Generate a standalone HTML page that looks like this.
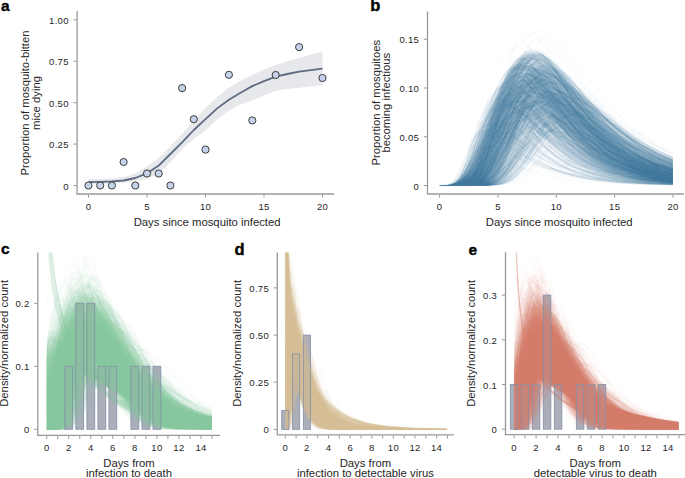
<!DOCTYPE html>
<html><head><meta charset="utf-8"><style>
html,body{margin:0;padding:0;background:#fff;}
body{width:685px;height:478px;overflow:hidden;}
svg{display:block;}
text{font-family:"Liberation Sans", sans-serif;fill:#262626;}
.tl{font-size:9.5px;letter-spacing:.3px;}
.al{font-size:11.3px;}
.pl{font-weight:bold;fill:#000;stroke:#000;stroke-width:.35px;}
.ax{fill:none;stroke:#999999;stroke-width:1.3;}
.tk{fill:none;stroke:#999999;stroke-width:1;}
.pt{fill:#c5d2ea;stroke:#2a2a2a;stroke-width:.9;}
.bu{fill:#a2a8b4;}
.bo{fill:#c8c8d2;fill-opacity:.22;stroke:#8590a6;stroke-opacity:.8;stroke-width:1;}
</style></head>
<body><svg width="685" height="478" viewBox="0 0 685 478">
<polygon points="88.5,178.9 100.2,178.9 111.9,178.5 123.6,177.2 135.3,173.4 147.0,166.4 158.7,158.2 170.4,146.6 182.1,134.1 193.8,120.9 205.5,108.0 217.2,96.9 228.9,87.7 240.6,80.8 252.3,75.0 264.0,69.5 275.7,65.0 287.4,61.2 299.1,57.9 310.8,54.6 322.5,51.3 322.5,85.4 310.8,86.6 299.1,87.7 287.4,89.1 275.7,91.1 264.0,95.2 252.3,100.5 240.6,104.3 228.9,110.4 217.2,119.2 205.5,130.5 193.8,139.1 182.1,149.0 170.4,162.3 158.7,173.9 147.0,178.9 135.3,181.0 123.6,182.8 111.9,183.5 100.2,183.7 88.5,183.8" fill="#e7e8eb"/>
<polyline points="88.5,182.2 100.2,181.9 111.9,181.4 123.6,180.5 135.3,178.0 147.0,173.4 158.7,165.6 170.4,154.0 182.1,142.4 193.8,130.0 205.5,119.2 217.2,108.4 228.9,99.7 240.6,92.7 252.3,86.1 264.0,81.1 275.7,76.6 287.4,74.0 299.1,71.7 310.8,70.2 322.5,68.7" fill="none" stroke="#5d6b80" stroke-width="1.8" stroke-linejoin="round"/>
<circle cx="88.5" cy="185.5" r="3.6" class="pt"/>
<circle cx="100.2" cy="185.5" r="3.6" class="pt"/>
<circle cx="111.9" cy="185.5" r="3.6" class="pt"/>
<circle cx="123.6" cy="162.0" r="3.6" class="pt"/>
<circle cx="135.3" cy="185.5" r="3.6" class="pt"/>
<circle cx="147.0" cy="173.5" r="3.6" class="pt"/>
<circle cx="158.7" cy="173.5" r="3.6" class="pt"/>
<circle cx="170.4" cy="185.5" r="3.6" class="pt"/>
<circle cx="182.1" cy="88.1" r="3.6" class="pt"/>
<circle cx="193.8" cy="119.2" r="3.6" class="pt"/>
<circle cx="205.5" cy="149.6" r="3.6" class="pt"/>
<circle cx="228.9" cy="74.8" r="3.6" class="pt"/>
<circle cx="252.3" cy="120.4" r="3.6" class="pt"/>
<circle cx="275.7" cy="75.0" r="3.6" class="pt"/>
<circle cx="299.1" cy="47.1" r="3.6" class="pt"/>
<circle cx="322.5" cy="78.0" r="3.6" class="pt"/>
<path d="M77.1 11V194.6M76.4 194H334.2" class="ax"/>
<path d="M73.4 185.5H77.1" class="tk"/>
<text x="68.8" y="189.5" class="tl" text-anchor="end">0</text>
<path d="M73.4 144.1H77.1" class="tk"/>
<text x="68.8" y="148.1" class="tl" text-anchor="end">0.25</text>
<path d="M73.4 102.7H77.1" class="tk"/>
<text x="68.8" y="106.7" class="tl" text-anchor="end">0.50</text>
<path d="M73.4 61.2H77.1" class="tk"/>
<text x="68.8" y="65.2" class="tl" text-anchor="end">0.75</text>
<path d="M73.4 19.8H77.1" class="tk"/>
<text x="68.8" y="23.8" class="tl" text-anchor="end">1.00</text>
<path d="M88.5 194.6v3.1" class="tk"/>
<text x="88.5" y="210.0" class="tl" text-anchor="middle">0</text>
<path d="M147.0 194.6v3.1" class="tk"/>
<text x="147.0" y="210.0" class="tl" text-anchor="middle">5</text>
<path d="M205.5 194.6v3.1" class="tk"/>
<text x="205.5" y="210.0" class="tl" text-anchor="middle">10</text>
<path d="M264.0 194.6v3.1" class="tk"/>
<text x="264.0" y="210.0" class="tl" text-anchor="middle">15</text>
<path d="M322.5 194.6v3.1" class="tk"/>
<text x="322.5" y="210.0" class="tl" text-anchor="middle">20</text>
<text x="207.1" y="226.2" class="al" text-anchor="middle">Days since mosquito infected</text>
<text transform="translate(28.8,103) rotate(-90)" class="al" text-anchor="middle">Proportion of mosquito-bitten</text>
<text transform="translate(40.2,103) rotate(-90)" class="al" text-anchor="middle">mice dying</text>
<text x="1.0" y="10.9" class="pl" font-size="15.5">a</text>
<clipPath id="kb"><rect x="438.6" y="0" width="234.39999999999998" height="195"/></clipPath>
<g clip-path="url(#kb)" fill="#336f97">
<path fill-opacity="0.050" fill-rule="evenodd" d="M494.8 185.8l-6.6 .4-48.4 0-.5-1 .5-.4 6.1 0 3.4-1 4-3.6 3-4.4 8-17 7.3-21 8-20.6 7.2-14.4 6.9-22.6 5.9-15.4 3-6 4.1-6 3.1-3.1 3.5-1.9 3.8-9.6 3-5 3.5-3.4 2.6-1.1 3.6 .5 4 2.6 4.4-.8 5.6 .6 5 2.1 5 3.4 7.6 7.1 7.5 8.6 24.6 32 13 16 8.5 9.4 13.8 13.8 8.3 7.2 7.1 4.8 15.6 8.4 13.1 6.4-.1 .6-3.6-1.6-22.4-11.6-.6 0 10.1 6.6 16.8 8.4-.2 1.6-.7 .1-17-8.8-4.6-1.9 8.6 5.3 13.6 6.7 .3 .6 .6 26-.1 2-.8 .8-52-1.3-39-2.4-16.6-2.1-11.4-1.9-11-2.5-11.6-3.5-9.4 6.9-7 3.5-7.6 2.1-12.4 1.4zM515.6 45.2l2.6-2 3.6-1 6-6.6 4.4-3 0-.8-1.4-1.2-2.6-1.1-2.4 0-2 1-2.8 2.7-2.1 3-3.9 8.6 .2 .9 .4-.5zM632.9 128.8l-12.8-12-12.4-13.6-13.5-16.4-24.2-31.6-11.2-12.5-7-6.1-6-3.5-6-1.6-5 .9-.3 .4 4.4 6 .9 .5 5 .4 2.9 1.1 4.1 2.4 5.2 4.6 4.8 5 6.5 8 22.2 30.4 7.3 9 20.6 19.6 6.8 4.7 6.6 4 1.1 .3zM528 44.8l1.8-2.4 2.5-2.2 2.9-.9 3.3-.1-4.6-6-1.1-.1-3 1.9-3.2 2.8-3.5 4-.2 .4 .3 .5 4 2.4 .8-.3zM529 45.8l3.8-3.6 3.2-2-1.2-.2-3 1.5-3.7 4.3 .9 0zM591.9 94.2l-22.9-31.4-10-12-4.2-4.2-6-4.4-5-2.1-3.6-.1-.1 .2 6.3 6 3.8 5 3 .9 3 1.5 4 3 4.2 4.2 8 9.4 14.1 18.6 4.7 5.2 .7 .2zM544.7 52.2l.9-1-1-2-4.1-7-1.7-1.6-1.6 0-3 1.4-5 4.8 1 1.3 3.6-.4 2.4 .4 3 1.5 4 3 1.5-.4zM548.8 51.2l-.2-1-3.1-4-3.7-3.7 4.1 8.3 .9 .7 2-.3zM518.6 47.2l2.3-3.4-.1-.7-2.6 .9-3.1 3.2 3.5 0zM524.8 50.2l2.1-4-.1-.4-2.6-1.9-2-.5-2.2 2.8-.5 1.6 4.7 2.7 .6-.3zM527 48.2l.8-1.5-1.3 1.5 .5 0zM509.3 65.8l8.3-16.6 .2-1.1-2.6-.1-1.6 1.2-4.2 13.6-.5 2 .4 1zM527.1 50.2l2.1-1.2-.4-1.2-.6 .1-1.8 2.3 .7 0zM513.1 60.8l3.1-3.1 7-4.8 .9-1.1-.3-.8-4.6-2.5-.8 .3-6 12 .4 .3 .3-.3zM540.1 51.2l-2.3-1.7-2.6-1-3 0-1.1 .7 4.7 .3 3.4 1.8 .9-.1zM489.4 98.2l5.8-8.1 4.9-10.3 3.3-5.6 3.3-11 3.4-9 2.5-5-.4-.2-3.4 2.6-2.8 3.2-5 8.4-4.1 9.6-4 12.4-.5 .6-3.4 11.4 0 1 .4 0zM531.4 51.2l-.6-.5-1.3 .5 1.9 0zM533.9 51.2l-1.1-.6-.8 .2 .6 .4 1.3 0zM554.5 59.8l-4.7-7.6-2.6-.1-.2 .7 2.2 3.2 5 4 .3-.2zM584.4 87.2l-12.9-17-8.6-10-6.7-5.7-5-2.3-.3 .6 5.6 9 10 11.4 17.9 14zM547 54.2l-.7-1.4-.5-.2-.9 .6 2.1 1zM504.9 72.8l1.6-2 1.5-3.6 2.1-9 1-2.4-.3-1 .8-.6-.4-.6-5.3 13.6-1.5 5 .4 .8 .1-.2zM547.8 56.2l-.8-.4 .8 .4zM557.4 64.8l-3.6-4.3-3-2.5-1-.3 7.6 7.1zM510.3 66.8l2.3-3.6 3.7-4-.1-.4-4.2 4.4-1.4 2-.3 1.6zM563.3 70.8l-3.5-4.3 .4 1.3 3.1 3zM503.1 80.2l2.1-3.9 0-.8-2 3.3-.4 1.9 .3-.5zM599.8 106.2l-12.6-15-8-7.2-9-7 1.6 2 28 27.2zM596.3 105.2l-12.1-12 4.6 5.1 7.5 6.9zM599.4 103.8l-3-3.6-1.8-1.4 3.4 4 1.4 1zM488.8 99.2l0-.4 0 .4zM614.9 117.8l-12.2-11.6 .4 1 6.1 7 3 2.3 2.7 1.3zM625.3 126.8l-5.5-4.7-7-4.5 6 5.7 6 3.6 .5-.1zM480.6 122.2l-.5 0 .1 .4 .4-.4zM480 123.8l-.2-.5 0 .8 .2-.3zM477.5 126.2l.3-1.6-.6 2.1 .3-.5zM479.4 125.2l-.2-.5 0 .9 .2-.4zM643.9 137.8l-6.7-5.1-11.7-6.9 7.7 6 10.7 6zM478.8 126.8l0-.7 0 .7zM477 127.8l-.2-.8 0 1.1 .2-.3zM636.3 135.8l-6.5-5.1-6.3-3.5 6.3 5 6.5 3.6zM478.4 127.8l-.2 .3 .2-.3zM472.8 139.2l3.2-8.4-.1-1 .6-.6-.3-.9-3.3 8.9 .2 1-.7 .6 .4 .4zM659.1 150.2l-17.3-10.6-6.6-3.4 13 8.6 10.9 5.4zM651.4 143.2l-12.2-7.1-.5 .1 5.5 3.6 7.2 3.4zM545.8 142.8l-.6-.6 .6 .6zM548 146.8l-1.6-1 .9 1 .7 0zM542.5 148.2l-.9-.4 .6 .7 .3-.3zM549.1 147.8l-.5 0 .5 0zM550.4 148.8l-.8 0 .8 0zM544.9 150.2l0-.4-1.1-.9-.5 .3 1.6 1zM556.9 153.8l-5.8-4.6-.3 .6 2 1.5 4.1 2.5zM538.4 153.2l-1.2-.7-.2 .3 .8 .6 .6-.2zM546.3 153.2l.3-.4-.4-.2-.4 .2 .5 .4zM558.5 160.2l-9.7-6.2-1-.5-.6 .3 5 3.6 6 3.1 .3-.3zM541 154.8l-1.2-.8-.7 .2 1.7 1 .2-.4zM535.4 156.8l.4-.6-1-.5-.2 .5 .8 .6zM543.4 156.8l-.2-.7-.6 .1 .8 .6zM538.5 158.2l-1.3-1.1-.8 .1 1.4 1.3 .7-.3zM547.3 158.8l-2.1-1.6-.8 0 2.9 1.6zM541.1 159.8l-.9-.9-.6 .3 .6 .9 .9-.3zM566.1 171.8l-11.3-4.9-12.1-6.7-1.2 0 .7 1.2 10 5.5 7.9 3.3 6 1.6zM550.4 161.2l-.4 0 .4 0zM567 161.2l-.5 0 .5 0zM531 162.2l.2-.6-.4-.3-.6 .5 0 .5 .8-.1zM551.4 161.8l-.6 0 .6 0zM569.5 162.8l-2.1-1 2.1 1zM534.1 163.2l-.3-.5-1.8-.5 .2 .9 1.9 .1zM552.3 162.2l-.4 0 .4 0zM536.9 164.2l-1.6-.4 .9 .7 .7-.3zM525.4 168.2l3.4-3.4 0-.6-3.4 4zM532.5 164.8l-.7-.6-1 0 1.7 .6zM463.8 164.8l-.3 0 .3 0zM528.3 169.2l3.4-3.4-.9-.8-1.4 .2-3.3 3.6 .7 .7 1.5-.3zM535.4 165.8l-1.3-.6 .7 .9 .6-.3zM566 166.2l-2.9-1 2.9 1zM463.3 166.2l-.1-.5-.3 .5 .4 0zM531.2 170.2l3-3 0-.6-1.4-.2-3.6 3.8 1 .5 1-.5zM561.5 174.2l-1.3 0-.2-.4-23.5-7.6 .3 .7 11.4 4.1 10.6 3 2.7 .2zM567.1 166.8l-.6 0 .6 0zM462.3 168.8l.5-1.9-.9 1.9 .4 0zM617.7 183.2l-4.9-.1-19.6-2.1-19-3-20.4-4.6-18-6.1-4 3.9 16.4 4.8 19 3.5 29 3 17.6 .9 3.9-.2zM461.9 169.8l-.1-.4-.4 .4 .4 .3 .1-.3zM513.4 179.8l7.4-4.3 5.9-4.7 .1-.6-2-.2-11.4 9.8zM461.4 170.8l-.2-.4-.3 .4 .3 .3 .2-.3zM513.9 181.8l4.3-1.9 5-3 5-3.9 1.4-1.2-.2-.6-1.6 0-6.6 5.6-8.2 5 .9 0zM460.9 171.8l-.4 0 .3 .3 .1-.3zM460.4 172.8l-.3 0 .3 0z"/>
<path fill-opacity="0.074" fill-rule="evenodd" d="M533.8 32.7l-.7-.5 .8 0-.1 .5zM540.2 41.4l-1.4-1.3-1 .1-.4-.4 1.8-.4 1.2 1.4-.2 .6zM522.2 42.9l-.6-.1 .6-.3 0 .4zM527.8 46.3l-.6-.6 .6-.1 0 .7zM528.8 47.2l-.6 0 0-.6 .6 0 0 .6zM512.8 50.7l.2-2.5 1.2-1.2 .3 .8-1.7 2.9zM518.8 48.3l-.6-.1 .6-.6 0 .7zM530.2 49.2l-.4-.6 .7 .2-.3 .4zM493.2 185.8l-8 .4-45.4 0-.5-1 .5-.4 6.4 0 2.4-.6 2.6-1.5 3.9-4.5 5.5-10.4 6.6-15 2.7-7.6 .6-.4 .6-2 3.7-7.6 4.7-13.4-.9-.6 .2-.4 1 0-.6-.6 3.4-6.4-.1-.6 .7-.4 0-1 1-.3 .7-2.3-.8-.4 4-8.6 .8-.4 5.9-8.6 9-17.1 .4 .2 2.7-3.5 .9-2.5 .4 1.3 1.8-1.8 3.4-5 4.8-5.4 2.7-1.6-1.1 .7-.7-.3 3.7-2.5 2-2.9 1.4 .5 1.6-1.1 2.4-.9 6.6 .9 5 3.2 .5-.2-.5-.4 .4-.5 2 .8-.2 .7 1.2 1.4 3.6 2.7 .4-.3 8.6 8.2 1.4 1 5.3 5.4 3.4 2.6 9.3 10.9 3.3 3.1 1.1 1.4-.5 .6 11 11.4 6.8 5.6-18-19 .3-.2 10.8 10.6 10.2 11 11 10-3.7-4-4.1-3.4 .4-1 4.8 4 5.6 5.7 7.1 6.3 14.5 10.6 14 8.5 11 5.5 10 4.1 .3 .7 .5 25.6-.3 2-.5 .7-32-.9-18-1-21.6-2-17.8-2.4-10.5-2 2.3-.1 .3-.3-11.7-2.5-10.6-3-9.4-3.8-5.6-2.9-1 .1-1.4-1.2-1 .3 .5 1-1.8 .4-4.8 5-2.5 2-.2-.4 1.2-1.6 4.5-4 1.2-2 1.6-1-3.7-2.1-.9 1.1 .3 .5 1 0 .4 .5-.8 .5-1-.8-.8 .3-4.1 5 .6 1-1.9 .6-5 5.4-6.8 5.3-5.6 3.1-1 .2 0 .4-12 1.6zM529.8 51.8l7.4-.6-2.4-1.2-1.6 0-5 1-1.1 .8 2.7 0zM546.8 52.3l-.7-.1 0-.4 .7 .5zM550.2 52l-.6-.2 .2-.4 .4 .6zM541.8 52.6l-.4-.4 .7 0-.3 .4zM547.8 55.5l0-.5 .3 .2-.3 .3zM548.8 56.6l-.6-.4 0-.8 .6 1.2zM518.8 57l0-.4 0 .4zM548.8 57.4l0-.4 0 .4zM556.2 62.6l0-.7 .4 .3-.4 .4zM557.8 64.5l-1.4-1.7 .4-.4 1 1.4 0 .7zM511.2 63.7l0-.7 0 .7zM509.8 66.5l.4-1.9 .6-.9 .4 .1-1.4 2.7zM558.2 64.9l0-.3 0 .3zM509.2 67.3l0-.6 0 .6zM508.2 68.3l-.3-.1 .3-.7 0 .8zM502.3 81.8l2.9-5.1 .6-2.3-3.3 5.4-.6 1.4 .4 .6zM501 82.2l-.4 0 .4 0zM501.8 83.2l.4-.6-.4 .6zM500.6 83.2l-.6 0 .6 0zM578.2 86l0-.4 0 .4zM578.8 86.5l0-.4 0 .4zM579.2 87l0-.4 0 .4zM579.8 87.5l0-.4 0 .4zM580.2 88l0-.4 0 .4zM580.8 88.6l0-.5 0 .5zM589.2 93.2l-2.5-3.4 2.6 2.4 .4 .6-.5 .4zM581.8 90.9l0-.4 0 .4zM589.8 93.6l-.5-.4 .5-.4 0 .8zM590.2 94.1l-.3-.3 .3-.3 0 .6zM590.8 94.6l-.4-.4 .4-.1 0 .5zM591.2 95l0-.4 0 .4zM594.2 97.4l0-.4 0 .4zM594.8 98l0-.6 .3 .4-.3 .2zM595.2 98.6l0-.7 .4 .3-.4 .4zM598.2 101.9l-2.5-2.7-.3-.4 .4-.4 2.5 2.8 .3 .6-.4 .1zM487.8 105.2l-.3-.4 1.8-2.6 .9-2.6-3 4.6-.2 1 .8 0zM598.8 102.4l0-.5 0 .5zM599.2 102.9l0-.3 0 .3zM491.3 103.8l-.1 .4 .1-.4zM490.8 104.8l0 .4 0-.4zM485.9 110.2l.9-2.8-.1 .8-1.1 1.6-.1 .4 .4 0zM485.4 108.2l-.2-.3-.3 .3 .3 .5 .2-.5zM484.2 110.1l-.6-.3 .6-.5 .5 .5-.5 .3zM483.8 111.6l-.6-.8 .6-.3 .4 .3-.4 .8zM604.2 110.9l0-.3 0 .3zM604.8 111.4l0-.4 0 .4zM605.2 112l0-.5 .5 .3-.5 .2zM486.4 112.2l-.2-.3 .2 .3zM484.9 115.8l.9-2.9-1.1 2.3 .2 .6zM483.8 114.2l.4-.5-.4 .5zM477.4 131.2l1.2-4 5.2-12-.6-.3-2.3 4.3-2.6 7-1.4 4.6 0 .4 .5 0zM617.2 119.8l.5 0-.5 0zM618.2 120.7l-.4-.8 .7 .3-.3 .5zM620.8 122.5l-2.5-1.7 .9-.1 2 1.5-.4 .3zM478.2 122.9l-.3-.1 .3-1 0 1.1zM621.8 123l-.8-.2 .2-.5 .6 .7zM477.8 124.1l0-1.2 0 1.2zM622.2 123.4l-.3-.2 .3 .2zM476.8 126.7l-.5-.5 .9-2.2 .4 .2-.8 2.5zM475.8 129l.4-2.7 .5 .5-.9 2.2zM475.2 130.4l0-1.3 0 1.3zM628.8 129.5l-.5-.3 .5-.1 0 .4zM633.2 132.6l-4.2-2.8 .2-.3 2 1.2 2.2 1.5-.2 .4zM474.8 131.5l0-1 0 1zM636.2 131.5l-.2-.3 .2 .3zM639.8 134.1l-3.3-2.3 .7-.1 3 2.1-.4 .3zM474.2 132.9l0-.9 0 .9zM476.9 132.8l-.1-.9-.4 .3 .5 .6zM633.8 133l-.5-.2 .5-.2 0 .4zM473.8 134.1l0-.6 0 .6zM476.3 133.8l-.3 0 .3 0zM641.2 135l-1.3-.8 .3-.4 1.3 1-.3 .2zM473.2 135.5l0-.6 0 .6zM641.8 135.4l.3-.2-.3 .2zM472.8 136.9l0-.4 0 .4zM540.9 137.2l-.5 0 .4 .4 .1-.4zM639.8 138l-.4-.2 .7 0-.3 .2zM640.8 138.6l-.6-.6 .9 .2-.3 .4zM644.8 141l-3.9-2.2 .3-.4 1.6 .8 2.3 1.6-.3 .2zM542.5 139.2l-.3-.3-.2 .3 .5 0zM543.3 140.8l.3-.6-.4-.2 .1 .8zM648.8 140.9l-.5-.1 .5 .1zM546.1 142.8l-1.9-1.6 1.1 1.6 .5 .3 .3-.3zM546.8 141.8l-.6-.6 .6 .6zM645.8 141.4l-.6-.3 .6 .3zM650.2 142l-1.2-.8 .2-.2 1.5 .8-.5 .2zM669.2 152.2l-9.1-4-9.6-6 .3-.4 9.4 5.6 9.4 4.4-.4 .4zM544.6 144.2l-.4-.8-.4 .2 .8 .6zM549.5 144.8l-1.3-1.2 1 1.3 .3-.1zM538.9 147.2l1.4-2-.5-.3-1 .7 0-1.4-1.2 2 1.2-.3-.5 .9 .6 .4zM559.8 156.8l.5-.6-1.7-1.4-11.8-9.4-1.8-.6 2.1 2.4 1.1 .5 0 .6 1 .2 2 2.1 8.6 6.2zM565 164.2l-10.2-6.9-.8-1.1-4.2-2.5-1-1.1-1.6 .5-.4-.7-2-.8-.8-.8 .2-.3 1 0 2 1.6 .5-.3-2.1-1.6-1.4-1.7-1 0-.2-1.3-1.9 0-.3 1.8 .4 .5 1.6-.6 .3 .9-.9 1.2 1 .9 1-.2 0 1.1 1-.3 .3 1.3 1.3-.2 .3 1.2 1.1 1 .6-.1 14.4 8.2 1.8 .3zM537 147.8l-.2-.3 .2 .3zM537.8 148.8l0-.7 0 .7zM553 148.2l-.2-.2 .2 .2zM572.2 161.2l-9-5.7-1.4-1.7-7.3-5.6 2.9 3 7.7 6 5.6 3.6 1.5 .4zM469.3 149.2l.5-.7-.5 .7zM536.1 149.2l-.3-.6-.6 .6 .9 0zM470.8 150.2l0-.6 0 .6zM536.9 149.8l-.4 0 .3 .4 .1-.4zM540.4 150.2l-1.2-.4 1 .8 .2-.4zM543.8 150.5l-.6-.3 .8 0-.2 .3zM533.8 152.2l.4-.7 1.5 .3 .1-.6-.6 0-.4-.8-.6 .2-.4 1.6zM470.3 151.8l-.1-.9-.2 .9 .3 0zM557.1 164.8l-13.3-8.8-5-2.7-1-1-1 .1 .4 1.2 5 2.6 0 .8-.7 .2 .3 .6 .8 0 .2-.8 1 .1 .3 .7-.6 .4 .3 .3 11.5 5.7 1.8 .6zM672.8 153.7l-3.5-1.5 .5-.3 1 .3 2 .9 0 .6zM469.8 153.2l0-.8-.3 .8 .3 0zM526.5 154.2l.7-1.5-1 1.1-.1 .4 .4 0zM548.8 153.4l-.4-.2 .4-.2 0 .4zM537.6 154.8l-.4-.8-1.2-.2 .7 1 .9 0zM455.4 180.2l2.4-2.4 3.5-6 6.1-15.6 .4-2.2-1.6 3.7-.6 .5 .3 .6-.7 .1-1.2 2.3-3.5 8.6-3 5.4 .2 .6-.7 .4 .4 .6-.6 .1-.7 .9 .1 .6-1 .8 .2 .6-.5 .4 .5 0zM469.3 154.2l-.1-.3 0 .8 .1-.5zM532.6 154.2l-.4-.4-.3 .4 .3 .5 .4-.5zM544.9 154.8l-.3 0 .3 0zM530.9 156.2l.6-1-.3 0-.4 1.3 .1-.3zM540.1 156.2l-1.3-1.2-.9 .2 1.3 1.2 .9-.2zM468.8 155.8l0-.5 0 .5zM575.9 173.8l-1.7-.3-.4-.5-4-1.2 1.2-.6-2.5 0 1.1-.4-2.4 0 1-.6-5.4-1.5-14.4-6.5 2.3 1.6-.5 .4-.9-.4-10.1-5.5-4-2.8-.9 .3 .3 1-1.7 1.4 .9 .7 .7-.7 .3-1.3 1 .2 .3 .7-1.4 1.4 .5 .6 1 .5 1.6-1.4 1 .1 1 1.7 1-.2 .4 1.1 1.6 .9 13.8 6.7 10.2 3.1 9.1 1.5zM557.8 158.2l-2.2-1.4 2.2 1.4zM551.1 157.8l-1-.6 1 .6zM561.8 157.8l-1-.8-.4 .2 1.4 .6zM523.3 159.2l.5-1.1-.7 .7 .2 .4zM536.2 158.6l-.4-.4 .4-.2 .4 .2-.4 .4zM552.7 158.8l-.9-.8-.4 .2 1.3 .6zM536.8 159.3l-.3-.5 .9 0-.6 .5zM533.1 159.8l-1.1-.6 .2 .8 .9-.2zM554.2 159.8l-1-.8-.2 .2 1.2 .6zM573.7 164.8l-9.6-5 .2 .4 6.5 3.6 2.9 1zM528.8 161.2l.2-.4-.8-.7-.7 1.1 1.3 0zM535.8 161.2l-1-.8-1.3-.2 1.3 1.2 1-.2zM539.4 161.2l-.2-.4-1 0 0 .5 1.2-.1zM519.3 165.8l1-1.6-.2-.4 1.2-1 .7-1.6-.2-.2-.6 1.2-2.5 3 .1 .7 .5-.1zM538.2 162.8l-.4-.6-1 0 .4 .6 1 0zM540.9 162.2l-.5 0 .5 0zM516.8 164.8l1.6-2-.2-.5-1.4 2.5zM523.3 163.8l.9-1.4-.9 1.4zM580.3 170.8l-11.5-4.6-1.8 0-8.6-3.4 3 2 8.2 3.4 9.6 2.6 1.1 0zM525.4 165.2l1.4-2-1.3 .6 .4 .4-1 1 .5 0zM542.2 164.8l-3-1.6 0 .6 3 1zM532.2 163.9l-.3-.1 .8 0-.5 .1zM530.2 164.3l-1-.1 .6-.3 .4 .4zM551.2 164.6l-.9-.4 .5-.4 .6 .4-.2 .4zM522.3 165.2l.5-.5-.5 .5zM536.8 165.8l-.9 0 0-.6 1.3-.4 .1 .4-.5 .6zM552.2 164.9l-.9-.1 .5-.3 .4 .4zM566 164.8l-.6 0 .6 0zM553.2 165.3l-.8-.1 .8 .1zM566.9 165.2l-.4 0 .4 0zM574.6 165.2l-.7 0 .7 0zM553.8 165.9l-.4-.1 .8 0-.4 .1zM554.8 166.4l.4-.2-.4 .2zM517.1 168.2l1.1-1.7-1 .7-.4 1.5 .3-.5zM535.8 166.8l-1 0 .4-.4 .6 .4zM556.2 166.8l-.6 0 .6 0zM568.8 166.8l0-.5 0 .5zM557.2 167.3l-.3-.1 .3 .1zM515.8 169.8l.4-.8-.4 .8zM563.8 169.3l0-.4 0 .4zM565.2 169.8l-.5 0 .5-.4 0 .4zM566.8 170.3l-.9-.1 .9-.4 0 .5zM517.8 172.8l2-2.1-2 2.1zM531.2 171.4l-1-.2 1 .2zM572.4 171.8l-.5 0 .5 0zM525.8 172.6l0-.6 .4 .2-.4 .4zM580.7 172.2l-.9 0 .9 0zM525.2 173l0-.5 .4 .3-.4 .2zM582.6 172.8l-1.1 0 1.1 0zM524.8 173.4l-.4-.2 .4-.2 0 .4zM584.5 173.2l-1.3 0 1.3 0zM524.2 173.9l-.5-.1 .5-.3 0 .4zM586.4 173.8l-1.2 0 1.2 0zM515.8 174.8l.5-.6-.5 .6zM523.2 174.4l.4-.2-.4 .2zM588.4 174.2l-1.2 0 1.2 0zM522.8 174.9l0-.3 0 .3zM571.8 176.8l-1 0 1 0zM577.5 177.2l-1.7 0 1.7 0zM456.8 177.9l0-.3 0 .3zM579.4 177.8l-.6 0 .6 0zM455.8 179.4l-.5-.2 .5-.2 0 .4z"/>
<path fill-opacity="0.091" fill-rule="evenodd" d="M513.8 48.3l0-.3 0 .3zM531.2 50.3l-.8-.1 0-.4 1.3 0-.5 .5zM491.8 185.8l-7.6 .3-44.4 .1-.4-1 .4-.4 7.1 0 2.1-.6 3.2-1.8 .6 .4 2.4-1.8 3.2-3.8 3.1-5.4 2.3-5.6 .5 0-.2-1 1.8-4 2.6-9 2.1-5-.4-.4-.4 .5-.1-.5 1.2-.6-.4-1 .7-.4-.3-.6 1.7-4 2.1-4.4 1.5-1.7 1.5-2.9 5.9-15.4 .5-.6-.1-.4 .7-1-1.1-.6 .6-1 .6 .9 .2-.3-.2-.6 2-3.4 .4 .9-.4-.9 .4-1.1 .5 .1 .1 .9 .2-.5-.2-.4 .6-.6 1.4-4.2-1 1.9-.3-.7 1.3-2.3 .4 .5 0-1.2 1.7-2.4-.5-1.6 1.3-1.4 .9-2.6 4.2-7.1 1 .3 2-2.4 1 0 4.7-10.2-.3-.4-1.1 1.4-3.3 6-.6 0-1 1.2 2.5-5.2 1.1-1-.2-.6 3.6-4.6 3-2.7 4.7-6.7 2.3-2.2 4.5-3.2 2.1-2.9 1.1-.7-.1-.7 1.5 .3 .2 .4-2.4 1.6 1.1 .2 1.1-1.2 1.9-.7 4-.6 3.6 .1 3 1.2 .6 0-.2-.9 8.6 5.9 2 .9 17.7 16.5 21.6 24.6 7.7 7.2 6.9 4.8 8.4 8 2.1 1.5 .6-.7 9 7.9 18.4 13 15 8.5 15 6.6 .8 .6 .5 23-.2 4-.5 1.1-31-.9-30-2-20-2.4-21.6-4.6-17.4-5.9-9.7-4.7 .1-.4 1.6 .3 13 5.1 8.4 2.6 10 2.1 3.6 .5 1.3-.2-17.9-6.8-11.4-6.8-8-5.5-2-.9-1-1.4-1-.2 .4-.5-1 .5-.3-.4 .7-1-1.4-1.1-2.5 3.1 .1 1.4-1.6 .4-1.8 3.2-.7 .4-.4 1.6-1.5 .7-.8-1.7 .2-.6-1.5 1-.5 1.6-1.9 1.4-3.1 4 0 .4 2 .4 .1 .8-1.8 .4-.4 1-4.6 5.6-2.3 2-5.4 3.7-5.6 2.5-4 1-8.4 .8zM538.8 51.9l-.4-.1 .8 0-.4 .1zM534.7 52.8l-1.3 0 1.3 0zM543.2 53.8l0-.6 0 .6zM531.4 53.8l-1.3 0 1.3 0zM515.8 64.2l.4-.5-.4 .5zM528.8 64.2l-.4 0 .4 0zM555.5 66.8l-1.3-1.6 1.3 1.6zM499.8 82.9l0-.3 0 .3zM501.2 83.4l0-.6 .6-.1-.6 .7zM571.8 83.2l-.6-.4 .6 .4zM499.2 83.8l0-.3 0 .3zM573.8 85.8l-1.6-1.6 1.6 1.6zM498.2 85.8l0-.6 0 .6zM499.8 86.8l1-1.3-.9 .3-.1 1zM581.3 93.8l-2.8-3.6-3.7-3.3 .3 .9 6.2 6zM498.8 90.2l0-.6 0 .6zM495.9 92.8l.7-.6 .2-1.1-1.2 1.7 .2 .4 .1-.4zM495.3 93.8l-.1-.5 .1 .5zM493.4 98.8l.8-2.8-1 1.8-.2 1 .4 0zM589.2 97.3l0-.4 0 .4zM589.8 97.8l0-.3 0 .3zM491.2 98.5l-.3-.3 .3-.2 0 .5zM489.2 99.8l.4 0-.4 0zM489.3 107.8l1.5-1.9 2-5.8-3.5 7.7zM487.8 102.6l-.4-.4 .4-.6 .3 .2-.3 .8zM486.8 104.7l-.3-.5 .7-1.8 .2 .8-.6 1.5zM486.2 105.6l0-.6 0 .6zM488.2 106l0-1.1 0 1.1zM487.8 107.7l0-1.6 0 1.6zM485.8 109.3l-.4-.1 .4-1 0 1.1zM485.2 110.3l0-.9 0 .9zM488.4 110.2l-.2-.5 .2 .5zM483.4 120.2l0-1 .6-.4 3-7.6-.2-.7-2.5 4.7-1.2 4 0 1 .3 0zM484.8 112.1l0-1.1 0 1.1zM487.9 111.2l-.3 0 .3 0zM608.8 115.2l-1.6-1.6 1.9 1.2-.3 .4zM482.8 114.8l0-.6 0 .6zM481.8 116.8l-.1-1 .5-.8-.4 1.8zM609.2 115.6l-.4-.4 .4-.3 .4 .3-.4 .4zM609.8 116.1l-.4-.3 .4-.4 .4 .4-.4 .3zM610.2 116.5l0-.6 .5 .3-.5 .3zM610.8 116.9l0-.5 0 .5zM481.2 117.9l0-.9 0 .9zM611.2 117.4l0-.3 0 .3zM480.8 118.8l0-.6 0 .6zM612.8 119l0-.3 0 .3zM613.2 119.6l0-.4 0 .4zM613.8 120.2l-.4-.4 .5 0-.1 .4zM614.2 120.7l-.4-.5 .6 0-.2 .5zM483 121.2l-.4 0 .2 .5 .2-.5zM480.1 128.8l1.7-3.6 .4-2.3 0 .9-.7 .4-2.1 4.6 .4 .4 .3-.4zM620.6 127.2l-4.4-3.9-.1 .5 1.7 1.5 2.8 1.9zM529.9 124.8l-.1-.4-.5 .4 .5 .4 .1-.4zM544.9 129.2l-.1 .5 .1-.5zM536.9 135.8l.9-1.8-1.1 1.2-.2 .6 .4 0zM538.9 135.2l-.1-.5-.2 .5 .3 0zM477 136.2l-.2-.4-.2 .4 .4 0zM476.3 137.8l-.1-.9 .1 .9zM523.4 137.2l-.2 .4 .2-.4zM541.3 137.8l-.5-.9-.7 .3 .1 .7 1.1-.1zM477.3 137.8l-.1-.4 .1 .4zM520.9 137.8l-.5 0 .4 .3 .1-.3zM530.8 138.2l0-.5-.6 .5 .6 0zM541.9 139.8l1.4-1.6-1.1 .6-.3 1zM476 138.8l-.2-.5-.5 .5 .7 0zM520.3 138.8l-.1-.5 .1 .5zM474.2 141.8l.4-1.6-.4-.5 0 1.1-.7 .4 .3 1 .4-.4zM596.1 172.2l-12.9-4.5-1.4 .2-15.9-7.7-20.5-16-.6-1.3 3.4 2.5 1.6 .2 .1 .6 4.3 3.6 4 2.4 9 6.7 5 2.9 1.6 .7 .4-.3-7.6-5-12.8-10.5-1.6 .4 .4-.9-.4-.4-.8 .4-.2-.6 .6-.4-.3-.4-1.3 .3 .2-1.3-.6-.6-2-.1-.3-1.3-1.1-1-1.2-.6 .3 1-.7 .2-.9-.6-.1-1-.6 0-1.4 2 .4 .7 .7-1.3 .9-.2 .9 1.8-1.4 .4 .1 .6 2.9 3 11.4 9.4 7.1 4.6 9 4.7 7 2.8 2.4 .5 .6 .5 .3-.1-.8-.4 .9-.1 1.6 .9 6.5 2.2 2.9 .7 .9-.3zM475.4 140.2l-.2-.4-.4 .4 .6 0zM533.8 140.8l-.3-.6 .3 .6zM473.7 143.2l-.5-.9-.2 .9 .2 .5 .5-.5zM536.9 142.8l-.3 0 .3 0zM547.8 143.9l-.6 0-.6-1.1 .6 0 .6 1.1zM642.1 143.2l-1-.4 1 .4zM538.1 148.8l.1-.6-.7-.4-.3-.9 .6-.2 1 .8 1.7-2.3-.3-.7-1-.7-1 0 .3 .4-2.2 3.6 1.5 1.1 .3-.1zM541.3 143.8l-.8 0 .3 .4 .5-.4zM643.7 144.2l-1.1-.4 1.1 .4zM471.8 147.2l1.3-2.4-.3-1-1.1 2.4 .1 1zM652.7 149.2l-8.6-4.4 7.8 4.4 .8 0zM542.9 145.2l-.6 0 .5 .4 .1-.4zM470.2 145.9l0-.4 0 .4zM531.5 146.2l.2-.4-.5-.2-.3 .6 .6 0zM594.8 175.8l-14.8-4 2.2 .3 1.1-.3-15.2-6.6-11.3-8-3.6-2-1-1.4-2.4-2.1-1.6 .2 0-1.5-1 .5-.3-.7 .2-.4-1.3 0 .1-1.6-1.1-1 0 .8-1-.1-.6-.9-2-1.1-1 1.3 0 1.6-1.3 1 .9 1.1 1 .3 .3 1 1.1 1 5 3.6 3.6 1.4 4 2.6 .4 1 .6-.2 1.1 1.2 5.3 2.6 17 6.9 11.6 3 4 .5zM544 146.2l-.6 0 .4 .5 .2-.5zM529.9 148.2l.3-1.2-1.4 1.2 .4 .5 .7-.5zM473.3 148.2l-.1-.6 .1 .6zM525.8 148.8l.4-1.1-1 .5 .6 .6zM469.2 148.8l0-.7 0 .7zM467.9 158.8l3.5-9.6-.2-1.2-2.6 6.8-1.1 3.4 .4 .6zM545.2 148.5l0-.5 0 .5zM531 158.8l.2-1 1.4-1.6-.8-.4 .2-.6 .8-.3 .4 .6 .4-.3-.6-1.4 .8-1 1 .1 2.4-3.1-1.4-1.3-5.7 8.3 1.1 1-1.7 0 .3 .8 1.2 .2zM563 149.8l-1.4-1 1.4 1zM470.6 155.8l1.3-4.6 1-1.4-.1-.8-2.1 4.8 0 1-.5 .4 0 1 .4-.4zM468.8 150.1l0-.6 0 .6zM528.3 150.2l.2-.4-.7-.5-.6 1 1.1-.1zM653.6 149.8l-.7 0 .7 0zM535.8 150.9l-.6-.7 .6-.3 .6 .3-.6 .7zM541.2 151.1l0-.9 0 .9zM564.4 150.8l-.8-.6 .8 .6zM654.6 150.2l-.7 0 .7 0zM655.6 150.8l-.7 0 .7 0zM468.2 151.5l0-.5 0 .5zM525.3 153.2l1.5-2.1-1 .7-.5 1.4zM656.6 151.2l-.6 0 .6 0zM546.2 151.8l-.5 0 .5 0zM657.6 151.8l-.6 0 .6 0zM525.3 156.2l.6-1.4 .9-.6 .9-1.4 .1-.7-3 3.2 0 .9 .5 0zM534.8 152.3l.3-.1-.3 .1zM658.6 152.2l-.5 0 .5 0zM467.8 153.3l0-.9 0 .9zM544.8 154.1l-1.9-1.3 .9-.3 1 .8 0 .8zM659.6 152.8l-.4 0 .4 0zM467.2 154.7l0-1.2 0 1.2zM538.2 154.8l0-.6 0 .6zM546.2 155.1l-1.1-.9 1 0 .4 .6-.3 .3zM466.8 154.9l.4-.1-.4 .1zM543.2 159.8l-4-1.9-2.6-1.7-.8-1 1.4 0 4.6 3.2 1 0 .9 1.4-.5 0zM466.8 155.8l-.6 0 .6 0zM509.3 160.8l2.9-5.1-2.9 5.1zM531.8 156.4l0-.4 0 .4zM469.9 157.2l.3-.4-.4-.4 0 1.2 .1-.4zM523.7 159.2l.8-2-.1-.4-1.2-.2-1.3 2.2 .9 .6 .9-.2zM465.2 158l0-.6 0 .6zM469.3 158.8l.4-.6-.5-.2 0 1.1 .1-.3zM464.8 159.3l0-.9 0 .9zM533.8 159.8l-.2-.6 .6 0-.4 .6zM463.2 162.8l0-1 1-2.3 .1 1.3-1.1 2zM467.3 160.2l-.1-.9 .1 .9zM468.8 160.2l0-.7 0 .7zM526.1 160.2l.5-.4-.4-.4-.7 .8 .3 .4 .3-.4zM538.2 160.3l0-.7 0 .7zM520.1 160.2l-.5 0 .5 0zM544.2 160.3l-.4-.3 .4 .3zM513.8 171.8l2-1.5 3.7-4.5 2.7-4.2 0-1.3-1.5 .5 .4 .4-3 5-4.3 5.6zM550.2 169.6l-7.4-2.8-8-3.8-.6-.7-2.4-1.2 1-.7 1 1.2 2 .3 1 1 6 3.1 7.9 3.2-.5 .4zM537.2 161.6l-.4 0-.7-.8 1.1-.2 .4 .6-.4 .4zM467.8 162.2l.4-1.1-.4 1.1zM507.8 176.2l4.6-4.4 3.5-5 .5-1.6 3.2-4-.4-.4-3.9 5.4-1.9 3.6-5.6 6.4zM521.6 166.8l3.6-5.7-1.5 1.7-2.7 4 .6 0zM548.2 161.4l-.5-.2 .5 .2zM528.2 163.8l-.4 .3-.6-.9 1-1.4 1-.4 .2 1.4-1.2 1zM536.2 162l0-.5 0 .5zM549.2 161.9l-.6-.1 .6 .1zM513.9 162.8l.3-.8-.4 1.1 .1-.3zM539.8 162.8l-.9 0-.3-.6 1.2 0 0 .6zM550.2 162.5l-.7-.3 .3-.3 .8 .3-.4 .3zM551.2 163l-.7-.2 .3-.4 .8 .4-.4 .2zM574.8 162.8l-.4 0 .4 0zM462.8 163.8l0-.6 0 .6zM552.2 163.5l-.7-.3 .3-.3 .8 .3-.4 .3zM467.4 163.8l-.2 .2 .2-.2zM555.2 164.9l-2.7-1.1 .3-.4 1 .3 1.9 1.1-.5 .1zM527.2 164.6l0-.6 0 .6zM534.2 164.4l-.4 .3-.4-.5 .8-.2 0 .4zM542.8 164.4l-.6-.2 .9 0-.3 .2zM526.8 165.3l0-.6 0 .6zM556.2 165.3l-.5-.1 .1-.3 .7 .3-.3 .1zM526.2 165.9l0-.4 0 .4zM557.2 165.8l-.4 0 .4 0zM525.8 166.5l0-.4 0 .4zM525.2 166.9l0-.3 0 .3zM516.3 172.2l3.5-3.2 .6-1.2-4.1 4.4zM465.4 168.2l-.2 .4 .2-.4zM512.8 177.2l5-4 4.4-4.4-.3-.6-9.1 9zM583.2 168.6l-.8-.4 .8 0 0 .4zM551.8 170.1l-1.2-.3 1.2-.1 0 .4zM528.2 170.3l-.5-.1 .5 .1zM553.2 170.8l-.3 0 .3 0zM554.8 171.3l-.4-.1 .7 0-.3 .1zM579.2 171.3l-.8-.1 .8 .1zM597.5 172.8l-1.2 0 1.2 0zM598.9 173.2l-.5 0 .5 0zM576.1 175.2l-.4 0 .4 0zM578.7 175.8l-.8 0 .8 0zM596.1 176.2l-.7 0 .7 0zM452.8 182.5l0-.5 0 .5z"/>
<path fill-opacity="0.125" fill-rule="evenodd" d="M534.2 52.3l-2 .3-.4-.4 1-.4 1.4 .5zM530.2 53.3l-1-.1 1-.7 1.6-.2 .3 .5-1.9 .5zM490.8 185.8l-51 .3-.4-.9 .4-.3 6.4 0 3.4-.7 4.2-1.5 2.3-1.9 3.2-4 2.5-5.3 .2 .7 .4 0 .9-2-.2-1 .7-.4-.2-.6 1.5-3 0-1 .7-1.3 .6 .3 1.8-4.8 .5 .4-.2 1-5 12 .3 .4 3.4-7 2.5-6.4 .7-.6-.2-.4 1.1-2 0-1 1.5-3.6-.1-1 .5-.3 .1-1.1 .5-.3 .5-2.3 .5-.4 0-.9-1.7 1.9-2.3 6.4-.5-.4 1.8-5.6 1-2 .7-.3 0-.8 1 .4 .4-.4 3.1-8.9-.1-1.4-1 .7-1.4 2.4-.6 .1-2 4-.2-.8 1.2-3 3.6-5.3 .4-.1 .3 .4-.3 1.1 1-1.5-.1-.6 3.4-7 1-3.4 .7-.6 0-1.3 .5 .3-.4 1 .6 0 .6-1.4-.3-.5-.4 .9-.4-1 .8-1.9 .6 1.8 .9-2.3-.5-.5-.7 .9 .3-1.3 .4-.9 .6 1.2 .4-.4-.6-1 1.8-2.6 4.3-9 .5 0 .2-1 .8-.2 1-1.5 0-.5-.4 .7-.6-.7 .5 .8-.5 .5-.8-.1-.2 .9 0-1.3 .6-1.2 2.4-1.7 .8-1.7-.2-.6-1.6 .9 0-.7 1-1 1 .1-.7-.7 .2-.4 .5 .3 .6-.4 1.4-3 0-.8-1 1-1 .2-2.1 2.7-2.5 6-.1 1-3.3 6.8-.1-.8 1.6-3.6-.2-.4 2-4 1.4-4.6 2.3-3.7 3.6-1.8 1.5-2.5 6.4-12.4-1-.6 .3-.4 .2-.4 .6 .4-.4-.6 2.8-3 4.9-7 1.7-1.5 4.7-2.5-.4-.4 .7-.3 1.4-2.1 .7 .4-.4 .4 .3 .2 2.4-1.5 .6 .6 2-.8 1 .6 2-.3 1.4-.9 3 1.3 2.6 .4 0-.6-1.2-.4-2.3-.6 .9-.8 4.6 1.2 2 1 7 4.7 .4 .5-.4 .5 .4-.5 .6 .3 5.7 5.1 2 2-.3 .5-5.7-3.9 .7 1.4 1.6 1.6 9.4 6 2.4 2.4-.4 .2-2-1.7 1.6 2.2 3 1.9 .4-.2 1 1 17.5 20.2 7.5 7.5 5.7 4.5 .8 1-.5 .1-1.5-1.1 3 3.4 4.1 3.5 4 1.5 2 1.6 0 .4-.6 .1-3-1.7-.4 .2 5.4 4 .6-.4 12.4 9.9 16.6 11.6 14 7.5 15 6.1 .2 1.3 .4 20.4-.2 4-.4 1-47-1.9-18.9-1.5-11.5-1.6-26.2-5.4-13-4.4-6.3-2.6 .9-.2 24.4 7.8 14 2.7 5 .6 1.2-.5-8.6-1.8-1.7-.6 1.1-.6-.4-.1-16.2-4.9-14.7-7.4 .3-.3 14.2 6.3 1.3 1 4.5 1.6 12 3.4 3.6 1.4 9 1.6 5.4 .4-16.5-4.4-1.4-.6 .9-.3 3 .5 .6 .5 1.3-.1-5.8-1.6-.5 .6-.6-.8-6-1.8-11-5-15-9.9-5.3-4.5-5.6-5.6 .5-.4 .4 .3 12.6 10.8 6 4.2 6.5 3.7-.1 .4 1.1 0-.2 .6 1.1 .5 15 5.1 10 2.7 6 1.1-17-6.1-8-4.2-1-.7 .1-.4-7.1-4.1-9.4-7.3-7.9-7.2-.7 0-.4-1.1-.9-.3 .3-.6-.4 .5-1.6-.3-.2-1.2 .8-.5-1-.6 .4 .7-.4 .2-3-1.6-1.6-1.5-2 1.9 0 1 1 0-1 1.6-1-.4-1 1.1-1.4 .4-.8 .7-1.3 2-.1 .6 .6 .4-.4 1-1.8-.4 .8 1.7-1.4 .7-.4 1.6-2.9 4-1.5 3.4-1.4 1-.4-1.8-2.6 1.3-.2-.5 1.1-2.4 4-6 0-1.6 1.1-.4 2-2.9 .6 1.3 .2-.4 .1-.6-1.3-1.5-1.3 .5-.1 1-2.2 2.5-1 .4-.4 1.6-.6 .1-1.3 2-.1 .9 .6 .5-1.2 .4-.3 1.2-2.1 2 0 .5-.6-.1 .5 1-.9 .7-1.2-.1-7.6 11-6.3 7 3.1-1.9 3.4-3.6 0 2.3 9.4-11.4 1.7-3.4 1.5 .1 .5 .9-1.7 1.4-3.2 5-8.3 9 .3 .6-4.4 4 3.2-1.6 3.6-2.7 .2 .7-1 1-5.3 3.6-4.9 2-4 1.1-9 .9zM526.8 53.9l-.2-.7 .6 0-.4 .7zM523.9 57.2l.8-.4-.9-.1-.7 .5 .1 .5 .7-.5zM535.1 60.8l-.3-.7-1.3 .1 1.6 .6zM533.6 62.2l-.8-1.2-1.1 .2 .6 1 1.3 0zM515.4 64.8l2.4-3.1-1 .4-1.8 2.1-.1 .6 .5 0zM539.9 61.8l-.3 0 .3 0zM532.3 63.2l-.5-.7-2-.1 0 .4 2.5 .4zM541.4 62.8l-.8 0 .8 0zM542.9 62.8l-1 0 1 0zM544.8 64.2l-1.2-.4 .4 .4 .8 0zM527.9 65.2l1.4-1-1.1-.1-.3 1.1zM537.4 67.8l-.8 0 .8 0zM560.8 69.8l-2.5-2 .9-.1 1.6 1.5 0 .6zM525.2 71.2l-.6 0 .6 0zM561.8 73.2l-.6-.4 .6 .4zM567.2 75.9l-.4 0 0-.4 .4 .4zM567.8 76.5l-.4-.3 .4 .3zM503.2 77.4l0-.7 0 .7zM568.2 77l-.2-.2 .2 .2zM568.8 77.7l-.4-.5 .4-.1 0 .6zM502.8 78.4l0-.7 0 .7zM571.5 81.2l-2.3-2-1.1-.4 .7 1 2.7 1.4zM583.9 96.2l-10.1-11.4-3.6-3.3-.2 .3 1.1 1.4 3.8 4.6 7.5 7.4 1.5 1zM497.2 92.4l0-.6 0 .6zM492.8 101.5l0-.4 .3 .1-.3 .3zM488.8 107.7l0-1 0 1zM488.2 109.3l-.4-.1 .4-.8 0 .9zM487.8 110.2l0-.9 0 .9zM486.2 110.9l0-.7 0 .7zM602.2 112.5l-.4-.6 .4 .6zM602.8 112.9l-.4-.1 .4 .1zM603.2 113.4l0-.3 0 .3zM603.8 113.9l0-.3 0 .3zM604.8 120.2l-3.2-2.4 3.2 2.4zM482.2 120.9l0-.5 0 .5zM526.3 121.8l-.1-.6 .1 .6zM482.2 122l-.4-.2 .4-.3 0 .5zM612.8 121.8l0-.4 0 .4zM481.2 124.2l-.2-.4 .8-2 0 1.4-.6 1zM614.2 123.4l0-.4 .4 .2-.4 .2zM480.8 125.1l-.4-.3 .4-.7 .3 .1-.3 .9zM529.9 125.2l.3-.4-.4-.7-.7 .7 .1 .8 .7-.4zM613 127.8l-4.8-3.6 4 3.6 .6 .3 .2-.3zM540.8 125.8l-.1-.6-.9 0 .4 .9 .6-.3zM480.2 126.1l0-.7 0 .7zM525 125.8l-.5 0 .3 .4 .2-.4zM530.8 126.2l0-.5 0 .5zM479.8 126.9l0-.4 0 .4zM523.6 128.2l.6-1.7-1 1.3-.1 .4 .5 0zM527.4 128.8l.8-1-.4-.6-.8 1 .4 .6zM537.2 128.8l-.5 0 .5 0zM529.5 129.8l-.3-.8-.6 .8 .2 .3 .7-.3zM546.4 130.8l-1.6-2-.6 .4 .1 .6 1.5 1.1 .4 .2 .2-.3zM623.8 129.5l-.3-.3 .3 .3zM547.3 130.2l-.1-.5 .1 .5zM562.5 131.2l-1.7-1.5 1.7 1.5zM624.2 130l0-.4 .4 .2-.4 .2zM628.2 132.5l-3.6-2.3 .6-.1 1.1 .7 2.2 1.4-.3 .3zM478.8 131l-.3-.2 .3 .2zM526.8 131.2l.4-.4-.4-.4-.7 .8 .1 .4 .6-.4zM534.2 131.8l1-.3 .2-.7-1.3 0-.5 1 .2 .3 .4-.3zM478.2 131.7l0-.6 0 .6zM536.3 132.2l-.5-.4-.7 .4 .7 .5 .5-.5zM628.8 132.9l0-.4 .4 .3-.4 .1zM526.1 134.2l-.9-1.1-.6 .7 .2 .6 1 .3 .3-.5zM528.5 134.2l.3-1-.8 1 .5 0zM537 135.8l1-1.6-.8-1.1-.5 .7 .2 1-.7 1 .8 0zM548.3 133.8l-.1-.6 .1 .6zM550.5 133.2l-.4 0 .1 .4 .3-.4zM629.8 133.4l-.4-.2 .4 .2zM530.3 135.8l.7-1.6-.2-.6-1.3 1.6 .3 .8 .5-.2zM538.7 135.8l.5-1-.4-.2-.6 1.5 .5-.3zM547.3 134.8l-.7 0 .7 0zM553.3 136.8l.6-.6-.3-.4-2.4-1.4-.3 .4 2.4 2zM627.8 135.2l-.6-.4 .6 .4zM523.7 137.8l.3-.6-.2-1 .9-.4-.5-.8-1.6 2.2 .6 .9 .5-.3zM533.6 135.2l-.5 0 .5 0zM566.9 135.8l-1.1-.6 1.1 .6zM521.5 136.8l.3-1.5-.8 1.5 .5 0zM527.5 136.2l-.3-.7-.1 .7 .4 0zM479.4 136.8l-.2-.6 .2 .6zM529.8 139.2l1.3-1 1.1-2.1-1 .2-1.4 2.9zM553.2 136.6l0-.5 0 .5zM535.8 137.2l-.2-.4-.8-.1 .4 .9 .6-.4zM538 136.8l-.2-.3 0 .5 .2-.2zM540.2 138.8l1-.7 .5-1.3-1.5 0-1 1.2 .3 .8 .7 0zM552.4 137.8l-1.2-1.3-.2 .3 1.4 1zM634.2 137l-.2-.2 .2 .2zM529.3 137.8l-.5-.8 0 .8 .5 0zM559.9 142.2l-4.7-4.8-.4-.2-.7 .6 .7-.4 5.1 4.8zM634.8 137.4l-.3-.2 .6 0-.3 .2zM520.6 138.8l.4-1-.2-.5-.6 .2-.5 1.3 .5 .4 .4-.4zM635.8 138.2l-.6-.7 .7 .3-.1 .4zM478.9 138.2l-.1-.3 0 .7 .1-.4zM534.1 138.2l-.5 0 .5 0zM537 138.8l-.2-.8-.7 .8 .9 0zM636.2 138.5l-.4-.3 .8 0-.4 .3zM522.5 140.2l.5-1-.2-.5-.9 .5 .6 1zM526 139.2l-.2-.7-.3 .7 .5 0zM543.2 139.3l0-.6 .5 .5-.5 .1zM637.8 139.6l-1.3-.8 .3-.4 1.3 .8-.3 .4zM534.3 144.2l2.3-3.4-1.8-1.7 1 2-1 .1-.6-1.3-1 0-2.3 2.9 1.9-.2-.4-1.4 .4-.2 .4 .6 1.5-.4-.5 1 .5 1-1.2 1 .8 0zM475.8 140.1l0-.4 0 .4zM478.3 140.2l-.1-.8 .1 .8zM519.8 139.8l0-.4 0 .4zM639.2 140.6l-1.3-.8 .9-.2 .9 .6-.5 .4zM526.4 142.8l1.3-2.6-.5 0-1.2 2 .4 .6zM542.2 140.7l0-.6 0 .6zM544.8 140.4l-.4-.2 .4-.1 0 .3zM475.8 141l0-.7 0 .7zM659.8 152.2l-11.6-5.8-8.8-5.6 .4-.5 .4 .3 10 6 9.6 4.9 .4 .3-.4 .4zM475.2 142.5l0-1.5 .4 .2-.4 1.3zM477.4 142.8l.4-2-.4 2zM472.8 142.3l0-.8 .4 .3-.4 .5zM536.2 143.8l1.6-2.2-2.2 2.2 .2 .3 .4-.3zM543.8 142.4l-.9-.2 .3-.6 .6 .8zM474.8 143.6l-.4-.8 .4-.3 .3 .3-.3 .8zM518.5 143.2l-.3-.9-.9 .5 1.2 .4zM542.8 144.6l-1 .1-.3-.5 .1-1 .6-.5 .8 1.1-.2 .8zM520.8 143.2l0 .4 0-.4zM530.2 144.8l.6-1-.6-.4-1.1 .8 .7 1 .4-.4zM477 144.2l-.2-.4 0 .9 .2-.5zM520.4 144.8l-.2-1-.4 .6 .6 .4zM541.8 145.5l-1-.3 0-.4 .4-.4 .6 1.1zM543.2 145.1l-.3-.3 .3-.3 .5 .3-.5 .3zM476 146.8l-.2-.6 .6-.4-.2-.9-.4 2.3 .2-.4zM516.4 145.2l-.2 .4 .2-.4zM527 146.8l.8-1.6-1.3 1-.1 .6 .4 .3 .2-.3zM536.8 146.8l-.6 .4-.4-1 1-.6 0 1.2zM557.3 146.8l-1.1-1 1.1 1zM519 146.2l-.2 .3 .2-.3zM549.2 146.8l-.5-.6 .5 0 0 .6zM574.9 157.2l-16.3-11 1.8 2 5.4 4.1 9.1 4.9zM526 148.8l.5-1-.7-.6-.8 1 .8 .8 .2-.2zM552.2 149.1l-2.4-1.9 1 0 1.7 1.6-.3 .3zM566.6 148.2l-1.8-1.3 1.8 1.3zM475.5 148.2l-.3-.5 0 .8 .3-.3zM539.2 148.9l-.7-.1 .2-1 1 .4-.5 .7zM470.8 148.5l0-.5 0 .5zM531.4 149.2l.4-.6-.8 .6 .4 0zM567.8 149.2l-1-.4 1 .4zM469.8 151l-.1-1.2 .5-.9-.4 2.1zM474.8 149.8l0-.6 0 .6zM512.7 149.8l-.5-.6-.3 .6 .8 0zM534.8 154.9l-.6 .3-.1-1 2.1-2.4 1.2-2.6 .8-.2 .4 1.2-2.3 2-1.5 2.7zM552.8 149.5l-.4-.3 .4-.2 .3 .2-.3 .3zM532.9 149.8l-.5 0 .5 0zM554.8 151.2l-1.8-1.4 .2-.4 1.8 1.4-.2 .4zM522.6 154.2l1.4-2 .8-2.3-2.6 3.9 0 .7 .4-.3zM514.4 150.8l-.2 .3 .2-.3zM469.2 152l0-1 0 1zM510.8 152.2l.4-1.1-.4 1.1zM528.2 151.5l-.4 .2-.7-.5 .7-.4 .4 .7zM555.2 151.5l-.4-.3 .4-.2 .4 .2-.4 .3zM528.1 157.2l-.1-1 1.3-1 1.9-3.7-2.2 2.3-1.8 2.6 0 1.1 .9-.3zM557.2 152.9l-1.7-1.1 .3-.4 1.4 1.5zM511.9 152.2l-.4 0 .4 0zM660.8 152.7l-1-.5 1-.2 .4 .2-.4 .5zM672.8 158l-12-5.2 1-.4 10.2 4.4 .8 .3 0 .9zM468.8 153.5l0-.3 0 .3zM468.8 158.7l-.4-.9 1.8-5 .5 .4-1.9 5.5zM513.4 153.2l-.2 .4 .2-.4zM547.8 158l-5-3.1-.8-1.1 .8-.1 2.4 1.8 2.9 2.3-.3 .2zM580.1 162.8l-15-9 9.7 6.5 4.4 2.5 .9 0zM468.2 155.4l0-.8 0 .8zM509.3 157.2l1-1.4-.1-.8-.9 2.2zM509.7 160.8l2.2-3.6 .9-2.1-.6 0-1.1 1.7-2 4 .1 .3 .5-.3zM533.8 156.2l0-.5 0 .5zM561.8 155.9l-.3-.1 .3 .1zM467.8 157l0-1 0 1zM533.2 156.7l0-.8 .5 .3-.5 .5zM562.2 156.4l.3-.2-.3 .2zM520.8 156.8l0 .2 0-.2zM532.8 157.3l0-.3 0 .3zM563.8 157.4l.3-.2-.3 .2zM467.2 158.5l0-1 0 1zM531.8 158.8l-.3-.6 .7-.6-.4 1.2zM540.2 157.8l-.5 0 .5 0zM564.8 157.9l-.4-.1 .4 .1zM549.2 159l-1.2-.8 .2-.3 1 1.1zM565.2 158.3l.4-.1-.4 .1zM566.2 158.8l-.4-.2 .4 .2zM466.8 159.9l0-1 0 1zM512.4 165.2l2.4-3 1.4-3.4-3.7 5.4-.4 1 .3 0zM531.2 159.7l-.4-.5 .4-.2 0 .7zM549.8 159.4l.3-.2-.3 .2zM521.8 159.9l0-.4 .4 .3-.4 .1zM525.2 159.9l0-.3 0 .3zM530.2 160.8l-.3-.6 .9-.9 .4 .5-1 1zM575.8 164.6l-8.3-3.8-.9-.6 .2-.3 .4-.5 8.6 4.7 0 .5zM524.8 163.7l-.5-.5 1.5-2.2 1-1 .4 .2-.4 1.4-2 2.1zM466.2 161.3l0-.8 0 .8zM506.9 162.2l.3-1-.4 1.5 .1-.5zM553.8 161.9l-.4-.1 .4 .1zM465.8 162.6l0-.5 .4 .1-.4 .4zM528.8 162.7l0-.6 0 .6zM554.8 162.4l-.8-.2 .8 .2zM519.2 163l0-.5 0 .5zM535.8 162.9l-.8-.1 .8-.3 0 .4zM506.4 163.2l-.2-.3 0 .7 .2-.4zM518.8 164.1l0-.9 .3 .6-.3 .3zM523.8 164.9l-.5-.1 .9-1.5 .5 .5-.9 1.1zM537.8 163.9l.3-.1-.3 .1zM518.2 164.9l-.3-.1 .3-.9 .4 .3-.4 .7zM576.8 164.9l-.7-.1 .7-.2 0 .3zM516.8 167.1l-.5-.3 .4-1 1.1-1 .3 .4-.3 1-1 .9zM523.2 165.4l0-.6 0 .6zM522.8 166l0-.4 0 .4zM515.2 169.1l-.3-.3 1.3-2 .4 .4-1.4 1.9zM521.8 167.5l-.4-.3 .4-.1 0 .4zM549.8 167.5l-.7-.3 .7 .3zM503.9 170.8l2.5-3-.2-.5-2 2.5-.3 1zM521.2 168l0-.6 0 .6zM514.8 169.8l-.6 .4 .6-1.3 0 .9zM462.8 170.4l0-.6 .4 .4-.4 .2zM513.8 170.5l0-.3 .4 0-.4 .3zM462.2 171.7l-.3-.5 .3-.6 .4 .6-.4 .5zM513.2 171.9l-.3-.1 .3-.3 0 .4zM512.8 172.5l-.5-.3 .5-.3 0 .6zM461.9 173.2l-.1-.3-.3 .3 .4 0zM517.8 174.3l-.6 .4 0-.5 1-.8-.4 .9zM505.3 175.2l.9-1-.9 1zM594.9 174.2l-1.4 0 1.4 0zM516.8 175.1l0-.4 .4 .1-.4 .3zM596.3 174.8l-.4 0 .4 0zM510.3 176.8l1.5-1.6 0-.4-1.5 2zM516.2 175.6l0-.5 .5 .1-.5 .4zM515.8 176.1l0-.5 .3 .2-.3 .3zM588.2 175.8l-1.1 0 1.1 0zM515.2 176.6l0-.6 .4 .2-.4 .4zM597.5 178.8l-1.4 0 1.4 0z"/>
<path fill-opacity="0.143" fill-rule="evenodd" d="M530.8 52.8l.3 0-.3 0zM489.2 185.8l-49.4 .2-.4-.8 7.8-.4 6-1.6 4.6-3.4 3.8-5 1.2-2.9 .3 .3-.7 1.6 .4 .2 .6-.8 3.2-6 3.9-9 8.6-24.4-.3-1 1.3-2-.1-1 2.2-4.8 .4 .2-.4 1.8 1.1-1.2-.3-.6 .4-.4 0-1 4.5-10 1.7-5 5.7-9 .1-1 4-9 0-1.6 2.1-3 4.7-9.6 2.3-3.4 .3-1-.4-.4 .7-1 3.1-4.1 .5 .1-.5 1.9 2-2.5 .4 .6-1 1 .9-.6 4.9-6.4-.4-1 1.8-.7 2-2.1 2.4-1.3 .7 .1-3 2.4-.5 1 .4 .2 2.1-1.2 2.9-3 5 .3 .9 .7 .1 .6-1-1.6 .4-.5 2.6 1.1 4 .8 .6-.4-3.4-2 .2-.3 5 1.6 5.6 4.1 3 3.5 1.3 .1-1 .6 1.4 2 3.7 3.5 6 3.6 8 10.9 10.8 11.4 3.2 3 .8 0-7.3-8.4-.3-.6 .4-.2 9.2 10.2 10.7 10.6 2.1 3 11 10 9 5.9 4.4 3.5-.4 .4-3.7-2.4 2.7 2.6 11 8 .3 0-10.2-8 .3-.5 11.6 8.6 8 5.3 11 6 18 8.2 .2 .8 .3 20-.5 4.9-24-.7-27.4-1.6-5.3-.6 .6-.4-6.9-.9-15.9-3.1-2.2-.6 2.8 0 16.7 2.7 2.4-.1-4.6-1 2.7-.6-8.9-1.8-19.9-6.2 .3-.4 1.9 .4 20.1 5.6 5 1.1 1.9-.1-3.9-.9-20.5-7.1-6.7-3.6-9.8-6-.4-.4 .4-.3 9.6 5.5 4 1.8 .4 .7 1.6-1.1 3 1.4 1 0-11.5-6.6 .7-.4-1.2 .2-.3-.2 .6-.6-12.3-7.9-.6 0 .3-1.1-1.3-1.1-12-8.9-2-.8 .1-.6-1-1.6 .5-.1 10 7.7-3.9-3.6-.2-1 .5 .1 5.8 5.9 7.3 5-1.2-1.4-7.3-5.9-8-8.4-2.1-1.3-.9-1.5-1-.1-1-.9 .3 1.1-1.4 .4 2.5 2.6 0 1.4-2-1.5-.3 .5 1.5 1.6-.5 .4 .3 .6 2.4 1.4-.5 1 1.1 1.1 1.4-.5 .2 .4-.9 .6 .2 .4 6.5 6.6-.4 .1-5.4-4.4-7-7.3-1 1-.6 0-1.4-1.7-2.1 .7 .5-2.3-1 .4-1-.2-.9-.9-.1-.8-1 .1-.4-1.6-1.5-.1 .5-1-1-1.4-1-.4-1 .5 0-.8-1.4 1.1 0 .4 .4 .4 .4-.2 .1 .8 1.4 .6-.5 .7 1.4 .7 .6 2 1.6-1.2-.2 2.2 1.1 .6 .5 1.4 1 .2 .6-.7 .7 .1-1.3 2.6-1-.2-2-3.2-1 .1-.4 1.1-1-.4-.1-.6 1.1-.5 .1-.9-3.1-2.6 0-.6-4.7 8.2 .1 .4-.8 1 .8 1-3.2 3.6-.4 1.4-2.5 1.6 .1 .9 1-1.2 .5 .3-2.9 5.2-.6 .5-.4-.7-.7 .4-.3 1.1 1.8 1.5-1.6 .4-2.2 3.9-.6-.4-1 .9 0 .3 1-1.1 .5 .4-3.5 4.9-.5-.3 .5 .4-1.9 3-6.9 7.6 .6 .4-2.2 1.6 .4 .2 1.6-.8 1.4 .2 .5 .4-1.7 1.4 .8 .6-6.5 2-10.1 1zM532.4 57.2l.1-.4-.7 0-.2 .4 .8 0zM543.6 57.2l-2.4-.7-1 .5-1.4-.5-2 .2-.8 .5 .8 .5 3.4 0 .6-.4 2.4 .4 .4-.5zM529.8 57.2l-1-.3-1.7 .3 2.7 0zM534.5 57.8l-.5 0 .5 0zM544.8 59.2l-.6-.6 .6 .6zM518.8 59.3l-.6-.1 .8 0-.2 .1zM528.3 59.2l-.7 0 .7 0zM527.2 59.8l-.7 0 .7 0zM548.9 62.2l-1.7-1.6-1.6-.8 2.2 2 1.1 .4zM531.6 63.8l1.1-1 1.2 0-.1-1.8 1.4 0 .2-.8-1.6-.4-1 .7-1.6 .1 0 1.4-2 .2 1.6 1.7 .8-.1zM525.3 61.2l-.7 0 .7 0zM545.3 64.8l-2.1-2.2-2-.5-1-.8-1.4-.1 2 1.9 1.7 .1 .5 1 2.3 .6zM545.5 61.8l-.9-.6 .9 .6zM539 64.2l0-.4-2.4-1.6-.2 .6 1.8 1.7 .8-.3zM552.8 62.9l-.5-.1 .5 .1zM513.8 64.3l0-.6 0 .6zM528.5 65.2l1.2-1-.9-.5-1 .5-.6 1 1.3 0zM539.5 65.2l-.7-.4-.6 .3-2-1.4-.8 .1 0 .4 1.8 1.3 2.3-.3zM548.3 65.8l-1.5-1.7-1.3-.3 2.8 2zM523.5 64.2l-.4 0 .4 0zM513.2 65l0-.6 0 .6zM536.8 68.2l1-.4-2.3-1 .5-1-.8-.7-1.7-.3-.4 .4 .1 .8 .6-.2 .5 1 2.5 1.4zM512.8 65.7l0-.6 0 .6zM547.4 66.8l-1.2-.6 .6 .7 .6-.1zM540.9 68.2l-.3 0 .3 0zM526.4 69.2l-.6 0 .6 0zM510.8 70.8l-.3-.6 .7-.6-1 .6 .6 .6zM524.4 72.8l1.4-2-1.6 .4-1 1.6 1.2 0zM565.3 77.2l-3.5-4.4-2-1.4-.3 .4 4.1 4.4 1.2 1.1 .5-.1zM556.8 75.2l-1.3-1 1.3 1zM569.9 83.8l-2.1-3.5-2-.7 4.1 4.2zM574.8 84.9l0-.4 0 .4zM575.2 85.4l0-.4 0 .4zM575.8 86l0-.5 0 .5zM576.2 86.5l0-.5 0 .5zM576.8 87.1l0-.4 0 .4zM577.2 88.1l-.3-.3 .3-.4 0 .7zM496.2 90.6l0-.6 .5 .2-.5 .4zM494.8 93.2l-.1-1 1.1-1.7 .2 .7-1.2 2zM493.8 96l-.4-.2 .4-.3 0 .5zM493.2 97l0-.6 0 .6zM587.9 101.2l-1.6-1 1.6 1zM491.8 100.8l-.4 0 .4-.5 0 .5zM526.1 113.2l-.5 0 .5 0zM525.4 114.2l-.5 0 .5 0zM541.6 115.8l-.5 0 .5 0zM523.5 116.8l-.3-.7-.6 .7 .9 0zM622.5 135.8l.6-.6-.9-.6-.4 .2-21.6-18.6 1 1.6 4.1 3.4 3.5 4 13.4 11 .3-.4zM535.2 118.2l-.2-.4-1.5-.6 1 1 .7 0zM544 117.8l-.5 0 .5 0zM532.3 119.2l-.6 0 .6 0zM545.9 119.2l-.5 0 .5 0zM534.3 120.8l.3-.6-.4-.1-.7 .7 .3 .3 .5-.3zM487.8 120.8l0 .3 0-.3zM536.9 121.2l-.1-.6-.7 .2 .1 .8 .7-.4zM526.4 122.2l.4-1.3-.8 .3-.2 1 .6 0zM486.8 123.8l1-2.4-.7 .4 0 1-.7 .4 .4 .6zM538 122.2l-.2-.5-.5 .5 .7 0zM521.9 124.8l.7-1 .2-1.2-1.4 2.2 .4 .4 .1-.4zM525.4 123.2l-.2 .3 .2-.3zM527.9 123.2l-.4 0 .4 0zM531.5 126.2l0-1-.7-.1-.6-1.1-1.5-.2 .4 .4-.3 1.6 .4 .3 1-1 .6 1.5 .7-.4zM538.5 124.2l-.4 0 .4 0zM521.3 131.2l2.6-3 1.9-3.4-.6-.4-.6 .4 .1 .4-2.5 4 .4 .6-1.3 1.4zM539.7 127.2l1.4-2-1.3-.8-.8 .8 .4 1-.9 .6 .7 .7 .5-.3zM558.1 125.8l.2-.6-1.1-.2 0 .5 .9 .3zM484.3 130.2l1.6-3.4-.1-.8-.6 .1-1 2.1-.5 2 .6 0zM554 127.2l-.8-.6-.4 .1 .4 .7 .8-.2zM519.6 127.2l-.5 0 .5 0zM527.9 128.8l.5-1-.2-.9-1.6 1.3 .6 .9 .7-.3zM546.5 131.2l.3-.6 1-.4-2-2.2-1.6 .7-.4-.9-1-.1 1.4 1.1 0 1.4 1.6 1 .7 0zM559.6 127.8l-.8-.5-.4 .5 .8 .3 .4-.3zM481.8 130.8l-.2-1 .6-.6 0-1-.4 .1-1.4 2.5 1.4 0zM537.9 129.2l-.7-.8-1-.3 .6 1.3 1.1-.2zM529.9 130.2l-.1-1.4-.6-.1-.9 1.1 .2 .4 1.4 0zM525.3 129.2l-.7 0 .7 0zM546.2 129.8l-.9-.6 .5-.3 .4 .9zM564.8 133.8l-3-3.6-.3-.4 .8-.6-1.1 .3-1-.6-.2 1.3 2.4 1.6 2.4 2.4 0-.4zM519.5 149.2l1.2-2-.5-.4-.4 .4-.5-.4 .2-1 1-1 1.5-4 1.2-.4 .6 1.1 1 .6 .6-.9-.4-1 .8-.2 1-1.9-.6-.7-.3 .8-.7 0-.4 1.9-1-.3-.7-1 1.6-1-.5-1.6 .8-.4-.2-.7 1.4-.3 .2-1 1-.6 .9-1.4-.1-.9-2-1.5-1.1 2.4 .4 .4-.2 .6-.7 .4-1.2 2.6-1.2 .7 .6-1.7-1 0-2.3 3.4-.4 2.6-.9 1-.4-.5-.9 .5 .3 1.2 1 .8 1 0 .2 1.4-1.8 2.6 .6 .3 1-1.3 .5 .4-.9 2 .7 0zM557.8 131.2l-1.6-1.7-.6 .3 2.2 1.4zM563.8 130.8l-.7-.6 .7 .6zM539.3 131.2l.5-.5-.5 .5zM543.9 131.2l-.8 0 .8 0zM528.9 138.2l3.2-5 .1-1.4-.9 0-.1 1-1.9 2-1.1 3 .7 .4zM526.8 132.4l0-.4 0 .4zM545.1 132.2l-.3-.3-.4 .3 .7 0zM482.9 133.2l.3-.7-.4 .3 0 .8 .1-.4zM527.4 136.8l1.8-4.3-2.4 3.3 0 1 .6 0zM477.2 134.1l-.4-.3 .4-.6 .4 .6-.4 .3zM536.2 133.9l-.4 .3-.6-1 1-.4 .4 .4-.4 .7zM549.2 133.9l-.4-.1 .4-.9 .6 .3-.6 .7zM475.3 150.8l-.8-.6 .7-.7 .6 .3-.4-1 .9-.6-.3-1 1.5-3 0-1 3-8.4-.3-1.1-2.5 6.1-3.7 11 .2 .4 1.1-.4zM520.4 135.2l.8-1.5-.6 .5-.2 1zM560 135.2l-1.8-1.4 1.8 1.4zM476.2 135.5l.6-1.7 .1 1-.7 .7zM547.3 135.2l-.1-.9-.9-.1 .1 .6 .9 .4zM482.4 134.8l-.2-.5 0 .9 .2-.4zM550.2 134.9l0-.3 0 .3zM570.4 139.2l-1.7-2.4-2.5-1.9-.8-.1 0 .4 3.4 3.2 1.4 1.1 .2-.3zM532.8 135.4l-.4-.2 .4-.3 0 .5zM551.2 136.1l-.9-.3 .5-.7 .7 .7-.3 .3zM558.8 136.8l-1.6-1.6 .3 1 1.3 .6zM622.2 135.5l0-.5 0 .5zM481.8 136.2l0-.6 0 .6zM517.9 136.2l-.1-.6-.4 .6 .5 0zM533.8 137.8l-1.1-1 .5-1.1 1.3 .5-.7 1.6zM634.2 144.2l-10-7-.9-1 .5-.6-1 .6-.1 .6 .5-.2 .9 1.2 5.5 4 3.2 2 1.4 .4zM539.2 137.5l-.6-.3 .2-1 .7 1-.3 .3zM545.6 137.8l.4-.6-1.8-1 .9 1.6 .5 0zM518.9 137.8l.6-.6-.3-.8-.3 1.4zM626.4 137.2l-.9-.4 .9 .4zM521.2 138.9l.2-1.7 .8-.1 0 .9-1 .9zM531.8 138.5l-.5-.3 .3-.4 .6-.4 .3 .4-.7 .7zM559.9 137.8l-.4 0 .4 0zM525 145.2l1.1-2 .8-.4 1.4-3-.1-.9-.5-.1-1.9 3.4-.6 2.6-.6 .4 .4 0zM529.2 143.8l-1.3-.6 .2-.4 3.1-4.3 .3 .7 .8 .6 0 1-3.1 3zM533.2 139.3l-.6-.1-.4-.8 .6-.1 .4 1zM519.8 143.7l-.9-.5 .2-1.4 1.7-3 .9 1.4-.8 2 .3 .6-1.4 .9zM536.8 139.9l-.6-.3 .6-.1 0 .4zM555.8 139.9l0-.4 .3 .3-.3 .1zM523.8 140.6l-.4-.4 .4-.4 0 .8zM537.8 141l-.6 .2-.3-.4 .3-.8 .7 .2-.1 .8zM565.5 141.2l-1.8-1 1.8 1zM635.4 140.8l-1-.6 1 .6zM536.8 142l-.6 .2 0-.4 .6-.8 .4 .2-.4 .8zM538.8 142.4l-.6 .3-.3-.5 .3-.7 .9-.3 .1 .7-.4 .5zM572.5 149.8l-2.5-2 .2-.4 3.2 1.8-1.2-1.2-2-1.5-.4 .3-7-5.7-.4 .1 3.2 3.6 4.5 4 2.1 1.3 .3-.3zM570.3 141.8l-.6-.6 .6 .6zM549.2 141.9l-.5-.1 .5-.3 0 .4zM524.3 142.8l-.5 0 .5 0zM537.8 143l-.4-.2 .4-.5 .4 .5-.4 .2zM554.2 143.8l-.4 0 .4-1.2 .9 .6-.9 .6zM535.8 143.3l0-.4 0 .4zM516.4 149.8l-.8-.6 .6-.3-.2-.7 1.3-1.4 .6-1.6-.1-.9-1-.7-2.2 4.2-.4 .2-.4-1.2-.5 0 .9-.1 .3-.5-.7-.5-.9 2.1 1.3 .7 .6-.5 .4 .2-.3 1 1.5 .6zM522.9 143.8l-.1 .3 .1-.3zM531.8 143.9l-.6-.3 .6 .3zM535.2 144.3l-.5-.1 .5-.7 0 .8zM534.2 147.3l-.7-.5 .3-1.3 1.4-.4 1.6-1.6 .4 0-2 3.3-1 .5zM542.2 144l0-.6 0 .6zM555.8 144.3l-.8-.1-.2-.4 .4-.4 .6 .3 0 .6zM532.2 144.5l0-.5 .4 .2-.4 .3zM517.2 145.1l-.4-.3 .4-.4 0 .7zM522 145.8l.5-.6-.3-.7-.7 .3-.5 1 .8 .4 .2-.4zM528.8 145.1l0-.6 0 .6zM532.8 144.9l.2-.1-.2 .1zM634.9 144.8l-.4 0 .4 0zM528.2 146.1l0-1.2 .5 .3-.5 .9zM533.2 145.4l0-.5 0 .5zM516.8 146l0-.6 0 .6zM529.8 146.2l0-.6 0 .6zM559.8 146.6l-1-1.1 1.4 .7-.4 .4zM523.8 147.2l.6-.4-.2-.6-.5 .6 .1 .4zM522.8 156.4l-.7-1.2 1-1 4.7-8.2 .4 .7 .8 .1-.2 .4-.6-.4-.1 1.4-.9 .6-.6 1.4-2.1 2.6-.2 1-1 1 .1 1-.6 .6zM529.2 146.5l0-.4 .5 .1-.5 .3zM516.2 147.4l-.7-.6 .7-.5 0 1.1zM565.2 150.5l-5.3-3.7 .3-.5 1.6 .9 3.4 2.4 .5 .6-.5 .3zM531.8 147.5l0-.3 0 .3zM515.8 148l-.6 .2-.2-.4 .8-.5 0 .7zM531.2 148l0-.5 .4 .3-.4 .2zM532.8 148.9l-.6-.1 .6-1.1 .6 .5-.6 .7zM535.8 147.8l-.5 0 .5 0zM547.2 148.8l0-.6 0 .6zM504.8 166.2l6.2-11.4-.2-1-.6 0 .4-1 .3 0 .3 .9 1.2-1.5 .2-1.4 .9-.6-.7-1.7-1 .9-1.3 2.4-.3 1.4-1.6 2.6 .4 .4-1 .6 .6 .4-.4 .6-.6 0 .6 .4-.4 1.6-3.3 5.4 .7 .6-.7 .4 .3 0zM520.9 150.2l.9-1.9-1.1 1.5 .2 .4zM529.8 150.3l.4-1.1 .2 .6-.6 .5zM548.2 149.8l0-.6 0 .6zM560.8 149.4l0-.4 .3 .2-.3 .2zM517.8 151.2l1-1-1.6-.5-.4 .5 1 1zM538.2 150.1l-.4 .1 0-.7 .4 0 0 .6zM562.2 150.7l-1.1-.9 .1-.4 1.2 .8-.2 .5zM531.2 150.6l0-.5 0 .5zM549.2 150.7l-.1-.5 .5 0-.4 .5zM559.8 150.4l0-.4 0 .4zM576.7 151.8l-2-1.6 .4 1 1.6 .6zM471.2 151.2l0-.6 0 .6zM507.9 163.2l4.3-6.2 .7-.2 .2-2 1.1-.7 1.1-1.9 .3-1-.4-.2-.4 .6-.6-1.3-1.7 4.5-3.4 5.4-1.5 3 .3 0zM530.8 151l-.5-.2 .5-.3 .4 .3-.4 .2zM549.8 150.8l-.5 0 .5 0zM562.8 151.1l-.5-.3 .5-.3 .3 .3-.3 .3zM565.8 150.9l0-.6 .4 .5-.4 .1zM532.2 151.7l0-.6 0 .6zM536.8 151.4l0-.4 .4 .2-.4 .2zM563.2 151.5l-.3-.3 .3-.3 .5 .3-.5 .3zM474.7 152.2l-1.1-.4 .2 .4 .9 0zM514.2 152.7l-.3-.5 .3-.5 .4 .5-.4 .5zM519.8 152.2l0-.5-.6 0 .6 .5zM529.2 152.9l-.7-.1 .7-1.2 0 1.3zM531.8 151.9l.3-.1-.3 .1zM567.8 154.7l-4.3-2.9 .3-.5 4.4 2.9-.4 .5zM470.8 152.8l0-.9 0 .9zM515 154.8l1.8-2.9-.8 .3-1.4 2.6 .4 0zM532.2 152.3l-.3-.1 .3-.4 0 .5zM579 155.2l-4.5-3 2.7 2.3 1.8 .7zM521.3 153.2l-.1-.9-.5 .9 .6 0zM531.8 152.9l-.4-.1 .4-.3 0 .4zM563.2 153.4l-.3-.2 .3 .2zM470.2 154.3l0-1 0 1zM519 153.8l-.5 0 .5 0zM527.8 154.5l0-.4 0 .4zM530.8 154.4l-.5-.2 .5-.3 0 .5zM564.2 154.4l0-.4 .4 .2-.4 .2zM579 157.8l-5.2-3.6-1 0 6.2 3.6zM469.8 155.6l0-1 0 1zM565.2 154.9l-.4-.4 .4 .4zM569.2 155.6l-1.4-.8 .4-.5 .8 .5 .6 .4-.4 .4zM518.1 155.8l.1-.8-1 .8 .6 .3 .3-.3zM527.2 155.9l-.4 .3 0-1.3 .7 .3-.3 .7zM565.8 155.4l0-.4 .3 .2-.3 .2zM555.8 156l-.4-.2 .6 0-.2 .2zM566.8 156l-.6-.5 .6 .5zM575.2 159.4l-5.9-3.6 .5-.4 1.6 .8 4.3 3-.5 .2zM469.2 157l0-1 0 1zM525.8 157.9l-.6 .1 0-.7 1-1.2 .5 .1-.9 1.7zM557.2 157l-1.1-.8 .1-.2 1.4 .8-.4 .2zM567.2 156.4l-.3-.2 .7 0-.4 .2zM519.8 157.7l0-1.2 0 1.2zM522.2 157l0-.7 0 .7zM529.2 156.9l-.3-.1 .3 .1zM568.2 157l-.4-.5 .7 .3-.3 .2zM558.2 157.7l-.7-.5 .3-.2 .6 .2-.2 .5zM570.8 158.7l-2.4-1.5 .4-.3 1.4 .8 .8 .5-.2 .5zM468.8 158.3l0-.8 0 .8zM510.5 168.2l6-8.4 .5-1-.1-1-5 7-1.9 3.4 .2 .5 .3-.5zM528.2 158.5l0-.8 0 .8zM558.8 157.8l-.5 0 .5 0zM518 159.2l.2-.7-.8 .7 .4 .4 .2-.4zM527.8 159.1l0-.6 .4 .3-.4 .3zM468.2 159.6l0-.6 0 .6zM578.2 159.4l-.5-.2 .5-.4 0 .6zM576.2 160.1l-.6-.3 .2-.5 .7 .5-.3 .3zM523.8 160.8l0-.8 .8 .2-.8 .6zM578.8 161.5l-2.4-1.3 .8-.1 2 1.1-.4 .3zM581.1 160.2l-.4 0 .4 0zM584.5 161.8l-2.8-1 2.8 1zM526.2 161.6l-.4-.4 .4-.3 .4 .3-.4 .4zM525.8 162.2l0-.8 0 .8zM579.8 162l-.7-.2 .1-.4 .9 .4-.3 .2zM580.8 162.5l-.8-.3 .8-.1 0 .4zM585.5 162.2l-.7 0 .7 0zM581.8 163l-.8-.2 .8-.1 0 .3zM586.4 162.8l-.4 0 .4 0zM582.8 163.6l-.8-.4 .8 0 0 .4zM583.8 164l-.8-.2 .8-.1 0 .3zM584.8 164.7l-.5-.5 .5 0 0 .5zM584.2 164.9l0-.6 .5 .5-.5 .1zM585.8 165.5l-.8-.3 .8-.3 0 .6zM502.4 167.8l1.4-2.1-1.4 2.1zM502 173.8l3.9-5 1.7-3-.5 0-3.1 4-2.2 4.3 .2-.3zM519.2 167.4l0-.6 .6-.6 .2 .6-.8 .6zM573.2 166.8l-.5 0 1 0-.5 0zM599.1 171.2l-12.3-4.8-1 .4 6 2.6 7.3 1.8zM593.9 166.8l-.4 0 .4 0zM574.8 167.5l-1.1-.3 .1-.3 1 .6zM595.2 167.2l-.7 0 .7 0zM575.8 168l-.9-.2 .9-.2 0 .4zM597.4 168.2l-1.8-.4 1.8 .4zM576.8 168.4l-.7-.2 1.1 0-.4 .2zM464.2 169.5l0-1 0 1zM518.2 168.9l0-.5 0 .5zM578.2 168.8l-.8 0 .8 0zM598.7 168.8l-.8 0 .8 0zM517.8 169.5l0-.5 0 .5zM579.2 169.3l-.5-.1 .5-.3 0 .4zM581.2 169.3l-.4 .3-.4-.4 .8 .1zM599.8 169.2l-.4 0 .4 0zM463.2 172.1l-.3-.3 .9-2.3 .2 .3-.8 2.3zM517.2 170.1l0-.6 0 .6zM555.8 169.8l-.4 0 .7 0-.3 0zM582.8 170l-1.2-.2 1.5 0-.3 .2zM515.8 171.8l-.4 0 .3-.6 1.1-1.1 .2 .1-1.2 1.6zM557.8 170.3l-1.3-.1 1.3 .1zM559.2 171.1l-1.3-.3 1.5 0-.2 .3zM560.8 171.6l-1.4-.4 1.6 0-.2 .4zM562.2 172l-1.2-.2 1.6 0-.4 .2zM503.9 176.8l4-4 .3-.9-4.3 4.9zM515.2 172.3l0-.4 0 .4zM563.8 172.4l-1.1-.2 1.4 0-.3 .2zM565.2 172.9l-.6-.1 .6 .1zM500.3 175.8l.9-1.3-.9 1.3zM572.8 175.3l.3-.1-.3 .1zM575.2 175.8l-.7 0 .7 0zM509.2 176.3l-.4-.1 .4-.2 0 .3zM577.2 176.3l-.8-.1 .8 .1zM506.8 178.3l-.6-.1 2.6-1.9 .1 .5-2.1 1.5zM590.8 176.8l-.9 0 .9 0zM614.4 177.2l-1.9 0 1.9 0zM607.8 178.3l.3-.1-.3 .1zM505.8 178.9l-.6-.1 .6 .1zM614.3 178.8l-2.2 0 2.2 0zM507.2 180.5l-.5-.3 .5-.2 0 .5zM616.7 180.2l-2.9 0 2.9 0zM619.6 180.8l-1.1 0 1.1 0zM502.7 181.2l-.7 0 .7 0zM501.5 181.8l-.4 0 .4 0zM506.8 182.3l-.6-.1 .6 .1z"/>
<path fill-opacity="0.167" fill-rule="evenodd" d="M534.2 54.8l-.6-.6 .8 0-.2 .6zM488.8 185.8l-49 .2-.3-.8 7.7-.3 6.3-1.7 2.5-1.4 3.2-3 4.4-5.6 5.7-11 8.9-26 1-2.2 .6 0-2.4 5.8-4.4 14-.5 .4 .1 1-.7 .6 .3 .4-.6 1-.4 1.9 1.6-2.3-.4-.6 1-.4-.3-.6 .8-.4 1.5-3.6-.2-1 .8-.4 2.5-6.6-.3-1 .6 0 .9-1.4-.1-1.6 1.6-5.4 .1-2 1.6-2-.3-1 .8-.6-.5-1 .3-1 1.1-1 1-2.4-.3-2 .8-1.5 .4-.1-.1-1 1.7-3.4 1.2-1-.2-.7 .9-.3 1-1.6-.7-1 1.2-.6 .7-1.4-.2-.4 1.2-1.6-.4-.4 5-10.6 2.6-7.4 3.3-5.6 2.4-5.3 2.4-3.7 .6-.2 .4 .5 3.5-5.7 2.2-1.6 3.3-4.2 .3 .2-.7 2 .4-.5 1.6-1.9 .2-1-.6-.6 1.8-1-.9-.4 1.9-1.7 .3 .1-.6 1.6 .3 .3 3-1.8 1 .4 4 .2-.4-1.5 1.4 .4 0 .6 1.6-.1 1 .9 3 0-.1 .6-1.2 1-1.7-.2-1.6 .7-1-.4-.7 .3-.3 1.4-1.3 .6 .7 1-2.2 1-.6 1.6 2.4-.5 1 .7 .4-.2-.5-.6 .1-.7 4-1.5 .6 1.2-2.2 1-.1 .6 .7 .8 4.6 2.3 .6-.1-.8-.6 .6-.9 1.6 0 1.4 1.8 .7-.3-.8-1-2.3-1.3-1 .7-.6-.1-.7-.9 .3-.3 3 0 .4-.6 .6 .2 1-1.2 3.4 1 .6 1.1-1.2-.2 .6 .9 2.6 .4 .3-.3-.4-.4-2.3-1.6 .8-.5 3.5 2.5 .3 1 1.7 1.6 1.4 2.4 1.1 .9-.1 .7 3.1 2 .1-.6-5.5-5.4-.4-1-1.4-1-2.7-3.6-4.3-2.4 .2-.5 1 .3 4.7 2.6-2.1-2.2-2.6-1.8 0-.7 5 3.9 .6 .2 .2-.4-5-5.4-4-3 1.2-.1 5.2 4.1 2.4 2.4 .9 2 11.1 11 2 2.6 .5 1-.3 .4 7.7 8 1.1 1.9 2 1.7-3-3-.5-1.6 .5-.3 12 12.3 .3 1 1.7 1.9 3.8 3.1-.9 .6 3.5 3.5 .8 .5-2.1-2 .3-.5 4 3.5 .5 0-9.2-9.6 .2-.4 9.9 9.4 1.3 2 20.9 18.7 11 8.4 7.4 5 2.9 1.5 .8 0 17.1 9.4 14.8 6.4 .1 .6 .3 20-.4 4.8-32.8-1.2-12.9-1-11.8-1.6 .5-.4 6 .6 4.1-.2-5.8-1 1.1-.4-13.3-2.6 .3-.4 12 1.9 4.8 .1-10.3-2-.6-.6-9.5-2.4 .2-.4 3.4 .6 1.2-.2-12.6-4.4 0-.5 1 .2 7 2.5 .4-.3 .6 .6 .8-.1-2.4-.7-13-6-7.6-4.3-9.8-6.9-2.1-1.7 .5-.7 11 7.4 11.7 5.3-.9-1-12.8-7.9 0-.5 .7 0-5.1-3.5-1.4-1.1 .2-.4-.6-.6-6.5-5-5.7-6.5-.6-.3-.1 .8-1.3 0-6-5.5 1 1.5-.2 .6 4.8 4 .5 1.4-.1 .5-1.6-1-.4 .3-.6-1.3-1.4-.3-5.1-5.2-2.7-2-.8 .3 .5 .7-.5 .3-1-.4-.4-.9 1.3-1-1.1-1.4-1.8-1.2-1 .8-1.4-1.7-1.2-.5-.3-2.4 1.3 0 .3-.6-1.4-1.4-.3 .3 1 .7-1 .9-1-.2-1 .4 0-.8-1.4 1.1 0 .8 1-.2 0 .4-.9 1 .2 1 1.1 .7 1.9-.7 0 1 1.1 1.1 1.6-.5 0 .8-1.2 1.6 1.6 1.7 1-.3 .6-1 1.3 .6 .2 1.6-1.1-.4-.8 .4 .8 1.3 1.2 .7 .6 1 0 1.4-.8 0-3-2.3-.4 1.2-1.5 .1 .3-1.4 1.2-1-.6-.5-.4 .1-.6 1.1-1-.4-1.6 .1 0-1 .6-.4-.4-.6-1.1 1-.3-.4 .4-1.6-2 .1 .1-1.1-.9-1 .8-.3 1.3 .3 0-1.4-.7-1-1.6-.6-.6-.8-.6 .8 1 .6 .5 2-1.3-.1-1.6-2.1-1.2 2.2-.1 1-.9 .4-.2 1.6-1 .8-1-2.4 .2-.4 1.2 .3 .6-1.8 .6-.5-.2-.4-1.4-.2-1.2 .6 0-2 1.6-.7 0 .8 1.6 .7 .6-.8-.4-1.6-.8-.6-.4 .2-.6-1.3-2-.3-.2-.4 .8-2-.7 1-.8 0-.1-.9 .6-.7-.6-.8-3 4.8-.3 2-1.2 1.6-.8 1.4 .2 .6-1.1 1.4 0 .6 .4 0 .8-1.1 1-.2-.1 1.7 .8 .6-.5 .4 .3 .6-1.9 .4 .1-1.4 .7-1-.4-.2-.6 1.6-1.3 1-1.8 3-.1 1.6 .7 .4-.3 1.3-.4-.3 .3-.4-.5-.2-.2 .6-1.2 .7-.6-.7 0-1.1-1.4 .2-.4 .5-.2 .8 2 1.3 .3 .9-.3 .3-1.4-.7-1-1-.6 .4 1.7 1.4-1.3 0 .4 .6-.5 .4 .3 .6-1 .3-.7 1.7 .3 1.4-1.2 .1-.4 .9 .3 1-1.2 2.6-2.4 4.4-.8 .6-.3 1.4 1.1 .6-1.3 1.9-.4-.9-.6 .4 1 .6-.3 .4-.7-.3 0 1.3-1 .7-2.9 4.9-.1 .6 2-1.5 .6 .4-.4-.5 .8-.3 3-4.6 .1 2.3-8.5 12.1 3.6-3.5 5.4-7.3 .5-.3-.2-.4 .7-.6-.3-.4 .7-.6-.7-.4 .7-1.6 2.8-4 .8-.3 .4 .5 .6-.1 .3 .5-1.6 3 .3 .2 .4-.6 .4 .4-7.5 10 1.7-1.4 .6 .4-3.2 4-6.2 6 3.2-1.9 .8 .9-4.3 3 4.8-.6-1.9 1.6-3.4 1-9.4 1zM529.2 55.4l.5-.2-.5 .2zM537.8 56.3l-2.6-.1-.6-.4 1.2-.6 3.1 .6-1.1 .5zM523.8 56.3l-.6 .3-.1-.4 .7-.5 0 .6zM532.2 56.4l-.8-.2 .8-.6 .4 .2-.4 .6zM526.8 56.3l0-.4 0 .4zM529.2 56.5l-1.4-.3 1.4-.3 .5 .3-.5 .3zM522.8 57l0-.4 .3 .2-.3 .2zM534.8 57.3l-1.6 .3-.3-.4 .9-.8 1.4-.1 .6 .4-1 .6zM542.2 60.9l-1.3-.7-.8-1.4-1.9-.1-.1-.9 2.5 .4-.2 .6 2.3 1.4-.5 .7zM525.9 62.8l.4-1.6-.5-.4 .4-.5 1 .2 1-.8 1 .4 .7-.3-1-.6-.1-.6-1.4 .2-1.2 .8-.4 1-1.6 .5 0-1.1-1.3 1.2 1.3 .8 1.6-.5 .3 .3-1.2 1 .3 .3 .7-.3zM541.2 64.7l-2.8-1.5-1.2-1.4-1 .1-1 1-.6-.1-.4-1 1.8-.6-.2-1.2 .8-.2-.3-.6 .5-.4 1.4 0 .5 1-1 .4 .6 .6 0 1 3.5 2-.6 .9zM543.8 59.4l0-.3 0 .3zM539.8 60.1l-1-.3 1-.2 0 .5zM519.2 60.9l-.5-.1 .5-.4 0 .5zM535.8 63.3l0-.4 0 .4zM524.3 64.8l.5-1.2-1.6 .4-.5 .8 1.6 0zM529.8 63.9l0-.4 .3 .3-.3 .1zM543 67.8l.4-.6-1.5-.4 .2 1 .9 0zM528.2 67.8l1.1-.6-1.8 0 0 .6 .7 0zM511.2 68.7l-.4-.5 .4-.5 0 1zM531.4 68.2l-.6-.3-.4 .3 1 0zM509.8 70.4l-.3-.6 1.3-1.5 .4 .5-1.4 1.6zM526.9 69.2l-.1-.7-1.5 .3 .5 .8 1.1-.4zM548 69.2l-1.2-.6-.6 .6 1.8 0zM544.5 69.8l-.2-.6-.7 0 .9 .6zM549.4 69.2l-.5 0 .5 0zM516.3 71.2l.5-1.4-.7 1 .2 .4zM523.9 70.2l-.6 0 .6 0zM539.6 70.2l-.6 0 .6 0zM550.8 70.8l-.6-.6 .6 .6zM523.5 74.2l3-2.4-.3-1.1-1.4-.3-2 1.8-.1 .6 .8 .4-1 1 .3 .4 .7-.4zM530.5 71.8l-1.4-1 .1 .7 1.3 .3zM550.1 72.2l-.9-.1-1-1.1-.2 .2 1.2 1.1 .9-.1zM509.2 72.5l-.1-.3 .1 .3zM561.8 72.3l0-.4 .3 .3-.3 .1zM532.3 73.2l-.5-.4-.6 .4 .6 .5 .5-.5zM535.7 73.8l-.6 0 .6 0zM522.1 74.2l-.6 0 .3 .4 .3-.4zM561.8 75.8l-1.6-1.6 1.6 1.6zM510.9 75.8l.3-1.3-.3 1.3zM549.1 75.8l-.6-.6 .6 .6zM542.8 76.2l-.6 0 .6 0zM532 77.8l-.7 0 .7 0zM544.8 78.2l-.7-.4 .1 .5 .6-.1zM516.4 78.2l-.3 0 .3 0zM557.4 81.2l-2.9-3-.6 0 1.7 2 1.8 1zM525.8 79.2l0-.8-.6 .8 .6 0zM504.8 82.2l1.7-3-.3-.4-1.4 3.4zM570.8 84l0-.3 0 .3zM571.2 84.7l0-.5 0 .5zM559.6 86.8l-1.4-1.9 0 .8 1.4 1.1zM560.4 87.2l-.6 0 .6 0zM564.3 89.8l-1.1-1.8-.3 .2 1.4 1.6zM541.6 91.8l-.9-.6 .2 .6 .7 0zM555.3 91.8l-.8-.6 .8 .6zM499.8 92.8l0-.5 0 .5zM574.8 96.2l-1.1-1 1.1 1zM535.3 96.8l-.4-1-.7-.2 0 .6 1.1 .6zM523.8 97.8l0-.6 0 .6zM584.2 97.8l-.4 0 .4 0zM529.9 98.2l-.6 0 .5 .4 .1-.4zM533.3 98.8l-.3 0 .3 0zM534.7 99.8l-.7 0 .7 0zM578.4 101.8l-.3-.6 .3 .6zM518 104.8l.2-1.2-.6 1.2 .4 0zM589.8 104l0-.6 .4 .4-.4 .2zM590.2 104.4l0-.5 .4 .3-.4 .2zM541.1 105.2l-.9-.4 .9 .4zM543 104.8l-.7 0 .5 .3 .2-.3zM536.5 105.2l-.4 0 .4 0zM538.3 107.2l-.5-.1 0-1-.8 .1 .1 1 1.2 0zM590.3 110.2l-3.5-3.9 .2 .9 3.3 3zM491.2 107.4l-.3-.2 .3-.2 0 .4zM490.8 108.5l-.6-.3 .6-.4 .3 .4-.3 .3zM539.6 108.8l-.6-.6 .6 .6zM535.4 108.8l-.3 0 .3 0zM594.9 112.8l-3.7-3.6 2.5 3 1.2 .6zM512.4 109.8l-.2-.5-.3 .5 .3 .3 .2-.3zM539.9 109.8l-.1-.4-.6 .4 .7 0zM527.6 111.2l-.4-1-.6 0 .3 1 .7 0zM542.3 111.2l-.8-.4 .3 .7 .5-.3zM489.2 112.1l0-1 .6-.1 .2 .2-.8 .9zM529.9 114.2l1.3-2.2 .1-.8-1.8 2.6 .4 .4zM526.4 113.2l-.2-.6-.8 .6 .4 .5 .6-.5zM539 113.2l-.4 0 .4 0zM641.1 148.2l-11.3-7.4 .4-.5 2.6 .9-.6 0-18-13.3-17-14.7 3.3 4 4.4 4 .3 1 1.6 1.6 13.4 11.5 11.6 8.1 7 4 2.3 .8zM525.2 114.8l.3-.6-.3-.4-.6 1 .6 0zM491.8 114.8l-.3 0 .3 0zM542 115.8l-.8-.7-.4 .7 .4 .3 .8-.3zM546.1 119.8l1.8-1.6-1-1 .1-.4-2.2-1.9-.5 .3 1.8 1.6-.3 .3-3-.4-.2 .5 1.2 1.2 2.4-1.4 1 .8-2.4 1.4 1.3 .6zM535.6 118.2l-.4-.6-2-.9-.5-.9-1 0 0 .4 1.5 .6 0 .7 1 .9 1.4-.2zM536.9 116.8l-.7-1.1-.6 .1 .6 .8 .7 .2zM523.1 117.2l.9-.4 0-.6-.8-.4-1.1 1.4 .1 .4 .9-.4zM603.8 122.8l-4-4.7-2.6-1.9 3.6 4 3 2.6zM490.4 117.2l-.2-.6 0 1.1 .2-.5zM480.4 139.8l5.9-13.6 2.8-7.4-.2-.6 .6-1-.3-.3-2 2.3 .6 .6-.6 0 0 1.1-.4-.1-.7 1.4-.6 1.6 .3 1.4-1.9 3-.8 4-.6 .6-2.1 5.4 .2 1-.6 .6 .4 0zM530.9 117.2l-.1-.3-.2 .3 .3 0zM489.8 118.8l0-.7 0 .7zM529.8 118.8l0-.6 0 .6zM532.6 119.8l.2-.6-.4-.4-.9 0 0 .4 1.1 .6zM539 119.2l-.2 .4 .2-.4zM541.9 119.2l-.4 0 .4 0zM551.2 121.8l-.7-1 .4-.6-.7 0-1.4-1.4-.4 .4 .4 .5 1.3 .5-.3 1 1.4 .6zM534.1 121.2l1.2-1-.1-.6-2 .9 0 1.1 .9-.4zM545.2 120.8l0-.6-.8 0 0 .6 .8 0zM537 123.2l1.5-1.4-1.7-1.5-.9 .5-.3 1.4 1.2-.4 .3 1-.3 .9 .2-.5zM544.1 121.2l-.3-.6-.9 .2 .9 .8 .3-.4zM484.8 122.8l0-1.4 .3 .8-.3 .6zM521.4 128.2l-.5-1 .5-1.4 1.6-1.6 .8-1.8-.6-.9-1 .4-1.5 2.3-.2 .6 .6 1-.3 .2-.6-.7-1.6 2.5 .6 .4 .6-.6 1 1.1 .6-.5zM547 122.8l-.2-.8-.8-.2 1 1zM599.3 122.2l-.6-.4 .6 .4zM527.2 122.3l-.3-.1 .3-.3 0 .4zM532.5 123.2l-.3-1-.5 1 .8 0zM553.8 122.8l-.6-.4-.1 .4 .7 0zM524.2 130l-.4 0-.6-.8 2.8-4.4-.3-1.6 .5-.3 2.1 1.3 .3 2-1.5 1-.9 1.9-1-.6-.9 .7-.1 .8zM548.9 124.2l-1.3-1 .6 1.2 .7-.2zM556 123.2l-.4 0 .4 0zM519.4 123.8l-.7 0 .7 0zM552.6 123.8l-.4-.5-.4 .5 .8 0zM536.3 124.8l-.1-.6 .1 .6zM552.4 128.8l.8-1 1.6 .7 .2-.3-1.2-1.6-2.2-1.4-.1-1-1.3-.2 .2 .8-1.2 1 1 .6 1.6-.3 .4 .4 .2 .7-1 1 1 .6zM556.8 126.8l2-.9-.2-.7-1.8-.7-.6 .7-1.4-1.3-.5 .3 1.5 1.6-.1 1 1.1 0zM507.4 125.2l-.2-.4 .2 .4zM526.2 127.8l.6-2.1-1.3 1.5 .3 .7 .4-.1zM551.2 126.2l0-.6 0 .6zM520.2 126.5l0-.4 0 .4zM609.3 131.2l-5.1-5 5.1 5zM548.7 128.2l-.7-1-1.2-.5 1.4 1.7 .5-.2zM573.1 141.8l-4.1-5-3.5-2.6 .2-1-2.1-1.4-.4-.6 1.1 0-2.1-2.2-2-.8-.4-1.2-1.9 .2-.1 .6 1.5 1-1.1-.2-.1 .6 5.4 4 2.1 2.6 5.6 5 1.9 1zM520.8 127.9l0-.4 .3 .3-.3 .1zM481.2 128.6l0-.7 0 .7zM480.8 129.4l0-.7 0 .7zM533.2 129.5l-.4-.3 .4-.7 .4 .3-.4 .7zM519.1 129.2l-.3-.3-.2 .3 .5 0zM528.2 129.4l0-.4 0 .4zM558.4 131.8l-2.2-2.6-2.2 1 .8 .7 1-.3 2.6 1.2zM527.8 130.4l-.6-.8 .6 .2 0 .6zM534.2 129.8l.3 0-.3 0zM518.5 130.2l-1 0 .7 .5 .3-.5zM541.1 132.2l-.3-.7-.9-.3-.1-.8-.9-.2-.1 1.2 1 0 .4 1.2 .9-.4zM545.2 131.5l-.7-.3-.1-.4 .5 0 .3 .7zM517.9 131.8l.2-.6-.9-.4-.2 .4 .9 .6zM553.3 132.8l-1.5-1.1 1 1.2 .5-.1zM518.9 134.2l.8-1.4-.5-1-.8 .4-.7 1.6 1.2 .4zM528.8 132.4l0-.6 .3 .4-.3 .2zM532.8 132.8l0-.7 0 .7zM561.3 136.8l-.1-.7-1.4-1.6-3.6-2.6-.2 .3 2.2 2.4 3.1 2.2zM479.8 133.6l-.6-.8 1-.3-.4 1.1zM520.4 132.8l-.5 0 .5 0zM527.2 134.8l-.4 .2-.1-.8 1.5-1.7 .1 .7-1.1 1.6zM542.4 133.8l-.2-.9-.9-.1 .3 1 .6 .3 .2-.3zM533.8 133.5l0-.4 0 .4zM563.2 135.2l-1.5-1.4-2.3-.6 3.4 2.4 .4-.4zM529.2 134.5l0-.9 .4 .2-.4 .7zM523.8 134.4l0-.6 0 .6zM528.2 136.3l0-1.1 .6-.6 0 1.2-.6 .5zM535.8 135.8l-1 0-.6-1.1 1 .3 .6 .8zM548.8 135.5l-.8-.3 .2-.9 .8 .9-.2 .3zM482.9 136.8l.3-1.6-.7 1.6 .4 0zM517 137.8l1.1-1.6 .1-1.3-1.6 .9 .4 1.4-.2 1 .2-.4zM525.2 137.6l-.5-.8 .5-.1 .1-.9 .9-.3 .3 1.3-1.3 .8zM540.8 135.9l0-.4 .4 .3-.4 .1zM549.2 136l0-.4 0 .4zM520.2 136.8l0-.9 0 .9zM549.8 136.4l0-.4 0 .4zM580.5 149.8l-7.3-5.3-1.4-1.7-7.7-6.6 6.2 6 1.3 2 4.6 4 4.3 1.6zM526.8 139.6l.2-2.4 .8-.5 .3 1.5-1.3 1.4zM530.2 137.3l0-.7 .6 0-.6 .7zM536.2 137.8l0-1.1 1-.4 0 .9-1 .6zM521.8 137.6l0-.4 0 .4zM548.2 137.4l-.3-.2 .3-.1 0 .3zM482.4 137.8l-.2-.4 0 .7 .2-.3zM529.8 137.9l0-.4 0 .4zM542.2 137.9l0-.6 0 .6zM529.2 139.4l-.4 .3-.2-.5 .6-1 0 1.2zM535.8 138.4l-.3-.2 .3 .2zM538.2 138.9l-.6-.7 .6-.4 0 1.1zM552.2 139l-.4-.4 .4 .4zM520.8 139.8l0-.6 0 .6zM524.2 139.6l-.2-.4 .2 .4zM552.8 139.6l-.4-.4 .6 0-.2 .4zM628.2 139.5l-.4-.3 .4 .3zM553.2 139.9l-.3-.1 .3-.3 .4 .3-.4 .1zM567.2 144l-5.7-4.2 .7-.1 1.6 1 3.8 3.1-.4 .2zM575.3 141.8l-2.1-2 2.1 2zM628.8 139.9l-.4-.1 .8 0-.4 .1zM520.2 142.3l-.8-.1 .8-2.3 .5 .9-.5 1.5zM525.8 141.8l-.1-1 .5-.8 .2 .8-.6 1zM528.2 141l0-.8 .6-.4-.6 1.2zM530.8 140.4l0-.4 0 .4zM531.8 140.8l0-.6 0 .6zM629.8 140.7l-.7-.5 .1-.4 1 .4-.4 .5zM481.3 140.8l-.1 .4 .1-.4zM530.8 141.4l-.6 .3-.3-.5 .3-.5 .6 .7zM550.2 141.4l-.4-.9 .6 .3-.2 .6zM554.8 140.9l-.6-.5 .8 .4-.2 .1zM506.3 141.2l-.1-.4 .1 .4zM523.2 141.6l-.5-.4 .5-.1 0 .5zM527.8 141.9l0-.7 0 .7zM529.8 142.7l-.4-.5 .4-.7 .4 .7-.4 .5zM556.2 142.1l-.4-.6 .4 .6zM521.2 144.3l.8-2.1 .7 0-.2 1-1.3 1.1zM524.8 144.1l-.5-.9 .9-1.2 .2 .8-.6 1.3zM556.8 142.4l-.5-.2 .5 .2zM519.2 143.3l0-.7 0 .7zM520.8 152.3l-.4-1.1 1.7-2 .4-2 .7-.6 0 1.3 .6-.3 3-4.4 .5 .6 0 1-3.1 4-1.4 .5-2 3zM552.2 143.3l0-.3 0 .3zM652.1 152.2l-16-9 10.1 6.7 4.5 2.3 .5-.4 .6 .7 .3-.3zM523.8 144l.3-.2-.3 .2zM511.9 144.2l-.1 .5 .1-.5zM518.2 145.8l0-1 .6-.8 .2 .8-.8 1zM524.2 144.7l-.4-.5 .4-.4 .4 .4-.4 .5zM571.8 151.5l-8.9-7.3 .9-.1 8 6.1 .6 .6-.6 .7zM520.8 145l0-.4 0 .4zM523.8 146l-1-1.2 .4-.4 1 .4 0 .8-.4 .4zM519.8 146.8l0-.9 .8-.7-.1 1-.7 .6zM517.8 146.7l0-.6 0 .6zM521.2 148.4l-.4-.2 .4-1 1-1.2 .3 .8-1.3 1.6zM519.2 147.5l0-.3 0 .3zM526.8 148.9l.4-1.5 .4 .8-.8 .7zM564.2 147.9l.4-.1-.4 .1zM476.9 150.8l.9-2.6-1.1 2 .1 1 .1-.4zM566.2 149.6l-1.6-1.4 .2-.3 1.9 1.3-.5 .4zM577.2 148.6l0-.4 0 .4zM584.8 148.8l-.6-.6 .6 .6zM514.2 158.5l-1.6-1.3 1.6 0-.5-.4-.3-1.6 .8-.3 1.2 .3 2-3.4 1.1-.6 .7-1.4 1.6-1.5 .2 .5-2.1 3 .1 1-1.8 2-.7 0 .4 .4-.5 .6 .4 1 1.7 1-.7 .3-.6-.7-2-.2-1 1.3zM514.2 149.9l-.4-.1 .4-.7 0 .8zM525.8 150.8l-.6 .4 .3-1.4 .7-.7 .1 1.1-.5 .6zM567.8 150.7l-1.4-.9 .4-.5 1.2 .9-.2 .5zM515.2 150.5l0-.5 0 .5zM584.9 152.2l-3-2 3 2zM516.2 151.1l-.3-.3 .3-.4 .4 .4-.4 .3zM569.2 151.5l-1.4-.7 1-.1 .7 .5-.3 .3zM476.3 152.2l-.1-.6 .1 .6zM507.3 151.8l-.3 0 .3 0zM513.2 151.8l-.4 .3 0-.4 .4 .1zM569.8 151.9l0-.4 .3 .3-.3 .1zM585.8 155.2l-.5-1-5.1-2.8 .6 .9 5 2.9zM522.2 153.1l-.1-.9 .7-.2-.6 1.1zM524.8 152.3l0-.4 0 .4zM520.2 153.8l-.4 .3-.6-.9 1-.9 0 1.5zM653 152.8l-.5 0 .5 0zM474.8 155.8l1-2 0-.9-1.1 2.3 .1 .6zM509.2 159.8l-.3 0 .9-2.6 2.4-4.2 .2 1.2-3.2 5.6zM515.2 153.3l0-.4 0 .4zM521.2 154.6l-.5-.4 .5-.6 .4 .2-.4 .8zM580.2 154.3l-.3-.1 .3 .1zM519.2 155.1l0-.6 0 .6zM572.8 154.9l.2-.1-.2 .1zM580.8 154.9l0-.4 .4 .3-.4 .1zM573.8 155.5l-.4-.3 .4 .3zM574.2 155.9l.4-.1-.4 .1zM514.3 156.2l-.4 0 .4 0zM575.2 156.4l-.3-.2 .3 .2zM474.4 156.8l-.2-.4 0 .7 .2-.3zM518.2 157l0-.4 0 .4zM576.2 156.8l-.6 0 .6 0zM519.2 158.8l-.6-.6 .6-.5 0 1.1zM515.8 158.4l0-.5 0 .5zM514.8 160.1l-.4-.3 .8-1.3-.4 1.6zM511.4 161.8l1-1.6-.1-.4 .7-.6-.2-.2-1.9 2.8 .5 0zM506.6 160.2l-.4-.4-.5 .4 .1 .4 .8-.4zM508.2 161.8l0-1 .6-.9 0 .9-.6 1zM513.8 161.6l-.4-.8 .8-.9 .4 .3-.8 1.4zM516.2 161.4l0-.5 0 .5zM513.2 166.2l-.2-1 2.8-3.8 .1 .8-2.7 4zM507.8 162.8l0-.9 0 .9zM589 162.2l-.4 0 .4 0zM509.9 163.8l-.1-.6 1-.5-.7 .1-.4 .4 .2 .6zM590 162.8l-.6 0 .6 0zM591 163.2l-.6 0 .6 0zM592 163.8l-.5 0 .5 0zM600.2 166.8l-4.7-2 3.7 2 1 0zM512.8 166.7l0-.8 .4 .3-.4 .5zM469.4 166.8l-.2 .4 .2-.4zM512.2 167.8l-.4 .4-.4-.4 .8-1.3 .6 .7-.6 .6zM602.3 167.8l-1.9-.6 1.9 .6zM467.8 169.8l1-2.2-1 2.2zM591.2 167.8l-.5 0 .5 0zM511.2 168.8l0-.8 .4 .2-.4 .6zM592.2 168.3l.5-.1-.5 .1zM596.2 169.1l-.8-.3 1.3 0-.5 .3zM508.8 169.4l0-.3 0 .3zM510.8 169.3l0-.3 0 .3zM590.2 169.3l-.4-.1 .4 .1zM508.2 170l0-.3 0 .3zM591.8 169.8l-.8 0 .8 0zM593.2 170.4l-.9-.2 .9 .2zM594.8 170.9l-1.2-.1 1.2 .1zM596.2 171.4l-1.1-.2 1.1 .2zM597.8 171.8l-1.1 0 1.1 0zM599.2 172.3l-.8-.1 .8 .1zM608 172.2l-1 0 1 0zM509.2 172.9l0-.3 0 .3zM600.8 172.8l-.6 0 .6 0zM508.8 173.6l0-.6 0 .6zM604.2 173.5l-1.2-.3 1.7 0-.5 .3zM508.2 174.2l0-.7 .4 .3-.4 .4zM507.8 174.7l-.4-.5 .4-.3 .4 .3-.4 .5zM507.2 175.2l-.3-.4 .3-.4 .5 .4-.5 .4zM506.8 175.7l-.5-.5 .5-.3 .4 .3-.4 .5zM503.2 179l-.4 .2-.4-.4 3.8-3.5 .5 .5-3.5 3.2zM605.2 176.4l-1.4-.2 1.8 0-.4 .2zM607.8 177.1l-2.1-.3 2.5 0-.4 .3zM627.6 179.2l-.8 0 .8 0zM615.2 181.1l-3.4-.3 3.8 0-.4 .3z"/>
<path fill-opacity="0.200" fill-rule="evenodd" d="M530.8 59.8l-.6-.6 2-1.5 3 1.5-3.4-.1-1 .7zM522.8 60.4l-.7-.2 .7-1.4 2.4-1 .4 .4-2.8 2.2zM527.8 58.3l.4-.1-.4 .1zM538.8 58.3l.4-.1-.4 .1zM525.2 60l-.2-.2 .6 0-.4 .2zM487.2 185.8l-47.4 .2-.2-.8 7.6-.2 5-1.1 4-2.1 3.9-3.6 3.3-4 5.8-11.3 .5-.1 0-1 .5-.1 1.8-2.5 4.8-10.8 .4 .4-2.3 6-10.3 20.4 .8-.4 3.8-7 1-1-.1-.6 .7-.4-.1-.6 1.1-1.2-.2-.8 1.7-2.4 6.3-16.6 .7 0-.1-1.2 .7-.2 2.2-6.6 .6-.4 0-1 .5-.6-.7-.4 .3-.4 1 .4 .2-.6-1.1-1 .3-.4 1 .4 .6-.4 0-1.4-1 1.3-.3-.9 3.3-8 .5 1.4 0-1-.4-.4 .3-1.2 .6 .9 0-1.3 4-8 0-.4-.6 .3-.1-.9 .9-1 .2-1.6-1.4 1.6-1 2.4-1.2-.4 .8-.4 1.5-3.6 .8-.4-.1-1.6 1.2-.9 .6 .5-.6-1 1-.4 1.1-1.6 .3-1.7-2.4 3.5 1-4.2 1.4-2.7 1.1-.9-.5 .4-.3-.4 .7-1.6 .6 .7 1-1.3 1.7-3.8-.1-1 1.1-2.6-.3-.6-.3 .6-.7 .2 0-.6 3.6-5.3 .4 1 2.9-4.7 .7-.2 1-1.4-.4-.4 .5-.6-.3-1 2.6-4.4 1-1.1 .6 .1 .6-.6-.7-.4 2.6-2.6 1.5-2.1 .4 .7-.8 1 .4 .2 .6-1.2 2.8-2.8 .7 .2-1.1 1 .8 .6 2.6-1.1 .8 .5-1.7 1-1.3 2.6-1.8 2-1.3 2.4 .3 .4 .6-.3 .4 .6 2.2-1.7-.2-.3-1.4 1.2-.8-.3 1.3-1.6 1.8-3.4 .7-.7 1.8-.3 .9-1.6 .9-.4 .5-1.6 2.9-.9 .2 .9-1.5 .6 .2 1.4-2.7 1.6 0 1.4 2.8-.3 1.4 .3 1-1.1 1.6 1.7 5.4 2.8 .1 .6 1.5 1.2 1.4 .3 .5-.5-2.8-2 .3-.4 3.5 1.4 1.9 0 .6 1.2 1 .6 .8-.2-.2-.6 .4-.4 5 4-3.4-4.4-1 0-1 .8-2-1 1.4-.6 3 .2 2.4 2.4 6.2 4.2-.3-1.2-8.9-10 .2-.3 1 .5 3 3.1 1.4 .6 .2-.3-2.8-2.6-.3-1 .5-.5 4.4 4.1-.7 .4 4.4 5.6 10 10 .7 1-.4 .5 .6-.3 1.6 2.2 9.4 8.4 0 .5-.6 .1 4.6 5.3 1 .9 1.4 .4 5.6 5.5 3.8 2.9-.4 .5-1-.8-.4 .6-5-4.2-.6 1-4.6-4.5-1.8-1.1 2.9 4.1 2.5 2.4 2.6 1.7 .4-.3 2.9 2.2 .4 .4-.3 .7-2.5-1.1 3.5 3.4 2.1 1 7.9 6.7-.9-1.7 .5 0 10 9.2 7 5.5 19 11.6 0 .8 1-.2 0 .7 .4-.3 .5 .3-.1 .4 .6-.2 1.6 1.1 .4-.3 .6 .8 .3-.4-11.2-8 .9 0 12.4 7.8 9.1 4.8 14.5 6 .3 17.4-.3 4.7-29.4-1.1-10.6-1 5.2-.6-7.5-1-.9-.4 6.4-.6-17.3-3.4-1.2-.6 2.7 .4 2-.4-16-4.8-13.9-6.2 .5-.4 14 5.5 3.8 .9-11.7-5.4-10-6 .3-.5 5.6 3.3 5.3 2.2 .1 .5 2.6-.2 2 .9 .4-.2-9.4-4-3.6-2.4-.7-1.2 .7 0 3 1.7 .7-.1-5.7-3.2-.5 .2-.1-.6-6.8-4 .4-.3 4.6 2.3-12.9-10.4-4.5-6-4.2-3.9-1.7-2.7-4.2-4.4-1-.6-.4-1-2.1-1.4-.6-1.1-1.4 .7-.6-.3-.1-.9 .7 .1 .4-.6-1-.4-.4 .9-.9-.4 .3-.7 1 0 .5-.9-.9-.2-1 .6-1-.4-.1-.4 1.5-.7 0-.6-1-.3-.4 .7-.8-.7 .4-.4-1.2-.3 1.3 1.7-1.1 .6-1.2-1.2-1-.3 0-.7-1.2-1.4 .2-1.8 1 .4-.4 .4 .4 .5 .6-.1-1-1.6-.6-.3-3 .7 .1-1.2 1.1-.4-.6-1.2-.6-.1 0 .7-1.9 1-.1 1-2.2 2 .2 .6-.4 1 1.4-1.4 1 0 0 1.5-1 .3 0 1.3 .6 .1 1-1.2 1.4 .5-.4 1.3-1.3 0 .7 1.5 1 .3 .5-.8 .5 .1 3.6 3.7 .8 1.8 1.6 1.8 .6 .5 1.4 .1 .4 1 1.8 1.6-.2 .8-1.4-1-.6 .4-2-1-2.2-3.2-1.8-1.7-.8 .1-.1 .6 1.5 1.4 0 .9-2-1.8-1 .5-.6-.9-.5 .3-.3-.4 .9-1.6-1.5 .8-.7-.8 0-1 1.3-.4-1-1.6-1.1-1-.5 .2-.1 .8 .5 .6-.4 .4-2.8-2.4-.2-.6 .4-.1 1 .2 1 .9 .4-.4-.4-.7-.4 0-.6-1.3-.4 0-1 1.4-.6-1.2-1 1-1-.7-1.3-.1 .3-.5 1.6 .4 .3-.9-.9-1.1-3.8-2.3 1.2-1-.4-.8-.4 0-1.1 2.8-1.5 .2-.5 1.2 1.1-.4 .3 .4 .1 .6-.9 .4 .5 1 .7-.4 .2-1 1.7-1-.2 1.2-1 .6-.1 .6 .1 .7 2 .3-.8 1.6-.6 .3-1.6-1.4-1.4 2-.3-.5 .9-2.4-.2-.4-1 1.1-.4-.7 .6-1.6-.6-.1-4 6.6-.5-.5 .7-2.4-.5-.6 1.3-.7-.1-.7 1-1-.5-1.1 0 .5-1 .3 0 .7-4 5.2-.4-.2 0-1.4 1.4-1.8-.1-.8 1.3-1-1.2-.6-.8 1.2 .6 1-.8 .3-1.5 2.1 .1 1.5 1-.4 .1 .9-2.3 3.6 .4 .4-1.2 .7-1.4 2.3 .8 .5 .2 1.1-1.7-.6 .8 1-.5 .6 .8-.5 .7 .9-.7 .3 .2 1.3-.5 .4 .8 0 0 1-.5 .4-.6-.4-.5 .6-1.8 3 .2 .4-.8 .6-1.1 2 0 1.4 .6-.8 .4 .4-.5 1.4-2.6 4-5.3 13-4.6 7.6 1-1.1 .6 .9 5-5.7 .3 .3-1.9 2.8-3.4 3.8-.6-1-2.6 3.4 .2 .9 1-1.2 .5 .9-2.1 1.9-.4-.5 .4-.8-1 1.4 .6-.5 1 .8 .4-.1 3.1-2.8 4.9-6.2 1 .8-5.1 6 2.1-1.5 .5 .5-.8 1-6.9 6 2.2-.5 .5 .5-2.5 1.6 3.2-.2-1.2 1-1.9 .6-10.1 1zM537.2 61.3l-.5-.1 0-.4 .5 .5zM522.2 61.4l-.7-.2 .7-.2 0 .4zM528.2 62.8l-.4-.6-.6 .6 1 0zM539.8 63.3l-.7-.1-.1-.4 .8 .5zM533.2 64.3l-1 .4-.1-.5 1.7-.8 .4 .4-1 .5zM540.8 64.1l-.8-.3 1 0-.2 .3zM548.2 64.9l.3-.1-.3 .1zM543.8 66.3l-1.6 0-.5-1.1 2.5 0 1.1 .6-1.1 0-.4 .5zM547.2 66.2l-.6-.4 .2-.5 .7 .5-.3 .4zM547.8 66.4l-.5-.2 .9 0-.4 .2zM520.8 76.2l2-.7 2.4-2.4 1.6-.9 1-1.8 .9 .4-.3 1.4-.9 1 .3 .4 1-.3 .4-.8 1.8-.3-.8-1.2-1-.6-.4 .2-1.5-1.4-.1-.4 .6-.6 2-.2 1.2 2.2 1.2 1 1 .4 1-.4-1-1.2-1-.3-.3-.9 .6-1-.3-.4-.4 .5-1.6-.3-1.4-1-3.9 1.6-.1 1.4-1.9 .6-.9 1 .8 .6-1.1 1.4 .1 .6-2.6 1.2-.5 .8 .5-.2 1.6 .6zM537.8 66.8l-.6 0 .6 0zM541.2 67.3l-.6-.1 .2-.6 .6 .2-.2 .5zM522.6 67.8l.5-.6-.3-.3-1 .9 .8 0zM538.8 68.3l-.2-.5 .4 0-.2 .5zM547.2 68.4l-1-.5-1 .6-.8-.7 .4-.4 2 .1 .6 .3-.2 .6zM549.8 68.9l0-.4 0 .4zM513.4 74.2l1.1-1 .2-.4-.4-.6 .9 .1 1.3-1.1 .8-2-4.1 4-.3 1 .5 0zM550.2 69.7l0-.7 0 .7zM526.8 70.3l-.2-.5 .6-.1-.4 .6zM550.8 70l-.5-.2 .5-.4 0 .6zM512.3 72.2l-.1-.5-.4 0 .5 .5zM515.2 72.2l-.3-.4 .3-.4 0 .8zM543.6 71.8l-.7 0 .7 0zM544.5 71.8l-.5 0 .5 0zM536.5 74.8l-.4-.6 .1-.8 1 0-.3-.6-1.1 .4-1-.1-.4-.3 .4-.8-.6 .1-.2 .7 .8 1 1.4 1.2 .3-.2zM518.7 73.2l.1-.7-.9 .7 .3 .4 .5-.4zM532.9 73.8l-1.1-1.2-.9 .6 .3 .7 1.7-.1zM542.8 73.2l-.6-.3 0 .3 .6 0zM510.5 76.2l1.4-2-.1-.6-1.7 1.6 .1 1.5 .3-.5zM527.1 74.8l-.8 0 .5 .3 .3-.3zM549.8 76.8l-.4-.6 .3-.4-1.5-1.2-.4 .5-2.5-.3 .9 1.2 1.6 .4 .4-.5 1.6 .9zM527.8 75.8l0-.6-.5 0 .5 .6zM529.7 75.8l-.5-.6-.3 .6 .8 0zM545 78.8l.8-1-1 0-2-2-1.1 .4 2.5 2.4 .8 .2zM508.2 76.4l0-.3 0 .3zM523.2 78.2l0-.7 1-.3-1-.5-.4 .9-1-.3-.5 .5 1.5 .7 .4-.3zM528.3 77.8l.9-1-.4-.4-.8 1.4 .3 0zM566.8 83.8l-1.6-2.6-5-4.5 6.6 7.1zM506.2 77.4l.4-.2-.4 .2zM508.2 77.6l-.6-.4 .6-.2 .4 .2-.4 .4zM530 77.2l-.2-.3-.3 .3 .5 0zM532.3 78.2l.5-.4-.6-.6-1.5 0 .5 1 1.1 0zM505.2 79.9l-.5-.7 1.1-1.7 .3 .7-.9 1.7zM567 92.2l-2-2-2-3-3.1-2.4 .1-.6-3.2-4.1-2.6-2.2-2.2-.1 1.7 2 1.1 .3-.2 .7 .9 1.4 1.4 .6-.9-1 .2-.5 1.8 1.5 3.2 3.4 .3 1 3.7 4.6 1 .6 .8-.2zM516.2 78.8l.4-.6-.4-.3-1.1 .9 .1 .4 1-.4zM520.6 80.2l.9-1-.3-.6-.4 .5-.5-.3-.1-.9-.9 .9-.5 1.4 1.4 .4 .4-.4zM525.9 79.8l.3-1.8-.7 .2-.7 1 .4 1 .7-.4zM551.3 79.2l.1-.4-.9-.6 .8 1zM517.9 80.8l1.1-2-.2-.5-1 1.5-1 .4 1.1 .6zM508.4 80.8l1.1-1.6-.3-.4-1 1.4 .2 .6zM520.2 79.7l0-.9 .4 .4-.4 .5zM531.4 79.2l-.2-.4-.4 .4 .6 0zM547.4 79.2l-.7 0 .7 0zM519.8 80l0-.4 .4 .2-.4 .2zM527.4 80.2l.4-.5-.6 .9 .2-.4zM504.8 81.1l-.5-.9 .5-.3 0 1.2zM550.6 80.2l-.4 0 .4 0zM553.1 81.2l-1.3-1.4-.6 .4 1.6 1.4 .3-.4zM555.2 80.9l-.3-.1 .3-.3 .4 .3-.4 .1zM514.4 81.2l-.2 .4 .2-.4zM516 82.2l.6-1-.4-.1-.4 1.5 .2-.4zM519.3 81.8l.5-.8-.5 .8zM527.1 81.2l-.5 0 .5 0zM535.3 81.8l-.5-.7-.6 .7 .6 .4 .5-.4zM547.6 81.8l-.8-.8-.4 .2 .4 .6 .8 0zM555.8 81.5l0-.6 .4 .3-.4 .3zM504.2 82.4l0-1 0 1zM510.8 82.2l0-.5-.5 .5 .5 0zM521.4 83.8l.8-2.1-1.3 1.1 0 1 .5 0zM523.9 82.2l.3-.4-.4-.4-.5 .8 .6 0zM516.8 82.8l.6-.6-.2-.4-.4 1zM518.7 83.2l-.5 0 .5 0zM523.1 83.8l.1-.8-.7 .8 .3 .3 .3-.3zM524.6 84.8l1.2-1.7-1 .4-.9 1.3 .7 0zM509.8 84.2l0-.7-.6 1.2 .6-.5zM561.1 87.8l-3.3-3.8-.6-.3-.6 .5 3.2 3.4 1.3 .2zM520.1 84.2l-.5 0 .5 0zM505 85.8l.2-1.2-.7 1.2 .3 .3 .2-.3zM549.6 85.2l-1.1-.4 .7 .7 .4-.3zM531 85.2l-.5 0 .5 0zM517.9 86.2l-.1-.6-.2 .6 .3 0zM531.9 86.8l.5-.6-.2-.6-.5 .2 .2 1zM508.9 86.2l-.1 .4 .1-.4zM512.3 86.8l.5-.2 0-.6-.5 .8zM537.3 86.2l-.6 0 .6 0zM502 86.8l-.2-.5-.4 .5 .6 0zM504.3 86.8l-.1-.3 .1 .3zM547 86.8l-.7 0 .7 0zM549.9 87.8l-1.3-1 .6 1 .7 0zM526.5 87.8l-.4 0 .4 0zM552.8 88.2l-.7-.4 .7 .8 0-.4zM558 88.2l-1.3-.4 1.1 .8 .2-.4zM528.5 89.2l.3-1-1-.3-.6 1.1 1.3 .2zM516.3 89.8l.5-1.2-1.1 1.2 .6 0zM552.3 90.2l-1.1-1.4-1-.5 0 .8 2.1 1.1zM500.2 89.7l0-.8 0 .8zM535.3 89.8l-.1-.7-.6 .7 .7 0zM556.6 93.2l.1-.4-2.2-2-1.3-2-.3 .4 .9 1 .2 1 1.8 1.9 .8 .1zM562.1 90.8l-1.3-1.8-.5 .2 1.1 1.6 .7 0zM518.8 90.2l0-.8-.6 .4 .6 .4zM499.8 91.1l-.4-.3 .4-.9 .3 .3-.3 .9zM502.1 90.8l.1-.8-.6 .8 .2 .4 .3-.4zM526.8 90.8l-.6-.8 0 .8 .6 0zM499.2 92.2l0-1.3 .4 .3-.4 1zM538 92.8l-1.5-1.6-.9 0 1.8 1.6 .6 0zM542.5 92.8l-1.3-1.7-.8 .1 .4 .7 1.7 .9zM501.5 91.8l-.3-.4 0 .6 .3-.2zM529.3 93.8l.5-.6-.6-.6-.6 .6 .7 .6zM532.3 93.2l.7-.4-.2-.4-.7 .4 .2 .4zM557.5 92.8l-.6 0 .6 0zM498.8 94.1l0-1.3 0 1.3zM579.9 98.2l.5-.4-.6-.8-4.5-3.8 2.9 4.1 1.6 1.3 .1-.4zM516.8 94.2l.4-.7-.4 1.1 0-.4zM567.5 94.8l-1.5-1 1.2 1.3 .3-.3zM498.2 95l0-1 .4 .2-.4 .8zM534.9 100.2l.1-1 1.8-1.4-1-.6-.5-1 .8-1.4-.9-.7-1 1.1-1-.7-1.4 .2-.6 .6 2 .6 .6 .9 1.9 .4-.7 1.6-.7 .4-.5-.2 .3-.8-.3-.2-1.4 .8 1.6 1.4 .9 0zM575.4 96.8l-1.6-2-1.2-.6 .6 1.2 2.2 1.4zM522.8 99.8l1.6-2.6 .4-2.8-2.1 1.8 .6 1.6-.2 1-.7 .4 .4 .6zM497.8 95.9l0-.7 0 .7zM516.5 95.2l-.4 0 .4 0zM535.2 95.6l-.9-.4 .5-.3 .7 .3-.3 .4zM533.8 95.9l-.4-.1 .4 .1zM538.9 95.8l-.3 0 .3 0zM572.3 96.8l-1.2-1 1.2 1zM531.4 97.8l.6-.6-.8-.3-.4 .3 .6 .6zM582.2 97.5l-.3-.3 .3-.1 0 .4zM517.3 98.8l.5-1.1-.6 .5 .1 .6zM579.8 98l0-.5 .3 .3-.3 .2zM582.8 98l0-.4 0 .4zM530.3 99.2l-.1-1-.4-.4-.6 .2 0 1.3 1.1-.1zM521.4 100.2l.4-1.5-.9 1.5 .5 0zM520 100.2l.6-1-.8 .4-.2 .6 .2 .4 .2-.4zM584.8 100l0-.4 0 .4zM530.9 101.8l.9-1-.6-.9-1.4 1.8-1-1.4-.8 .5 .2 .5 .6-.2 1.4 .9 .7-.2zM539.5 100.2l-.3 .4 .3-.4zM580.3 103.8l-1.7-2.6-1.8-1.2 .6 1.2 2.9 2.6zM585.2 100.7l-.3-.5 .3-.1 0 .6zM586.2 101.7l-.9-.9 .5-.3 .8 .7-.4 .5zM586.8 102l-.5-.2 .5-.4 .3 .4-.3 .2zM544.4 102.8l-.4 0 .4 0zM572.4 103.2l-.7-.4 .7 .4zM542.1 105.8l1.1-.3-.4-1.1-.6-.1-.4 .9-2.8-2 .7 .6 .3 1.4 1.8 .8 .3-.2zM541.9 103.8l0-.6-.7-.1 .7 .7zM517.4 105.8l1.2-1.6 .1-.4-.5-.4-1.1 1.8 .3 .6zM574.5 105.2l-1.3-1.1 1 1.4 .3-.3zM513.8 106.2l.8-1.4-.4 0-.4 1.4zM528.9 115.2l1.6-1 2.3-4.3 1 .4 2-1.1 .4-1.4 1-.2 1 .6 1 2 2 1-.4 1.4 2-.4 .7-1-2.7-1.4-1-1.6-.9-.4-.1-1.3-2.6-1.7-.4 .4 .7 1-.8 .6 .5 1-.4 .1-1-.7 .3-.4-.9-.2-1.6 2.2-.1 1-2.1 2-1.6 3.8 .1-.4zM582.9 105.8l-.7-.7 .7 .7zM520.3 106.2l.5-.6-.5 .6zM493.2 106.4l.3-.2-.3 .2zM549.5 110.8l.5-.6-1.7-1-.1-.8-2-1.9-.4 .2 0 .8 1.4 .3 1.6 2.7 .7 .3zM577.4 108.8l-1.6-1.7 .4 1.1 1 .8 .2-.2zM544 107.8l-.3 0 .3 0zM494.1 108.2l-.6 0 .3 .5 .3-.5zM507.3 108.8l-.1-.7 .1 .7zM545.3 108.8l-.1-.6-.8 0 .4 .8 .5-.2zM552.6 109.2l-1.8-1.4-.2 .4 1.2 1.2 .8-.2zM511.1 111.2l1.3-1 .4-1.9-2.1 2.9 .4 0zM506.8 110.2l0-.5 0 .5zM527.3 111.8l.6-1-.1-1-.6-.1-.9 .5 .5 1.3 .5 .3zM529.4 110.2l-.6 0 .6 0zM546.9 110.2l-.5 0 .4 .5 .1-.5zM582.3 112.2l-2.5-2 2.5 2zM538.3 111.8l.5-.6-1.6-.8-.4 1.6 1 .2 .5-.4zM554.2 111.2l-.4-.5-.5 .5 .9 0zM529 112.2l-.2-.6-.7 .6 .1 .4 .8-.4zM535.6 112.2l-.8-.9-.7 .5 1.1 .7 .4-.3zM524.9 115.2l1.7-2-.4-.9-1.9 1.9 .6 1zM533.7 112.8l-.5-.4-.3 .4 .8 0zM544.2 113.2l0-.9 .4 .5-.4 .4zM550 114.2l-1.8-1.4 1.6 1.7 .2-.3zM603.8 118.6l-6.5-5.8 .5-.4 .5 .4 5.9 5.4-.4 .4zM672.8 162l-11.9-4.8 1.3 0 1.6 .8 .8-.2-17.1-8.6-18.7-10.9-15.6-11.5-1.7-2-4.2-3-.5-.6 .5-.4-.4-.6-4.9-4.4-2.2-3.4 16 14.5 16 12.1 10.4 6.5 12 6.3 8.6 4.1 10 4 0 2.1zM491.8 114.1l0-.9 0 .9zM540.7 114.2l-.1-1-1.4-.4-1.7 1 .7 .4 1-.3 .6 .8 .9-.5zM527.3 114.8l.5-1.2-.5 1.2zM603.8 121.4l-7.5-7.2-.1-.8 2 1.4 5.2 5.4 .4 1.2zM537.8 115.2l-1-1.1 1 1.1zM489.2 114.8l-.5 0 .5 0zM490.2 115.2l0-.7 0 .7zM515.4 114.8l-.4 0 .4 0zM534 115.2l-.7 0 .5 .4 .2-.4zM537.2 116.8l-.6-1-1.4-.8 .7 1.8 .9 .4 .4-.4zM543.2 116.3l-.9-.1-.1-.7 1.6-.3 0 .8-.6 .3zM557 115.8l0-.6-.8 0 .8 .6zM488.2 116.3l0-.6 0 .6zM523.1 117.8l1.1-1.1-.4-1.2-1.4 .7-.5 1 .3 .8 .9-.2zM546.8 116.1l-.5-.3 .5-.4 .4 .4-.4 .3zM502.8 116.2l0 .4 0-.4zM544.8 116.3l-.9-.1 .9 .1zM559.4 116.2l-.4 0 .4 0zM487.8 116.9l0-.6 0 .6zM558 116.8l-.5 0 .5 0zM487.2 118.1l0-.5 0 .5zM538.3 118.2l-.1-.5-.5 .1 .1 .7 .5-.3zM594.8 118.8l-1.3-1 1.3 1zM533.8 118.6l-.4-.4 .4 .4zM606.2 120.7l-2.3-1.9 .3-.5 1 .7 1.5 1.2-.5 .5zM486.8 119.4l0-.6 0 .6zM513.1 121.8l1.1-1.6 0-.4-.4-.3-1.2 2.3 .2 .3 .3-.3zM486.2 120.7l0-.6 0 .6zM546.8 121.3l-1-.4-.2-.7 1.1 0 .4 .6-.3 .5zM547.8 120.3l-.6 .3-.4-.4 1 .1zM488.8 121.1l0-.4 0 .4zM610.3 131.8l-6.5-6.4-6.2-4.6 9.6 9 2.6 2.1 .5-.1zM606.8 121.2l-.5-.4 .5-.5 .4 .5-.4 .4zM516.8 121.8l0-1 0 1zM548.8 121.9l-.6-.7 .7 0-.1 .7zM609.4 122.2l-1.3-1 1.3 1zM510.3 121.8l-.1-.5 .1 .5zM530.2 122.3l0-.6 0 .6zM535.2 122.3l-.4 .1-.3-.6 .6 0 .1 .5zM538.8 122.7l0-.7 .3 .2-.3 .5zM547.8 122.8l-.4-.6 .4-.2 .4 .2-.4 .6zM551.2 123.7l-1.7-1.5 2.1 .6-.4 .9zM552.8 122.9l-.9-.1 .2-.6 .7 .7zM516.3 122.8l-.1-.4-.2 .4 .3 0zM529.8 123.1l-.5-.3 .5-.4 0 .7zM537.2 127.4l-2-1.3-.5 .1-.5-1.4-1.1-1 .1-1.4 1.4 .4 .2 1 1.4 1.2 .6 0 .8 1.8 .1 .4-.5 .2zM605.2 123.2l-.2-.4 .2 .4zM531.2 124.3l-.4 0-.1-.5 .5-.7 .4 .7-.4 .5zM537.2 124.8l0-1 1-1 .2 .4-1.2 1.6zM541.2 123.3l-.3-.1 .3-.4 0 .5zM561.1 123.8l-.9-.6 .9 .6zM553.8 124.5l-.7-.3 .1-.7 .6 .3 0 .7zM485.2 124.4l0-.3 0 .3zM506.8 126.2l0-.4 .7-.6 .3-1.3-1 2.3zM527.8 126.3l-1.5-1.5 .5-.8 1.4 1.5-.4 .8zM521.8 128.9l-.2-2.7 1.6-1.9 .5 .5 0 1.4-1.9 2.7zM552.2 125l0-.5 .5 .3-.5 .2zM484.2 127.1l-.2-.9 .8-1.3 .2 .9-.8 1.3zM487.5 126.8l.3-2-.2 1-.6 .4 .2 1 .3-.4zM518.5 125.2l-.3-.3-.4 .3 .4 .4 .3-.4zM525.8 126.4l.4-1.6 .3 .4-.7 1.2zM533.2 127l-.6-.8 .2-.8 1-.3 .2 1.1-.8 .8zM554.2 125.9l-1 .1-.8-.8 .4-.4 1 .3 .4 .2 0 .6zM510.4 126.8l.4-1.2-.7 .6 .3 .6zM578.3 127.8l-1.5-1.8-.8-.2 2.3 2zM488.9 126.2l-.1-.4 .1 .4zM557.2 129.7l-1.4-.9-1.6-2 .6-.7 .4-.2 .1 .9 2.2 2-.3 .9zM558.8 126.8l-.8 0 .8-.6 0 .6zM529.2 128.3l-.5-.1 1.1-1.8 .1 1.4-.7 .5zM534.2 126.9l0-.3 0 .3zM506.4 127.8l-.2-.9-.1 .9 .3 0zM483.8 128l0-.6 0 .6zM486.4 129.8l.6-1.6-.2-.8-.7 1.4-.1 1 .4 0zM525.2 127.8l-.4 .4-.2-.4 .6-.4 0 .4zM530.8 127.8l.3 0-.3 0zM534.2 127.9l0-.3 0 .3zM531.8 128.8l-.2-.6 .6-.4 .3 .4-.7 .6zM535.2 128.4l-.7-.2 .7-.1 0 .3zM542.2 132.3l-.6-.1-1.5-2-1.3-.6 0-1.3 1.7-.1-.2 .6 .7 .4-.4 .6 .4 .4 1.4 .6-.2 1.5zM483.2 129.5l0-.6 0 .6zM512.4 129.2l-.2-.3 0 .7 .2-.4zM520.2 132.1l-.4-1.3 1.4-2 .6 1-1.6 2.3zM523.8 129.5l0-.4 0 .4zM554.2 134.9l-5.6-4.1-.8-1.6 .4-.3 .6 .3 2 1.7 3.4 4zM531.2 130.8l-.5-.6 .5-.5 0 1.1zM563.2 134.7l-2-1.6-2-.7-.3-.6 .3-.6-1.9-1.4 1 0 3.5 2.5 1.4 1.6 0 .8zM482.8 131.2l-.2-1 .6-.2-.4 1.2zM511.4 131.8l.4-.6 0-1-.7 1 .1 1 .2-.4zM542.8 130.4l0-.5 0 .5zM537.8 131.9l-.5-.1 .5-.9 .5 .3-.5 .7zM547.2 131.4l.5-.2-.5 .2zM482.2 132.9l-.3-1.1 .9-.5 .1 .5-.7 1.1zM556.8 131.8l.2 0-.2 0zM505.3 132.8l-.1-.6 .1 .6zM521.2 132.8l0-.7 .4 .1-.4 .6zM530.2 132.7l0-.7 0 .7zM546.8 132.8l-1 0 0-.6 .9 0 .1 .6zM508 135.8l1.2-3.1-1.6 2.5 .2 1 .2-.4zM555.8 133l0-.4 0 .4zM569.9 132.8l-.4 0 .4 0zM481.8 133.9l0-1 .3 .3-.3 .7zM520.2 133.9l0-.7 .6-.3-.6 1zM543.8 134l-.8-.2-.1-.6 .8 0 .4 .6-.3 .2zM556.2 133.4l0-.3 0 .3zM509.8 134.2l.4-.6-.4 1.1 0-.5zM556.8 134l-.4-.2 .4-.3 .3 .3-.3 .2zM514.5 134.2l-.3-.4 0 .9 .3-.5zM518.8 136.5l-.5-.3 .1-.4 1.4-1.8 0 .8-1 1.7zM544.8 135.8l-.9-.6 .9-1.1 .5 .7-.5 1zM557.2 134.4l0-.5 0 .5zM618.2 136.2l-3-2 1.6 1.1 0 .5 1.4 .4zM564.8 136.2l-1.5-1.4 .5-.2 1.4 1.2-.4 .4zM504.4 135.2l-.5 0 .5 0zM561.8 135.5l-.7-.3 .1-.4 .6 .7zM562.8 137.3l-.8-.5 .1-1 1.3 .4 .1 .6-.7 .5zM503.4 137.2l.4-1.3-.7 .9 .1 .7 .2-.3zM509.1 136.2l-.3-.3-.4 .3 .7 0zM543.2 136.8l0-.9 0 .9zM556.8 136.6l-.4-.4 .4 .4zM569.2 140.2l-4.4-4 .4-.4 .6 .4 3.7 3.6-.3 .4zM507.6 137.2l-.4-.6-.1 .6 .5 0zM518.2 137.2l0-.9 0 .9zM536.8 137.4l-.4-.2 .4-.6 0 .8zM557.2 137.1l-.3-.3 .5 0-.2 .3zM619.7 137.2l-1.2-.4 1.2 .4zM558.2 138.1l-.9-.9 .9 .2 0 .7zM517.2 139.9l-.4-.2-.2-.9 1.2-1.5 .1 1.9-.7 .7zM527.8 138l-.6-.4 .6 .4zM621.4 138.8l-1.3-1 1.3 1zM558.8 138.5l0-.5 0 .5zM589.5 152.2l-17.9-14 5.2 5.2 11.4 8.4 1.3 .4zM559.2 139.2l0-.7 .4 .3-.4 .4zM512.4 139.2l-.2-.3 0 .6 .2-.3zM559.8 139.4l-.4-.2 .4-.2 0 .4zM623.6 140.2l-1.6-1 1.6 1zM506 142.2l1.2-2.4-.4-.3-1.1 1.7-.1 1 .4 0zM512 140.8l-.2-.7 0 1 .2-.3zM569.8 140.6l-.5-.4 .5-.3 .4 .3-.4 .4zM572.2 142.4l-2.3-1.6 .3-.5 2.5 1.9-.5 .2zM625 141.2l-.9-.4 .9 .4zM479.8 141.5l0-.3 0 .3zM566.8 141.6l-.3-.4 .3 .4zM567.2 142.1l-.4-.3 .4 .3zM479.2 143.2l0-1 .4 .6-.4 .4zM511.4 142.2l-.2-.4 0 .8 .2-.4zM567.8 142.6l-.4-.4 .4 .4zM568.2 143l-.3-.2 .3 .2zM572.8 142.8l0-.5 0 .5zM581.4 144.2l-1.9-1.4 1.9 1.4zM637.8 148.2l-9.2-5.4 5.6 4 3.6 1.4zM481.8 143.8l0-.6 0 .6zM510.4 144.8l.5-1-.1-1-.8 1.4 0 .6 .4 0zM478.8 144.6l0-1.1 0 1.1zM512.8 144.7l-.4-.5 .4-.6 0 1.1zM569.2 144.2l-.3-.4 .3-.2 0 .6zM503.5 147.2l1.4-2 .3-1.4-1 1.7-.5 .3-.7 1.4 .2 .4 .3-.4zM577.8 150.7l-7-4.9-1.5-1.6 .5-.2 3 1.9 5.3 4.3-.3 .5zM478.2 146.1l0-1.3 .4 .4-.4 .9zM512.2 145.7l0-.9 0 .9zM525.8 146.2l0-.7 0 .7zM477.2 148.6l-.1-.8 .7-1.7 .3 .1-.9 2.4zM525.2 146.9l0-.9 .5 .2-.5 .7zM637.2 151.8l-8.8-5 3.3 2.4 5.1 2.7 .4-.1zM504.9 156.8l-.1-.6 .8-.4-.1-.6 3.4-5.4 .7-2-.4-.9-.6 .3 .2 .6-2.2 4-1.9 4.4 .2 .6zM502.4 149.2l.4-1.3-.7 .9 .3 .4zM523.8 148.5l0-.4 .4 .1-.4 .3zM588.8 149.8l-.6-.6 .6 .6zM479.3 150.8l.5-1.2-.5 1.2zM519.2 150.8l0-.3 0 .3zM584.8 156.1l-5.1-3.3-1.9-2 .4-.4 6.6 5.2 0 .5zM521.2 151.4l0-.4 0 .4zM520.8 151.9l0-.3 0 .3zM582.8 152.2l-.6-.7 .8 .3-.2 .4zM518.2 152.4l0-.5 0 .5zM638 152.2l-.6 0 .6 0zM509.2 153l0-.5 0 .5zM638.9 152.8l-.5 0 .5 0zM647.9 152.8l-.4 0 .4 0zM511.8 154.6l0-.5 0 .5zM575.2 154.3l-.5-.1 .5 .1zM504.4 154.8l-.4 0 .4 0zM576.2 155l-.4-.5 .4 .5zM498.9 155.2l-.1 .5 .1-.5zM511.2 155.5l0-.4 0 .4zM576.8 155.5l0-.4 0 .4zM501.8 159.8l2.1-4-.1-.4-1.7 2.8-.3 1.6zM515.2 156.6l0-.9 .4 .5-.4 .4zM577.8 156l-.6-.4 .6 .4zM641.8 155.8l-.4 0 .4 0zM648.4 155.8l-.3 0 .3 0zM498.3 156.2l-.1 .4 .1-.4zM510.8 156.5l0-.4 0 .4zM578.2 156.5l-.2-.3 .5 0-.3 .3zM586.2 157l-1.3-.8 .9 0 .6 .6-.2 .2zM647 158.2l-4.7-2 3.9 2.1 .8-.1zM649.7 156.2l-.6 0 .6 0zM579.2 157l-.5-.2 .5-.1 0 .3zM650.8 156.8l-.6 0 .6 0zM660.8 156.8l-.9 0 .9 0zM579.8 157.4l-.4-.2 .7 0-.3 .2zM590.2 157.4l0-.3 0 .3zM651.9 157.2l-.5 0 .5 0zM580.8 157.9l-.6-.3 .6 .3zM591.2 158l-.6-.2 .6-.3 0 .5zM653 157.8l-.5 0 .5 0zM581.2 158.3l.4-.1-.4 .1zM665.6 158.2l-.7 0 .7 0zM648 158.8l-.7 0 .7 0zM666.7 158.8l-.5 0 .5 0zM503.4 161.8l1.3-2.6-.6 0-.9 2.9 .2-.3zM588.8 159.5l-.6-.6 1 .3-.4 .3zM649.1 159.2l-.6 0 .6 0zM650 159.8l-.4 0 .4 0zM510.2 162.1l-.3-.3 .3-.2 0 .5zM586.2 161.9l.4-.1-.4 .1zM587.2 162.4l-.4-.2 .8 0-.4 .2zM511.2 163l0-.7 .5 .5-.5 .2zM588.2 163l-.4-.5 .8 .3-.4 .2zM589.2 163.5l-.6-.3 .2-.3 .8 .3-.4 .3zM514.2 164.1l0-.4 0 .4zM590.2 164.1l-.7-.3 .3-.4 .9 .4-.5 .3zM510.8 164.4l0-.3 0 .3zM591.2 164.6l-.8-.4 .4-.4 .9 .4-.5 .4zM507.2 169.6l-.8-.8 3.8-4.4 .1 .8-3.1 4.4zM592.2 165.2l-.9-.4 .5-.5 .9 .5-.5 .4zM494.8 165.2l0 .4 0-.4zM506.2 165.9l0-.5 0 .5zM606.3 166.2l-.8 0 .8 0zM493.9 172.2l.3-.5-.3 .5zM611.8 171.8l-.6 0 .6 0zM506.2 173l-.3-.2 .3-.4 0 .6zM500.2 173.4l0-.4 0 .4zM505.8 173.6l-.4-.4 .4-.3 0 .7zM492.3 174.2l.5-.6-.5 .6zM499.8 174.3l0-.7 0 .7zM505.2 174.2l-.3-.4 .3-.4 .4 .4-.4 .4zM504.8 174.7l-.5-.5 .5-.3 .4 .3-.4 .5zM499.2 174.9l0-.5 0 .5zM623.9 176.8l-1.5 0 1.5 0zM494.3 179.8l1.1-1-1.1 1zM629.2 180.5l-2.2-.3 2.5 0-.3 .3zM501.2 180.8l-.5 0 .5 0zM638 180.8l-.8 0 .8 0zM500.2 181.4l-.4 .3-.4-.5 .8-.2 0 .4zM629.8 182.3l-.9-.1 .9 .1z"/>
<path fill-opacity="0.250" fill-rule="evenodd" d="M523.8 59.3l-.6-.1 1-.6-.4 .7zM527.8 61.8l-.6 0 .2-.6 2.1-.4-.2 .4-1.5 .6zM526.2 63.8l-.4 .3-.2-.3 .6-.4 0 .4zM486.2 185.8l-46.4 .1-.2-.7 8.2-.2 3.4-.6 3.6-1.4 7-5.6 5-8.1 0 1-3.6 7.1 1.7-1.6 4.3-6.4 4.4-8.6 2.6-7.4 .5 1.4-.7 .4 .9 .6-1.2 1 .4 .4-1 1.6 .1 .5 4.7-9.1 3.3-9.6-.9 .2-.4 2-.7 .4 0-1 2.4-4 2.8-7 .3-2 1.4-.4 3.7-9.6 0-.7-3.6 8.2 0-1.8 1.7-4.7 4.5-10 1.4-5.4 1.9-4.6 0-2 .6-.4-.4-.6 1-.4-.3-.6 1.6-3 .8 .6 0 .4-.8 .6 .6 .9 .6-1.5-.4-1 .2-.4 .7 0 1.7-4-.5-.6 .9-.4-.2-.6 1.4-1.4 .6 .5 .2-.5 1.2-.4 .6-1.2-1-.6-.6 1-1-.5-1 1.5-.2-1.4 1.8-2.6 .4 .7 .6-.6 .3-1.5 2.1-3.1 .4 .7-2.1 3.4 .3 .9 2.5-3.3 .2-.6-.6-.4 .8-1.6 1.1-.9 1-.1 3.1-2.4-.1-.6 2.2-3-.2-.4-2 1.5-.6-.6-1.4 1.3-.6-.2 1.5-3.6 1.2-.4-1 1.4 .3 .6 1-.5 .9-2.1 1.7-2 1 0-1.9 2-.1 1.1 1.6-1.1 1.1-2 1.4 0-5.3 8.6 .2 .4 .4-.3 .3 .3-.4 2-2 2 .3 .6-3.6 3.2-.7-.2 1.9-3.6-.2-.4-.7 1-3.2 6.4-.7 3.6 .9-1 1.2-3.6 1.5-1.7 1-.1 1-1.1 .4 .5-.6 1 .2 .8 1.1-1.4 .2-1 1.7-1.6 .2 .2 .2 .4-2.7 4.6 .3 .6 1.4 .6 .4-1.2 1.1-1 .5-1.5 .5 .5-.9 1 .4 .9 1-.5 .1-1 2.1-2.4 2.1-1 1.3-2.3 1-.6 .8 .9-.1 .4-1.9 1.6-.3 1 .5 .7 1.4-.6 .6 1.8 2.4 .3 .6-.8-2-.2 .2-1.8-1.2-.7 0-.6 .4-.1 1.6 1.2 1-.5 .5 .7-.6 .6 .5 .8 1.6-1.1 1 .6 .4-.3-.3-.6-.7 .5-.2-.5 1-1.4-.8-1-1.4-.2-.6-1.5-2 0-.7-.9 2.7-1.3 1 1.3 4.5 .6-1.4 1 .9 .6 1-.9 .6 .1 .6 .6-.2 .6 2.5-1.6-.5-.7-2 .3-.1-.6 .7-.4 0-1 1-.8 2 1.5 2.9 .7 .1 .6-.6 .5-.4-.2-3.2 1.1-.1 1-1.1 .6 .4 .4 1 .8 1 0 .4-.2-.4-.6 1.4-1.1 3.6 3 1-.4 1.2 .5-.2 .9-1.6-.8-1.3 .9 .3 .6-.4 .2-.5-.8-1.1-.4-.2 .4 2.2 2.4 .4-.4-.7-.4 .3-1 2.6 .7 .5-.3-.5-1 .4-.3 .6 .4 2.4-.3 2 1.4 1-.1 2.2 .9-.9 .6 3.5 3.4-.3 1-.5 .1-3.4-4-2.6 1.1-2.4-2.3-1 .9-1.6 .2 .6 2 1.7 2-.3 1-.8 0-.2 .7 1.6-.8 .9 .7 0 .4 1.5 .8-.3 .8 2.9 .9 1.4 1 1.6-.1 1 1.6 1 .6 .4-.6-2.7-3-.7-.6-.6 .4-1-.9-3.7-4.9 .7 0 1.6 1.1 1.4-.7 2 2.1 1.8 1.1 .8-.1 3 2.4 .6 .1-.4-.4 .2-.3 .6 .2 4.4 4.8 0-1.7-1.9-1.6 2.2-.4-2.6-2 .2-.6-.9-1.8-.4 .1-2.7-2.3-.6-1.4 .3-.5 2 2.1 0-.6-1.6-1.6-1 .2-2-1.7-3.4-3.9-1.5-1-.3-.6 .4-.4-1.8-1 .5-1-1.7-1.6-.2-.8 4.6 3.6 1 .3 0 1.2 .4-.4 1.1 1.7 1.5 1-1.7-4-5.9-6.6-.4-.4 .4-.3 4 2.6 1.6 1.7 .4 .4-.5 .6 2.1 3 4.9 5.4-.5 .3-1.4-.9 .5 1.2 7.6 5 2.7 3.4 .6 1.6 7.7 9 1.1 2.4 1 1-.2 .4-.6-.3-3-3.4-3.3-2.7 0-.4-1-1-.4-1.6-1.7-1.9-2-1.3-.2 .8 .8 1 3 2.4 .2 .6-.5 .4 1.3 1-.4 .6 2.8 3.4 8 6.7-.9-1.1 .3-.7 3.2 2.7 1.9 2-.9 1 .8-.5 3 2.9 2.8 2 3.7 4-1.3-.4-8.4-6.6 4.2 5 2 1.9 1.6 .6 4 3.8 1 .3 7.4 7 5.6 4.1 1.4 1.9 4.1 2.4 1.7 1.6 .3 1-3.1-2.1-1 .4-6-4.1 .6 .8 5.4 3.4 1-.2 1.1 1.2 6.5 4.1 9.9 4.9-.5 .5-3.4-1.7-.9 .2 .8 .6 13.5 6.6 7.3 2.8 7.1 2-17.8-7.4-3.3-1.6 .3-.4 4 1.1 1.4 1 2.2 .3 12.8 5.3 10.6 2.9 0 19.4-23-1-9.2-2 8 0-18.6-3 1.5-.6-17.3-4.4-11.2-4 1.2-.1 11.6 3.6 1.2-.1-1.2-.4 1.8-.6-8.2-3 .8-.1 5.6 1.4 .4-.3-1 0-15.8-7.4 .8-.4 12.8 4.8-7.8-3.8-4.4-1.6-9-4.9-1.8-1.1 .6-.6-.6-.4-8.1-5.6-4.8-4-1.3-2.3 13 9.5 3.1 1.8-6.6-6 .5-.4 6.4 4.5-.3-.5-12.7-10-5.2-6-2.5-2 .3-.6-.4-.4-.6 .2-2-1.2-.6-1.2-2.3-1.8 .3 1.2-1.5-.2 3.5 2.1 1.1 1.3-.1 .6 7 7-.4 .4-4.6-3.9-2.7-1.5-.4-.6 .3-.4-1.6-1.1-8.7-9.5 .6-.4-1.3 0-.3-1-1.3-.8-.6-1.2 .3-.6 1.7 0-3-2.7-.4-.3-.6 .7-2-1.6-.4 .5-1 0 0-1.3 .8-.3-.2-1-2.2-1.7-1.2 .3 0 .4-1.1 0 .5-.4-2.2-2-1-1.7-1.4-.9-.6-1.1-.7-.3 .1-.6 2.9 0 .5 .6-.8 .1 .1 .9 .9 1.2 1.5 .8 .3 1.4 1.2 .5 1-.5-.7-1 .3-.2 1.9 1.8 .1 .5 1.4 .8 .4-.3-.8-1 .4-.3 .9 1.3 1.7 .1 1.2 .9 2.1 3 1.7 1.3 1.9-.9-1.9-1.8-.6-.2-.4 .4-1.7-1.4 .1-1.3 .4 .3-.3 .6 1.5 .7 .2-.3-6.5-6.4-1.3-.9-.4 .3 1.8 2.6-.4 .2-1-1.1-1 .2-.3-.9 .6-.4-.3-.4-.5-.2 .1 1-3-2.6-2-.3-1.4-1.5 .4-.5 1 .6 2.6-.7-1.2-.4 .2-1-1.5-1.6 .1-.4-1.8-1.5-1 .3 .7 1.2-.3 1 1.6-.7-.1 1.1 1.1 .4 0 .6-1.4 .1-.6 .6-1-.3-.4 1.2-1.6-.9-.4 .2-.9 1.1 1.3 1.6-4-2.3-.4 .1 .7 .6-.1 1-2.6 2.6-1.6 2.8-1 .8-.5-1.6-.9 0-1-.8-1.8 1.2-.6 1 .4 1-1.2 0 .3 1-.9 0-.1 1.6-1.7 1.4-2.1 3.6 0 1-1.5 2-.6 2-.7 .4-.2 2-.8 .6 .1 .4-.8 .6-.7 1.4-.1 .8 .4-.1 .1 .9-.5-.4 .1 .8-.7 .6-.6 1.4 .1 1-1 1-.9 3.1-1 .5 .4 1.4-1.7 2.6-.3 2-.9 .4-.3 2-2.2 5.2-.4-.2-.1-1.4 1.8-3 .5-1.6-.4-.3 0 .9-2.4 3 .2 .4-1.8 2.6 .6 .4 0 .6-.6-.4-.9 .4 1.1 .4-.6 1.6-1 1.4-.6-1.4-1.1 2.4 .1 .5 .6-.8 .1 .9-1.1 .7-2.2 4.3-.6 .4 .3 .6-.8 .4 .3 .6-6.6 10 1.7-1.6 4.5-5.4 5.4-8.5 .4 1-5.5 9.5 2.4-3.6 .7 .4 3-4.6 .4 .2-.2 .6-5.6 8.4 .4 .4 1-1 .3 .2-.3 .4-1 1.4-.6-.6-2 2.2-.3 .6 .9-.4 .4 .4-.3 .4-3.3 3.6 3.2-1.5 .3 .5-.4 .4 .5 .1 2-1.1 0-.5 .6 .2 2-1.1 .2 .4-1.1 1-4.4 3 1.8 .6-2 1 2.3 .4-4.3 1-7.1 .6zM524.2 66.4l-.4 .1-.7-.7 1.7-.8 .1 .8-.7 .6zM522.8 66.4l-.6-.2 .6-.3 .3 .3-.3 .2zM531.8 66.4l-.5-.2 .5 .2zM523.2 69.8l-1 0-.4-1 3.4-2.3 1.4 .3-3.4 2 .8 .4-.8 .6zM531.2 67.3l-1 0-.4-.5 1.4-.5 0 1zM553.2 66.9l0-.4 .5 .3-.5 .1zM554.8 68.5l-1.3-1.3 .3-.4 1 1 0 .7zM551.2 68l0-.4 0 .4zM537.8 72.5l-2.4-.3 .4-1-1 .1-1-1.5-1.5-1 1.5-.9 .4 .3-.8 .6 .8 .7 .3-.3-.6-.4 .3-.5 2.4 .9 1.2 1.7 1 .3-1 1.3zM551.8 68.7l0-.7 .3 .2-.3 .5zM521.2 68.8l.4 0-.4 0zM529.2 69.9l-.4 .2-.7-1.3 1.7-.1 .1 .5-.7 .7zM541.2 70.3l0-.3 0 .3zM546.8 70.4l-.4-.2 .4 .2zM530.8 70.9l-.3-.1 .3 .1zM543.2 71.3l-.8-.5 1.1 0-.3 .5zM532.8 72.8l-1.6-.9-.3-.7 .3-.4 2 1.4-.4 .6zM512.8 73.4l-.4-.2 .8-1.6 .1 1.2-.5 .6zM517.8 72.8l-.1-.6 .7 0-.6 .6zM517.2 77.6l-.4-.8 1.3-1.6-.5-.4 .6-.9 2.6-1.8 1 0-1.3 1.7-2 1.4-.4 1.6-.9 .8zM551.8 75.9l-4-2.1 .6-.6-.6-.4 .4-.6 3.6 3 0 .7zM534.2 73.8l-.5 0 0-.6 .5 .6zM544.8 73.3l-.4-.1 .4 .1zM510.2 73.8l.4 0-.4 0zM526.2 74.4l-.7-.2 .7-.9 1.1 .5-1.1 .6zM545.8 74.1l-.6-.6 .8 .3-.2 .3zM544.2 74.5l-.4-.3 .8 0-.4 .3zM548.8 79.4l-5-2.9-.2-.7 1.2-.4 2.8 1.4 .9 1 .3 1.6zM524.2 76.4l0-.5 0 .5zM527.8 77l-.4-.2 .6-.6-.2 .8zM518.8 77.4l0-.8 .4 .2-.4 .6zM519.8 77.9l-.5-.1 .3-1 1.1 0-.9 1.1zM521.8 76.8l-.8 0 .8 0zM516.2 77.4l-.4 .2-.4-.4 .8-.3 0 .5zM518.2 78.4l0-.4 0 .4zM542.6 80.2l-.1-.4-1-.6 0 .6 1.1 .4zM563.8 79.4l0-.4 .3 .2-.3 .2zM514.2 80.6l-.4-.4 .4-.6 0 1zM526.8 79.9l0-.4 0 .4zM568.2 83.5l-3.2-2.7-.9-1 .1-.4 4 4.1zM537.5 81.2l-1.2-.4 .3-.6-.8-.4 0 .6 1.4 1.3 .3-.5zM552.8 80.7l0-.6 .3 .1-.3 .5zM506.2 81l.3-.2-.3 .2zM535.5 82.2l-.3-1.1-1.7-.3 .4 1.4 .9 .4 .7-.4zM515.8 90.2l1.3-1 0-2 1.1-.8 .6 .2 1.4-.6 1.6-2.2 .4 .8 1.5-.8 .8-2.6-3.9 .6-1.2 1.4 .2 .6-1.8 1-1.6 2.5 .1 .9-1.2 1.6 .7 .4zM541.7 81.8l-.6 0 .6 0zM553.8 82.1l0-.4 0 .4zM512.4 82.8l.4-.7-.4 .7zM515.8 84l-.3-.8 .7-.5 .4 .5-.8 .8zM522.2 83.9l-.2-.7 .8-.7-.6 1.4zM523.8 86.2l2.4-2.4-.3-1-.7-.2-1.3 1.2-1.2 2 .5 .6 .6-.2zM564.8 82.9l0-.6 .3 .5-.3 .1zM538.8 87.2l-1.4-1.4 .9-1-1.5-.6-.6-1.2-.3 .2-.1 .8 .4-.2 1.3 1.4-1.3 .4 .2 .6 1.8 1.4 .6-.4zM554 83.2l-.4 0 .4 0zM557.8 83.5l0-.4 0 .4zM529.9 84.2l.3-.6-.8 .2 .5 .4zM558.2 84.1l-.3-.3 .3-.2 0 .5zM568.8 83.8l-.4 0 .4 0zM503.2 84.6l0-.5 0 .5zM509.8 87.2l1-.4 1-2.6-1.8 2-.2 1zM539.5 84.2l-.3-.3-.3 .3 .6 0zM543.4 84.2l-.3 0 .3 0zM549.8 84.7l-1-.5 1-.2 0 .7zM558.8 84.5l0-.4 0 .4zM506.8 84.9l-.3-.1 .3 .1zM513.5 85.2l-.3-.5-.3 .5 .3 .4 .3-.4zM532.3 86.8l.7-1-.2-.7-1 .1-1-.7-.8 1.3 1.8 1.3 .5-.3zM502.8 85.4l0-.3 0 .3zM505.8 85.6l-.4-.4 .4-.4 0 .8zM518.8 85.6l0-.6 0 .6zM526.5 85.2l-.3 0 .3 0zM534.7 85.8l.1-.6-.9 0 .3 .7 .5-.1zM503.2 87.3l-.2-.5 .8-1.2 .3 .2-.3 1.4-.6 .1zM513.8 87.2l.6-1-.2-.5-.4 1.5zM527.5 91.2l0-1 1.6-1 .4-1-.7-1 .3-.4-1.3-1.3-.6 .3 0 1-1.2 .4-.6 1 .4 .4 1-.4-1.2 1.6 .2 1 1 .7 .7-.3zM542.3 88.2l.8-1-.3-.6-1 .6-.8-.4-.2-1.4-1 .4 1.4 1.4 0 1 .6 .4 .5-.4zM548.1 88.2l-1.3-2.3-2.2-.1 1.6 2 .6-.1 .4 .7 .9-.2zM549.2 86.7l-.4-1.1 .7 .6-.3 .5zM512.4 87.2l.7-1-.3-.4-.8 1 .2 .9 .2-.5zM567.4 87.2l-1.2-1.1-.4 .1 1.4 1.4 .2-.4zM527.8 87.4l-.8-.2 .3-.4 1.2 0-.7 .6zM551.8 88.7l-2.5-1.9 .5-.4 1.4 1 .7 .8-.1 .5zM502.2 87.8l-.3-.6 .3-.3 0 .9zM534.9 90.2l.8-1-2.5-1 0-1-.4 .2 0 .6 1.7 1.2-.3 1 .7 0zM515.4 87.8l-.6-.2 0 .6 .6-.4zM523.5 88.2l-.7-.9-1.4 .9 1.4 .4 .7-.4zM524.4 88.8l.4-1.2-.4 1.2zM543.9 93.8l-3.3-3.6-.2-1.4-1.6-.9 0 1.2 1.2 2.1-.2 .4-1-.9 0 .5 1 .8 1.2 .2 2.2 1.9 .6 .1 .1-.4zM572.4 91.8l-2.2-2.5-2.4-1.3-.4 .2 1.8 2.1 2.6 1.6 .4 .2 .2-.3zM501.8 89.4l0-.8 0 .8zM506.4 88.8l-.4 0 .4 0zM502.4 98.2l2-3.4-.3-.6 .2-.4 2.9-1.6 1.6-3.1-.6 .1-.4-.7-1.1 2.3-1.2 1 .2 .4-1.5 .6-.5 2-1.1 1.4-.5 1.6 .1 .7 .2-.3zM514.5 88.8l-.3 .2 .3-.2zM529.8 89.2l.4-.6-.4 .6zM544.2 90.8l-1.1-1.6 .2-.4-1.1 .1 0 .6 2 1.3zM552.2 89.6l-.4-.8 .5 0-.1 .8zM555.3 89.2l-.5-.8 .5 .8zM559.2 89.5l-.4-1.2 .4 1.2zM516.5 95.8l2.7-5.3 1 .2 1-1.9-1.4 1.9-.6-1.8-1.3 .9-.8 1.4 .1 .3 .6-.3 .1 .6-2.1 3.4 0 .8 .7-.2zM565.2 89.4l0-.4 .4 .2-.4 .2zM501.2 90.5l0-.9 0 .9zM531.8 91.2l-.4-.4 .4-1.2-2.2 1.2 1.2 .6 1-.2zM552.8 90.2l0-.6 0 .6zM510.8 91.2l.6-.4-.2-.9-.5 .3 .1 1.3 0-.3zM521.8 90.8l.3-.6-.3-.3 0 .9zM553.2 90.9l-.4-.7 .6 0-.2 .7zM512.3 92.8l.8-1.6-.3-.2-1.2 1.8 .2 .3 .5-.3zM538.4 93.2l0-1-1.4-1-.8-.4-1 .4 2 2 1.2 0zM513.8 92.8l0-.7 0 .7zM514.9 94.2l.3-2.1-.9 2.1 .6 0zM529 105.2l1.2-1.3 3.4-2.1-.4-.8-.9-.2 .5-.9 2.4 1 1-.7-.7-.4 0-.6 .7-.5 .6 .5 .4-.8 1 .4-.8 1 .4 .4 1-.3 0 .3-.6 1-2 .5 1.5 .5-.5 1 1.3-1 .3-.7 1.7 .3-.3-1 .9-1-1.3-.2-3.8-2.8 .2-.6 1.2 0-.7-1 .5-.5 .6 .4 .4-.3-.1 1.4 1.1 .1 .6 1.3 1.4 .6 .8-.4-1.8-2-1.9-1-.1-.9-4.4-.2-1-1.7-1.6 1.8-1.4-1.5-1.5 .5-.1 1 2 .8 .6-.4 .4 1.5 1.9 1.1-2.3-.4-2.1 1.8 .1 1.2-.6 .4-.5-.6-1.2 2 .3 .5 .4-.5 .5 .6-.5 1.7 2-1.2 1 .5-1.4 1.9-1.2 .1 .2 .5 1.2-.1zM554.2 92.7l-.3-.5 .3-.3 .4 .3-.4 .5zM525.4 92.8l-.2 .4 .2-.4zM575.8 92.8l0-.3 0 .3zM576.2 93.3l0-.3 0 .3zM532.2 94.3l-.1-.5 1 0-.9 .5zM522.8 94.2l-.6 0 .6 0zM520.9 101.2l.9-1 1-.1 1.8-2.3 .8-1.6 .3-1.4-.5-.7-1.3 .1-2.1 2 .6 1-.6 .7-1.1-.1 .1 1-1.3 .4-.3 1.8 1.7 .2zM577.8 94.4l-.4-.2 .4 .2zM521.3 95.2l-.5-.7-.5 .3 1 .4zM578.8 95.3l-.6-.8 1 .7-.4 .1zM514.2 96.2l0-1.3-.8 1.3 .4 .5 .4-.5zM553.9 95.2l-.4 0 .3 .5 .1-.5zM572.3 101.2l-2.1-2.6-2 .4-1.8-1.8-.1-1-1.5-1.1-.6 .1 .3 1 1.6 1 .1 1 3 3.1-.4-1.9 3.5 1.8zM575 100.2l-2.8-4-1.4-1.3-.5 .3 3.9 4.8 .8 .2zM518.9 96.8l-.1-1.3-.7 1.3 .1 .3 .7-.3zM561.7 100.8l-2.2-2.6 .4-.4-1.1 .1-2-2.3 .6 1.6 2.7 2.6 .5 1 1.1 0zM558.8 96.2l-.6-.9-.2 .5 .8 .4zM510.6 96.8l.3-.6-.7-.3-.4 .9 .4 .3 .4-.3zM516 96.8l-.2-.5-.8 .5 .8 .3 .2-.3zM512.3 99.8l1.2-2-.3-.9-.4 .6-1.1-.3 1 .6-.9 1 .5 1zM569.9 97.8l-.8-.6 .7 1 .1-.4zM516.8 99.2l1.3-1-.3-.8-1.1 .8 .1 1zM560.9 98.2l.3-.5-.8 .5 .5 0zM499.3 99.2l.5-1.2-.7 .8 .2 .4zM531.2 99.3l-.4 .2 0-1.3 1 0 .2 .6-.8 .5zM526.3 99.2l.7-.4-.2-.4-.5 .8zM564.8 102.2l-2.6-3.3-.3 .3 2.3 3 .6 0zM511.6 99.8l-.4-.5-.3 .5 .3 .4 .4-.4zM539.2 99.8l0-.3 0 .3zM546.6 100.2l-.4-.6-.4-.2-.4 .4 .4 .4 .8 0zM498.9 100.8l-.1-.7-.2 .7 .3 0zM515.5 101.2l.5-.4-.2-.7-.8 1.1 .5 0zM527.8 100.5l0-.5 0 .5zM530.2 100.6l-.9-.4 .9-.4 0 .8zM548.9 100.2l-.1-.2 .1 .2zM500.5 101.2l-.5 0 .2 .4 .3-.4zM532.2 101.4l0-.4 0 .4zM498.3 102.2l-.1-.8-.3 .4 .4 .4zM509.4 102.2l-.2-.5 .2 .5zM516.8 107.8l.1-1 1.7-2 .6-1.9 .6-.6 .4 .3-1-1-1 .6 .4 .6-1.4 1.5-.8-.1-.9 2-.3 1.1 .8-.5 0-1 .8-.3 .4 .7-.6 .6 .2 1zM531.2 102.9l-.9-.1 .9-1.1 .5 .1 .2 .4-.7 .7zM548.1 101.8l-.9-.4-.3 .4 .9 .4 .3-.4zM552.8 105.2l-1.8-2.4-1.2-1.1 2.1 3.5 .9 0zM587.3 117.8l-5.1-6.3-3-2.3-1 .1-1.8-2.1-.8-2-2.8-2.7-2-1-.3 .3 7.3 8.4 1.4 .3 6.4 6.3 1.7 1zM586.8 105.5l-2-1.7-1.3-2 .3-.2 3 2.6 .4 1-.4 .3zM526.3 102.8l-.1-.6 .1 .6zM544.8 102.4l-.5-.2 .8 0-.3 .2zM571.2 103.8l-1.1-1 .7 1 .4 0zM497.9 103.2l-.1 .4 .1-.4zM513.4 104.2l.4-1.1-.9 .7 .5 .4zM566.8 104.8l-1.6-1.9 .2 .9 1.4 1zM513.4 107.2l2-3.4-.2-.4-1.4 1.4-.6 1.3-.4-.6-.6 .3 0 1 .6-.8 .4 1.6 .2-.4zM521.4 103.8l-.2-.5 0 .9 .2-.4zM533 104.8l.4-.6-1.5-.4 .3 .8 .8 .2zM549.2 105.2l-.6-1-.8-.1 .7 1.1 .7 0zM497.3 105.2l-.1-.7 .1 .7zM517.3 109.2l1.9-.7 .6 .6 .6-2.3 .8-1-.4-1.4-.8 1.4-1.2 .6-1.5 2.8zM560.8 105.8l-.8-1-.5 0 1.3 1zM547.8 105.8l-.6-1-.6 .4 1.2 .6zM587.2 106l0-.7 .5 .5-.5 .2zM523.4 106.8l.4-.6-.6-.3-.6 .3 .2 1 .6-.4zM557.9 106.8l-.7-.6 .7 .6zM585.2 109.8l-4.1-3.6 1.7 2.1 2.4 1.5zM587.8 106.5l0-.7 .3 .4-.3 .3zM504.3 116.2l2.6-6 0-1 .6-.4 0-1 .6-1-.3-.4-2.7 5.4-.2 2-.8 1.4 .2 1zM544.8 107.3l0-.6 0 .6zM554.6 107.8l-1.4-1.3 .5 1.3 .9 0zM562.3 107.2l-.5-.6 .5 .6zM579.4 107.2l-.8-.4 .6 .8 .2-.4zM588.2 106.9l0-.5 .4 .4-.4 .1zM530.5 107.2l-.5 0 .5 0zM566.8 108.2l-1-.6 1 .6zM585.8 108l0-.3 0 .3zM511.3 112.8l.1-1 1.6-2.6-.2-1.2-2.4 3.2-.2 1.9 1.1-.3zM525.5 108.8l-.4-.6 0 .6 .4 0zM547.2 109.9l-1.4-.4 0-1.4 1.4 .9 0 .9zM579.8 108.2l0-.3 0 .3zM538.8 110.3l-2.3-1.1 .3-.9 1 .6 1 1.4zM541.8 109.8l-1-1.3 .4-.1 .8 .8-.2 .6zM565.3 110.2l-2.1-1.7-.1 .3 1.1 1.4 1 .5 .1-.5zM593.8 110.3l-1.7-1.5 .1-.5 1.6 1.5 0 .5zM533.2 111.9l-.5-.7 2.1-1.3 1-.1 .2 .4-.4 .6-2.4 1.1zM516 110.8l.2-.6-.4-.2-.3 .8 .5 0zM551.8 110.6l0-.7 .3 .3-.3 .4zM586.3 110.8l-.9-.6 .9 .6zM509.5 110.8l-.3-.3 .3 .3zM514.3 111.8l.7-1-.9 .4 .2 .6zM539.2 111.5l-.2-.7 .8-.1-.6 .8zM552.2 111.3l0-.8 0 .8zM571.9 111.2l-.7-.5 .7 .5zM589 112.2l-1.8-1.8-.1 .4 1.9 1.4zM516.8 111.2l0-.3 0 .3zM535.8 111.5l0-.5 0 .5zM550.8 111.7l0-.5 0 .5zM505.8 111.9l.4-.1-.4 .1zM508.9 111.8l-.3 0 .2 .3 .1-.3zM529.8 112.4l0-1 0 1zM540.2 112.5l-.9-.3 .5-.6 1-.1-.6 1zM527.2 113.5l-.2-1.3 .8-.3 .2 .9-.8 .7zM555.2 112.6l0-.6 .5 .2-.5 .4zM516.5 112.8l-.5 0 .2 .3 .3-.3zM520.5 112.8l-.7 0 .7 0zM525.8 120.5l-.6 .2 0-.5 1-2-.7-1-.7-.1-.3-1.3 2.3-2.4 .1 .8-1 1.6 .3 .2 1-.4 2-3.1-1.2 3.7 .2 1.6-.9 .4-1.5 2.3zM534.2 113.1l0-.4 0 .4zM555.8 113l0-.6 .3 .4-.3 .2zM501.3 121.8l2.2-6.6 .3-2.1-2.5 6.7 0 2zM509.9 122.8l1.9-4.7 .4 0 .6 1 .7-1.9 2.7-3-.4-.9-1 .7-.4-.2 .6-.6-.2-.3-1 1.6-.6-.2-.6 .9 1.2 .6-2 .5-1.2 3.9-1 1.6 0 1 .3 0zM596.8 123.8l-2.6-2.5 .1-.5-1.5-2-2.7-2.6-.5-1-3-2 4.3 5 2.4 2 .5 1.2 3 2.4zM510.5 113.8l-.3-.4-.5 .4 .8 0zM533.2 113.9l0-.3 0 .3zM536.2 115.1l-1.4-1.3 .4-.4 1 .8 0 .9zM533.8 114.5l0-.4 0 .4zM566.9 114.8l-.7-.6 .7 .6zM495.4 115.2l-.2-.5 .2 .5zM509.4 115.2l.4-.5-.4 .5zM509.5 129.8l.3-1.6 .9-.4-.2-.6 1.4-3.4 3.8-4.6 .1-.7-.7-.3 .7-.2 0-.8 1.1-.4-.1-2.1-5.6 8.5 .4 1-2.1 3 .2 1.6-.6 1 .4 0zM534.2 115l-.3-.2 .6 0-.3 .2zM536.8 115.4l-.3-.2 .6 0-.3 .2zM540.2 115.3l-.5-.1 .5 .1zM538.2 117l-.4 .2-.3-1 1.3-.7 .2 .3-.8 1.2zM561.8 115.8l-.3 0 .3 0zM494.8 116.8l0-.6 0 .6zM574 117.8l-1.8-1.9 .6 1.1 1.2 .8zM513.2 117.1l-.4-.3 .4-.4 .4 .4-.4 .3zM541.8 117.4l-.6 .2 0-.8 .7 0-.1 .6zM548.2 116.9l0-.5 0 .5zM497.8 117.2l0 .5 0-.5zM512.8 117.8l-.4-.6 .4-.4 0 1zM517.9 119.2l.6-.4 .3-1.6-1.3 1-.2 1 .6 0zM519.3 119.2l.9-2.1-1 1.1 .1 1zM524.2 118l-.6-.2 .6-.6 .4 .6-.4 .2zM537.2 118.5l-.4 .1-.7-1.4 1.1 .4 0 .9zM549.2 118.2l-.6-.4 .2-.9 .8 .3-.4 1zM494.3 118.2l-.1-.7 .1 .7zM539.2 118l-.4 .1 0-.7 .4 0 0 .6zM562.9 118.2l.3-.5-1.1 .5 .8 0zM549.8 118.5l-.4-.3 .4-.4 .3 .4-.3 .3zM522.2 121.1l-.4-.3 .4-1 1-1.4 .6-.1 0 .9-1.6 1.9zM540.2 119.8l-.6-.6 .6-.8 .6 .8-.6 .6zM554.8 119.7l-1-1.2 .4-.1 .9 .8-.3 .5zM592.8 124.8l-1.2-1.6 .4-.4-1.2-1-4.9-3 6.3 6 .6 0zM493.9 119.2l-.1-.3 0 .8 .1-.5zM543.2 119.8l-.4-.6 .8 0-.4 .6zM567.9 122.8l-2-2-.7-1.5-1.9-.1 .9 1.5 2.6 2.1 1.1 0zM506.3 120.8l.5-1.5-.5 1.5zM512.4 120.2l-.2-.8 .2 .8zM530.2 120.3l-.4-.5 .4-.4 0 .9zM555.2 120l-.3-.2 .3-.2 0 .4zM567.4 120.2l-1.1-.4 .9 .8 .2-.4zM508.5 122.8l.4-2 .6-.6-.3-.3-.4 .7-1.1 .2 .7 1-.4 1 .2 .4 .3-.4zM515.8 123.8l1.6-2.6-.2-1.4-1.6 3 .2 1zM542.2 121.4l-1.4-1.2 1-.2 .4 1.4zM571.3 120.8l-.5-.6 .5 .6zM532.2 121.5l-.3-.3 .3-.6 0 .9zM559 121.8l-1.5-1 .5 1 .8 .3 .2-.3zM593.8 121l-.5-.2 .8 0-.3 .2zM600.2 121l0-.4 0 .4zM521.8 121.6l0-.8 .3 .4-.3 .4zM524.8 122.5l-.5-.3 .1-1 .8-.4 .1 1-.5 .7zM600.8 121.5l0-.5 .4 .2-.4 .3zM604.8 125.4l-3.9-3.6 .3-.5 3.6 3.5 0 .6zM562.7 124.8l-.9-1.6-1.8-1-.8 .1-.1 .5 1.1 1.3 2.5 .7zM566.8 122.6l-.4-.4 .4 .4zM573.5 122.8l-1.3-.6 1 .8 .3-.2zM524.2 123.3l-.3-.1 .3-.9 0 1zM548.2 126.4l-1.4-.8-2-.1-1.4-2.3 .2-.4 .9 0 .4 .4-.1 .8 2-.4 1.6 1.6 .3 .6-.5 .6zM577.8 122.8l-.5 0 .5 .3 0-.3zM534.2 124l-.6-.2 .2-.7 .6 .1-.2 .8zM597.4 127.8l-3.2-3.4-1.9-1.2 4.5 4.5 .6 .1zM599.8 125.2l-.4-1-1.5-1 1.9 2zM506.8 128.2l1.2-4-.2-.7-2.2 4.7 .2 .5 1-.5zM523.8 124l0-.7 .3 .5-.3 .2zM580.7 130.2l-5.3-6-1.5-.4 6.1 6.4 .7 0zM611.8 123.9l0-.3 0 .3zM503.8 124.2l0 .5 0-.5zM513.9 125.2l-.7-1.2-.5 .8 .1 .8 .4-.6 .6 .6 .1-.4zM514.4 124.2l-.5 0 .5 0zM570.3 124.8l-.1-.6-.7 0 .8 .6zM487.2 125.4l0-.9 0 .9zM536.2 126.5l-1-.7-.2-1 1.8 .8-.6 .9zM502.8 126.8l.7-1.6-.3-.3-.6 1.3 .2 .6zM509 125.2l-.2-.4 0 .8 .2-.4zM523.2 125.6l0-.7 0 .7zM565.3 127.8l-.3-1-1.8-1.6 0 2-1.5-1 1.1 1.2 1-.4 1.5 .8zM568.9 125.8l-.7-.6 .7 .6zM518.8 126.4l-.4-.2 .4-.6 .3 .6-.3 .2zM566.3 126.2l-.5-.6 .5 .6zM486.8 126.5l0-.5 0 .5zM511.3 132.8l1.7-4.6-.2-1.4-.7 0 .5-.6-.4-.3-1.1 2.3 1.1-.7 .1 .7-2.6 3.6 1.1 1.3 .5-.3zM522.8 126.9l0-.9 .4 .2-.4 .7zM580.8 126.8l-.6-.6 .6 .9 0-.3zM603.2 126.6l-.1-.4 .1 .4zM487.2 128.7l.6-2.1 .4 .2-1 1.9zM518.2 127l0-.5 0 .5zM573.6 128.8l-2.6-2 1.8 2.1 .4 .2 .4-.3zM603.5 128.8l-2.7-2.4 .9 1.4 1.8 1zM486.2 128l0-.8 0 .8zM522.2 127.5l0-.4 0 .4zM517.8 128l-.4-.2 .4-.3 0 .5zM550.8 129.3l-1.1-1.1 .1-.6 1 .6 0 1.1zM508.1 128.8l-.3-.5 0 .8 .3-.3zM516.8 129l0-.5 .3 .3-.3 .2zM539.8 129.4l-.8-.2 0-.4 .5 0 .3 .6zM556.2 128.8l.5 0-.5 0zM502.8 138.8l3-6.6 0-3.4-1.2 2.4-.6 3.6-1.7 3.4 .5 .6zM516.2 129.8l0-.7 .4 .1-.4 .6zM521.2 129.9l0-.7 0 .7zM550.8 132.1l-2.3-2.3 2.3 1.5 .4 .5-.4 .3zM552.2 130.8l-1-.4 0-1.1 1.6 .5-.6 1zM607.8 131.8l-1.6-1.6-1.2-.4 2.8 2zM515.8 130.9l-.4-.1 .4-.7 0 .8zM575.8 131.8l-.4-1-1.1-.6 1.5 1.6zM591.5 135.2l-3.9-4-1.2-.4 2.8 3.1 2 1.6 .3-.3zM512.9 133.8l.3-1.8-.7 1.2 .4 .6zM497.4 159.8l2.4-5.7 .4-.7 .6 .2 .3-.4-.6-.4 1.1-.6 1.6-4.1 1.3-.9 1.5-4.4 2.5-5-.3-1.4 .6 .3 .4-.3 1.6-2.2-1.6-1.8-2.5 4.4 .5 1-1.7 3-1.5 4.4-5.6 10-1.6 3.6 .3 .4-.7 .6 .8 .4 .2-.4zM622.2 132.9l0-.3 0 .3zM571.2 133.5l0-.6 .5 .3-.5 .3zM622.8 133.4l.4-.2-.4 .2zM607.9 134.8l-1.2-1 1.2 1zM623.8 134l-.5-.2 .5-.2 0 .4zM624.2 134.5l0-.5 0 .5zM486.3 134.8l-.1 .4 .1-.4zM508.8 135.6l0-1 0 1zM567.8 134.9l0-.5 .3 .4-.3 .1zM672.8 165.2l-20-7.9-18.2-8.5 2.4 2-.8 0-6.5-4-7.9-5.9-5.6-3.2-3.1-2.9 2.7 .9 12.4 8.2 16 8.5 24.6 10 2.3 .4-1.2-.6 .3-.2 2.6 .7 0 2.5zM625.8 135.6l-1.2-.8 1.2 .2 0 .6zM513.8 137.3l-.4-1.5 .8-.6 .4 1-.8 1.1zM485.9 136.2l.3-.7-.4 .3 0 .8 .1-.4zM627.8 137.1l-1.9-1.3 .3-.4 2 1.4-.4 .3zM514.2 139.3l-.3-.1 .8-2.4 .5-.3 .2 1.3-1.2 1.5zM485.8 137.2l0-.3-.4 .3 .4 0zM629.2 138.1l-1.3-.9 .3-.4 1.4 1-.4 .3zM513.2 138.1l0-.6 0 .6zM485.4 138.2l-.5 0 .3 .5 .2-.5zM504.8 139.8l.8-.6 .3-1-1.3 1 .2 .6zM630.8 139.1l-1.4-.9 .4-.3 .4 .3 .9 .6-.3 .3zM493.8 139.2l0-.3 0 .3zM632.2 140l-1.3-.8 .9 0 .7 .6-.3 .2zM511.2 144.3l0-1.1 1.4-2.4 0-1 1.2-.5 0 .9-1 1-1.6 3.1zM493.4 140.2l-.2 .4 .2-.4zM500.9 140.2l-.1-.3 .1 .3zM633.8 140.9l-1.3-.7 .7 0 .8 .6-.2 .1zM508 141.8l.2-1.2-.4 1.6 .2-.4zM500.5 141.8l-.3-.6 0 .9 .3-.3zM576.2 141.6l-.4-.4 .4-.4 .5 .4-.5 .4zM595.4 142.2l-1.2-1 1.2 1zM634.8 141.3l-.7-.1 .7 .1zM576.8 142l0-.7 .4 .5-.4 .2zM503.4 142.2l-.2 .5 .2-.5zM578.8 143.3l-1.7-1.1 .1-.4 1.6 1.5zM636.2 142.3l-.3-.1 .3 .1zM499.3 143.8l.5-1.3-.5 1.3zM507.5 142.8l-.4 0 .4 0zM501.9 145.8l1.1-2.6-.2-.3-1.2 2.3 .2 .9 .1-.3zM478.8 151.4l-.9-.2 .6-1-.7-.4 .4-.7 .6 .4 .1-.3 2.3-5.9-.3 2.5-2.1 5.6zM510.8 145.5l0-.7 0 .7zM591.4 147.8l-2.8-2 2.8 2zM510.2 146.7l0-.8 0 .8zM583.2 146.4l-.4-.2 .4 .2zM501.4 146.8l-.2-.4-.3 .4 .5 0zM511.2 147.4l-.3-.2 .3-.5 0 .7zM583.8 146.9l-.3-.1 .6 0-.3 .1zM585.2 148.2l-1.1-1 .1-.3 1.5 .9-.5 .4zM500.4 148.2l.2-.4-.4-.2 .2 .6zM503.8 148.8l0 .3 0-.3zM507.2 154.6l-.3-.4 .3-1 2.6-4.7 .1 .7-2.7 5.4zM503.3 150.2l-.1-.9 .1 .9zM476.8 153.6l-.5-.4 1.5-3.4 .4 1-.7 1 .3 .4 .4-.3 0 .8-.4 .3-.6-.6-.4 1.2zM639.2 152.4l-2.3-1.2 .9-.1 1.9 1.1-.5 .2zM633.7 151.8l-.5 0 .5 0zM640.2 152.9l-.4-.5 .4 .5zM641.2 153.4l-.5-.2 .5 .2zM477.8 153.9l-.8-.1 1.1 0-.3 .1zM505.2 154.6l-.3-.4 .3-.9 0 1.3zM639.2 154.1l-.9-.3 .5-.5 .8 .5-.4 .3zM642.2 153.8l-.4 0 .4 0zM640.2 154.5l-.8-.3 .4-.4 .8 .4-.4 .3zM643.2 154.3l-.2-.1 .2 .1zM477.2 154.9l-.4-.1 .4-.3 0 .4zM502.8 160.7l-.5-.9 2.5-5.4 .3 .4-.3 1-1.3 3-.7 .4 .4 1-.4 .5zM641.2 154.9l-.8-.1 .4-.4 .9 .4-.5 .1zM600.6 160.2l-8-5 4.2 3.3 3.4 2 .4-.3zM501.8 156.2l.7-.4-.3-.5-.4 .9zM506.8 155.9l0-.3 0 .3zM646.2 155.8l-.3 0 .3 0zM601.8 156.2l-.3 0 .3 0zM647.2 156.4l-.2-.2 .2 .2zM648.2 157.2l0-.5 0 .5zM506.2 157.5l0-.7 0 .7zM501.2 159.1l-.4-.3 .4-.9 .5 .3-.5 .9zM505.2 159.8l-.2-.6 .8-1.4-.6 2zM476.8 159.2l0-.3 0 .3zM474.9 160.2l-.1-.3 .1 .3zM476.4 160.2l-.2-.3 0 .7 .2-.4zM504.8 160.8l0-1 0 1zM665.2 160.3l.5-.1-.5 .1zM496.5 162.2l.3-1.8-.6 .4 .4 .4-.6 1 .2 .4 .3-.4zM502.8 161.3l-.6 .4-.4-.5 .4-.9 .6 1zM602 161.2l-1.2-.4 1.2 .4zM604.4 160.8l-.3 0 .3 0zM666.8 160.9l-.6-.1 .9 0-.3 .1zM474.4 164.8l1.4-3 0-1-1.9 4 .5 0zM504.2 161.9l-.3-.1 .3-1 0 1.1zM668.2 161.4l-.8-.2 .8 .2zM669.8 162l-1.2-.2 1.2-.1 0 .3zM503.8 163.1l0-1.1 0 1.1zM599.2 162.3l-.6-.1 .6 .1zM492.8 169.2l3.4-6.1-.4-.3-.9 1.4-1.8 3.6-.3 1.4zM503.2 164.2l0-1.1 0 1.1zM672.4 163.2l-1 0 1 0zM663.8 164.8l-.7 0 .7 0zM473.9 165.8l-.4 0 .4 0zM499.8 168.1l0-.7 .3 .4-.3 .3zM467.2 169l0-.6 0 .6zM609.2 168.9l-1-.1 1 .1zM602.2 169.3l-.5-.1 1 0-.5 .1zM499.2 172.6l0-.5 0 .5zM494.3 175.2l.5-.5-.5 .5zM497.2 175.2l0-.8 0 .8zM496.2 176.6l-.2-.8 .8-.8 .4 .2-1 1.4zM500.2 177l.3-.2-.3 .2zM502.2 177l0-.4 0 .4zM499.8 177.5l.2-.3-.2 .3zM501.8 177.5l0-.4 .3 .1-.3 .3zM501.2 178l-.3-.2 .3-.3 .4 .3-.4 .2zM496.2 179.5l-.3-.3 .3 .3z"/>
<path fill-opacity="0.333" fill-rule="evenodd" d="M518.8 68.4l-.2-.6 1.2-.9-1 1.5zM516.8 68.9l-.5-.1 .5-.3 0 .4zM516.2 69.3l0-.3 0 .3zM538.8 73.4l.4-.2-.4 .2zM529.8 73.9l0-.3 0 .3zM539.2 73.8l0-.5 0 .5zM529.2 74.4l-.3-.2 .3 .2zM532.8 76.5l-1-.3-1-1.4 1.5 0-.2 .4 1.1 1-.4 .3zM516.2 75.4l-.4-.2 .4 .2zM514.2 75.8l-.5 0 .5 0zM515.8 75.8l-.8 0 .8-.5 0 .5zM511.2 76.8l.3-.6-.3 .6zM535.2 80.5l-1.6-.7 .4-1-.4-1 .6 0 1-1.1 1 .8 1.6-.2 .4 1.4-1-.4-.4 .9-1.6 .1-.3 .5 .3 .7zM546.2 77.1l-.5-.3 .8 0-.3 .3zM525.8 77.3l-.6-.1 .6 .1zM556.2 78.6l-.9-.8 1.3 .4-.4 .4zM560.2 78.8l-.4-.8 .5 .2-.1 .6zM509.8 81.2l-.3-1 1.3-1.5 .4 .1-1.4 2.4zM538.8 79.1l-.5-.3 .5-.2 0 .5zM556.8 79.2l-.4-.4 .4-.4 .4 .4-.4 .4zM523.8 80.8l-.9 0-.2-1 1.1-.6 .3 1-.3 .6zM541.8 81.3l-1.6 0-1-.8-.3-1.3 1.9 .4 1.2 1.2 .2 .4-.4 .1zM557.2 79.5l-.4-.3 .4-.4 .4 .4-.4 .3zM516.2 80.3l0-.6 0 .6zM544.8 79.9l-.7-.1 .7 .1zM531.8 80.7l-.4-.5 .4-.1 0 .6zM537.8 80.4l-.3-.2 .3 .2zM543.8 80.3l-.4-.1 .4-.2 0 .3zM515.8 80.9l0-.4 0 .4zM525.2 82.3l-.4-.1 0-.5 .6-.9 .7 0-.3 1.2-.6 .3zM529.8 83l-.7-.2 2.1-2.4 .9 .8-.9 .3 0 1.1-1.4 .4zM532.2 81.2l-.4-.4 .8 0-.4 .4zM561.2 80.8l0-.4 0 .4zM509.2 81.5l0-.5 .4 .2-.4 .3zM538.8 82.1l-.8-.3 .2-.8 .6-.2 .3 1-.3 .3zM538.2 84l-2.1-1.2 .1-1.2 1.8 .6 .2 .9 1-1.2 .7 .3-.1 .9-1.6 .9zM509.2 83.3l-.4 .4-.3-.9 .7-.8 .4 .8-.4 .5zM514.8 82.8l0-1 0 1zM533.2 83.3l-.8-.5 .4-.5 1.1 .5-.7 .5zM550.8 83.1l-1.2-.3-.1-.6 .3-.2 1.4 .8-.4 .3zM568.2 91.9l-3.6-4.7-.5-1.4-2.6-3 .3-.9 2.6 2.3 3.7 6 .5 1-.4 .7zM506.8 82.9l0-.5 0 .5zM529.2 86l-2.4-1.4-.6 .1-.1-.5 1.1-1.5 1 .5 1.6 2-.6 .8zM532.8 83.9l-1 .1-.3-1.2 1.2 .4 .1 .7zM505.2 83.5l0-.4 0 .4zM511.2 83.5l-.5-.3 .5-.4 .4 .4-.4 .3zM534.8 84.3l-.6 .2-.4-1.3 1.4 0-.4 1.1zM546.2 89.2l-.7-.4-.3-1-4-2.9-.8-.1-.4-1.6 1.2 .7 .6 .9 2 .3 0 .8 2.6 2.3 .2 .6-.4 .4zM542.2 83.9l-.7-.1-.1-.6 .8 .7zM512.8 84.5l-.9-.7 .9-.5 .7 .5-.7 .7zM510.8 84.3l0-.3 0 .3zM546.2 84.9l-1.5-.1-.2-.6 1.6 0 .1 .7zM514.2 85l-.3-.2 .3-.4 0 .6zM535.8 85.2l0-.6 0 .6zM508.2 85.8l0-.6 0 .6zM507.8 93.4l-.6 .2-.2-.4 2.4-3.4 .5-1-.3-.6 .9-.4 1.7-2.7 .2 .7-1.2 2.4 .5 1-1.9 1-2 3.2zM513.8 86l0-1 0 1zM538.8 86.4l-.2-.6 .6-.6-.4 1.2zM515.2 85.9l0-.6 .4 .5-.4 .1zM516.2 86.8l-.4-1 1-.3-.6 1.3zM519.8 89.9l.7-3.7 .7-.7 .5 .7-1.9 3.7zM525.8 86.9l-.6-.7 1.3 0-.7 .7zM507.2 88.6l-.5-.4 .5-.4-.3-1 .9-.4-.6 2.2zM512.8 88.3l-.1-1.1 .5-.8-.4 1.9zM533.8 90.3l-.6 .4-2.4-2.7-1-.1 .4-1.4 3.7 2.7-.1 1.1zM540.8 88l-1.5-.8-.4-.4 .3-.5 1.6 .9 0 .8zM518.8 88.5l-1 0-.1-1.3 1.9 0-.8 1.3zM535.2 88.5l-1.1-.7 .1-1 1.4 1 .1 .4-.5 .3zM537.8 88.5l-1-.7 0-.7 1 .7 0 .7zM554.8 89.9l-2.3-2.7 .3-.2 2 2.2 0 .7zM505.8 88.3l0-.7 0 .7zM508.8 88.3l.1-.5-.1 .5zM536.2 89.5l0-.9 .4 .2-.4 .7zM570.8 88.9l0-.3 0 .3zM503.8 89.6l0-.4 0 .4zM506.8 89.7l0-.7 0 .7zM484.8 185.8l-45 0-.2-.6 8.2-.1 6-1.5 5.4-2.8 2.6-2.7 .4 .8 .8-.7 5.9-7.4 1.3-2.5 .6 1.2-.6 .3 0 1-.8 .4 .4 1-.6-.4-1.1 2 1.1-.5 1.1-1.1 3.6-6 6.2-13 .7 .3 .9-1.3-.3-.4 .8-.8 0-.6-.7-.2 .1-.4 .2-.4 .4 .8 1.2-2-.2-.5-.4 1-.6-.9 1-2 .6 .9 .3-.5-.8-.4 1.1-.6 1.9-4.4 1.1-3.6-.1-1 .5-.4 0-1-.6 .4-.2-.4 0-1.6 .8-1.3 .3 .3-.6 2 .3 .5 1.4-2.9-.4-.7-.6 1.1-.4-.4 .4-2 1-.6 1.6-3-.1-1 1.1-.7 .8 1.3-.1 1.4-1.8 2 .5-.1 0 1.5 .7-.8 6.1-19 1.4-3 .4-2 2.3-3.6-.4-.4 .8-2.6 .7-.8 .6 1 1.4-3.4 1.1 .2-.7-1 1.9-1 1.3-1.5 .4 .3 1.6-.9 1.4-1.9-.4-1 1.4 0 .4 .6-2.1 2.4-3.6 7.6-.7 3.3-.4-1-.8 1.1 .2 .9 .6-.9 1 .3 .4-.9 .6 1.2 1-1.7 2-.2-.6-.4-1 .7-.1-.4 1.1-1.2 1.1 .2 1.9-3.4 1 .6 .6-.1 .2 .9-.8 .6-1-.3-.7 .7 0 .4 1 0 0 .6-2.1 3 .2 1-1.1 1.4 .7 .9 .6-.1 0 .8-.6 .5-.4-.8-1 0-.6 .6-.4-1-2.2 3.1-.6 1.6 .2 1-.7 .4 .3 1 .4-1.3 .4 1.9-.6 .4 .4 1-.7 2.6-.9 2-.6-1.1-.1 1.1-.8 .4 .4 1-.9 1-2.6 5.4-.4 .1 .3 .5-.2 1.6-2.3 4 1 .4-.3 .6 .5 .7 .1-1.3 1-1.4-.4-1 .7-.6 .4-1.4 1.1-1.6 0-1.4 2.3-4.6-.2-1 .4-.3 .6 .8 .8-.9 1.6-5.4 1 0 .1 .8-1.1 1 .2 .6-1.6 3 .8 1.4-2.2 4-.1 1.6-1.9 5.4-1.3 .6-.4 1-.7 .4 .3 1-.8 .6 .5 1-.2 .3-.6-.8-.7 .9 .3 2.2-.6-.6 .1 1-.9 .4-.2 .9-.4-1.1-2.6 6.1-.5-1.3-1.9 4.4 .2 .6-.8 .2 .4 .8-.9 .4 .8 .6-.8 .4 .3 .6-2 4 .2 .4 1.4-1.4-.2-.6 .8-.4 3.6-7.4 1-.9 1-2.1 .4 .3 .3-.5 .5-1.4 1.8-2.9 1-1 .4 .6 .2-1.3 3.3-7 2.5-2.8 .3 .8-.9 1.6 .9 0-4.2 6.4-5.7 11 .2 1-.6 .1-2.2 4.5 .2 .2 .7-.8 .9-1.7 .9 .7-2.2 4-2.6 7-3.7 6 0 .5 .6-.9 .4 .4-.4 1-3.1 5 2.6-2.4 1.9-3.3 .6 .7-4.1 5.6 .1 .6 3.1-2.6 4.3-5.4 .4 .4-4 6 .2 .7 .4-.5 .4 .2-3.5 4 .1 .6 .6 .1 3-.8-.4 .7 .4 .1 1.4-.5 .3 .4-2.3 1.4 .7 .6-.5 .4 1.3 .6-9.9 1zM672.8 184.5l-13.6-.7-1.3-.6 1.6-.4-16.6-2.6-15.1-3.4 5-.6 1 .6 6.1 .4-2.1 0-.3-.4-1.7-.3-13.4-4.3 9.9 1.6-1.5-.1-12-4.5-9.8-4.4-10.3-6-1.3-1 .4-.4 6 3.6 5.8 2.2-7.9-4.4-5-3.6 1.1-.1 7.4 4.2 2.6 1 .8-.1 0-.4-11.9-7.6-15.6-14 .7-.6 1.4 .9 14 11.9 6.1 4.4 4.7 2.4-11.8-8.2 0-.7 1.4 .5-2.8-3.1 4.7 2.5-1.3-1-7-4.7-1.4-.8-.6 .2-2.4-1.8-1.6-.4-5.4-4.5-2.4-2.4-.8-1.6-1.8-1.5-7.2-9.5-1.4-1.2-3.1-1.8 .1-1.4 1.1 1-1.1-1.1-.4 .3-1-.8 1.3-.4-1.3-1.6-1 .4-.7-.4-.4-1 .6-.4-3.5-2.7-.6-1.2-2-1.1 .3-.6 .9 0-.6-1.4-2-2.1-2.6-1.1-.6-1.4 .8-1-2.5-1-.4-1.4-2-.6 1.3-1.3 3.9 2.3 6.2 9.6 2.3 2.7 .9 .3 0-.6-3.3-4-.4-1.4-1.8-2-.9-2-1.9-1.9-.5-1.7-2.8-1.4 1.3-.4-.5-1.2-1.5-.7-.5 .3 .7 .4-.1 .6-.7 0-2-1.8-.3 .8 1.3 1.4-.4 .3-4.1-3.7-.7-1 .2-.9 2.3 2.3 1.3 .5 .4-.9 .6 .2 .7-.8-.2-1 .5-.3 2.4 2.3 1.6 2.4 .4 .4 1-.2 4 5.8 .6 .4 .5-1.2-.5 .2-1.9-1.8 2.9 .5 .4 1.1 3.3 3 .7 1.4 2 1 1.1 0 3.3 4-.4 .4-.4-.3-3.6-2.7-.1 .6 1.6 2 2.1 1.3 1-1 4 4.7 2.1 1-3.9-4.4 .2-.5 2.6 2.2 .2-.3-6.3-6-.1-2-2.4-1 .6-.7 1.7 .7-.7-.4-.4-1-1.2-.9-.4 .4-1.4-1.1 1.1-.4-2.2-.6 .7-1-.6-.4 .4-.5 2 .9 3.9 4 .8 1.6 4.9 5.4 2.4 1.3 2.1 2.7 4.9 4 1.2 2 3.2 3.6 6 5.2 .6 .4 .4-.4 2.2 1.8 1.3 2 4.1 3.4-1.2-1.4 .2-1.1 2.3 3.1 10.9 9-.2 .4-1.4-.4 1.8 1.5 1 .6 .6-.6 2 1.7 15.4 9.5 3.6 1.8 1 .3 .3-.4-7.9-4.4-.7-.6-.2-1-.5 .3-1-1.2-5.2-3.1-3.2-3-10.6-7.4 .4-.5 11.2 7.5 1.4 1.6 3 2 15.4 8.2 15 6.3 16.6 5 0 16.6zM563.2 94.5l-4.4-1.7 0-.8-2.3-1.2 .3-.7 .4 .4 .4-.3-1-1 .2-.4 4.4 2.6 1.6 1.8 .4 1.3zM571.2 89.6l0-.5 0 .5zM504.2 91.4l-.1-.6 .9-1-.8 1.6zM506.2 90.1l0-.7 .5 .4-.5 .3zM516.8 91l-.5-.2 .9-1.2-.4 1.4zM571.8 90.2l-.4-.4 .4-.2 0 .6zM522.2 92.3l-.4-.1-.6 .5-.3-.5 .6-1 2.3-1.4 .4 .4-.5 1-1.5 1.1zM528.8 90.5l-.4-.3 .4-.1 0 .4zM555.8 95.6l-4-1.9-2.4-2.5 .3-1 2.5 2.6 3 1.3 1.6 .1-1 1.4zM555.2 90.7l-.3-.5 .3-.2 0 .7zM572.2 90.4l-.3-.2 .3 .2zM532.8 91.4l0-1 .4 .4-.4 .6zM514.8 91.4l.3-.2-.3 .2zM536.2 93.4l-2.2-.6-.3-.6 .5-1.1 2.1 1.7-.1 .6zM501.8 95.4l-.1-2.2 1.1-1.9 .5 .5-1.5 2.4 0 1.2zM515.2 95.8l-.4 .2 1.4-4.3 .8 .5-1.1 1.6-.7 2zM516.2 98.2l-.3-.4 .6-1.6 2.5-4.4 .5 0-.2 .4 .5 .7 1-.5 .4 .4-2 1.5-3 3.9zM528.8 92.3l0-.7 1-.2 .4 .4-1.4 .5zM532.2 91.9l0-.5 .4 .4-.4 .1zM547.3 91.8l-.4 0 .4 0zM509.8 92.7l0-.6 0 .6zM527.2 93.8l-.4 .1-.4-.7 .8-1.1 .4 .7-.6 .4 .2 .6zM568.8 92.4l0-.5 0 .5zM523.2 93.1l-.4-.4 .9 .1-.5 .3zM540.8 95.6l-1.5-.8 1.6-.6-1.4-1 .3-.5 1 0 1.9 1.5-1.9 1.4zM522.2 93.4l.3-.2-.3 .2zM523.8 93.8l-.5-.6 .5-.4 0 1zM576.2 96.5l-2.4-2.7 0-.7 2.5 2.7 .3 .4-.4 .3zM511.8 96.4l-.6-1.2 1-1.8 .6 0-1 3zM568.2 97.5l-.4 .2-.7-.5-2.5-3 .2-.5 1.8 1.5 1.6 2.3zM528.2 95.2l-.7-1 .3-.2 .9 .8-.5 .4zM544.8 95l-.4-.2 .4-.7 .3 .7-.3 .2zM561.2 94.6l-.3-.4 .3-.2 .4 .2-.4 .4zM529.2 97.4l-.3-.2-.5-2 .8-.5 1 .3 .4 .8-1.4 1.6zM543.8 95.9l-1-.4 .4-.7 1 .4-.4 .7zM546.2 95.2l0-.9 0 .9zM562.2 95l-.4 .2-.4-.4 .4-.4 .7 .4-.3 .2zM571.8 95.1l-.4-.3 .4-.2 0 .5zM527.8 95.4l0-.5 .4 .3-.4 .2zM572.2 95.7l-.4-.5 .4-.2 0 .7zM501.2 96.6l0-1.3 0 1.3zM506.6 99.8l2.2-4.3-.8 .3-1.8 3-.3 1 .3 .4 .4-.4zM519.8 98.4l-1 .2-.2-1.4 1.2-.2 1.1-1.2 .4 .4-1.5 2.2zM543.8 99.3l-2.8-3.5 .2-.4 1.4 .4-.1 .4 .7 .4 0 .7 1.4 .5 .1 1-.9 .5zM574.2 97.4l-1.9-1.6 .5-.3 1.4 1.9zM525.8 97.4l-.1-.6 1.5-.7 0 .7-1.4 .6zM576.8 105.8l-3.8-4-1.3-2 .3-.6-2.7-2.4 .2-.6 1.7 .5 1.3 1.5 1.3 2.6 2.7 3.4 .3 1.6zM500.8 97.9l0-1.3 .3 .6-.3 .7zM510.2 99.3l-.4-.1 .4-1.4 1-1.2 .1 1.2-.7 .4-.4 1.1zM538.8 97.7l-.8-.5 .8-.5 0 1zM544.8 97.2l0-.7 .4 .3-.4 .4zM579.8 100.6l-2.6-2.4-.4-1.6 3 3.2 0 .8zM503.8 97.3l0-.3 0 .3zM549.2 102.2l-2-1.7-.1-1.3-.9-.1-1.4-1.3 .4-1 2 1.4 .1 1 1.9 2.4 0 .6zM499.2 97.9l0-.4 0 .4zM522.2 103.9l-.2-1.1 .7-1-.4-1 2.9-3.2-.3 2.2 1.3 .4 .6-.6 .5 .2-1.1 1.1-.4-.6-.6 .7-.4-.5-.8 .3 1.2 2.1-2-.8-.2 .1 .8 1-1.6 .7zM539.8 98.7l-.9-.5 0-.4 1.2 .4-.3 .5zM527.8 98.8l0-.8 0 .8zM510.8 117.7l-.6-.9 .5-.6-.2-1.4 5.2-11-.5-1.6 .6 0 1.6-3 .8-.6 .5 .2 .1 2-1 1.7-1 .3-.8 1.4-1.1 3 .3 1-.3 1-1.4 2-.1 2-1.4 1.6 0 1-1.2 1.9zM574.8 99l0-.5 .3 .3-.3 .2zM500.2 99.6l0-.6 0 .6zM575.2 99.4l0-.3 0 .3zM509.8 100l0-.7 0 .7zM497.8 101.4l0-.7 0 .7zM505 102.8l-.7-1 1.5-.6-1-.5-1 2.1 1.2 0zM509.2 101l0-.6 0 .6zM537.8 100.8l.4 0-.4 0zM545.2 101.2l-.2-.4 .7 0-.5 .4zM580.2 101l-.3-.2 .3-.3 0 .5zM502.9 101.8l-.1-.7-.3 .7 .4 0zM526.2 101.8l-.4 .3-.4-.3 .4-.6 .4 .6zM536.2 102.9l-1.4-.1-.7-1.6 1.1 .1 1.1 .9-.1 .7zM546.2 101.5l-.9-.3 .5-.4 .7 .4-.3 .3zM556 101.2l-.5 0 .5 0zM494.2 113.8l-.7-.6 .6-.4-.3-.6 1.4-3.3 1.3-.1 4.3-7.1 0 1.1-1.4 1.4 .1 .6-1.4 2.4 .2 1-1.2 .6-.9 1.4-.4-.8-.4 .4 .4 .8 .4-.3 .1 .5-.5 1-.6-.9-.8 2.3 .3 .6-.5 0zM508.8 101.8l0-.4 0 .4zM521.2 102.5l-.5-.3 .5-.6 0 .9zM541.8 102.2l-.6-.4 .6-.4 0 .8zM584.8 113.4l-2.7-2.6-1.2-2.6-2-2-.6-1 .2-.4-2-2.6 .3-.8 8.7 11.4-.7 .6zM540.2 102.9l-1-.1-.2-.6 1.2 0 0 .7zM511.4 103.8l.5-.6-.7-.7-.4 1.3 .6 0zM547.2 103.9l.1-1.1 2.5-.2 0 .6-2.6 .7zM553.2 104.9l-1.5-1.7 .1-.9 1.6 1.9-.2 .7zM568.9 103.8l-.9-1 .9 1zM616.9 158.2l-7.9-5 .2-.6-5.1-3.8-13.8-12-2.9-3.6 1.3 .6 7.5 6.2 5.4 3.2-5.8-4.7-8.9-8.3-4.7-5.4 .2-1-2.3-1 .5-.6-1.8-2.4 .4-.4 1.6 .8-4-4.7-.7-.3 3 4-.3 .5-3.6-3.8 .1 .9-.5 .8-.6-.8-2.4-1.7-.6-.1-.4 1.2-1.6-.8-.4 .8-.6-.3-.4-.7 .4-.4 .6 .4 .3-.4-.6-1-7.1-8.6 .4-.3 1 .9-1-1.1-.6 .4-4-2.2 0 .6 1.4 .7-.4 .7 2.7 1.3 1.3 1.7 0 .6-.4-.1-1-1.1-.7-.1 0 .6 2.7 3.3 .4 .3 1-.3 2 1.1-1.4 .1-.4 .9 3 2.6 1.8 2.4 1.3 .6-1.3 .9-2-2.2-.4-.2-.3 .5 2.7 2.7 .6-.6 6.8 7.9 6.1 6 .1 1 3.4 3.2 2 1.4 .5-.2-.4-1-6.2-6.4 .4-.6-9.1-9.4 0-1-1.9-2 .3-.8 6.8 6.8 .2 1.4-.6-.4 2.6 2 4.2 5.4 1.4 1 0-.4-2.2-2.6 0-.5 6 6.1-.4 .4-2.6-2 1.6 2 12.4 10.6 5.6 4 2 .8-.4 1.2 5.8 3.6 2.7 .8zM496.8 104.5l0-.8 0 .8zM520.2 104l0-.4 .4 .2-.4 .2zM503.5 105.8l.3-1 .7-.6-.3-.4-.7 .4 .2 .6-.7 1 .2 .4 .3-.4zM523.2 104.4l-.3-.2 .3 .2zM526.2 104.6l-.3-.4 .3-.2 0 .6zM530.2 105.8l-.4 .4-.4-.4 .8-1.3 .8-.3-.8 1.6zM546.2 104.8l-1 0 0-.6 1.6-.3 .2 .3-.8 .6zM552.2 107.6l-2.5-1.8 .8-1-.3-.6 .6 0 1.4 1.6 .4 1.4-.4 .4zM567.2 104.4l0-.5 .4 .3-.4 .2zM503.8 108.8l1-.2 .7-.8-.2-1 .9-2-.4-.2-2 4.2zM508.5 105.2l-.3-.8-.2 .8 .2 .4 .3-.4zM510.3 105.8l.5-1.4-.5 1.4zM522.2 105.4l-.4 0-.3-.6 1.3-.5 .1 .5-.7 .6zM518.8 105.8l-.6 .4 0-1 .6-.2 .3 .2-.3 .6zM532.2 107.8l-1.1-1 .3-.6 2.4-1.2 .9 .2-2.5 2.6zM553.8 105.5l0-.6 0 .6zM496.2 105.9l0-.4 0 .4zM554.2 106.1l0-.5 0 .5zM499.2 125.2l1.2-.4 .7-1.6-.1-1 1.5-3 1.3 0 4.6-12.4-.2-.8-.8 .2-.2 .8-.4-.5 0 1.8-.6-.3-1.4 3.7-.8 .1-2.1 4-.5 3-1.2 1.4-.1-1 .9-1.4 0-1.6 .7-.4-.2-.6 .7-2-.6 0-1.7 4 .7 .6-1.3 1.4 .8 1-.1 .6-.2 .2-1-.4-.3 .6 .7 .6-1.2 .4 .2 .3 1-.7 .4 .4 .1 .6-1.6 1.4 .1 1.3 1-.3zM525.2 107.8l-.9 0 .1-.6 3.4-1.4 1.7 .4-.3 1.5-1-.6-1 .3-.4-.3-1.6 .7zM548.8 106.8l0-.7 .6 .1-.6 .6zM570.8 106.8l-.6-.6 .6 .6zM503 106.8l-.2-.4-.3 .4 .3 .3 .2-.3zM517.8 107.1l0-.7 0 .7zM520.8 109l-.4-.2 .8-2.5 .6 1.5-.8 .4-.2 .8zM495.8 108l0-.8 0 .8zM523.8 108.4l-1 .3-.3-.5 .7-1 .9 0 .1 .6-.4 .6zM542.2 107.6l0-.5 0 .5zM556.4 107.2l-.5 0 .3 .4 .2-.4zM515.8 108.7l-.5-.5 .5-.6 0 1.1zM542.8 108.1l-.4-.3 .4-.2 0 .5zM554.8 110.1l-2.2-1.9-.3-.4 .5-.4 1.7 1.4 .3 1.3zM501.9 109.2l.5-.4-.2-.6-1 1.4 .7-.4zM529.8 108.5l0-.4 .4 .1-.4 .3zM531.8 109.3l-1 .1-.4-1.2 1.4 .1 0 1zM509.8 108.9l0-.5 0 .5zM510.2 110.5l.5-1.7 .5-.1-1 1.8zM524.2 109l-.3-.2 .3-.5 0 .7zM575.8 109.1l0-.4 0 .4zM579.8 108.9l-.6-.2 .6 .2zM504.4 110.2l.4-1.2-1.2 1.2 .2 .4 .6-.4zM509.2 109.8l0-.6 0 .6zM518.2 114.1l-1.1-1.3 1.7-1.3 .3-1.3 1.1-1.3 .5 1.9-2.5 3.3zM522.2 109.8l0-.8 0 .8zM519.2 117.8l-.2-1 .6-1 .1-1.6 1.4-1.4 0-.6-.7-.4 .4-1 1 .6 1.4-1.8 1.7 .2-.7 .1-.2 1.3-1.4 1 .9 1.6-.3 .9-1 1.2-.2-.7 .7-.4 0-.6-.5-.4-.8 .4-2.2 3.6zM544.8 110.4l-.3-.6 .5 0-.2 .6zM555.8 110.5l-1-.3 1-.5 .3 .5-.3 .3zM508.2 111.4l0-1.2 .6-.1-.6 1.3zM530.8 110.4l0-.5 0 .5zM497.2 111.2l0-.8 0 .8zM556.2 110.9l-.3-.1 .3-.5 .5 .5-.5 .1zM496 121.2l3.3-6.4 1.2-3.6-.3-.3-3.5 7.9-.6 .4-.6 2 .3 .4 .2-.4zM503.4 111.8l-.2-.6 .2 .6zM509.8 112.2l0-1.1 .3 .7-.3 .4zM516.2 111.7l0-.5 0 .5zM557.2 111.5l-.4-.6 .7 .3-.3 .3zM571 114.2l-.7-1.4 .5-.6-.6 .5-2.4-1.7 .3 1.2 2.2 2 .7 0zM557.8 112l-.4-.2 .4-.3 0 .5zM496.8 112.4l0-.4 0 .4zM507.8 113l-.4-.2 .4-1 0 1.2zM509.2 113.9l-.6-.7 .6-1 .6 .6-.6 1.1zM495.2 113.5l0-1 .4 .3-.4 .7zM527.2 112.9l0-.3 0 .3zM566.8 112.9l-.9-.1 .3-.5 .6 .6zM504.2 114.3l0-1.2 0 1.2zM550.2 113.3l-.6-.1 .2-.3 .4 .4zM585.8 113.6l-.4-.4 .4-.1 0 .5zM562.2 123l-4.4-2.9-5.2-4.9-.4-.2-.4 .5-.8-.7 1.8-1.4 1.1 .4-.9 .4 1.4 1 .4 1 1.4 .4 2.9 2.2 3 3 .1 1.2zM586.2 114.2l0-.6 0 .6zM493.8 117.2l-.6 0-.3-1 .8-.4-.3-1 1.4-.9 0 1.1-1 .8 .4 1-.4 .4zM605.2 132.2l-1.9-1-4.4-4-2.7-1.3-8.7-7.1 .7-.2 1.6 .6-4.1-4-.1-1 .5 0 .1 .6 .6-.6 7.7 8.6 6.7 5.2 3.6 3.5 .4 0 0 .7zM519.2 115l-.2-.2 .6 0-.4 .2zM561.8 115.1l0-.7 .3 .4-.3 .3zM567.8 115.1l0-.6 .4 .3-.4 .3zM508.8 115.4l0-.5 0 .5zM503.8 116l0-.4 0 .4zM525.2 116.5l-.4-.3 .4-.6 0 .9zM506 118.2l.8-2.2-1.1 1.8 .3 .4zM517.8 117l0-1 .4 .2-.4 .8zM515.2 128.5l-1.4-.1 0-.7 .4 .5 2.3-5 1.5-2.4 1-.6 1.2-2.4 1.6-1.8 0 .8-2 3-.3 1.4-3 4-.1 2-1.2 1.3zM503.2 117.4l0-.8 0 .8zM583.2 117.8l-1.4-1.4-.3 .4 .7 .7 .6 .5 .4-.2zM495.2 117.6l0-.6 0 .6zM515.8 121.8l-.3-1 1.2-2.6-.2-.4 .7-.7 .2 .7-1.6 4zM526.8 118.4l-.3-.6 .7-.9 .2 .9-.6 .6zM569.8 117.4l0-.3 0 .3zM594.2 117.3l.5-.1-.5 .1zM490.2 124.8l0-1 1.7-3-.1-.6 .7-1-.3-.4 .6-1.2 1-.2-1.5 3.4-.1 1-2 3zM571.2 118l0-.5 0 .5zM581.8 126.9l-6.1-7.1-.7-1.6 .2-.7 4.4 5.7 3.5 3-1.3 .7zM585.8 117.8l0-.3 0 .3zM494.8 118.9l0-1 0 1zM510.2 119.6l0-1.4 0 1.4zM587.2 118.4l-.2-.2 .2 .2zM494.2 120.5l0-1.3 0 1.3zM562.8 119.3l-.6-.1 .6 .1zM571.2 119.8l-.9-.6 .5-.3 .5 .3-.1 .6zM585.2 122.8l-3.4-3.8-.3 .2 1.9 2.6 1.4 1.2 .4-.2zM509.8 121.1l0-.8 0 .8zM493.8 121.9l0-1.1 0 1.1zM511.2 121.6l0-.5 0 .5zM509.2 122.3l0-.7 0 .7zM566.8 125.6l-1.7-1.4-1.1-2 .2-.4 2.2 2 .8 1.4-.4 .4zM492.8 125l-.5-.2 .1-1 .8-1.7 .4 .7-.8 2.2zM495.8 122.8l0-.8 0 .8zM509.2 126.3l.8-3.1 .8-1.1 .2 .7-.6 2-1.2 1.5zM512.8 124l-.1-.8 1.1-1 .2 .6-1.2 1.2zM515.2 122.9l-.8-.1 .8-.9 0 1zM500.2 122.9l-.4-.1 .4-.4 0 .5zM558.2 123l0-.4 .4 .2-.4 .2zM492.2 123.5l-.3-.3 .3-.1 .4 .1-.4 .3zM504.9 126.8l1.3-3.6-.4-.4-1.7 4 .7 .3 .1-.3zM507 123.2l-.7 0 .7 0zM508.2 125.2l.6-2.3 .4 .3-1 2zM563.8 124.8l-1.3-1.6 1.6 1-.3 .6zM581.8 123.9l0-.5 0 .5zM489.8 125.9l0-1 0 1zM513.8 126.9l-.2-.7 1.2-1.3-1 2zM560.8 126.3l-.8-.5 .2-.5 1.3-.1-.7 1.1zM494.9 125.8l-.1 .4 .1-.4zM507.2 128.4l.6-2.7 .3 1.5-.9 1.2zM567.2 126.1l0-.8 .4 .5-.4 .3zM592.4 126.8l-1.2-1.2-.3 .2 1.5 1zM491.9 126.8l-.1-.8 .1 .8zM496.8 129.8l2.1-3-.1-.7-.6-.1-.9 .8 .1 .4-1 2 .4 .6zM568.8 127.7l-1.1-.9 .1-.9 1.2 1.3-.2 .5zM489.2 127.3l0-.8 0 .8zM508.8 126.9l0-.3 0 .3zM492.8 131.8l1.2-2.6 .2-2.2-1.4 3.2 0 1.9 0-.3zM499.3 129.2l.5-2.4-.7 2 .2 .4zM583.2 127.7l0-.7 0 .7zM563.2 129.2l-1.4-1.7 1.5 .7-.1 1zM569.2 128.1l-.4-.3 .4-.4 .5 .4-.5 .3zM582.8 127.9l-.6-.1 0-.5 .9 .5-.3 .1zM584.2 128l-.9-.2 1.3 0-.4 .2zM502.8 132.2l.7-.4 1.1-2.6-.4-1-1.4 4zM574.2 133.9l-3.4-2.3-2.8-3.4 1.2 .4 4.2 3.6 1.2 1.6-.4 .1zM571.2 129.2l-1.4-.7 0-.7 1.5 1-.1 .4zM506.8 129.4l-.1-.6 .4 0-.3 .6zM510.2 138.7l-.5-.5 .3-2 3.2-7.5 .5 .5-1.7 3.6 .1 1.4-1.2 1.6 .3 1-1 1.9zM587.3 129.2l-.7-.4 .7 .4zM599.1 132.2l-2.6-3-1.3-.7-.4 .3 4.3 3.4zM563.8 129.5l-.5-.3 .5-.1 0 .4zM573.8 131.2l-1.8-1-.7-1 1.9 .6 .7 1-.1 .4zM598.8 129.5l0-.4 .4 .1-.4 .3zM601.2 131.5l-2.3-1.7 .3-.5 1.4 .9 .6 1.3zM494.9 131.8l.5-1-.2-.7-.8 1.7 .4 .3 .1-.3zM498.9 130.8l-.1-.7 .1 .7zM496.8 130.8l-.6 .1 .6-.1zM577.2 134.7l-3.4-3.5 .4-.1 1.7 1.1 1.6 2-.3 .5zM578.9 132.2l-1.2-1 1.2 1zM491.1 131.8l-.7 0 .4 .4 .3-.4zM508.8 132.5l-.4-.7 .8-.5-.4 1.2zM566.2 132.1l-.3-.3 .7 0-.4 .3zM498.4 132.8l-.2-.8 0 1.2 .2-.4zM566.8 132.4l-.4-.2 .4-.2 0 .4zM597.3 132.8l-.6-.6 .6 .6zM605.8 132.5l-.5-.3 .5-.2 .4 .2-.4 .3zM490.2 133.8l.6-1.5-1.2 .9 .2 .9 .4-.3zM496.2 133.2l-.4-.6 0 1 .4-.4zM567.8 133l-.6-.3 .6 .3zM607.8 134l-1.8-1.2 .2-.5 1.9 1.5-.3 .2zM486.2 133.9l-.3-.1 .3-.5 0 .6zM492.4 133.8l-.2-.5-.3 .5 .5 0zM498 134.2l-.2-.7-.3 .7 .5 0zM584.3 137.2l-4.5-3.5 4.5 3.5zM484.8 136.3l1-2.5 0 1.1-1 1.4zM494 134.2l-.2-.4 0 .9 .2-.5zM492.6 142.8l2.8-7 .2-1.6-.4-.1-.8 2.1 .2 .6-2.4 5.4 0 .9 .4-.3zM512.8 135.8l-.6 0 .3-1.6 .7-.1 .1 1.1-.5 .6zM574.8 134.4l0-.5 0 .5zM609.8 137.7l-4.3-3.5 .7 0 4 3-.4 .5zM608.2 134.4l0-.4 .4 .2-.4 .2zM489.1 136.8l-.1-1 .8-1.2-1.1 1.2 .1 1.4 .3-.4zM491.7 135.2l.1-.7-.6 1.2 .5-.5zM575.2 134.9l0-.5 .4 .4-.4 .1zM577.8 135.2l-.5-.4 .5-.3 0 .7zM484.2 144.1l-.2-1.3 2.8-7.7 .3 .1 .1 1-.7 1-.4 2.6-1.9 4.3zM575.8 135.3l0-.4 .4 .3-.4 .1zM579.8 136.9l-2-1.7 .4-.2 1.6 1.2 .4 .6-.4 .1zM499.2 135.8l-.9 0 .9 0zM502.8 136.3l0-.6 0 .6zM572.2 137.6l-2-2 1.2 .6 .8 1.4zM574.8 136.2l0-.6 0 .6zM491 136.2l-.2 .3 .2-.3zM576.2 137.8l-1.4-1.6 .4-.2 1.9 1.2-.9 .6zM610.3 141.8l-1.1-1.1-.4 .4-2-2.4-3.6-2.5 5 4.9 .6 .3 .4-.4 1.1 .8zM495.3 138.8l.9-2.3-1.2 1.7 .3 .6zM511.8 136.9l-.4-.1 .4 .1zM484.8 137.3l-.6-.1 .6 .1zM496.8 139.2l1.3-2-.3-.4-.6 .1-1.1 1.9 .1 .8 .6-.4zM502.2 137.5l0-.4 0 .4zM577.8 137.5l0-.3 0 .3zM580.2 137.4l0-.6 .4 .4-.4 .2zM590.2 137.5l-.4-.3 .4-.4 0 .7zM488.5 138.2l-.3-.8 0 1.2 .3-.4zM499 139.8l.2-2.5-.7 .9 .1 1-.6 .6 .8 .4 .2-.4zM577.2 138.1l-.3-.3 .3-.3 .4 .3-.4 .3zM580.8 137.9l0-.5 .4 .4-.4 .1zM576.8 138.3l0-.4 0 .4zM584.2 142.9l-1-.7-1-.1-4.8-3.9 .8-.4 3 2.6 2.6 1.4 .9 1-.5 .1zM483.8 138.8l.3 0-.3 0zM485.9 146.2l2.3-7.3-.5 .3-1.7 5-.5 1.6 .4 .4zM488.9 143.2l1.5-4-.2-.3-.6 .3-1 2.6-.3 1.4 .5 .4 .1-.4zM501.8 139.3l0-.5 0 .5zM508.2 139.5l0-.3 0 .3zM508.8 141.4l1-2.4-.1 1.8-.9 .6zM500.2 140.4l0-.9 0 .9zM621.2 139.9l-.3-.1 .3 .1zM496 140.8l-.2-.8-.4 .8 .4 .3 .2-.3zM621.8 140.4l-.3-.2 .6 0-.3 .2zM495 140.8l-.2-.5 0 .9 .2-.4zM498.4 141.2l-.2-.8 0 1.3 .2-.5zM622.8 141.2l-.7-.4 .1-.4 .7 .4-.1 .4zM623.2 141.5l-.4-.3 .9 0-.5 .3zM481.2 148.6l-.4-.4 1-2.8 1.4-3.6 .6-.4 .1 .4-2.7 6.8zM491.9 149.8l1.6-5 1.4-1-.1-.5-.6 .9-.2-.4 .6-1-.4-1.5-1.4 3.5 .3 .4-.8 1 .3 .6-1.1 3 .3 .3 .1-.3zM495.3 142.2l-.1-.8 .1 .8zM624.8 142.6l-1.3-.8 .3-.5 1.4 .9-.4 .4zM501.8 142.8l0-.8 0 .8zM583.2 142.9l0-.6 0 .6zM625.8 143.2l-.8-.4 .2-.5 .8 .5-.2 .4zM584.8 143.3l0-.4 0 .4zM627.2 144.1l-1.4-.9 1 0 .6 .6-.2 .3zM497.8 144.4l0-.8 0 .8zM503.2 143.9l0-.4 0 .4zM506.2 144.3l0-.7 0 .7zM483.8 145.1l-.4-.9 .4-.3 .3 .3-.3 .9zM488.5 144.8l-.3-.7-.3 .1 .3 1 .3-.4zM607.1 147.2l-.7-.4 .4-.4 1.1 .4-2.1-1.7-.6 .3-.1-.6-1.1-.6 2.1 2.6 1 .4zM615.2 144.6l-.4-.4 .4-.2 0 .6zM628.8 144.9l-1.4-.7 .9 0 .5 .7zM502.8 145.5l0-1 0 1zM507.8 145.2l-.6-.7 1 .3-.4 .4zM586.2 144.9l0-.4 0 .4zM615.8 145l0-.5 .4 .3-.4 .2zM495.4 145.2l-.2 .4 .2-.4zM498.2 145.9l0-.9 0 .9zM508.2 145.4l-.4-.2 .4-.3 0 .5zM586.8 145.5l0-.5 .3 .2-.3 .3zM616.2 145.4l0-.6 .5 .4-.5 .2zM629.8 145.3l-.6-.1 .6 .1zM487.4 147.8l.7-2-.3-.3-.3 1.3-.6 .4 .3 .9 .2-.3zM589.2 147.7l-2.1-1.9 .1-.3 2.4 1.7-.4 .5zM592.8 145.8l.4 0-.4 0zM605.8 146.2l-.4-.4 .4-.3 0 .7zM623.8 146l-.3-.2 .3 .2zM501.8 148.1l-.4-.3 .8-1.9 .2 .9-.6 1.3zM593.8 146.4l-.5-.2 .5 .2zM606.2 146.6l-.4-.4 .8 0-.4 .4zM625.2 147.1l-1.3-.9 .9 0 .8 .6-.4 .3zM594.2 147l-.3-.2 .3-.2 0 .4zM594.8 147.6l-.4-.4 .4-.2 .3 .2-.3 .4zM626.8 148.1l-1.4-.9 .4-.3 1.4 .9-.4 .3zM504.2 149.8l.6-2-.6 2zM581.2 147.8l-.5 0 .5 0zM591.8 149.4l-2.5-1.6 .5-.4 2.4 1.8-.4 .2zM595.2 148l-.3-.2 .3-.4 .4 .4-.4 .2zM608.5 148.2l-1-.4 1 .4zM616.8 148.2l-.6-.4 .6 .4zM484.5 148.2l-.3 0 .3 0zM490.8 148.2l0 .4 0-.4zM595.8 148.5l0-.6 .4 .3-.4 .3zM627.8 148.7l-.8-.5 .2-.3 .8 .3-.2 .5zM480.8 150.1l-.4-.3 .4-1.5 .3 .5-.3 1.3zM482.2 149.2l-.3-.4 .3-.4 .5 .4-.5 .4zM486.4 150.2l-.1-.4 .7-1-.2-.5-.6 .5-.4 1.9 .6-.5zM494.8 149.4l0-1.1 0 1.1zM501.2 149.1l-.4-.3 .4-.2 0 .5zM602 150.2l-2.1-1.4 2.1 1.4zM629.2 149.5l-1.4-.7 1-.1 .4 .8zM484 149.8l-.4-.6 .2 .8 .2-.2zM582.8 149.4l0-.5 .3 .3-.3 .2zM493.8 151.9l-.4-1.1 .8-.6 0-.6-.4 2.3zM584.8 150.6l-1.1-.4-.5-.8 1.6 .7 0 .5zM592.2 149.8l0-.5 0 .5zM479.8 152.7l-.4-.5 .8-2.3 .5 .3-.9 2.5zM490.7 150.2l-.5-.3-.2 .3 .2 .5 .5-.5zM506.8 150.4l0-.6 0 .6zM481.2 151.6l0-1.1 0 1.1zM483.1 152.8l.7-2.3-.7 .3-.8 2 .5 .4 .3-.4zM491.3 151.2l-.1-.6 .1 .6zM503.8 151l0-.5 0 .5zM585.2 151.1l-.4-.3 .8 0-.4 .3zM606.5 153.2l-2.7-2.1-1.3-.3 4 2.4zM484.9 152.8l.9-2-.7 .4-.2 1.6zM488.8 154.8l0-.6 .7-.4-.1-1 .8-1-.4-.6-1.2 2.6 .2 1.2 0-.2zM499.8 151.6l0-.5 0 .5zM586.8 152l-1.3-.8 .3-.2 1.4 .8-.4 .2zM496 151.8l-.2-.4-.3 .4 .3 .3 .2-.3zM480.8 152.7l0-.9 0 .9zM487.3 152.2l-.1 .4 .1-.4zM499.2 153.1l-.3-.3 .3-.7 0 1zM588.2 152.9l-1.2-.7 .2-.4 1.5 1-.5 .1zM478.8 154.5l.4-2 .4 1.3-.8 .7zM494.3 155.8l1.2-2.6-.3-.7-1 2.3 .1 1zM626.3 157.2l-7.6-4.4 5.1 3.5 2.4 1.3 .1-.4zM498.8 154.2l-.5-.4 .5-.9 .3 .3-.3 1zM589.2 153.4l-.5-.2 .1-.3 .4 .5zM481.8 155.8l.8-2-.4-.4-.3 .4 .3 1-.7 .4 .3 .6zM480.8 154.2l0-.4-.3 .4 .3 0zM480.4 155.8l-.2-.5-.1 .5 .3 0zM484.9 155.8l-.4 0 .4 0zM487.9 157.8l.3-2.2-.4 2.5 .1-.3zM595.8 156.6l-1-1 1.4 .6-.4 .4zM489.8 156.8l0-.8 0 .8zM478.4 160.8l1.6-4-.2-.4-1.2 3.4-.6 .4 .4 .6zM481.4 156.8l-.2 .3 .2-.3zM494.8 158.2l.4-1.6-.4 1.6zM597.2 157.6l-1.3-.8 .3-.5 1.5 .9-.5 .4zM484.4 157.2l-.2-.3 .2 .3zM654.8 157.4l-.7-.2 .7 .2zM476.8 158.3l0-.6 0 .6zM479.4 161.8l1.8-4.4-2.4 4.4 .6 0zM489.4 157.8l-.2-.4 .2 .4zM656.2 158.1l-1-.3 1-.1 0 .4zM657.2 158.6l-.9-.4 1.3 0-.4 .4zM476.2 159.2l0-.6 0 .6zM486.9 160.2l.6-1.4-.3-.5 0 .9-.5 .6 .2 .4zM640 158.8l-.4 0 .4 0zM671.2 164l-13.8-5.2 .4-.4 1 .3 12.9 5.1-.5 .2zM494.4 159.2l-.2-.2 .2 .2zM596.8 159.3l.3-.1-.3 .1zM475.8 160l0-.5 0 .5zM490.9 160.2l-.7-.1-.4-.8 .4 1.1 .7-.2zM609.4 160.2l-.3 0 .3 0zM475.2 161.2l0-.8 0 .8zM622.8 165.8l-10.3-5 .9 1 3.4 1.8 6 2.2zM474.2 163.4l-.4-.2 1-2.1 .3 .1-.9 2.2zM490.1 161.2l-.7 0 .4 .4 .3-.4zM478 161.8l-.2-.5-.3 .5 .5 0zM487.3 165.8l2-3-.1-.9-1.9 3.9zM477.5 162.8l-.3-.4-.1 .4 .4 0zM478.4 163.2l-.2-.2 .2 .2zM497.2 163.4l-.4 .2 0-.5 .4 .3zM472.8 163.9l0-.3 0 .3zM473.8 164.3l0-1 0 1zM477 163.8l-.4 0 .2 .3 .2-.3zM477.3 164.8l.5-.7-.5 .7zM492.8 171.7l-.4-.5 1.2-2.4 2.6-5 .6 0-4 7.9zM672.8 164.5l-1.3-.3 .3-.4 1 .7zM472.8 165.9l-.7-.7 .1-.5 .7 .5-.1 .7zM473.2 165.1l0-.8 0 .8zM473.4 171.8l1.5-2.6-.3-.4 1.8-2-.5-.6 1-.4-.7-.8-3.5 6.2 .7 .6zM472.2 166.8l-.7-.6 .3-.6 .4 1.2zM488.9 169.8l1.5-2 .8-2.4-1.7 2.4-.6 2zM471.8 167.6l-.9-.4 .3-.6 .6 1zM471.2 168.6l-.9-.4 .5-.8 .4 1.2zM497.2 169.9l-.3-.1 .3-.7 0 .8zM473.8 170.5l0-.4 0 .4zM496.8 170.6l-.4-.4 .4-.4 0 .8zM491.2 171.1l-.4-.3 .4-.4 0 .7zM473.2 171.5l-.3-.3 .3-.4 .4 .4-.4 .3zM489.9 172.2l-.1-.3 .1 .3zM469.2 173.2l-.3-.4 .3-.3 .4 .3-.4 .4zM634.3 174.2l-1 0 1 0zM636.2 174.8l-.6 0 .6 0zM495.2 175.5l0-.4 0 .4zM628.8 175.3l-.7-.1 .7 .1zM494.8 176.1l0-.6 .3 .3-.3 .3zM630.8 176l-.8-.2 1 0-.2 .2zM494.2 176.6l0-.6 .4 .2-.4 .4zM627.8 176.7l-1.8-.5 1.8-.1 0 .6zM462.8 176.9l0-.3 0 .3zM493.8 177.2l-.4-.4 .4-.3 .3 .3-.3 .4zM462.2 177.8l0-.6 0 .6zM641.9 177.8l-.5 0 .5 0zM496.2 181.3l-.8-.1 .8 .1z"/>
<path fill-opacity="0.400" fill-rule="evenodd" d="M537.2 83.3l0-.3 0 .3zM563.8 84.8l-1.1-1.6 1.1 1 0 .6zM531.8 88.6l-1.6-1 0-.6 .6-.1 1.4 1.3-.4 .4zM532.2 88.8l0-.3 0 .3zM548.2 91.5l0-.6 .4 .3-.4 .3zM543.8 92.3l-.6-.6 .6 .1 0 .5zM549.2 92.8l-.4-.9 .6 .3-.2 .6zM507.8 95.3l0-.6 0 .6zM551.2 95.1l-.3-.3 .3-.2 .4 .2-.4 .3zM507.2 96.3l-.4 .2 .4-.2zM554.2 97.5l-1.1-.7 .1-.6 1 1.3zM506.8 97.3l0-.3 0 .3zM508.8 97.4l-.5-.2 .5-.2 0 .4zM550.2 98.5l-1.7-1.3 .3-.3 1.7 1.3-.3 .3zM552.2 97.5l0-.5 .5 .2-.5 .3zM506.2 98l-.3-.2 .3-.5 0 .7zM508.2 98.3l0-1 0 1zM552.8 97.8l0-.4 0 .4zM564.2 97.8l.5 0-.5 0zM555.2 99.6l0-.5 0 .5zM504.2 100.7l-.3-.5 .3-.7 .5 .7-.5 .5zM556.8 101.2l-1.4-1.4 .4-.2 1.1 1.2-.1 .4zM559.2 100.8l-.8-.6 .2-.4 .8 .4-.2 .6zM503.8 101.6l-.5-.4 .5-.8 .4 .4-.4 .8zM506.2 102.2l0-1 0 1zM513.2 101.8l-.1-.6 .7-.2-.6 .8zM557.2 101.3l-.3-.1 .3 .1zM560.8 102.6l-1-1.6 1 .8 0 .8zM512.2 101.8l.5 0-.5 0zM516.8 102.1l0-.7 0 .7zM502.8 103.4l.4-1.3-.4 1.3zM505.8 102.8l0-.8 .4 .2-.4 .6zM516.2 102.5l.2-.3-.2 .3zM554.2 103.8l-1-1.1 1.2 .5-.2 .6zM516.2 103.3l0-.4 0 .4zM562.8 105.1l-1.8-1.3 .2-.9 1.8 1.3 .2 .6-.4 .3zM505.2 104.3l0-.7 0 .7zM503.8 106.8l.4-1.7 .6-.6 .4 .3-1.4 2zM511.8 104.9l0-.5 0 .5zM501.2 105.7l0-.7 0 .7zM515.2 105.6l0-.6 0 .6zM510.8 106.8l0-.6 0 .6zM514.8 107l0-.7 0 .7zM501.8 107.8l-.6 0 .6-.6 0 .6zM514.2 107.8l0-.7 0 .7zM499.2 109.6l0-.9 .4 .5-.4 .4zM507.8 109.8l0-1.1 0 1.1zM513.8 109.1l0-.5 0 .5zM565.2 109.1l-.3-.3 .3-.3 .4 .3-.4 .3zM577.2 113.5l-.4-.3-.6 .4-3.1-3.8-.3-1.2 4 3.8 1.2 .4-.8 .7zM558.2 109.3l0-.3 0 .3zM565.8 109.5l-.4-.3 .4-.3 .4 .3-.4 .3zM498.8 111.3l0-1.6 .4 .5-.4 1.1zM519.8 111.1l-.5-.3 .9-1.1-.4 1.4zM507.2 111l0-.8 0 .8zM513.2 110.6l0-.4 0 .4zM499.8 110.8l0-.5 0 .5zM512.8 111.9l0-.9 0 .9zM519.2 111.7l0-.8 .4 .3-.4 .5zM570.2 111.3l.4-.1-.4 .1zM506.8 112.4l0-.8 0 .8zM563.2 112.6l-.8-.4 .1-.4 .9 .4-.2 .4zM571.2 111.9l-.4-.3 .4 .3zM498.2 112.5l0-.5 0 .5zM583.2 117.3l-4.8-4.1 .4-.3 4.3 3.3 .4 .6-.3 .5zM500.2 114l0-.4 .4 .2-.4 .2zM512.2 113.9l-.5-.1 .5-.2 0 .3zM585.8 122.2l-5.9-5.4-3.2-2-.3-1 .4-.5 9.2 7.9 .2 .6-.4 .4zM573.8 115.1l-1.4-.3-.1-.6 .5-.3 .4 .2 .9 .7-.3 .3zM492.8 135l-.3-.8 2.1-6 .5-3 3.1-8 1.6-2.5 .4-.1-2.8 6.6 .3 .6-.8 .4 .6 1-1.4 2-2.2 7.6-1.1 2.2zM567.2 117l-2-1.8 1.6 .6 .9 1-.5 .2zM564.8 116.1l0-.5 0 .5zM565.2 116.8l-.3-.6 .3-.2 .4 .2-.4 .6zM565.8 117.3l0-.3 0 .3zM567.8 117.4l0-.4 0 .4zM520.2 118.6l0-.4 0 .4zM567.2 119.5l-.9-1.3 1 .6 .4 .4-.5 .3zM504.2 120.2l0-1.5 0 1.5zM558.2 119.2l0-.5 0 .5zM558.8 119.7l-.5-.5 .5 0 0 .5zM567.8 120l0-.6 0 .6zM503.2 123.5l-.2-1.3 .7-1 .1-1.1 .3 .1-.3 .6 .2 1.4-.8 1.3zM568.2 120.6l0-.6 0 .6zM518.2 122.3l1-1.9 .1 .8-1.1 1.1zM568.8 121.1l0-.5 0 .5zM592.8 122l-.6-.3 .6 .3zM501.8 123.2l-.2-1 .6-.3 .3 .3-.7 1zM587.2 125.7l-.4-.4-1.6 0-3.1-3.1 1.7 .5 2.4 2.5 1.4 0-.4 .5zM586.2 122.5l-.4-.3 .4-.4 0 .7zM593.2 122.6l-.4-.4 .4-.1 0 .5zM516.8 123.9l.4-1.3-.4 1.3zM570.2 123l0-.4 0 .4zM586.8 123l-.4-.2 .4-.3 0 .5zM594.8 123.9l-1.4-1.1 .6 0 .8 1.1zM571.2 123.9l-.6-.7 .6 .7zM587.2 123.5l0-.5 0 .5zM502.2 125.6l-.2-.4 .8-1.5 .1 .5-.7 1.4zM587.8 124l0-.5 .4 .3-.4 .2zM501.2 124.4l0-.5 0 .5zM588.2 124.4l0-.6 .5 .4-.5 .2zM494.2 125.7l-.3-.5 .3-.7 0 1.2zM588.8 124.9l0-.5 0 .5zM505.8 125.8l0-.6 0 .6zM590.2 126.7l-1.1-.9 .1-.8 1.5 1.2-.5 .5zM499.8 125.9l-.6-.1 .6-.2 0 .3zM588.8 127.1l-1.5-1.3 .5-.4 1 .6 .3 .8-.3 .3zM492.2 130.7l0-1.5 1.6-3.4-.1 2-1.5 2.9zM500.2 128.4l.3-2.2 1.3-.3-1.6 2.5zM597.8 132.6l-2.6-2.1-2-1.3-.6 0-2.3-2.4 .5-.5 5.3 3.9 2 2-.3 .4zM672.8 184.3l-3.5-1.1-19.7-2.4-10.1-2 2.3-.2 12.8 1.2-2.4-.2-18.7-4.4 10.7 1-13.5-3.4-10.4-4 .9-.3 4.6 1.4 .8-.1-10-4-2.1-1.6 .3-.4 2 .3 10.4 4.3 10 2.9 1.1-.1-10.1-3.8-10.5-4.6-6.1-3.6-9.7-7-.5-.4 .4-.2 1.4 .5 7 4.1 12 5.6 3.3 1-.1-.6-8.2-4.4-.7-.6 .3-.3 13.4 6.7 .6 .6 .4-.2 .6 .6 .2-.4-9.2-5.4-8-3.7-7.9-4.9 0-.4-8.1-7 1.4 .4 12 8.7 4 2.4 1.4-.1-2.2-1.4 .8-.6 12 7.1 2.7 .9 .3 .6 1-.6-.3-.4-6.7-3.5-6.4-4-12-9.1-1.6-.2-1.4-1-12.6-9.4-4.1-4.4-.6-1 .3-.4 3.4 3.6 5.6 4.4 7.4 5.5 .9-.1 4.7 2.7 14 10.9 .6 0 1.4 1 .4-.5 1 .4 .9 .5-.4 .6 1.1-.2-.1 .6 1.1 0 5 2.6 0 .5 1.2-.1-.5 .6 3.7 2.2 15 5.3 2.8 .5-8.2-3.2-.5-.4 .9-.5 4.6 1.7 .9-.2-1.2-.4 .5-.6-1.8 .1 0-.4 .8-.1-.6-.6-11.3-5.4-6.8-4.6 .5-.2 11 5.6 10.4 4.4 10 3.4 7.6 1.8 0 16.1zM590.2 128.7l-1.4-1.5 .4-.4 1.5 1.4-.5 .5zM586.2 127.8l.5 0-.5 0zM498.8 128.8l0-.7 0 .7zM576.2 129.9l-1.2-.7-.2-.7 1.4 1.4zM590.8 129l-.5-.2 .5-.5 .3 .5-.3 .2zM499.8 130.1l0-1 0 1zM503.2 129.4l0-.3 0 .3zM591.2 129.4l0-.3 0 .3zM500.2 130.9l-.9-.1 .5-.5 .4 .6zM504.2 130.9l0-.3 0 .3zM491.8 131.7l0-.9 0 .9zM499.2 132.3l0-1.2 0 1.2zM483.2 185.8l-43.4 0-.1-.6 8.5-.1 3.6-.6 5.4-2.1 5-2.9 3-3.4 .5 .1-.9 2.2 4.2-3.2 3.2-5.2 .5 .2-3.2 5-.8 2 2.5-1.8 4-5.2 4.7-8.4 6.3-15.9 .3 .3-.4 2-2.7 6.6-1.6 5.4-1.1 2 .1 .5 1.6 .1-.6-.2-.2-.8 .6 .3 .8-.9 4.5-8.4 2.3-5.6 .8-.4-.4-.5-1 .1-.8 .8 .1 1-1.3 2.3-.1-.7 1.6-4.6 .5 .9 .8-1.3-.2-.5-.6 .4-.2-.5 .2-.6 .6 .6 .4-.4 1.3-3-.3-2 1-.6-.1-.4-.9-.6 .6-1.1 .4 1 1-.7 2-4.7 .1 1.5-1.5 4.6-3.4 7.4 .8 1-3.6 9-.4 2.5-.4 1.3-.5-.2 .3-1-.5 0 .2 2.4-.5 1.2-.7-.6 .2 1.4-.5-.2-1.4 3.2-.2 1.3 .1-.7 .5-.2 1-1.7 .9 .3-1.6 2.6-1.3 3.8 2.8-4.8 1.2-1.4 .3 .4-4 8 .6 .4-.9 1 .1 .6-1.4 1.4 .4 .6-1 1 .9-.6 3.7-4.4 1-2.6 3.5-5.4 .7-2-.2-.6 .6-.4-.2-.6 .9-1.4 .3 .4-1.2 2.6-.1 2-4.6 8.1 2-1.3 3.9-5.8 .8 .4-6 9.6-.9 3 .8 1.2 3.6-1.8-2.8 2.6 1.6 .4-1.8 1.6 3.8-.2-.8 1.2 1.7 1-1.6 .4-7.3 .6zM489.2 133l0-.6 0 .6zM491.2 133l0-.4 0 .4zM598.2 133l-.3-.2 .3-.4 .4 .4-.4 .2zM498.8 133.8l0-.8 0 .8zM598.8 133.4l0-.4 0 .4zM488.2 136.5l-.3-.3 .9-2.6 .2 .6-.8 2.3zM511.8 133.9l-.6-.2 .6-.2 0 .4zM496.2 134.4l0-.5 0 .5zM490.2 135.9l0-.7 0 .7zM492.2 136l0-.6 0 .6zM503.2 140.9l-.2-.7 .7-2 1.5-2.1 .2 .7-2.2 4.1zM487.8 137.9l0-1.5 0 1.5zM495.2 137.1l0-.7 0 .7zM487.2 138.8l0-.7 0 .7zM489.2 139l0-.4 0 .4zM494.8 139l0-.6 0 .6zM487.2 139.9l-.5-.1 .5-.3 0 .4zM488.8 140.4l0-.8 0 .8zM490.8 140.6l-.5-.4 .5-.7 .3 .7-.3 .4zM494.2 140.3l0-.8 0 .8zM488.2 141.5l0-1.1 .4 .4-.4 .7zM490.2 142l-.5-.2 .5-1.5 0 1.7zM493.8 141.7l0-1 0 1zM486.8 141.8l-.6 .4 .6-1.3 0 .9zM502.8 142l0-.9 0 .9zM487.8 143l0-1.2 0 1.2zM493.2 142.5l0-.4 0 .4zM601.8 149.2l-8.5-6-1.2-1 .1-.3 3 1.5 6.7 5.4-.1 .4zM485.8 143.4l.4-1.1 0 .9-.4 .2zM489.8 143.4l-.4-.6 .4-.5 0 1.1zM502.2 142.9l0-.4 0 .4zM487.2 144.5l0-1.4 .4 .1-.4 1.3zM499.8 145l0-.8 0 .8zM596.8 151.1l-7.1-5.3-1.6-1.6 .1-.4 9 7-.4 .3zM606.8 145.1l-1-1 1.2 .7-.2 .3zM486.8 146l-.4-.2 .4-1.3 0 1.5zM613.2 145l-.3-.2 .8 0-.5 .2zM610.2 147.7l-3.4-2.5 .4-.3 3.5 2.3-.5 .5zM646.8 164.3l-3.6-.9-7.8-3.6 .4-.4 1.4 .5 1-.1-17.4-9.4-7.4-5.2 .4-.4 9.4 6.2 16.6 8.8 0 .5-.6-.5-.9 .4 9.4 3.6-.9 .5zM491.2 146l0-.3 0 .3zM494.8 145.9l0-.6 0 .6zM494.2 147.4l0-1.1 0 1.1zM493.8 148.6l0-1 0 1zM498.2 150.1l0-.9 1-1.5-1 2.4zM611.2 148.2l-.9-.4 .5-.4 .6 .4-.2 .4zM611.8 148.5l-.4-.3 .5 0-.1 .3zM493.2 149.4l0-.7 0 .7zM602.2 149.5l-.4-.3 .8 0-.4 .3zM492.2 151.3l0-1.1 .6-.6-.6 1.7zM603.8 150.5l-1.2-.7 .2-.4 1 1.1zM497.8 151.3l0-1.2 .4 .1-.4 1.1zM486.8 151.4l0-.7 0 .7zM599.2 153.1l-2.3-1.9 .3-.4 2.4 2-.4 .3zM497.2 152.4l0-1 0 1zM494.8 152.7l0-.7 0 .7zM615.2 152.5l-.6-.3 .6-.3 .4 .3-.4 .3zM632.2 152.5l-.3-.3 .3 .3zM496.8 153.5l-.6-.9 .6 .2 0 .7zM633.2 153.2l-.7-.4 .9 0-.2 .4zM493.2 156.2l0-1 1-2.1 .1 1.1-1.1 2zM603.8 156.2l-4.4-3 .4-.3 4.4 2.9-.4 .4zM624.8 154.4l-.4-.2 .8 0-.4 .2zM495.2 155.7l0-1.1 .4 .2-.4 .9zM618.4 154.8l-.4 0 .4 0zM626.1 155.2l-.5 0 .5 0zM489.2 156.3l0-.6 0 .6zM494.8 156l.4-.2-.4 .2zM604.8 156.6l-.5-.4 .6 0-.1 .4zM615.2 156.4l.4-.2-.4 .2zM487.1 156.8l-.3-.4 0 .8 .3-.4zM616.2 156.9l-.4-.4 .8 .3-.4 .1zM488.8 157.6l0-.7 0 .7zM492.8 158.1l0-.6 0 .6zM488.2 158.8l0-.8 0 .8zM489.8 158.3l0-.3 0 .3zM492.2 160.1l-.4-.3 1-1.5-.6 1.8zM487.8 160.2l0-1 0 1zM485.9 159.8l-.1-.5 0 .9 .1-.4zM616.1 160.2l-.6 0 .6 0zM632.8 160.2l-.3 0 .3 0zM487.2 161.6l0-1.2 0 1.2zM606.8 160.9l-.4-.1 .4 .1zM617.1 160.8l-.6 0 .6 0zM607.8 161.4l-.4-.2 .4 .2zM618.1 161.2l-.6 0 .6 0zM486.2 163.4l-.2-.6 .8-1.4 .3 .4-.9 1.6zM619 161.8l-.5 0 .5 0zM483.4 162.8l-.3 0 .1 .4 .2-.4zM626.4 162.8l-.3 0 .3 0zM480.9 163.2l-.1-.4-.3 .4 .3 .4 .1-.4zM487.8 163.7l0-.7 0 .7zM488.8 165l.6-1.8-.6 1.8zM613.2 163.4l-.2-.2 .6 0-.4 .2zM482 163.8l-.5 0 .5 0zM477.6 173.2l3.3-4.4 2-4.6-.1-.7-1.6 2.3 .3 .4-.8 .6 .3 .4-4 6 .6 0zM485.8 164.1l0-.7 0 .7zM487.2 164.6l-.3-.4 .7-.4-.4 .8zM614.2 164l-.4-.3 .9 .1-.5 .2zM650.8 163.9l-.7-.1 .7-.4 .4 .4-.4 .1zM632.9 164.8l-.5 0 .5 0zM488.2 165.9l0-.7 0 .7zM493.2 165.4l-.3-.2 .3-.2 0 .4zM633.9 165.2l-.3 0 .3 0zM655 165.8l-1.1 0 1.1 0zM487.8 166.4l0-.3 0 .3zM656.4 166.2l-1.1 0 1.1 0zM474.2 167.3l0-.6 0 .6zM658 166.8l-1.1 0 1.1 0zM668.6 170.2l-9.4-3-.8 0 5.8 2.2 4.4 .8zM473.8 168.4l-.5-.2 .5-.7 0 .9zM618.8 167.9l-.9-.1 .9 .1zM620.2 168.7l-1.1-.5 1.1 0 0 .5zM472.8 170.2l-.3-.4 .7-1.5 .1 .9-.5 1zM484.2 173.2l-.4 0-.3-.4 1.7-2.2 .3 .6-1.3 2zM669.8 170.8l-.7 0 .7 0zM481.8 171.8l.4-.8-.4 .8zM639.4 171.8l-.4 0 .4 0zM643.8 173.2l-.3 0 .3 0zM483.8 173.9l-.4-.1 .4-.5 0 .6zM645.8 173.8l-.7 0 .7 0zM483.2 174.5l-.4-.3 .4-.3 0 .6zM647.5 174.2l-.5 0 .5 0zM466.2 175.4l.3-.6-.3 .6zM476.3 174.8l-.5 .1 .5-.1zM632.8 174.8l-.8 0 .8 0zM465.8 176.2l0-.7 0 .7zM475.4 175.8l-.2 .2 .2-.2zM646.1 176.8l-.8 0 .8 0zM486.8 177.5l-.5-.3 .5-.1 0 .4zM639.2 178.3l-.9-.1 .9 .1zM486.8 179l0-.3 0 .3z"/>
<path fill-opacity="0.500" fill-rule="evenodd" d="M496.2 124.3l0-.6 0 .6zM495.8 125.4l0-.6 0 .6zM489.8 149.3l0-.7 0 .7zM489.2 150.5l0-.9 0 .9zM488.8 151.8l-.4 0 .4-1.1 0 1.1zM486.8 155.8l-.1-1 1.5-3 0 1.1-1.4 2.9zM611.8 152.4l-.4-.2 .4 .2zM613.2 153.4l-1.1-.6 .7 0 .7 .4-.3 .2zM614.2 153.9l-.4-.4 .4 .4zM486.2 156.8l0-.8 0 .8zM621.8 157.4l-.4-.2 .4 .2zM624.2 158.7l-2-1.1 2.5 .6-.5 .5zM625.8 159.2l-1.2-.4 1.2-.2 .3 .2-.3 .4zM631.8 162.1l-6-2.9 .4-.3 2.2 .9 3.7 2-.3 .3zM632.8 162.4l-.9-.2 .3-.3 .6 .5zM633.2 162.9l.4-.1-.4 .1zM638.8 163.1l-.6-.3 .6 .3zM479.8 163.4l0-.3 0 .3zM620.2 163.3l-.6-.1 .6 .1zM672.8 183l-20.2-2.2 .2-.4 7.4 .6 3.1-.2-17.1-3 6.7 0-11.6-2.6 .5-.4 1.5 0-1.5-.1-.6-.6-11.1-3.9 1.5 0 18.6 5.3 4.6 .9 1.9-.2-11.5-2.9-14-5-1.2-.5 .2-.5 4.6 .9-1 0-.6-.6-5.7-2.4 .7-.1 16.6 4.8 4.4 .9-6.9-3 .5-.5 16.4 5.1 8.6 1.9 1.9-.1-8.7-2.4-22.2-8.6 1 0 27.4 9.1 3.6 1-.8-1.1-1.5-.4 4 .4 .3 10.8zM621.2 163.8l-.6 0 .6 0zM622.8 164.5l-1.1-.3 .1-.2 1 .5zM623.8 164.9l-1-.1 1 .1zM627.2 165l-.7-.2 .7-.1 0 .3zM624.8 165.4l-.7-.2 1 0-.3 .2zM626.2 165.9l-.9-.1 .9 .1zM627.2 166.4l-.7-.2 1.1 0-.4 .2zM629.8 167.5l-2.2-.7 .2-.4 2.4 .8-.4 .3zM640.8 166.9l-.7-.1 1 0-.3 .1zM642.2 167.7l-1.1-.5 .1-.3 1.4 .3-.4 .5zM662.8 167.4l-1.1-.2 1.1 .2zM672.8 170.9l-10-3.1 .4-.4 8.9 2.4 .7 .2 0 .9zM476.8 168.5l.2-.3-.2 .3zM626.2 168.8l-.4 0 .9 0-.5 0zM481.8 185.8l-42 0-.1-.6 8.5 0 3.6-.6 5-1.6 3-1.4 4-1.1 .4 .3 2-.8 1 .3 2-1.3 3.3-3.2 3.7-6.7 .6-.1-1.4 3.2 .4 .3 1.4-2.2 .6 1-5.6 8.1 1-.3 2-2 .6 .2 4.4-5.1 .1 .6-3.1 4.4 0 .6 2.9-2.6 2.1-2.8 .3 .4-.4 1-3.6 5 .4 .4-.8 1 1.1-.2 3.6-3 1 0 1.4-1.6 .1 .8-2.8 4 .3 .6-.4 .4 1.8 0-.4 1.2 1.4 .4 1 .8 2 0 .4 .2-.2 .4 1.7 .6-1.2 .4-7.1 .6zM484.2 169.6l0-.4 0 .4zM628.2 169.4l-1.1-.2 1.1 .2zM629.8 170l-1.2-.2 1.4 0-.2 .2zM477.8 170.4l-.5-.2 .5-.4 .4 .4-.4 .2zM483.8 170.7l0-.6 0 .6zM666.2 170.8l-.7 0 .7 0zM483.2 171.6l0-.7 0 .7zM668.2 171.5l-1.2-.3 1.5 0-.3 .3zM482.8 172.5l0-.9 .3 .2-.3 .7zM488.8 172.3l0-.3 0 .3zM638.2 174.3l-.6-.1 1.1 0-.5 .1zM641.2 175.2l-1.9-.4 2.4 0-.5 .4zM671.3 174.8l-.7 0 .7 0zM485.8 175.5l0-.6 0 .6zM483.2 177.2l0-.7 0 .7zM658.7 176.8l-1.6 0 1.6 0zM645.2 177.3l-1.2-.1 1.2 .1zM464.2 180.6l0-.4 0 .4zM652.2 180.4l-2.1-.2 2.5 0-.4 .2zM665.9 181.2l-1.6 0 1.6 0z"/>
</g>
<path d="M427.5 11.5V194.6M426.9 194H684" class="ax"/>
<path d="M423.8 185.5H427.5" class="tk"/>
<text x="419.2" y="189.5" class="tl" text-anchor="end">0</text>
<path d="M423.8 136.8H427.5" class="tk"/>
<text x="419.2" y="140.8" class="tl" text-anchor="end">0.05</text>
<path d="M423.8 88.0H427.5" class="tk"/>
<text x="419.2" y="92.0" class="tl" text-anchor="end">0.10</text>
<path d="M423.8 39.2H427.5" class="tk"/>
<text x="419.2" y="43.2" class="tl" text-anchor="end">0.15</text>
<path d="M439.6 194.6v3.1" class="tk"/>
<text x="439.6" y="210.0" class="tl" text-anchor="middle">0</text>
<path d="M498.0 194.6v3.1" class="tk"/>
<text x="498.0" y="210.0" class="tl" text-anchor="middle">5</text>
<path d="M556.3 194.6v3.1" class="tk"/>
<text x="556.3" y="210.0" class="tl" text-anchor="middle">10</text>
<path d="M614.7 194.6v3.1" class="tk"/>
<text x="614.7" y="210.0" class="tl" text-anchor="middle">15</text>
<path d="M673.0 194.6v3.1" class="tk"/>
<text x="673.0" y="210.0" class="tl" text-anchor="middle">20</text>
<text x="559.2" y="226.2" class="al" text-anchor="middle">Days since mosquito infected</text>
<text transform="translate(379.9,102.7) rotate(-90)" class="al" text-anchor="middle">Proportion of mosquitoes</text>
<text transform="translate(390.2,102.7) rotate(-90)" class="al" text-anchor="middle">becoming infectious</text>
<text x="370.2" y="10.9" class="pl" font-size="16.5">b</text>
<clipPath id="kc"><rect x="38.5" y="252.5" width="173.5" height="183"/></clipPath>
<rect x="64.8" y="366.3" width="7.8" height="63.0" class="bu"/>
<rect x="75.8" y="303.3" width="7.8" height="126.0" class="bu"/>
<rect x="86.9" y="303.3" width="7.8" height="126.0" class="bu"/>
<rect x="97.9" y="366.3" width="7.8" height="63.0" class="bu"/>
<rect x="108.9" y="366.3" width="7.8" height="63.0" class="bu"/>
<rect x="130.9" y="366.3" width="7.8" height="63.0" class="bu"/>
<rect x="142.0" y="366.3" width="7.8" height="63.0" class="bu"/>
<rect x="153.0" y="366.3" width="7.8" height="63.0" class="bu"/>
<g clip-path="url(#kc)" fill="#76c091">
<path fill-opacity="0.045" fill-rule="evenodd" d="M212.2 430.2l-33.4-.1-20-.6-10.6-1-7.4-1.7-5.6-2-6.4-4-4.6-4.2-4.4-5.4-2.6-3.4 0-.6 .6 .6 .4-1-1.2-1.6-.8-.6-.4 .2 .4 1-2-2.6-8.4-6.1-1 .1-.6 1 .6-2-1.6-1-.4 0-2 2.6-5.6 10-8.4 11.4-5.6 5-4.9 3 .9 .6 1.6-1 1 0 6.4-4 6-6 3-4.6 1.6-1.4-4.6 6.4-7.4 7-7 3.6-9 1.8-9.6 .6-12.4 0-.5-.4 0-75 .5-17-.4-17 .5-21 .3-1-.3-1.6 .3-6 .6 .7 .4-2.1-.4-.6-.6 1 .6-3.4 .4 .4 .6-.4-.6 1.4 .6 1 2.4-1 0-1.4-1.4-3-.9 1.4-.1 1.6-.6-.6-.4 .6 .6-2.6 1.4-2.4 .3-2-1.7-15.6-.6-12 2-.4 2.4 0 .5 .4 3.1 27 1-.4-.6 1 0 2 1 5.7 1-1.3 1.4-4 3.5-5 .1-1-2.4-2.4-.6 0-2 1.4-1 2 1-2.4 1.5-1 1.5 0 2.6 2.3 .4 .1 .6-1 .4 1 1.6-1.4 1.2-2.6 1.3-4.4 1.5-2.6 .4-2.4 .6-.6 .4 .6 1 0 .6-1 .7-3-.3-1.6-1-1-1 1 .4-1-.4-1-.4 0-.6 0-2 2 0-.4 1.6-1.6 1.4 0 1-1.4 0 2 1.6 1.4 .4-.4 .8-3.6 .8-1.2 .4 .2-.4 2.6 1.4-1.6 1 0 .6-.4 1.4 2 .6 1.4-1.6-2-1 1.6 .6-1-1-1.6-2 2-1.2 3.6 .6 3-1-1-.4 1 .4 2 1.6 1.2 0-1.8 .4 .5 .6-.2 .4-1.7 .6 .4 .4-.1 1-1.3 1 1.1 1-1.1-.4 1 .4 1 .6 .4 .4-.4 .3-1.6-.3-1-.4-.3-.6 .3 .3-1.4-.3-.4-1.4 1.4 1-1.6 0-2 1 .9 .4-.9-.4-1.4 .4 .4 .6-.4 .4 .8 1 .2 .8-1-.2-2 .4 1 1-.6 2.6 0 1 1 .4-.4 3.6 9 1.4 6 1 1 1.6 .4 1.4 2 0 .6-1-1.6-2-1.4-.3 1 1.8 6.4 2.4 4 3.1 4 .6-1 2.6 7.6 2.8 2.4 0 .6-1.4-1.6-.6 1 .6 1.6 5.4 7.4 .5-.4-.5-1 .6 .4 0 1 1.4 2.6 3 7.4 2.3 3.6 14.3 16 0 .4-1-1-.6 .6 .6 1 2 2.1 .4-.7-1.4-2 1 1 4.4 6 3 3 0 .6-2-2-.4 .4 .4 1-4.4-6-.1 .6 3.5 6 1 1 .6-.6-.6-1 .6 .6 2 4 1.4 1.4 1 0 .4-.4-.4-1 3 2.4 6 3 4 3.6 .6 0 9.4 9.4 .1 .6 3.9 4 0 .4-14-14.4-6-4.6-4-2-.4 1 1.2 1.6 3.2 3 3 2 11.6 11.4 0 .6 4.4 4.4 0 .6 8.6 9 0 .4 9 9 4 2 0-1-6-6-.1-.4-4.5-4.6 0-.4 12.2 12.4 3.4 2 4 1 1.4 1 6.6 2-7-2-1.6-1-2.4-.4-.6-.6-1 0-.4 .6 2 2 6.4 4.4 4.6 2 .2 .6 .7 11 0 11.4-.5 1zM73.2 252.8l0-.6 0 .6zM80.2 252.2l-.4 .6 0-.6 .4 0zM83.8 254.8l-.6-.6-.4 .6-.6-.6 0-1-1-1 1 .6 0 1 .6 .4 .4-1 .6 1.6zM83.2 252.8l-.4-.6 .4 0 0 .6zM85.8 252.8l0-.6 0 .6zM90.8 252.8l0-.6 0 .6zM73.2 253.2l0-.4 0 .4zM83.2 253.2l0-.4 0 .4zM91.2 253.8l-.4-1 .4 1zM73.2 253.8l0-.6 0 .6zM88.2 255.8l1.9-1 .1-.6-1-1-1.4 .1-1 .9 .4 1.6 1 0zM92 258.8l-.8-2-1.4-1.6-1.6 1 .6 .9 1 .1 2 2 .2-.4zM79.2 256.2l0-.4 0 .4zM86.5 258.2l.2-1.4-.5-.7-1 1.1 .6 1.6 .7-.6zM79.2 256.8l0-.6 0 .6zM85.2 256.8l-.4-.6 0 1 .4-.4zM79.2 257.2l0-.4 0 .4zM69.2 257.8l-.4 .4 .4-1 0 .6zM72.2 257.8l0-.6 0 .6zM79.2 257.8l-.4 .4 .4-1 0 .6zM92.4 261.8l-.6-2-2.6-2.6-.4 1 .4 1-1.4-1 0 1.6-.7 0 .1 .5 .6-.5 1 1.4 .6 0 .4-.4 2.4 1.4 .2-.4zM72.2 258.2l0-.4 0 .4zM68.2 259.8l0-1 .6-.6-.6 1.6zM72.2 258.8l0-.6 0 .6zM78.8 258.8l0-.6 0 .6zM84 259.8l-.2-1.4-.6 1.4 .6 .4 .2-.4zM72.2 259.2l0-.4 0 .4zM78.8 259.2l0-.4 0 .4zM85.5 259.8l.3-.6-.6-.4 0 1.4 .3-.4zM71.8 260.2l.4-1-.4 1zM78.8 259.8l0-.6 0 .6zM89.8 260.2l-.6-1 .6 1zM67.8 261.2l0-1 .4-.4-.4 1.4zM78.8 260.2l0-.4 0 .4zM80.8 260.2l-.6 .6 .6-1 0 .4zM71.8 260.8l0-.6 0 .6zM78.8 260.8l0-.6 0 .6zM82.2 260.8l0-.6 0 .6zM89.8 260.8l0-.6 0 .6zM71.8 261.2l0-.4 0 .4zM78.2 261.8l.6-1-.6 1zM67.2 262.8l.6-1.6 0 1-.6 .6zM71.8 261.8l0-.6 0 .6zM87.7 263.2l-.5-1.4-1-.4-.4 .8 .4 1.6 1 0 .5-.6zM93.3 261.8l-.1-.6 .1 .6zM71.8 262.2l0-.4 0 .4zM76.2 262.2l0-.4 0 .4zM88.8 262.2l0-.4-.6 .4 .6 .6 0-.6zM93.8 266.8l-1-3.2-1.6-1.8-.3 1.4 1.9 3.6 .4 .4 .6-.4zM76.8 263.2l-.6-1 .6 1zM82.4 266.8l.4-3-.6-.6-1 .6-.4-1.6-1.6 1 0 .6-.4-1-.2 1.4-.6 1 .2 1 .6-.4 1 .4 1-1 .4 1.6 1.2 0zM67.2 263.2l0-.4 0 .4zM72.8 265.2l.4-2.4-1.4 1-.3 1 .3 1 1 0 0-.6zM83.8 263.2l0-.4-.6 .4 .6 .6 0-.6zM90.1 263.8l.1-.6-1-.3-.3 .3 .3 1 .9-.4zM66.8 264.8l0-1 .4-.6-.4 1.6zM76.9 268.8l.3-1.6-1 0 0-2-1-1-1 0 .6 2.6 1 .6 .4-.2 .2 1.6 .5 0zM78.8 265.2l.4-1.4 0 1-.4 .4zM81.2 264.2l-.4 .6 .4-1 0 .4zM87.2 264.8l0-1-.4 0-.6 .4 .6 1 .4-.4zM92.8 271.8l0-.8-.6 .2-.4-.4 0-.6 .4 .6 .3-1-.7-.6 .2-1-.5-1.4-1.7-2.6-.5 1 .9 1 .6 1.6-1-1.6-.1 1.6 2.1 4.4 .4-1 .6 1 0-.4zM66.8 265.2l0-.4 0 .4zM80.8 265.2l0-.4 0 .4zM66.2 266.8l.6-1.6 0 1-.6 .6zM78.8 265.8l0-.6 0 .6zM88.3 265.8l-.1 .4 .1-.4zM71.5 273.2l1-4.4 .2-2.6-.5-.4-1.2 1.4-.2 1.6-.6-.6-.4 .6-1.2 3.4 .2 .6 1 0 .4-.6 1 1.6 .3-.6zM85.8 266.8l0-.9-.6 .9-.4-.2 0 .6 .4-.4 .6 .4 0-.4zM80.8 271.2l1.1-2.4-.1-1.6-.6-.4-1 .4-.4-1-1 1-.2 1 .5 2 .7 0 0 1 1 0zM88.2 267.2l0-.4-.4-.1-.6 .5 1 0zM95.1 269.8l-.6-2.6-.7-.4 .7 3 .3 .3 .3-.3zM66.2 267.2l0-.4 0 .4zM73 272.2l.2-1 1 .6 1-1.6 .2 .6 .7 0-.3-1-.6 .4 .4-1-.8-2-1.7 .6-.1 2-.5 1 .3 2 .2-.6zM66.2 267.8l0-.6 0 .6zM80.2 267.8l0-.6 0 .6zM84.4 268.8l.4-1-.6-.2 0 1.6 .2-.4zM85.3 267.8l-.1-.6-.4 .6 .5 0zM93.9 271.2l-.1-2-1-2-.2 1 1 3 .3 0zM65.8 268.8l.4-1-.4 1zM73.8 268.2l0-.4 0 .4zM79.8 269.2l0-1 .4-.4-.4 1.4zM91.2 268.8l-.4-1 .4 1zM73.8 268.8l0-.6 0 .6zM90 272.2l-.8-2.4-2-1.3 1 4.3 1.6 0 .2-.6zM65.8 269.2l0-.4 0 .4zM70.8 269.2l0-.4 0 .4zM73.8 269.2l0-.4 0 .4zM91.8 270.2l-.6-.4 0-1 .6 1.4zM65.8 269.8l0-.6 0 .6zM70.2 270.2l.6-1-.6 1zM73.8 269.8l0-.6 0 .6zM79.8 269.8l0-.6 0 .6zM65.8 270.2l0-.4 0 .4zM73.2 270.8l.6-1-.6 1zM78.3 270.2l-.1 .6 .1-.6zM79.8 270.2l0-.4 0 .4zM65.2 271.8l0-1 .6-.6-.6 1.6zM70.2 270.8l0-.6 0 .6zM70.2 271.2l0-.4 0 .4zM73.2 271.2l0-.4 0 .4zM95.9 272.8l-.1-1.6-.6-.4 0 2 .6 .4 .1-.4zM70.2 271.8l0-.6 0 .6zM86.3 273.2l-.1-1.4-.4-.5-.2 1.5 .2 .4 .5 0zM65.2 272.2l0-.4 0 .4zM70.2 272.2l0-.4 0 .4zM73.9 272.8l.3-1-.4 .4 0 1 .1-.4zM65.2 272.8l0-.6 0 .6zM84.3 272.8l-.5 0 .5 0zM94.8 272.8l-.6-.6 0 1 .6-.4zM65.2 273.2l0-.4 0 .4zM68.9 278.8l.9-2.6 .4 .6 1-2.6-.4-.4-1 .4-.6-1.4-1.2 1.4-.5 2 .3 2 1 .9 .1-.3zM90.2 274.2l-1-1.4-1 0 .6 1.2 1.4 .2zM101.2 274.8l-1-2 1 2zM64.8 274.2l.4-1-.4 1zM80.4 273.8l-.2-.4 0 .7 .2-.3zM96.4 274.2l-.2-1-.4 1 .4 .5 .2-.5zM76.4 274.8l-.2-1-.4 .4 .6 .6zM77.4 276.8l.8-1.6-.4-1.1-.6 .1-.2 2 .4 .6zM83.8 274.2l0-.4 0 .4zM95 274.8l.2-.6-.4-.4-.4 .4 .6 .6zM64.8 274.8l0-.6 0 .6zM69.8 274.8l0-.6 0 .6zM64.8 275.2l0-.4 0 .4zM69.8 275.2l0-.4 0 .4zM73.4 275.8l-.2-.8 .2 .8zM101.8 275.8l-.6-1 .6 1zM67 276.2l-.2-1-.6 .6 .6 .7 .2-.3zM69.8 275.8l0-.6 0 .6zM90.3 276.8l-.4-1-.7-.1 .6 1.1 .5 0zM69.8 276.2l0-.4 0 .4zM75.5 276.2l-.3-.4-.2 .4 .5 0zM85.9 276.8l-.1-.7-.4 .7 .5 0zM102.2 276.8l-.4-1 .4 1zM65.2 277.8l-.4-.6-.1 .6 .5 0zM89.5 277.2l-.3-.4-.4 .4 .4 .4 .3-.4zM96.5 277.2l-.3-.3-.2 .3 .2 .4 .3-.4zM102.8 278.2l-.6-1.4 .6 .4 0 1zM56.8 278.2l.4-1-.4 1zM66.3 278.8l-.1-1.6-1 .6 0 .4 .6 .7 .5-.1zM63.8 278.2l0-.4-.6 0 0 1 .6 0 0-.6zM56.8 278.8l0-.6 0 .6zM68.3 280.2l-.1-1-1-.9 0 1.5 1.1 .4zM71.9 278.8l-.1 .4 .1-.4zM103.2 279.2l-.4-1 .4 1zM63.2 280.2l.6-1.4-.6 0-1.1 1.4 .1 .6 1-.6zM77.3 279.8l-.1-.6 0 1 .1-.4zM103.2 279.8l0-.6 0 .6zM65.5 281.8l.3-1-1-.7-.4 .7 .4 1 .4 .4 .3-.4zM70.3 280.8l-.1-1 .1 1zM103.8 280.8l-.6-1 .6 1zM67.9 281.2l-.7-1 0 1 .6 .4 .1-.4zM103.8 281.2l0-.4 0 .4zM59.2 288.2l0-.4 .6 .4 1-2.4 .6 0-.2-.6-.4 .6 .4-1.6 .6 1 1-1 .6-1.4-.2-1.3-1 .7-.4-1-.8 1-1.7 4.6-.1 1-.4-.6-.6 .6 .6 1 .4-.6zM67.4 282.8l-.6-1.6 0 1.6 .4 .4 .2-.4zM104.2 282.2l-.4-1 .4 1zM50.8 283.2l-.6-1.2-1 .8 .6 1 1-.6zM64.9 283.2l.3-.4-1-.7 0 1.4 .7-.3zM83.3 282.8l-.1-.6 .1 .6zM61.8 283.2l.4-1-.4 1zM104.2 282.8l0-.6 0 .6zM73.3 283.8l.3-.6-.4-.2 0 1 .1-.2zM94.2 283.8l-.4-.7-.2 .7 .6 0zM104.8 283.8l-.6-1 .6 1zM61.2 284.2l.6-1-.6 1zM68.3 284.8l-.1-1-.3 .4 .4 .6zM101.3 284.2l-.5 0 .5 0zM104.8 284.2l0-.4 0 .4zM94.4 285.2l-.2-1 .2 1zM65 286.2l-.2-.4-.4 .4 .6 0zM66.2 287.2l-.4-1 0 1.3 .4-.3zM104.7 287.8l-.5-.6 0 .6 .5 0zM63.2 293.2l1-2 0-3.4-1.1 .4-.3 2.6-.6-.5-.2 .5 .2 1 .6-.6-.6 2 .6 .6 .4-.6zM61.5 290.2l.3-1.5-1 1.5 .4 .6 .3-.6zM52.8 298.2l0-2.4-1.1-5-.5-1.1-1.4-.9-1 1-1 8.4 .4 .6 2-1.5 2 1.1 .6-.2zM59.4 289.2l-.2-.4-.4 .4 .6 0zM58.8 289.8l-.6-.6 0 .8 .6-.2zM47.2 290.8l0-.6 0 .6zM47.2 291.2l0-.4 0 .4zM60.7 293.2l.5-1.4-.4-1-1 2 .4 .7 .5-.3zM62.8 291.2l0-.4 0 .4zM62.1 293.8l.1-.6-.4-.4-.6 .4 .6 1 .3-.4zM106.8 293.8l-1-.6 .4 1 .6-.4zM63.6 294.2l-.4-.4-.4 .4 .4 .5 .4-.5zM61.2 295.2l-.4-.7-.5 .3 .9 .4zM107 294.8l-.2-.6-.3 .6 .5 0zM111.2 296.2l-1-1.4 1 1.4zM59.5 296.2l-.3-1 0 1.4 .3-.4zM112.2 297.8l-1-1.6 1 1.6zM62.5 298.8l.5-1-.2-.9-.8 .9 .1 1 .4 0zM112.8 298.8l-.6-1 .6 1zM49.2 299.8l.6-1-.6-.6-1 1.6 .6 .4 .4-.4zM48.2 314.2l0-.4 1 0 1-1 .6 .4 1-4.4-.6-.6-.4 .6 0-.6 .4-.4 .8-5 .8-1.6-.6-1.2-1.4-1.4-1.6 1.2-.4 1-1 4.4-.3 8.6 .3 1 .4-.6zM113.2 299.8l-.4-1 .4 1zM113.8 300.8l-.6-1 .6 1zM111.2 300.8l-.4-.6 0 .7 .4-.1zM48.8 301.2l-.6-.4-.4 .4 .4 .6 .6-.6zM60.9 301.8l-.1-.9 0 1.1 .1-.2zM112.7 301.2l-.5-.4-.4 .4 .4 .6 .5-.6zM114.2 301.8l-.4-1 .4 1zM113.2 302.2l-.4-.4-.4 .4 .4 .5 .4-.5zM53.2 305.8l0-1 .1 .4 .5 .1 .1-.5-.1-.6-.6 .6 .6-1-.6-1.6-1 3.6 .6 .4 .4-.4zM112.9 304.8l-1.1-2-.6 .4 .2 .6 1.5 1zM114.8 304.8l-1.6-2-.2 .4 1.2 2 .6-.4zM114.3 308.8l.3-.6-1.8-2 .2 1 1.3 1.6zM52.4 307.8l-.2-1-.4 1 .6 0zM50.8 309.2l0-.4 0 .4zM52.8 310.2l.4-1-.4-.3 0 1.8 0-.5zM50.8 309.8l0-.6 0 .6zM50.8 310.2l0-.4 0 .4zM50.2 311.2l.6-1-.6 1zM52.4 311.8l-.2-1 0 1.4 .2-.4zM50.2 311.8l0-.6 0 .6zM50.2 312.2l0-.4 0 .4zM50.2 312.8l0-.6 0 .6zM54.9 313.8l-.1-1 0 1.4 .1-.4zM47.3 334.2l.9-4.4 1.6-15 .4 1 .4-.6-1.4-1.4-.4 0-1 1.4-.7 6.6-.3 12 .1 .4 .4 0zM55.8 315.8l0-.6 0 .6zM125.8 323.2l-1-1.2 1 1.6 0-.4zM52.3 326.8l-.1 .4 .1-.4zM137.5 339.2l-.5 0 .2 .4 .3-.4zM144.2 348.2l-2-2.4-.4 .4-.6-.4-.4-1.6-3-4.4-.3 .4 3.3 5.6 1.4 1 .8 1.4 .8 .5 .4-.5zM147.2 347.8l-1.4-1.6-1.6-2.4 1.6 1.4 1.4 2.6zM149.8 351.8l-.6-1-2-1.6-.9 .6-.1 .4 1 1 2 1 .6-.4zM147.4 354.2l-1.2-1.3 .6 1.1 .4 .5 .2-.3zM147.3 358.2l-2.5-4 1 2.3 1.5 1.7zM186.2 391.2l-21.4-23 0-.4-9-8.6-.4 .6 3.8 5.4 3.6 4 0 .6-1.6-1.6-.4 .6 .4 1-7-10-5-4.9-.2 .3 1.6 3 4.2 6 6 6 .4-.4 5.6 6.4 .4-.4-.4-1-2-2-2-3 6.4 7.4 0 .6 6.8 7 6.2 5 3 1.4 1 0zM160.8 371.8l-.6-.6 0 .6 .6 0zM180.8 378.8l-6.6-7 0-.6 3.6 3.6 0 .4 3 3 0 .6zM162.8 373.2l-.6 0 .6 .6 0-.6zM163.4 374.2l-.6 0 .4 .6 .2-.6zM172.8 383.2l-6.6-7-.4 .6 3.4 4.1 3.6 2.9 0-.6zM184.2 382.8l-3.4-3.6 0-.4 3.4 3.4 0 .6zM176.1 386.8l-2.9-2.6 .6 1.1 2.3 1.5zM103.8 387.2l-1.2-1 .2 .6 1 .4zM92.8 397.2l3.6-5.4 .8-2-.4-.8-.7 .2-4.3 8 .4 .6 .6-.6zM95.2 400.2l2.6-2 3-4 0-1.4-2-1.7-1 1.1-3.9 8 .3 .6 1-.6zM194.5 399.2l-5.8-5-2.9-1.5-1 .1 6 4.6 3.7 1.8zM186 395.2l-1-.4 1 .4zM199.8 399.2l-5-4-1 0-.3 .6 5.3 4 1-.6zM89.8 403.8l1.4-2.6-1 2 .6 .6 .4-.6 3-5.4-.4-.4-2.6 3.8 .6-1-.6-.4-1.1 2 .1 .4-1 1 0 1 .6-.4zM100.8 397.8l-.7 0 .1 .4 .6-.4zM99.8 399.2l.4-.4-.4-.6-1 1 .4 .6 .6-.6zM103.8 399.2l.4-1-.4 1zM192.8 400.2l-3-1.9-.1 .5 3.1 1.4zM83.8 419.8l4-4.6 4-5.4 .4-1.6 2-2.4 2.6-5 1-1-.6-.6-2.4 1.6-2.2 2.4-5.9 11-3.9 5.6 .4 .4 .6-.4zM103.2 400.2l.6-1-.6 1zM99.2 400.2l-.4-.4-.5 .4 .5 .6 .4-.6zM102.2 401.8l1-1.6-1 1.6zM204.3 403.8l-4.5-3.6-1 .6 5.4 3.4 .1-.4zM98.7 401.2l-.5-.4-.4 .4 .4 .6 .5-.6zM101.8 402.8l.4-1-.4 1zM100.2 405.2l.6-1.4 1-1-1.6 2.4zM82.8 417.8l3.4-4.6 4.1-7.4-.1-1-2.3 2.4-6.1 10.6 .4 .4 .6-.4zM207.5 406.2l-2.3-1.4-.4 .4 2.4 1.5 .3-.5zM97.8 409.2l1.4-3 1-1-1.4 3-1 1zM117.2 407.2l-1-1.4 1 1.4zM128.2 418.2l-7.2-9-1.8-2-.4 0 .4 1.6 3.4 4.4 4.2 4.4 1 .8 .4-.2zM210 408.2l-.4 0 .4 0zM96.8 410.8l1-1.6-1 1.6zM133.4 419.2l-2.2-2 .5 1 1.7 1zM82.2 418.8l-.4-.6-.5 .6 .5 .4 .4-.4z"/>
<path fill-opacity="0.066" fill-rule="evenodd" d="M212.2 430.1l-27 0-22.4-.6-13-1.1-8.6-2-5-2.3-3.6-2.3-7.8-8-5.8-7.6-16.2-11.5-6.6-6.1-4 6.6-1.8 5-2.2 4.6-.1 1.4-3.7 6.6-5.7 7.4-4.1 4.6 1.6-.7-.9 1.1 .5 .4 3-1.4 .2 .6-5.2 3.1-5.6 1.5-9 .8-12.4 0-.5-.4 0-75 .7-18.6 1.6-6 0-3 .7 0-.2-2 .8-.4-.4-1 .6-.6 .2-1.4-.3-1 .6-.6-.2-2 .4-.5 1.1 .1-.1-1.7-.3 1.1-.3 .4-.2-.4 .2-4 .6 1.2 2.6-8.2-.4-.4 0-3-.7-2 .3-2-2.2-10 .2-1.6-.7-2 .2-2-.6-1.4-.4-6.6-.6-2-1-12 .3-3.4-.6-.6-.2-5 1.8-.3 2.8 .3 3.1 27 2.5 12.5 2.6-4.5 1-.8 .7 .4 .3-2 1-1.6-.4 4.6-1.2 .6-.4-.9-2.3 4.7 0 1 .4 .6-1 2 .3 1.3 .7 .1-.4 1 .3 1.8 .9-2.8-.6-1 .1-.4 1.7 3 .9 .4 .6-1.4 .1-2.6 .7-1.7 2 .1 .6-1 .5 1.2 .1-1-1.2-1.3-1 .5-.4 1-.6-.2 0-.8 1.8-1.8-.2-1.3-1.1-1.1 .5-.9 .6 1.3 1 .3 .4 .9 .6-.2-.3-2-1.2-2-1.1 .5-.4-.9 .8-2 .4 0 .2 1.2 1-.1 1 1.6 .6-2.1 .4 1 .6 0-.3-1.6-1.3-.8 0-.8 1-2.2 .3 2.8 .3 .2 .6-.8 .1-2.4 1.3-5 .4 .7 1-.9 .3 .6-.6 .6-.1 1.4-.6-1.1-.7 1.1 .1 2-.6 2 .2 .5 1.3-2.9 1.7-1.4 .9 .4-.6 1 .3 .6 .3-.2 1.7-4.2 0 2.9 2 1.1 .4-.2 .3-1.6-.7-.5-1-1.9-.6-.7-.4 .4-.6-1.3-.4 .5-.4-.9 .8-.7 .6 .4 .4-1.4 .6 1.9 1.3 1.8 .7 1.9 .3-.9 .7-.6-.6-1.2-.4 .8-.8-.6-.5-2 .3-.6 2 1.6 1.3-3 .1-1.7 1.2 .3 1.6-6.6 .8-.6 .4 .2-.6 2.4-.7 1 .3 .9 .6-1.5 .6 2.2-.6-.3-1 .3-1.4 4.4 .4 .8 1.2 .8 .2 1.2-.4 .7-.6-1.8-.4-.5-.6 .4-.3 1.4 .6 1.6 .7-.8 .6 1.5 .4-2.1 1 .5 .6-1 1-.3 .8 2.6-.4 1.6 1 1.2 2.3-2.2 0-1-1-1 .7-.8 1.6 2.5 1.4-.6 1.1 .3 .2 .6-1.1 .4 .8 .6-.1 1 .9 .4 1.2 2.8 1-.6 .6 1.1 .3-.7-.9-1.1-.4 .4-.4-.3-.5-3-.6-.6 .9-.8 1 1.1 1.4 3.3-.1 1.4 .7 1-.6 1 1 1.6 .6 1.4-.3 .6 1.2 3 1.1 1-.7 1 .5 1 .9 .4-1-2 .3-.4 2.2 2-.2 .8 2.3 3.6 0 1 .7 1.5 .6-.9 1.6 2.4 2.4 6.2 2 2.5 .4-.2 1.6 1.2 0-.7-3.4-4.4 .4-.4 2.3 2.8 .7 .2 2.4 5.4 2.4 3.4 2.6 5.2 2.8 3.4-.2 1.4 .7 1-.3 .8 1.6 1.6 .4-.5 1.6 2 .4-.6 1.4 1.7 3 2.6-.4 1.1-1-1.1-1.4-.6-1-1.4-.1 1 1 1.4 .5 .7 .6-.2 .4 .5 2 3.3 .6-.6 .2 .3-.2 1.2 .4 .5 .6-.5 .2 .4 3.9 6 2.9 2.8 .4-.4 1 .5 2.6 2.5-.6 .9-.4-.1-2.6-2.3 1 2.1 3.3 3.4 7.5 10-.2 .8-.6-.2 .4 .4 7.2 8.2 2.4 1.7 10 9.9 4.3 2.2 .5 .6-.2 .4-1.7-.4 8.7 7.1 6 3.4 5 2.2 .7-.3-2.8-2-.1-.4 .6-.2 3 1.6 2 2.1 9.6 5.5 .9 8 0 11.4-.5 .9zM86.2 255.8l0-.7 0 .7zM91.2 255.9l0-.3 0 .3zM48.8 256.2l0-.4 0 .8 0-.4zM92.2 258.5l-.5-1.3 .1-1.2 .4 2.5zM84.8 258.5l-1.1-.7 .1-1.2 1.1 1.2-.1 .7zM75.2 258.2l0-.6 0 .6zM87.2 258.1l0-.5 0 .5zM75.2 259.8l-.5-.6 .5-.9 0 1.5zM84.8 259.9l0-.8 0 .8zM86.2 260.7l0-1.5 .4 1-.4 .5zM49.3 260.8l-.1-.9 .1 .9zM49.3 263.2l-.1-1.5-.2 1.5 .3 0zM51.3 262.8l-.1-.7 .1 .7zM73.8 263.4l0-.9 0 .9zM88.8 265.6l-1.2-1.8 .6-.7 .9 1.7-.3 .8zM93.2 264l0-1 0 1zM90.8 264.4l0-.3 0 .3zM83.2 265.4l0-.8 0 .8zM91.2 265.7l0-1.1 0 1.1zM94.2 264.9l-.2-.1 .2 .1zM73.2 266.3l0-1.2 0 1.2zM93.8 265.3l0-.3 0 .3zM49.8 268.8l0-3.2-.4 1.2 .4 2.3 0-.3zM87.2 266.4l0-.9 0 .9zM91.8 266.3l-.5-.5 .5-.3 0 .8zM94.8 266.9l0-.9 0 .9zM78.2 268.8l-.4 .1-.4-.7 .4-1.3 .6 .3-.2 1.6zM85.8 270.6l-.6-.4-.1-1.4 1.1-2 .6 0 .3 1.4-1.3 2.4zM90.8 272.5l-1.9-3.7 .3-1.5 1.7 3.9 .2 1-.3 .3zM95.2 268.8l0-1.3 .6 .7-.6 .6zM96.2 270.6l-.7-.4 .3-1.1 .8 .7-.4 .8zM83.1 270.2l-.3-.9-.3 .9 .3 .4 .3-.4zM94.8 271.9l-.4-1.1 .4-.2 0 1.3zM50.3 273.8l-.1-2.8-.3 1.2 .1 1.6 .3 0zM81.9 273.2l.7-1-.4-1.3-.3 2.3zM96.2 271.9l0-.9 0 .9zM67.8 274.3l-.1-1.1 .5-.6 .2 .6-.6 1.1zM74.8 273.4l0-.9 .9 .3-.9 .6zM93.8 273.5l-.6-.3 .6-.8 0 1.1zM96.8 273.5l0-.5 0 .5zM75.2 275l-.4-.4-.6 .4 0-1.6 1.1 .8-.1 .8zM50.8 277.8l0-2.4-.4 1.4 .4 1zM83.5 276.2l-.3-.7-.5 .7 .5 .4 .3-.4zM85.6 277.2l.6-.4 0-1.1-1 .5-.3 1 .7 0zM90.8 276.2l0-.8 0 .8zM96.2 276.1l0-.5 0 .5zM66.8 278l-.1-.8 .5-.3-.4 1.1zM87.8 280.2l0-1.9-1-1-.6 .1-.5 1.4 .5 1.3 1-.3 .6 .4zM64.2 280.3l0-2.1 1.3 1-1.3 1.1zM82.3 279.2l-.1-1.3 .1 1.3zM76.4 281.2l1.1-1 .1-1-.8-.8-.7 .4 0 2.4 .3 0zM90.3 279.2l.3-.4-.4-.4-.4 1.2 .5-.4zM66.2 282.2l-.3-2.4 .9-.8-.6 3.2zM72.8 280.2l0-.7 0 .7zM75.4 279.8l-.2 .3 .2-.3zM74.4 285.2l.1-1.4 .8-1-1.1-3-.4 .4-1.3 4 .3 .9 .4-.5 1.2 .6zM85.5 280.8l-.3-.9-.1 .9 .4 0zM94.9 285.2l.4-.4-.1-1.3-1-.4-1-2.6-.4 .3-.7-.6-.3 2-.6-1.6-.6 1.2 .5 1.4 .7 .4 .8-1.8 .6-.4 .5 .4-1.1 2.4 1.6 1.4 .7-.4zM97.1 282.2l-1.9-2 1.6 2.4 .3-.4zM51.3 281.2l-.1-.9 0 1.3 .1-.4zM61.2 281.2l0-.7 0 .7zM85.5 283.2l-1.7-2.7 0 1 1.4 1.3-.1 .4 .4 0zM60.8 282l-.2-.8 .6 0-.4 .8zM63.8 282l0-1.2 0 1.2zM71.4 281.8l-.2-.5 .2 .5zM101.2 283.2l-.8-1 .4-.8 .9 1.4-.5 .4zM83.7 282.8l-.5-1 0 1.4 .5-.4zM60.2 282.9l0-.4 0 .4zM67.8 283.4l0-.9 .4 0-.4 .9zM77.8 283.2l.3-.4-.3-.2 0 .6zM101.8 284l-.5-.8 .5-.3 .3 .9-.3 .2zM72 283.8l-.2-.5-.2 .5 .4 0zM94.8 284.9l0-1.3 0 1.3zM51.8 284.8l0-.7-.3 .7 .3 0zM73.8 284.7l0-.9 0 .9zM80 284.2l-.2-.3 .2 .3zM98.4 285.8l-.6-1.4-.5 .4 .5 1.1 .4 .3 .2-.4zM84.4 285.2l-.2-.2 0 .5 .2-.3zM72.8 285.8l-.6 0 .6 0zM101.2 286.1l-.4-.3 .4-.3 0 .6zM101.8 286.5l0-.5 0 .5zM70.9 287.2l-.1-.5 .1 .5zM99.4 289.2l-.1-1.4-.5-1.3-.6-.1-.5 .8 .4 1.6 1.3 .4zM105.8 288.9l0-.3 0 .3zM106.2 290.5l0-.8 0 .8zM66.8 290.8l0-.7-.3 .7 .3 0zM68.9 291.2l-.1-1.1 0 1.5 .1-.4zM107.2 293.1l-.7-.3 .3-1.9 .8 1.3-.4 .9zM58.4 292.2l-.2-.4 .2 .4zM107.8 294.5l-.6-.3 0-.6 .6 .9zM61.8 296.9l-.3-1.1 .7-.6 0-1.1 .3 2.1-.7 .7zM104.4 294.2l-.3 0 .3 0zM65 296.2l.2-1.4 .6 .9 .4-1.2-1.4 0-.4 1.3 .1 .4 .5 0zM109.8 298.6l-1 .1-.7-.5-.6-1.4 .3-1.9 1.9 2.9 .1 .8zM69.8 296.2l0-.5 0 .5zM105.8 296.8l-1-1.2-.5 .6 .3 .6 .6 .3 .6-.3zM65.9 296.8l-.1-.9-.3 .9 .3 .3 .1-.3zM52.8 300.3l0-1.1 .3 .6-.3 .5zM61.1 302.2l.7 0 .1-.4-.6-1 .1-1-.6-.2-.5 1.6 .5 1.4 .3-.4zM64.9 300.2l-.1-.8-.4 .8 .4 .5 .1-.5zM108.9 301.8l-.1-.3 .1 .3zM47.2 306.6l0-3.1 0 3.1zM62.3 303.8l-.1 .3 .1-.3zM113.2 305.4l0-.3 0 .3zM47.2 312.4l0-3.9 0 3.9zM55.4 309.2l-.2-.3 0 .8 .2-.5zM51.8 311.9l0-1.7 0 1.7zM53 315.2l.8-2 0-1.4-.7 2.4-.8 .6 .7 .4zM54.9 314.2l.2-1.4-.3-.8-.4 1.8 .5 .4zM56.3 314.2l-.1-1.9 .1 1.9zM119.3 316.8l-1.5-2.7-.4 .1 1.9 2.6zM54.3 316.8l-.1-1.6-.2 1.6 .3 0zM55.8 318.8l.4-3.9-.6 .3-.2 2.6 .4 1zM51.4 319.8l-.2-1.1-.3 1.1 .3 .3 .2-.3zM46.8 324l0-3.7 0 3.7zM120.8 322.2l-.6-1 0 .6 .6 .4zM130.8 328.6l-2.7-1.8-1.3-2.6 .4 0 3.1 3 .7 1-.2 .4zM53.3 325.2l-.1-.3 .1 .3zM52.4 327.2l-.2-1.3-.3 1.3 .3 .4 .2-.4zM126.7 326.8l-.5 0 .5 0zM49.3 329.2l-.1-1.2-.2 .8 .2 .7 .1-.3zM127.8 329l0-.5 0 .5zM128.2 329.4l0-.3 0 .3zM128.8 329.9l0-.3 0 .3zM131.5 333.2l-2.3-1.3 .6 1.1 1.4 .6 .3-.4zM133.2 335.9l0-.4 0 .4zM131.8 337.2l-.6-.6 .6 .6zM136.2 339.5l0-.5 0 .5zM137.2 341.7l-.4-.5 .4-.4 .4 .4-.4 .5zM145.2 349.4l0-.4 0 .4zM151.3 361.8l-7.5-9.1 1 2.5 2.4 3.6 3 2.6 1.1 .4zM149.2 353.9l-.3-.1 .3 .1zM151.2 354.3l.4-.1-.4 .1zM152.2 354.9l-.2-.1 .2 .1zM152.2 355.9l0-.4 .4 .3-.4 .1zM153.2 356.7l-.4-.8 .4 .8zM157.2 368.5l0-.5 0 .5zM166.8 382.8l-.7-.6 .7 .6zM174.2 384.3l.4-.1-.4 .1zM175.2 385.2l-.4-.4 .4-.2 0 .6zM104.3 387.8l-1-1.6-2.1-1 2 2.2 1.1 .4zM175.8 385.7l-.5-.5 .6 0-.1 .5zM176.2 386.1l-.4-.3 .4-.2 0 .5zM176.8 386.5l-.4-.3 .4-.2 0 .5zM92 388.8l-.5 0 .5 0zM107.8 390.8l-1-2.2-.6-.2-.1 .8 1.7 1.6zM88.3 396.8l2.9-6.6 0-.8-1.4 2.5-.2 1.3-1.4 2.6 .1 1zM97.2 391.6l0-.6 0 .6zM95.8 394.4l-.3-.6 1.3-2.2 .2 .6-1.2 2.2zM194.2 397.5l-6.8-4.7 .8-.3 2.6 1.4 3.6 3.3-.2 .3zM95.2 395l0-.5 0 .5zM188.8 396.8l-.6 0 .6 0zM193.2 399.9l-4.2-2.7 .2-.2 1.6 .7 2.9 2.1-.5 .1zM194.8 397.9l-.4-.1 .4-.3 0 .4zM194.2 400.3l-.4-.2 .4 .2zM91.8 403.9l-.2-.7 1.2-1.6 .1 .6-1.1 1.7zM144.9 425.8l-5.1-2.4-10-7.8-2.2-.8 4.2 4.1 5.5 4.3 4.9 2 2.7 .6z"/>
<path fill-opacity="0.081" fill-rule="evenodd" d="M212.2 430l-22.4 .1-23.6-.6-17.9-1.7 1.8-.6-6.6-2.4-8.3-5.3-5-3.8-7.4-7.6-.3 .1 2 3.6-.3 .7-4.9-6.3-14.1-9.8-8.4-7.9-1.6-.4-5.4 12.1-1.1 .6 .5 0 0 .8-1 0-.4 .9 0 .5 1-1.1 .2 .3-.7 1.6-2.7 3.4-.3 2-1.1 1-2.2 5-4.5 6-5.8 5.6 1.5 .4-3 1.6-9.4 1.2-14 .2-.4-.4 0-75 .6-15.6 1.1-7 1.4-2 .3-2.1 .2 2.1 .2 .3 .6-1.3 .7 .6 .3 1 .9-5 .5 .5 .2-.5 .7-3.6-.1-2.4-.2-.6-1 .9-.5-.9 .5-1.3 .5 .3-.8-1.4 1.3-2.6 .2 1-.6 1.6 .8 .9 .3-2.5 .7-1.9 .6 .1-.7 5.8-.6 1.6 .3 .4 .4 .2 1-3.5 .6 0 .4 .9-.4 1 1.1-1-.1-1-.8 0-.8-.8 .1-.8 .9-.1 .1-.9-.5 .2-.3-.6 .3-1.6-.6-2-.6 .6-.4-3.8-.4 1.2 .3 1.6-.7 0 .4-6-.8-3-1-8.6-.6-2 .4-1-.6-.4 0-2.8-1-1.2 0-.9 .6 .5 .2-.6-.1-1.6-1.3-9-2.1-21 .3-1 3.7 0 3.6 30 1.8 10 .3 .9 .6-.8 .3 .5-.4 3.4 2.1 8.3 .4-.3-.3-.4 .5 0-.2 1.5 1.2 .5-.3-.6 .6-1 0-1-.8-.4 1-3 1.5-1-.6 3 .4 .3 1-1.9 .2-2 1.4-2 .1-1.4 .9-1.4 .4 .2 0-.8-1.1-1 .1-1.6 1-.7 .4 .3-.3 1.4 .5 .8 .5-2.2-1-.6-.8-3 2.3-1.4 .4-2.5 .7 .5 0 1.4-.7 1.6 0 3.6 .7-1.2 .7-3.4 .6-.3-.3 1.3 2.3 1.7-.2-1.3 .2-.4 .6 .1 .5-1.1 .5-2.5 1-.5 1-1.5 .4 .9-.8 2 .4 .4 1.2-1.4-1.2-3.3-1-1-.6 .3 0-.9 1.6 .2 1.4 1.4 .3-2.1 .7-1.3 1-.3 0 1.8 .9-.8-.8-.4 0-.6 .9-1.3 .6 .9-1.1 4 .5 1.9 .7-.5-.3-.4 .4-2.6 1-.4 0-.6 .5 0-.2 1 1 1-.1 1-1-.4-.2 .4 .5 1-.7-.1-1.1 2.1 1.3 2.6-.2 .5 1 1 .1-1.1-.7-1.7 2 .2 1-1 .6 .9 .3-.8 .7 0-1.3-5.6 .3-.3 1.7 1.9-.3 1.9 1-.1 1-2.4-.2-1 1.2-1.3 1.6 .7-1 1.5-1.4 .7 .3 1-1.4 2 .1 1 .8 1 1 .1 .1 .9 2.5 1.6 .9-1.6-.3-2-2.3-3-.2-1.6 .3-.3 1 1.3 0-1 1.6 .5 .8 2.1-.4 .1-1-1.1-.4 .1 0 .9 1.5 2-.1 .8 .6-.4 .2 .6-.3 2 .7 .4 .2 2.6 1.6 1.2 .6 1.4-.3-3.6-2-4.6 .7-2 .9 1-.1 1.6 1.5 1.4-.3 .9-.4-.6-.3 .3 1 1-.6 1.4 .8 1.6 .4 2.4 1.1 1.6 .6-.5 .8 .5-.6 1 1 1-.8 1 .6-.4 1.4 1.4 .5 1.4 1.5 1.8 .6-.9 .4 .6 1.1 .1 .2 .4-.7-.4-1.4 1 2.8 2.6 .6-.6 .5 .4 1.9 4.6 2.7 3.4-.1 .8 3.4 4.6 .5-.4-2.4-4.4 .5-.7 .4 .4 3.5 5.7-.2 .6 1.4 1.4 2.2 4-.3 .6 .8 .4 .6 2.6 3.3 5.4 2.5 2.6 2.1 3-.3 .4 2.4 2.3 1.6 2.3 .4 .4 .6-.3 .1 .3-.5 .6 .4 .2 .4-.5 2.6 3.7 1 .6 5.9 8.4-.5 .4-4.4-5.7-.8-.1 .8 2.4 4 5.8 .6 .2-.3 1 .5 1 2.5 2.6 2.7 3.9 1 .1-2.7-3.6 .1-.4 1.8 1-4.3-6.6 .2-.4 .4 0 2.5 3.4 2.2 3.6-.3 .4 1 1.6 8.8 10 2.7 1.8 2.7 2.6 2.2 2.6-.6 .4 1.3 2 1.8 1.6 .1 1 6.5 5 1-.4 1 .8-.4 .6 1-.8 .4 .2 11.5 8.6 7.8 3.4 1.7-.6 6.6 3.5 .8 7.7 0 11.4-.4 .8zM50.8 256.2l0-.6 0 1.1 0-.5zM51.3 263.8l-.1-2.6 .1 2.6zM85.2 262.7l0-1.5 0 1.5zM52 268.8l-.2-3.2 0 3.6 .2-.4zM84.2 266.9l-.3-.1 .3-1.2 0 1.3zM86.8 268.2l-.6 0 0-.8 .6 0 0 .8zM85.8 269.3l0-.6 0 .6zM89.8 269.9l0-.4 0 .4zM52.3 270.2l-.1 .4 .1-.4zM79.8 272.8l-.6-.1 0-1.5 .7 1-.1 .6zM52.4 273.2l-.2-1.6 .2 1.6zM77.2 272.4l-.5-.2 .5-.8 0 1zM81.2 274.3l-.3-1.1 .3-.6 0 1.7zM71.8 275.4l0-1.2 0 1.2zM78.8 275l0-1.2 0 1.2zM86.2 275.4l-.8-.2 .4-1 .7 .6-.3 .6zM87.2 275.6l0-.5 .4 .1-.4 .4zM87.8 275.9l-.4-.1 .4-.4 0 .5zM76.2 277.2l0-.8 0 .8zM73.8 279.1l-1.1-.9 1.1-1 .5 1-.5 .9zM94.2 277.4l-.2-.2 .2 .2zM74.8 279.6l-.3-.8 .3 .8zM72.2 280l0-1 .4 .2-.4 .8zM80.8 279.8l0-.6 0 .6zM87.8 282.5l-.4-1.3 .4-.3 0 1.6zM80.9 284.8l-.7-2.6-.7 .6-.3 1 .6 .8 1.1 .2zM65.8 284.7l0-.8 0 .8zM75.8 289.2l-.2-.4 1.9-2.6 0-1.4-.7-.8-1.7 4.8 .7 .4zM67.2 286.1l-.7-1.3 .7-.3 .4 .7-.4 .9zM76.8 285.5l0-.4 0 .4zM73.2 285.9l0-.4 0 .4zM78.5 287.2l-.3-1.1-.3 .7 .3 .7 .3-.3zM79.8 286.8l-.6-1-.2 1 .8 0zM55.3 287.2l-.1-.5 .1 .5zM93.8 287.2l-.4 0 .4 0zM96.3 287.8l-.1-.8 .1 .8zM100.8 288.7l-.5-.9 .5-.7 .3 1.1-.3 .5zM77.8 289.2l0-.6-.6 .6 .6 0zM101.8 291.4l-.8-.6-.2-1 .4-.9 .6 1.3 0 1.2zM59.8 290.4l0-.7 0 .7zM73.9 289.8l-.1-.4-.3 .4 .4 0zM96.2 290.8l-.3-1-.5 0 .4 1.1 .4-.1zM59.2 291.5l0-.4 0 .4zM98.3 294.8l-.4-1.6-1.1-.8 .6 1.8 .9 .6zM100.5 293.8l-.7-1.1-.6 .1 0 1 1 .4 .3-.4zM102.2 293l0-.5 0 .5zM97.2 293.5l-.4-.3 .4-.3 0 .6zM69.5 297.8l.7-3.1-1.1 2.1 .1 1.2 .3-.2zM100.8 294.8l0 .4 0-.4zM106.2 296l-1-.8 0-.9 1 1.7zM100.3 296.8l-.5-1.4 .5 1.4zM64.8 298.6l-.6-1.3-.4 .1 0-1.4 .4 1.2 .6-.4 .3 .4 .1 1-.4 .4zM67.8 297.2l.4-1.1-.4 1.1zM106.8 297.6l-.6-1 .6 0 0 1zM108.2 297l0-.4 0 .4zM60.8 298.8l0-.5 0 .5zM67.8 300.8l0-.4 0 .4zM57.9 303.2l-.1-.5 0 .8 .1-.3zM63.7 304.2l.1-1.5-.8 .5-.1 1 .3 .4 .5-.4zM110.8 303.6l0-.4 0 .4zM111.3 306.8l-.5-1.2-.1 .6 .6 .6zM61.8 307.8l0-1.3-.3 .7 .3 .6zM53.2 312.4l-.4-.6 1-2.7 .3 1.7-.9 1.6zM54.2 313.7l0-2.7 0 2.7zM115.8 311.4l-.4-.2 .4 .2zM116.2 312.1l0-.6 0 .6zM116.8 312.7l-.4-.5 .4-.2 .3 .2-.3 .5zM52.8 313.1l0-.7 0 .7zM118.3 318.8l-.5-.8 0 .9 .4 .2 .1-.3zM50.8 328.4l-.9-1.2 .7-3 1.4-2-.6-1 .4-1.7 .8 .7-.5 .6 .3 1 .4 .2 .4-1.2 .4 1-.4 1.2-.4-.5-1.2 1.7-.1 2-.9 .6 .5 1-.3 .6zM121.8 323.8l-1.9-3.6-1.1-.1-.6-.8 1 3 .6-.9 1.4 1.8 0 .9 .6-.3zM119.2 321.3l0-.8 .4 .7-.4 .1zM50.8 321.4l0-.4 .3 .2-.3 .2zM123.1 322.2l-.9-1.3-.2 .3 .5 1 .6 0zM54.8 322.8l0-.8 0 .8zM56.3 323.8l-.1-1-.2 1 .3 0zM54.8 325.8l0-1.3 0 1.3zM55.4 328.8l-.2-.4 .2 .4zM51.1 333.2l-.3-.6 0 1.1 .3-.5zM49.9 334.2l-.1-.6 .1 .6zM133.2 338.8l-2-2.7-1-.5 1.2 2.2 1.4 1.2 .4-.2zM137.7 349.2l-2.9-4 1.5 3.6 .9 .7 .5-.3zM139.3 352.2l-.5-1-.8 0 .8 1.2 .4 .2 .1-.4zM146.2 351.5l-.2-.3 .2 .3zM142.5 352.2l-.7-.7 .4 1 .3-.3zM146.8 352.4l-.4-.6 .4-.1 0 .7zM147.2 352.9l0-.4 0 .4zM149.2 358.8l-.7-1 .3-.4 1.1 .8-.7 .6zM149.8 362.4l-1.5-1.6 .7 0 .9 1-.1 .6zM151.8 364.8l0-.6 .3 .6-.3 0zM157.3 373.8l-1.5-2.2-1.6-.8 3.1 3zM169.3 385.2l-4.5-5-2-1-3.2-3 2.2 2.7 1 .5 4.7 4.8 1.3 1.2 .5-.2zM172.4 387.2l-2-2-.3-1-1.9-2.1 2.4 3.7 1.8 1.4zM108.2 390.8l-1.9-3-1.5-.4-4.6-3.1-.1 .5 3.1 2.9 4 3.1 1 0zM172.2 385.5l-.3-.3 .3-.2 0 .5zM172.8 385.9l0-.4 0 .4zM87.4 400.2l-.3-.4 .7-.6 2.7-7 2.7-3.9 .7-1.5-.1-.8-2.6 2.6-1.2 2.2-2.4 6-.4 2.4-.6 .6 .8 .4zM175.2 388.9l0-.3 0 .3zM175.8 389.3l0-.3 0 .3zM110.4 391.8l-.6-.6 .4 .9 .2-.3zM92.3 392.2l-.3 0 .3 0zM110.9 392.8l-.4 0 .4 0zM91.8 393.2l-.7 0 .7 0zM174.3 394.8l-1.6-1 1.6 1zM114.3 394.8l-.5-.6 .5 .6zM181.2 394.5l0-.3 0 .3zM182.8 394.5l-.4-.3 .4 .3zM183.2 395.2l-.3-.4 .3-.2 0 .6zM177 396.2l-.8-.4 .8 .4zM178.4 397.2l-1-.4 1 .4zM87 401.2l-.2-.4-.3 .4 .5 0zM193.7 404.8l-2.2-1 1.7 1.1 .5-.1zM194.4 405.2l-.4 0 .4 0zM203.8 406.1l-.8-.3 .1-.6 .9 .6-.2 .3zM195.3 405.8l-.4 0 .4 0zM204.8 406.6l-1-.4 1-.1 0 .5zM86.2 407.4l0-.3 0 .3zM86.8 407.8l0-.3 0 .3zM85.8 408.4l-.4-.2 .4-.3 .3 .3-.3 .2zM125.2 411.5l0-.5 0 .5zM82 413.2l1-1.4-.2-.3-1.4 1.7 .4 .5 .2-.5zM125.8 412l0-.5 0 .5zM126.2 412.5l0-.4 0 .4zM124.8 413l0-.4 0 .4zM80 416.2l1.5-2-.3-.4-1.4 2.9 .2-.5zM77.9 418.8l1.3-1.8-1.3 1.8zM76.3 420.8l.5-.7-.5 .7zM138.2 424.3l-.5-.1 .5 .1zM139.2 424.8l-.4 0 .4 0zM140.8 425.4l-.8-.2 .8 .2zM142.2 425.9l-1-.1 1 .1zM143.8 426.4l-1.3-.2 1.3 .2zM145.8 427l-1.7-.2 1.1-.2 .6 .4zM148.2 427.7l-2.3-.5 2.3-.1 0 .6z"/>
<path fill-opacity="0.110" fill-rule="evenodd" d="M212.2 429.9l-20.4 .1-25.6-.7-11-1-5.4-1.7-8.5-3.8-8.1-5.1-3.5-2.9-4.2-5-3.3-2.3-1 .3-2.4-2.2-13.3-9.4-8.3-7.5-2.4-1.7-2.6-2.8-.5 1.6 .9 .4-2.8 4.6-2 5-1 1.3 0 .8-.6-.1 .2 1-.6 .2-1.3 3.2 .9 1-2.5 6 .1 1-6.7 10-2.6 3 5.1-4.6 0 .6-3.6 4.2-5.3 4.4 .1 .4-1.2 .6-9.6 1.2-12.4 .1-.4-.3 .1-72 .7-18.6 2-4.4-.1-2-.3-.4-.6 2.2 0-2.4 2.6-1.9 .4 1.5-1 1.3-.4-.3-.4 .4-.1 1.6 .5 .8 .4-1.6 .5 .2 .1 1.3 0-1.3 .6-1-.1-1.4 .7-1 .8-3.3 .6-.3 .4-1.8 .4 1.7 1-2.6 1 .3 .8-1.6-.5-1 1-1-.1-1 .7-.4 .2-1-.9-2 0-1.6-.6-1-.1-2.4-1-1.6-1.4-8.4-.3-5-.9-4 0-2.6-.4-1-2.5-21.4-1.2-15.6 1.1 0 .1 .9 .6-1 1.5 .1 1.8 17.6 2.3 15.4 3.8 18.6 1.6 4.5 .4-2.1 1 0 .6-1.3 1.1-.1-.5-.6 0-1.4 .6-.6 .6-3.4 1.4-2 .2-1.4 .6 2.3 .7-.5 0-2-.3-.3-.4 .7-.4-.4 .4-1.2 .4 .2 .4-.4 .6-2.2 .6 .8 .5-.6-.7-.6 .2-1.2 .4 .2 1-1.4 .7 1.4-.9 1 1.3 .6-.1 .8 1-.4 1.3-2-.5-1.4 .2-.5 1.6 1.9 2-.3 .4-1.1 .9 0 .1-1.3 .9-.7 .1-1.5 1.4 .5-.2-1.6 .8-1.8 1.4 2.4-.4 .8-.6 .2 .6 1.7 .6-1.5 1.5 .8 .2-1-.5-1.6 3.3 0 .1-1 .8-.4-.1-1.6 .7 0-.4 1.6 .7 1 .1 1.4 1 1 1.6-.1 0 1.3 2 .7 .4 .6 .6-1.2 1 1.9 .4-1 .9 1.4 .7 3-.6 .8-1.4-2.1 0-1.4-1.6-1.3-.3 1 2.3 4.9 1.3 .5 .3-1.5 1.4 3.4 1-1.3-.8-3 .4-.6 1.1 2-.5 .6 .8 .1 .6 1.9 1.4 .8 3.6 5.1 1.9 2.1 .1 1 3.6 3.4 1.2 2 .9 3 1.2 1.6-.2 1 1.6 4 1.7 3 .5-1 2.5 5.6 1.5 .4 1.1 3 .8 .6 .6-.4 1 1.5 .3-.3-.6-1-.7-.8-.6 .7-.1-.9-.8-.4 .1-.6-.6-.4 .4-1 1-.1 .4 .5-.4 .6 .6-.3 2.7 4.3-.3 1.4 4.3 5.6-.3 .6 5.6 5.4-.1 .4 1.1 1.8 2.6 1.2-.2 .8-1-.7 .2 1.5 4.9 6.4 1.1 2.6 4.1 6.4 .7 2 2.4 3 1.6 3 3 4.6 4 4.4 1.1 .6-4.5-6.6 1.4 .5 8.6 8.2 1.2 .3 6.8 5 4.9 4.6 4.5 2.6 1-.3 5.1 3.7 9.5 5.1 .5-.1 1.5 1.1 2 .7 .4 .6 .6-.2 .1 .8 1.9-.9 1.8 .9-1.4 1 1.6-.9-.3 1.3 1 5.6 .1 11.4-.4 .7zM51.5 253.2l-.3-.2 0 .4 .3-.2zM56.8 294.2l-1-7-.9-2-.1-2.1-.6 .3-.2-.6 .7-1-.8-2 .4-.6-.2-1.4-.7-1.6 .2-.4-.7-3-1.5-12.6-.4-.4-.2-5.2-.4 .6 .1 4 1.6 15 .4 .6 .1 4 .5 1 .4 6 .7 1.8 .7 .2-.6 1.4 1.3 5 .6-.8 .6 .8zM51.9 256.8l-.1-2 .1 2zM52.4 262.2l-.2-2.5 0 3 .2-.5zM52.8 265.8l0-1.6 0 1.9 0-.3zM52.8 266.8l0 .2 0-.2zM82.2 275.4l0-.3 0 .3zM80.2 279l-.3-.8 .3-1.7 1.1 1.3-1.1 1.2zM92.8 277.4l-.6-.2 0-.7 .8 .3-.2 .6zM91.8 277.7l0-.7 .4 .2-.4 .5zM83.8 278l0-.5 0 .5zM78.2 279.4l0-.8 0 .8zM81.2 280.3l0-1.8 0 1.8zM88.8 280.3l0-1.1 0 1.1zM80.2 281.8l-.4 .3-.9-1.3 .2-1 1.1-.4 0 2.4zM53.8 281.8l0-1.7 0 1.7zM77.2 281.9l0-.4 0 .4zM95.2 282.3l0-.6 0 .6zM76.2 283.9l.6-1.7 .1 1-.7 .7zM80.8 282.6l0-.7 0 .7zM78.2 285.3l-.2-1.1 .8-.6 .3 .6-.9 1.1zM82.4 284.8l-.2-.6 .2 .6zM79.2 285l0-.5 0 .5zM96.2 285.6l0-1.1 .5 .3-.5 .8zM91.2 285.5l0-.7 0 .7zM69.8 286.4l-.4-.2 .4-.5 0 .7zM54.8 286.9l0-.9 0 .9zM93.8 286.4l0-.3 0 .3zM99.2 286.5l0-.4 0 .4zM68.2 288l0-1.7 .5 1.5-.5 .2zM75.2 287.6l-.6-.4 .6-.9 0 1.3zM94.2 287l0-.5 0 .5zM96.8 287.8l0-1.4 0 1.4zM76.8 289.4l-.5-.6 .9-1.8 .5 .8-.9 1.6zM95.2 287.5l-.7-.3 .7-.2 0 .5zM68.8 289l0-1.2 0 1.2zM72.8 289.2l-.4-.4 .4-.9 .3 .3-.3 1zM86 288.8l.1-.6-.3 0 0 .8 .2-.2zM88.4 289.8l.4-.8 .5 .2-.4-1-1.1 .7 .4 1.2 .2-.3zM92.4 290.8l0-1.6-.6-1-.6 .4 .1 .6 1.1 1.6zM72.2 289.4l-.3-.2 .3-.2 .4 .2-.4 .2zM87 292.8l.3-1-.5-1.3-.3 1.3 .5 1zM90.1 292.2l.1-1.5-1.1 1.1 .1 .5 .9-.1zM78.3 292.2l-.1-.7 .1 .7zM54.3 292.2l-.1 .4 .1-.4zM75.4 293.2l-.2-1.1-.5 1.1 .5 .5 .2-.5zM55 294.8l-.2-1.3-.6 1.3 .6 .4 .2-.4zM68 301.2l.2-.7 .8-.3 0-1.4 .9-1 .6-3-.3-1.3-1.1 1.7-.9 4-.5-1-.5-.3-.3 .3-.1 .6 .6 .4-.2 1.6 .6 .7 .2-.3zM71.4 294.2l-.2-.5 .2 .5zM76.7 294.2l.1-.4-.6-.4 0 1.3 .5-.5zM88.4 293.8l-.2-.4-.2 .4 .4 0zM56.3 296.8l.4-1.6-.5-.2-.3 .8 .4 1zM55.8 298.8l-.6-3-.4-.5-.1 2.9 1.1 .6zM70.9 299.2l.3-.6-.4 .9 .1-.3zM103.9 299.2l-.1-.6-.4 .2 .4 .8 .1-.4zM56.3 301.2l-.5-1.1-.4 .7 .9 .4zM62.8 302.4l-.2-.6 .7-1.6 .2 1-.7 1.2zM67.3 303.2l-.1-1.3-1-.7 .2-.4-.4 0-.7 2 1.5-.1 .5 .5zM104.3 301.2l-.1-.8 .1 .8zM57.8 304.2l0-1.8-.4 .8 .4 1zM107.8 305.2l-.6-.6 .6 .6zM111.2 305.4l0-.4 0 .4zM57.3 306.8l-.1-.9 .1 .9zM64.9 307.8l-.1-1.4-.6 .8 .7 .6zM65.8 308.2l0-.3 0 .3zM57.5 309.8l-.3-.7 .3 .7zM63.4 310.2l.4-.4-.6-.7-.3 .1 .5 1zM62.8 311.2l0-.4 0 .4zM63.9 311.2l-.1-.4 .1 .4zM58.5 313.2l-.3-1 .3 1zM55.2 315.4l0-1.4 0 1.4zM119.8 316.8l-1-2.9 1.2 2.3-.2 .6zM58.9 315.2l-.1 .4 .1-.4zM116.8 315.5l0-.3 0 .3zM117.2 316.2l-.4-.4 .4-.3 0 .7zM117.8 317.2l-.5-1 .5-.2 0 1.2zM118.8 318.6l-1-1.4 .4-.3 .9 1.3-.3 .4zM120.2 317.4l0-.4 0 .4zM115.9 318.8l-.1-.6 .1 .6zM55.8 322.7l-.5-.5 .9-3.6 .3 1.6-.4 1 .6 .6-.9 .9zM119.2 318.9l0-.4 0 .4zM125.8 328.4l-.6 .3-.4-.2-2.5-2.7-.2-2-1.9-4-.8-.6 1.1-.4 .7 1-.2 .4 1.9 3 .2 1.6 1.8 1-.3 1 1.2 .8 0 .8zM54.8 319.4l-.5-.2 .5-.4 0 .6zM58.9 322.8l-.1-.9-.5 .3 .1 .6 .4 .3 .1-.3zM54.2 323.8l0-.8 0 .8zM58.4 323.8l-.2-.5 0 .8 .2-.3zM57.3 327.2l.5-2.2-.9 1.8 .4 .4zM55.5 329.2l.4-.4 .3-3.3-.6 .7 0 1.6-.6 .4 .2 1.4 .3-.4zM53.1 331.2l.9-.4 .6-2-.4-1-.4 1.8-1.2 .6 .2 1.4 .3-.4zM53.5 328.8l-.5 0 .5 0zM123.9 329.8l-.7-.9 0 .8 .6 .4 .1-.3zM49.8 332.2l0-.7 0 1.2 0-.5zM52.8 333.8l-.6 0 .6 0zM48.2 335.8l0-.7 0 .7zM49.3 338.2l-.1-1.1 .1 1.1zM131.8 340.8l-1.6-1.7 1 1.8 .6-.1zM137.9 349.8l.7-.6-4.8-5.9-.8 .9 .2 .6 1.3 1 2.1 4 .6 .3 .7-.3zM141.8 356.8l.2-.6-1.3-2 .2-.4-1.3-1.6 .2-1-.6 .3-1.4-1-.3 .7 2.2 3.6 2.1 2zM143.8 351.3l0-.6 0 .6zM142.8 355.8l-.4 0 .4 0zM145.4 361.8l-2.6-2.2 .8 1.2 1.8 1zM148.9 368.2l-4.1-4.5 1.4 2.7 2.6 2.2 .1-.4zM152.8 368.4l0-.3 0 .3zM155.8 368.9l0-.5 0 .5zM149.4 369.2l-.6 0 .6 0zM156.2 369.6l0-.5 0 .5zM156.8 370.1l0-.4 0 .4zM157.2 371.5l0-.5 0 .5zM165.8 380.4l-6.1-4.6-2.5-3.6 .6-.6 3.4 4.4 1.6 1.3 .4-.2 2.2 2.1 .4 1.2zM152.4 374.8l-1.1-2-.8-.6 1.9 2.6zM86.8 387.2l3-4.4 0-.8-.6 .3-.4-.6-.5 .5 .8 1-.9-.3-.2 .3-1.8 4.4 .6-.4zM111.9 394.2l-.7-2-2.9-3.4-9.1-5 4 4.2 5.6 4.5 .4-.3 2.7 2zM92.2 385.5l-.2-.3 .5 0-.3 .3zM92.8 386.1l-.5-.3 .5-.5 0 .8zM170.8 389.8l-3.8-2.6 2.8 2.3 1 .3zM94.2 389l-.4 0 0-.5 .4-.1 0 .6zM93.8 390.3l-.6-.8 .6 0 0 .8zM93.2 391.3l0-.7 0 .7zM108.8 391l0-.7 0 .7zM113 391.8l-.8-.9 0 .6 .6 .5 .2-.2zM83.3 397.2l1.7-3 .8-2.5-2.1 3.5-.4 2zM91.2 396.2l-.1-1 1.9-3.4-.2 1.4-1.6 3zM115.4 395.8l-2.2-3.1-.4-.1 .9 2.2 1.1 1.1 .4 .3 .2-.4zM182.5 401.2l-1.7-2.4-2.2-2-6.8-4.2-.6 .1 3 2.7 8.3 5.8zM179.4 394.8l-.8-.6 .8 .6zM90.8 397l0-.8 0 .8zM90.2 397.9l0-.4 0 .4zM88.8 399l0-.4 0 .4zM187.2 399l0-.5 .4 .3-.4 .2zM187.4 402.2l-2.6-2.1-2.2-.9 2.6 2.1 2.2 .9zM88.2 400.4l0-.8 0 .8zM85.8 401.4l0-.8 0 .8zM87.8 401.5l0-1 0 1zM85.8 402.4l-.6 .2-.3-.8 .3-.3 .6 .9zM87.2 402.6l0-1 0 1zM202.4 409.8l-10.2-6.1-3.1-1.5 5.7 4.1 7.6 3.5zM86.8 403.5l0-.9 0 .9zM84.4 403.2l-.2-.2 0 .6 .2-.4zM86.2 404.4l0-.7 0 .7zM81.4 404.8l-.2-.4-.2 .4 .4 0zM80.9 405.8l-.1-.4-.3 .4 .4 0zM197.1 409.8l-7-3.6 3.7 2.6 2.1 1 1.2 0zM80.3 407.2l-.1-.8-.5 .8 .6 0zM79.8 408.2l-.5 0 .5 0zM121.8 408.8l0-.5 0 .5zM208.8 409.9l-.8-.1 .8-.3 0 .4zM209.6 411.2l.6-.4-.9 0-.2 .4 .5 0zM76.4 415.2l.4-.8-.4 .8zM79.8 417.9l0-.4 0 .4zM79.2 418.5l0-.5 0 .5z"/>
<path fill-opacity="0.123" fill-rule="evenodd" d="M49.8 253.9l-.6-1.1 .6-.6 0 1.7zM50.8 253.5l0-1.3 0 1.3zM52.2 255.6l0-2.1 0 2.1zM51.2 258l0-3.7 0 3.7zM50.2 260.6l-.4-5.2 .5 .4-.1 4.8zM52.8 261.4l0-3 0 3zM51.8 262.2l0-2.5 0 2.5zM50.8 265.4l-.6-2.2 .6-1 0 3.2zM53.2 266.5l0-3.7 0 3.7zM52.2 265.3l0-1.1 0 1.1zM54.2 274.6l-.3-1.8 .2-1.6-.6-1.4 .3-3.1 .4 7.9zM51.2 270.5l-.5-1.3 .5-2.3 0 3.6zM52.8 268.9l0-.3 0 .3zM51.8 274.6l-.4-1.8 .4-.4 0 2.2zM51.8 275.4l-.6 0 0-.7 .6 .7zM55.2 281.2l-.9-4.4 .5-2.2 0 3.6 .4 .2 .4 1.8-.4 1zM80.8 278.1l0-1 0 1zM52.2 278.6l-.3-.4 .3-.9 0 1.3zM52.8 280.1l-.7-.3 .7-.1 0 .4zM52.8 281.8l0-1.3 0 1.3zM79.8 281.6l0-.6 0 .6zM212.2 429.8l-18 .2-28-.8-9-1-8.4-2.6-5.6-2.5-10.4-6.3-.7-.6 .1-.6-.7 .2 0-1-4.7-4.6-4-2.7-2-.6-6.7-4.7-1.3-1.4-.6 0 .2-1-.5-.6-8.1-6 .7 1-.3 .4-.4-.2-2.8-2.6 .2-.6-.4 .3-2-1.6-6.6-6-2.1 3.3 .3 .6 .4-.8 .5 .8-7.5 15-.7 0 .1 1.1-.4-.4 0 1.8-.6-.5-.3 .4 .2 .6-.7 .4-.6 1.5-.2-.9 1.9-4 .3-2 .5-.6-.2-.4 1.2-2.6-.1-1 .7-.4-.1-.6 3.1-6-.1-.5-2.3 2.5-2.1 4-1.2 2.8 .3 .8-.9 2.4 .3 .6-.7 .4-.6 2.6-5.5 12 .1 .4 4.1-5.4 2.9-5.6 .6-.4 .2 .4-.6 .6 .2 .4-2.4 6-3.7 6-4.5 5.6 .7 .4-4.5 3.3-2.6 .7-6.8 .8-12 .1-.3-70.9 .7-16 .6-2.4-.3-1 .7-.9 1 .1 .6-1.4 .8-.4-.4-.6-1-.2-.4 1.7-.6 .3 .6-2.3 1 0 .4-1.2 .6 1.2 .2-.3 1.2-5.4 .6 1.7 .4-.4 .6 .4 .4-1.1 .6 2.2 1-2.2 .5-.2-.2-1 1.1-.6-.3-1 .9-1.4 1.3-4-.3-1.5-.6 .1-.3-.6 .5-.6 0-1.4-3.3-13.6-.6-3.4 .3-2 1.4 4.8 .7 .2-.4 1 .4 3.4 1.7 5.6-.1 1 .7 .7 .6-2.3-.6-1.7-.4 .3-.2-1 1.7-2-1.5 .8-.4-.4-.2-1 .9-1-.3-1.3-.6 1.7-.7-.4 .4-1-.2-2 .5 1.1 .2-2.1 .5-.4-.7-2.8-1.1 1.8-.3 .1-.5-.7 .3-2-.6-.4 0-2 .2-.5 .6 2 .4-1.1-.9-1 .9-.7 .1-1.7-2.4-12 .3-1.1 .6-.1 1.7 10.6 3.3 15 1.8 3-.1 1 .9 .6 .4 1.8 .9-2.4-.2-2.4 .7-.3 .6 .5 .4-.8-.1-1.4 1.3-2.6 .2-2 1.2-1.2 .4 .2 1.6-6.1 .4-.3 .5 .4-.6 1.6 .1 1-.7 1.4 .3 1.2 1.3-2.6 .4-3.6 2.1-3.4 2.1 0 0 1 .5 .5 .2-1.5 .8-1.2 2 .1 1.3 1.1-.5 1.4 .8 .7 .4-1 .9 .3-.5-1.4-1.5-1.6 0-1 .7-.3 1 1.9-.9-2 .3-.4 1.6 .9 0-1.1 .4-.3 1 .3 1.6-2.5 3 .1 1 1.9 .8 .5-1 1 .9 2-.3 .9-1.4-.9-.2-2-.4-.3-1 .4-.4-.5 .8-1-.4-.3-.4 .6-.6-.3 .6-1.1-2 1.5-1.7 2.6 .7 1.2 .4-.4 .6 .4 .2 2.2 1.2 .2 1 1 1-1.4 1.4-.2 .2-1.3 1-.3 1 .6 .1-1 1.3-2 .4 1.4-.9 1.6 1.1 2.2 .4-2.6 2 3.7 2 1 1.5 1.7 .1 .7 .4 .3 .6-.4 1.4 1.4 1.6 2.8 .4-.8 1.1 1.4 .1 1 1.4 1.5 .3-.5-1.6-2.4 .8-.6 3.7 5.6 1.2 3.3 .8-.3-1.5-2.6 1.4 1 1.1 2.6-.8 .4-.4-.7-.1 .7 .3 1 1 .6-.5 .4 1.6 2.6 .1 1.4 1.6 3.6 1 1.4 .2-.4-1.4-2.6 .6-.9 2.7 4.9 2.2 5.6 2.7 2.5 .4-.2 1 1.1 .6-.1-.1 .7 .5-.3 2 3.2 2.6 2.3 0 .6-.6 0-1-.9-.7 .1 3.1 6 3.1 4.4 1.2 1 1.8 4 .6 0 3.1 4-2.2-.4 2.7 3 2.1 1.4-.8 .8-.5-.2 1.1 2 2.4 3.5 1.6 1.5 .8 2 3 4 1.2 1.1 .4-.1-3.6-5-.2-.6 .6-.4-1.8-3-2.5-3-2.1-1.6 .6-.8 1 .9 1.1-.1-3.9-4.4-.2-1.1 1 .8 1.2-.7-.1 .4 3.5 5 5.9 10.6 5.5 8 2.6 2.7 3 1.7 3.4 3.6 7.6 3.6 24.3 14.4-1.1 0-11.2-6.3-2-.6-6.6-3.4-10.1-6.3-.3 .6 4.4 4.2 10 7.3 1.6 .2 4.4 3.4 4.6 2.5 15 4.9 .9-.1-.9-1 2 .3 .6 4.3-.2 12zM83.2 285.3l-.3-.5 .3-.2 0 .7zM81.2 287.1l-.4-1 .6 .1-.2 .9zM82.2 287.1l0-1 0 1zM81.8 287.4l.2-.2-.2 .2zM87.2 289.8l-.4 .2-.7-.8 1.1-1 0 1.6zM97.8 291.7l-.6-2.6 .7 1.1-.1 1.5zM54.2 290.4l-.3-.2 .3 .2zM89.2 290.4l0-.3 0 .3zM88.8 293.1l-1.1-.3 .1-2.2 .7 .6 .5 1.6-.2 .3zM94.8 291.5l-.4-.7 .4-.5 0 1.2zM80.1 292.2l-.3-.4-.6 .4-1-1.2-.3 .2 .3 1.3 .6-.7 1 .8 .3-.4zM73.3 298.2l1.2-1.4 .7-2.2 1 .5 .9-.9-.9-1.1-.4 .1-.2 1 .1-2.4-.5-.2-1.8 3.6 .2 2-.7 .6 .4 .4zM83.3 293.8l.5-.6 .1-1 .8-.4-.5-.3-.8 .7-.1 1.6zM53.8 293.1l0-1 0 1zM98.2 292.7l0-.6 0 .6zM69.2 294.7l-.3-.5 .3-1 .7 .6-.7 .9zM93.7 293.8l-.5-1-.4 .8-.6-.4-.4 .6 1.4 .3 .5-.3zM72.2 294l-.4-.3 .4-.3 0 .6zM90.8 294.2l-.6-.5-.2 .5 .8 0zM96.8 297.8l0-.7-1.4-.9-.2-1.2-1-.4-1 1.1-.4-.3 .4 1.1 1-1.5 .9 .8 .3 1.4 1.4 .6zM76.9 295.8l-.1-.3 .1 .3zM55.8 297.5l0-1.2 .4 .9-.4 .3zM101.2 297.9l0-.4 0 .4zM75.4 300.2l.3-.4-.5-.5 .2 .9zM71.9 300.8l-.1 .3 .1-.3zM105.8 301l0-.4 0 .4zM105.2 301.6l0-.5 0 .5zM106.8 302.1l-1-.3 .4-.6 .6 .9zM69.3 302.2l-.1-.9-.8 .9 .4 .4 .5-.4zM64.8 303.8l0-1.1 0 1.1zM57.2 304.1l0-.9 0 .9zM73.3 303.8l-.1 .4 .1-.4zM65.8 306l-.4-.2 .4-1.7 .5 .7-.5 1.2zM105.9 305.2l.2-.4-.9-.9 .2 1.3 .5 0zM64.2 306.6l0-1 0 1zM109.2 307.2l-1-.8-.5 .8 .5-.2 .6 .6 .4-.4zM59.9 307.8l-.1-.6-.4 .6 .5 0zM63.8 308.8l-.9-.6 .3-.9 .9 .9-.3 .6zM108.5 308.8l-.4 0 .4 0zM110 309.8l-.2-.7-.2 .7 .4 0zM112.3 313.8l-.5-1.5 .5 1.5zM110.9 314.2l-1.3-1 1.2 1.5 .1-.5zM114.8 314.5l0-.4 0 .4zM111.3 315.2l-.1-.3 .1 .3zM115.2 315.4l0-.5 0 .5zM116.2 317.9l-.8-1.1 .4-.7 .7 1.1-.3 .7zM111.9 318.2l-1.1-1.1 .4 1.5 .7-.4zM112.9 319.8l-.7-.7 0 .8 .7-.1zM57.2 325.2l-.3-.4 .3-1.3 .6 .7-.6 1zM119.5 326.8l-.7-1.6 .3 1.6 .4 0zM123.2 325.8l-.5 0 .1-.6 .4 .6zM54.8 328l.4-2.1 .1 1.3-.5 .8zM59.8 327.2l0-1 0 1zM59 327.8l-.2-.8 0 1.1 .2-.3zM54.8 330.2l0-.9 0 .9zM58.3 330.8l-.1-.4 .1 .4zM124.8 332.2l-.4-.4 .4-.2 0 .6zM52.5 336.8l0-2 .7-1-.4-1-.9 1 .3 3.4 .3-.4zM56.3 333.8l-.1-.7 .1 .7zM125.3 333.2l-.1 .4 .1-.4zM127.9 337.2l-.7-1.3-.2 .3 .9 1zM128.9 338.8l-.7-.9-.1 .3 .8 .6zM51.8 341.8l0-.7 0 .7zM50.3 343.8l.9-1-.4-.4-.5 1.4zM136.2 345.5l0-.5 0 .5zM137.2 346.6l-.8-.8 .4-.3 .4 1.1zM140.2 351.1l-1.3-1.3 .3-1 1.3 1.4-.3 .9zM138.8 350.4l0-.4 .3 .2-.3 .2zM141.2 352.9l0-.5 0 .5zM141.8 353.7l0-.7 0 .7zM142.8 355.2l-1-1.4 .4-.2 1 1.2-.4 .4zM144.2 356.9l-1.4-1.7 .4-.4 1.2 1.4-.2 .7zM144.8 357.5l0-.6 0 .6zM150.2 371l0-.4 0 .4zM85.6 389.2l4.7-6.4-.1-1.3-1-1.1-.4 .1-1.1 2.3-2.5 6.7 .4-.3zM116 396.8l-1.8-4-1.7-2-.7-.6-.4 .6 .8 1.4-.4 .5-.9-1.5-2.7-2.7-9-5.2-.4 .4 4 4.3 3 2.7 2 1 1.2 1.5 1.2 .3 2 1.6 0-2.6 .7 1.7 2.3 2.6 .6 .3 .2-.3zM171.8 389.7l-4-2.9-.4-.6 .4-.3 4.2 3.3-.2 .5zM175.8 392.3l-3-2.4-.8-.1 .8-.4 1.5 .8 1.2 1 .3 1.1zM104.8 394.9l-.4-.1 .4-.2 0 .3zM105.2 395.5l-.2-.3 .6 0-.4 .3zM105.8 396l-.4-.2 .4-.4 .3 .4-.3 .2zM106.2 396.3l.4-.1-.4 .1zM107.2 396.9l-.3-.1 .3 .1zM83.2 398.4l0-.4 0 .4zM82.8 399.4l-.4-.2 .4 .2zM82.2 400.8l-.3 0 .6 0-.3 0zM192.2 405.3l-.3-.1 .3 .1zM192.8 406.4l-.7-.2 .9-.4-.2 .6zM197.2 409.3l-4.3-2.5 .9-.6 4.5 2.6-1.1 .5zM80.2 408.5l-.1-.7 .6 0-.5 .7zM201.2 408.4l-.3-.2 .3-.4 .5 .4-.5 .2zM202.2 408.9l-.3-.1 .3-.3 .4 .3-.4 .1zM79.8 409.4l0-.6 0 .6zM199.2 409.4l-.9-.2 .9 .2zM203.2 409.4l-.3-.2 .3 .2zM198.2 409.8l0-.4 0 .4zM200.2 409.9l-.7-.1 1 0-.3 .1zM201.2 410.4l-.6-.2 1 0-.4 .2zM202.2 410.9l-.4-.1 .9 0-.5 .1zM203.2 411.4l.4-.2-.4 .2zM132.4 413.2l-.6-1-1.6-.4 1 1 1.2 .4zM208.2 412.8l0-.6 .7 0-.7 .6zM209.8 413.2l-.5-.4 .7 0-.2 .4zM209.2 413.3l0-.5 .5 .4-.5 .1zM73.8 424.3l-.6 .4-.1-.5 1.1-.5-.4 .6zM72.8 425.2l-.4-.4 .4-.3 .4 .3-.4 .4z"/>
<path fill-opacity="0.141" fill-rule="evenodd" d="M54.2 272.9l0-.5 0 .5zM54.8 276.8l0-.8 0 .8zM55.2 280.4l0-.9 0 .9zM55.8 283.9l-.4-1.1 .4-.2 0 1.3zM88.2 285.4l-.7-.2 .3-.4 .4 .6zM55.8 286l.3-.2-.3 .2zM56.2 287.3l-.3-1.1 .3-.4 0 1.5zM84.8 287.9l-.6 .1 0-.6 .6 .5zM88.8 287.8l0-.3 0 .3zM90.2 289.8l0-1.1 0 1.1zM83.2 290.2l0-1.3 0 1.3zM56.8 290.6l0-1.3 0 1.3zM79.8 291l-.4-.2 .4-.8 0 1zM83.8 291.7l-.6-1.4 .8 .5-.2 .9zM76.2 292.8l0-1.6 .4 1-.4 .6zM88.2 292.6l-.3-.4 .3-.6 0 1zM57.2 293.7l0-1.7 0 1.7zM211.8 430l-35.6-.5-13.5-.7-8.9-2-7-2.5-7.6-4.1-3.8-3.4-1.2-1.6 .2-.4-3.2-3.1-3.4-1.1-6-4.2-1.6-.1-5.4-5.5-8.6-6-6-5.1-1.4-.3-1-1.2 0-.6-1.6-.4-3.7-3.4-1 0-1.7 2.8-.6-.2-.4 .7-.9 .1 2.8-4.4-.3-1.6-1.6-1.1-1.9 3.7-2.4 6.4 .7 1-3.8 7.6-.7 4-1.5 2.9 0 1.1-.4-.2 .3 .6-5.3 12.3 2-2 5-7.4 0 .7-6.5 11-4.4 5-3.1 2-8 1.1-12 .1-.2-68.2 .8-18.6 1.1-3.4 .3-.5 0 2.8 1-4 1.9-.9-.5 0-.2-1 .8-.3 .3 1.9-.7 1.4 .1 1.6-1.7 3 .4 .8 1.6-2.2 .1-2.2 .7-1.4-.3-1 .5-.8 .4 .4 1-1 1-3.2 .6 1.6 .8-1 0-2 1.2-2.1 .4 1.6 .3-1.5 1.6-2.6 .1-1.3-.4-.4-1.7 1.3 1.2-4-1.7-8.6 .2-.2 .4 .5 .2 1.7 1.4 2.2-.1-2.2 .5 1 .3-1-.1-2-.5-1 0-2 .7-1-.3-2 .5-.4 .4 .4 .1 1 .8 1 1.1 4.8 2.2-3.8-.4-1 2.1-2.4-.5-1 .6-.1 .6-.7 .4 .4 .4-.6 .4-2-.7-.6 1.1-.4 .4-2.2 .4 .6-.4 4.2 2-2.2-.6-.6-.6 .2-.1-.6 1.3-3.7 .6 .3-1.1 2 .5 .8 2.4-4.1 .5 1.3-.6 .4 .1 .3 .6-.6 .4 1.8 .7 .1 .3-1.5 1-.4 .3-1.7-.5 0-.2 1.1-.3-.5 .4-1.6 2.4-1-1.3-.4-.2-1.5-.8-.5 .8 .4 1.4-.4 .6 1.3 1-1.2 1 .3 .4 .9 .6-.6 .4 1.1 1.6-2.4 1 1.6 1 .1 1.4 1.1 1-.5 .3 .3 .2 .4-1.1 1 .2 .9 1-.3 .4 .6 .5-.2-.7-.4-.2-1.6 1-.1 .4 1 .6-1.2 1.4 2 .6-.5 .9 .4 1.5 3.6 .4-.2-.7-2 .9 0 .4 .9 .4-.3-1.6-3-.6-2 .4-.5 1.4 2.2 1.6 1.3 .4 2.1 .6 .3 .4-.6 .7 1.2-.8 .4 1.5 2.6 .6 2.1 1 1.1 .5-.2-1.7-3 .2-1-.5-.6 0-1 .5-.5 1.1 .5-.1 1-.7 0 .2 .6 .5 .6 .6-1 1 2.4 0 .6-.7-.2-.1 1 1.2 1 .4 1.6 .8 .4-.2 .6 1.6 .1 0 .8-1 0-.2 .5 1.6-.2 .9 1.8-.2 1.4 1.3 1.9 1 1.1 .6-.1-1-2.9-1.3-1.4 .3-.8 1.2 .8 2.2 4.7 .5-.7-.6-.6 .7-.1 3.2 7.7 .8 .9 .4 0 .6-.9 1 1.7 0 1.8-1.6-2.4-.1 .3 .2 1.6 1.9 3.4-.3-2.4 .3-.4 3.1 5.8 3 3-.7 1 1.2 .3 2 3.2 1.4 1 1.4 3.1 3.2 5 2 1.9 1.4 3.7 2.6 2.4 0 .4-.6-.4-.6 .4 3.5 4.6 .9 2.4 5.8 8.6 4.4 5.1 2 1.4-1-1.5 .6-1-1 .1 .3-.7-3.5-4-.1-.4 .7-.6-3.8-5.4-.2-1.2 1 .6 3.7 5.6-.2 1 .5-.2 2.9 4.2 .9 1.4-.4 .6 .6-.1 2.5 4.1 3.6 4.4 2 1.6-.6 1 4.1 4.2 5.4 3.6 4.5 4.6 8.5 5.1 2 .4 7.6 3.8 15 4.8 .5 2.5 .2 11-.7 1.2zM91.2 294.6l0-1.8 1-1 .6 1.1-1 .2-.6 1.5zM73.8 293.7l0-1.1 0 1.1zM58.2 299.2l-.6-2.4 .2-2.6 .8 4.6-.4 .4zM82.8 295.2l-1.1-.4 .2 .4 .9 0zM93.2 295.1l-.3-.3 .3-.2 0 .5zM73.2 296.6l-.4-.8 .4-.2 0 1zM75.2 297.3l0-1.9 .6 .8-.6 1.1zM81.1 295.8l-.3-.4-.4 .4 .7 0zM70.8 297.8l-.4-.6 .4-.1 0 .7zM99.8 298l0-.6 0 .6zM70.2 298.9l0-.4 0 .4zM79 300.8l.8-1.6-1.2 1 .2 .8 .2-.2zM57.8 300.3l-.6-.5 .6-.5 0 1zM58.8 301.6l0-1.7 .3 1.3-.3 .4zM78.1 301.2l-.3-.3-.3 .3 .3 .5 .3-.5zM97.4 301.8l.4-.6-.6-.2-.6 .8 .8 0zM56.8 302.3l0-.8 0 .8zM74.3 303.2l.5-.4-.6-1.4-.7 .8 .8 1zM94.9 302.8l-.1-1-.3 .4 .4 .6zM59.2 303l0-.4 0 .4zM68.2 303.2l-.3-.4 .3-.2 0 .6zM98.1 303.2l-.3-.6-.7 .6 .7 .5 .3-.5zM55.8 306.5l-.6-3 .6 .2 .2 1.1-.2 1.7zM60.2 307.5l-1.3-1.3 .4-.4-.4-1.6 .3-.9 .6 .1 .6 1.8-.2 2.3zM73.4 304.8l.3-1-.9-.3-.4 1.3 .4 .4 .6-.4zM107.8 304l0-.6 0 .6zM108.2 304.8l0-.6 .4 .6-.4 0zM99.9 307.8l-1.1-2.7-.1 1.1 1.1 1.9 .1-.3zM106.8 306l.3-.2-.3 .2zM109.2 306.9l0-.9 0 .9zM56.2 309.1l0-2.6 0 2.6zM103.9 306.8l-.7 0 .7 0zM110.8 310.1l-1.2-1.9 .2-1.1 1.2 2.1-.2 .9zM70.3 308.2l-.1-.3 0 .8 .1-.5zM59.8 309.3l0-.8 .3 .3-.3 .5zM65.2 309.6l-.2-.4 .2 .4zM56.8 311l0-1.4 0 1.4zM64.8 310.1l0-.8 .4 .5-.4 .3zM105.4 310.8l-.2-.6 .2 .6zM111.8 311.5l-.9-1.3 .3-.2 .6 1.5zM57.2 313.7l0-2.5 .5 1.6-.5 .9zM60.8 312.2l.4-1.3-.7 .9 .3 .4zM112.2 312l0-.4 0 .4zM113.5 321.2l-.6-2-1.3-2 .2-.5-.6 .2-1-1 .3 1.9 1.3 2.3 1.4 1.6 .3-.5zM114.9 320.8l-1.1-2.6 .3 2 .8 .6zM61 320.8l.4-.6-.2-.9-.4 1.9 .2-.4zM118.2 322.3l0-.4 0 .4zM58.2 328.4l-.7-.2 .3-.6 .4-.1 0 .9zM52.2 332.8l0-1.3 0 1.3zM55.8 332.9l0-.4 0 .4zM54.2 334.3l-.4-1.1 .4-.1 0 1.2zM57.8 334.2l0-1-.4 .6 .4 .8 0-.4zM53.2 335l0-.3 0 .3zM128.8 337.6l-.4-.4 .4-.2 0 .6zM48.8 346.2l0-.7 0 1 0-.3zM146.2 361l0-.3 0 .3zM146.8 361.7l-.4-.5 .4-.2 0 .7zM147.2 362.2l-.4-.4 .4-.2 0 .6zM147.8 362.7l-.4-.5 .4 0 0 .5zM118.3 399.2l-.6-1 .9-.4-.5-1-1.9-2.6-3.4-3.4-3.6-1.7-10-6-.8 .1 .2 1 .7 .6-.1 1 .6 .5 .4-.3 .1 .8 1.2 1.4 3.7 3.3 1.6 .8 .4-.2 2 2 4 2.2 .6-.3 1.8 1.8 2.7 1.4zM87.2 388.3l0-.6 0 .6zM89.8 390.3l0-.7 0 .7zM85.2 390.7l0-.6 0 .6zM87.8 393.1l0-.7 0 .7zM87.2 394.3l-.7-.1 .7-.6 0 .7zM175.8 394.1l-.7-.3 1 0-.3 .3zM180.8 397.2l-5-3 .4-.4 1 .4 4 2.6-.4 .4zM86.2 396.7l.6-1.6-.6 1.6zM113.2 395.9l0-.7 0 .7zM85.8 397.7l-.4-.5 .4-.6 .4 .2-.4 .9zM184.2 399l-3.3-1.8 .3-.3 1.3 .3 2.2 1.6-.5 .2zM85.2 398.9l0-.9 0 .9zM185.2 399.5l-.6-.3 .2-.4 .4 .7zM179.2 400.5l-.4-.3 .4-.2 0 .5zM180.8 401.6l-1.3-.8 .7-.1 .8 .5-.2 .4zM181.2 402.1l-.3-.3 .8 0-.5 .3zM181.8 402.4l0-.5 .3 .3-.3 .2zM191.2 402.4l.5-.2-.5 .2zM192.2 403l-.4-.5 .8 .3-.4 .2zM193.2 403.7l-.4-.7 .7 .2-.3 .5zM194.8 404.5l-1.4-.7 .8-.1 .8 .5-.2 .3zM120.8 405.2l-.6-.4 .6 .4zM195.8 404.9l-.7-.1 .7 .1z"/>
<path fill-opacity="0.164" fill-rule="evenodd" d="M211.8 429.9l-34-.5-12.6-.6-8.4-1.6-7.5-2.4-4.7-2.6-6.8-4.8-7-6.3-3.6-1.2-3.4-2.1-3.6-3.8-3-1.4-2.6-2.4-.6-1 .3-.4-1.7-2 1.6 .4 5 3.5 .6-1.6 2 1.7-.8-1.6-2.8-3-.7-1 .5-.4-1.4-2-.8 0-3.6-2.6-14.4-8.1-.9 1.7 1.3 2-2 1 .6-2-1 1.5-3-2.8-1.6-.8-.6-1.5-1.8-1.5-.6 .3-1.7 3.8-2.9 9.4-3.1 6.6-3.6 11-2.4 4.4 .3 .6-.6 .4 0 .9-2.2 3.7-.1 1.4-1.2 2.6-3.5 3.4-3.1 1-6.3 .7-11 .1-.2-66.8 .5-16 .7-3.8 .3-.6 .7 .1 .3-.7 .7-3.2 .6 2.8-1.2 2.9-.4-.8-.7 3.3 .1 1.5 .7-.9 .3-3 .6 1.4 2.3-3.4 1.2-5 .5-.4 .4 .3 .6-1.5 1-.3 .3-1.1 .7-.6 .4 1.4 .7-.4 .4-3.4 .9-1.4 1.3-4.2-1.1-2.4-.7-5.6 .7 .6-.1 1 1.5 2.3 .9-1.9-.5-1.9-.4 1.4-.3-.5 0-1.4 .6-3.6-.3-.7 1-3.2 .4 1.9-.7 1 0 1.6 1.7 .8 1-2.2 1.6 .6 .4-.2-1-.1-.3-.9 1.3-2.8 1.3 .2-1 2 .3 .4 .1-.8 1.1-1 0-.6-1.1-1.4 .9-1.5 .4 .1 .6-.7 .4-2.9 .6 1.9 1-.8 .3 .3-1.3 2.3-.6 2.7 1.6-2 1-3.4 .4 2.9 .9-.5-.2-1.4 2.1-2.6 .1-2 .7 .3 .7-.7 1.1-1.6 .2-1 .4 .5 .7-.9-.1-1 .8-.6 .2-1.1 0 1.1 1.2 .6-.3 1-.5 .4-.4-.2-1.6 2.8-.7 0-.3 1 .6 .4 1.6-1.4 1.1-2.6 .8-.4 .5-1.9 1.2-.1 1.8-3.3-.3 2.7 .7 .9 .5-.3-.9-1 .4-.9 1.2 .9-.2 .6 .6-.5 .4 .4 1.6 2.3 2 .5 1.4-1.9 1.5 1.6-.5 3.3 1.6 2 .4 .1 1-1.3 .8 .9 0 1 .8 .4 .7 2.6 1.3 1.7 .4 0 0-1.3-1.6-3.4 .7-1-1.6-2.6 .7-.4-2-4 .4-.6 5.7 10.6-.3 1.8 1-.1 .9 .7 1.1 3.1 .4-1.1-1.6-2.4 .8-.9 1.5 3.3 1.5 1.6-.4 .4 .8 1.6 1.1 .4-.1 .9-.4-.7-.2 .4 1.3 2.4-.3 .6 .6-.2 1.4 2.6 3.6 4.5 .6-.5 .1-1.4-1.2-3.6 .1-.9 3.7 8.5 1.7 2.8 .6 .4 .4-.5 5 7.7 .4 1.6-.4 .3-.4-.4-1 .3-.6-.3 .5 1.1 .5 .7-.2-1.3 .8-.4 3.3 4.4-.9 .4-2-2 0 .6 2.6 2.1 1-.2 1 1.2 .4-1.3 1.5 1.8 .8 2 2.9 3 0 1-.9 0 .1 1 2.8 2.4 .6 1-.2 .6 3.4 4.4 0 .6-.4 .1-2-1.5 .3 1.4 3.1 3 0 .5 .6-.2 1 .6 5.4 8.1 7 7.6 .6-.5 .4 .2 1.6 1.3 7.8 9.8 12.2 10.1 7.4 4.2 11.6 5 13 4.3 .5 2 .1 11-.6 1.1zM80.8 294.8l-.6 .3-.1-.9 1.1 .6-.4 0zM84.3 296.8l-.4 0 .4 0zM93.8 297.5l0-.4 0 .4zM88.1 298.2l-.3-.4 0 .9 .3-.5zM82.1 299.2l-.3-.6 0 .9 .3-.3zM95.8 299.8l-.7 0-.7-1 .8-.1 .6 1.1zM72.2 303.2l-.2-1.4 .6-1 1.6-.3 .2 .3-.9 .4-1.3 2zM86.4 300.8l-.2-.3 0 .5 .2-.2zM96.2 301.7l-.8-.5 .4-.5 .7 .5-.3 .5zM89.4 301.2l-.2 .3 .2-.3zM98.2 302.4l.4-.2-.4 .2zM102.8 303l0-.4 0 .4zM96.5 303.8l-.3-.8-.3 .2 .3 1 .3-.4zM72.2 304.3l0-1 0 1zM103.2 304.3l0-.7 0 .7zM96.9 305.2l-.7-.9-.2 .5 .9 .4zM56.2 308.3l0-.8 0 .8zM71.4 311.2l.2-.4-.4-.2-.2 .6 .4 0zM57.2 312.6l0-.4 0 .4zM69.3 312.2l-.5-.4-.3 .4 .3 .4 .5-.4zM111.2 313.7l0-.8 0 .8zM112.2 316.5l-.9-2.7 .5-.2 .5 1.2-.1 1.7zM109.8 316.5l-.4-.3 .4-.8 0 1.1zM113.2 319.3l-.8-2.1 .4-.7 .4 2.8zM114.2 317.7l0-.6 0 .6zM62.8 318.8l0-.4 0 .4zM60.2 320.7l-.3-.5 .3-.7 .5 .3-.5 .9zM113.8 321.7l0-.8 .3 .3-.3 .5zM114.2 322.8l-.4-1 .4-.5 .5 .5-.5 1zM61.8 322.8l0-.8 0 .8zM114.8 323.7l0-.7 0 .7zM115.2 324l-.4-.2 .4-.3 0 .5zM119.2 324.9l0-.5 0 .5zM57.2 332.9l0-.7 0 .7zM121.8 332.8l-.6-.6 .6 .6zM55.2 335l0-.8 0 .8zM124.3 336.8l-2.1-2.8 .3 1.2 1.8 1.6zM52.8 338l.3-.2-.3 .2zM55.4 337.8l-.2-.5-.2 .5 .4 0zM50.8 339.5l0-1.4 .5 .1-.5 1.3zM129.2 344.2l-.4-.4 .4-.3 0 .7zM49.9 347.8l1.3-1-.1-.6-.9 .1-.3 1.5zM131.3 346.8l-.1-.7 .1 .7zM133.4 350.8l-1.2-2.3-.6 .3-1.4-1.9-.1 .9 1 2 1.1 1 1.2 0zM48.3 350.2l.5-1.4-.6 .1 0 1.8 .1-.5zM142.2 362.4l0-.6 0 .6zM147.8 373.2l-.6-.6 .6 .6zM154.2 373.9l-.4-.1 .4 .1zM154.8 374.9l-.4-.1 .4-.3 0 .4zM155.2 375.5l0-.4 0 .4zM157.2 380.9l-.3-.1 .3 .1zM159.3 386.2l-1.1-1 1.1 1zM99.8 388l-.6-.9 1 .7-.4 .2zM100.2 388.4l0-.6 0 .6zM103.2 391.7l-1-.9 .3-.6 1.2 1-.5 .5zM103.8 392.1l-.5-.3 .5-.5 .4 .5-.4 .3zM104.2 392.4l-.3-.2 .3-.4 0 .6zM104.8 392.9l0-.4 .4 .3-.4 .1zM106.2 394.2l-1.2-1 .2-.4 .6 0 .8 1-.4 .4zM106.8 394.5l-.5-.3 .5-.4 .3 .4-.3 .3zM116.8 394.4l0-.3 0 .3zM107.2 394.9l0-.4 .4 .3-.4 .1zM108.2 395.5l-.4-.5 .4 .5zM108.8 395.9l-.4-.1 .6 0-.2 .1zM109.8 396.6l-.6-.6 .6 .6zM110.2 397l-.4-.2 .8 0-.4 .2zM112.8 398.8l-2.3-1.6 .7 0 1.6 1.6zM121.8 397.8l-.4 0 .4 .4 0-.4zM119.2 399l0-.3 0 .3zM122.8 399.2l-.6-.8-.1 .4 .7 .4zM117.9 401.8l-1.1-1.6-.6-.1 1 1.5 .7 .2zM122.3 404.2l-1.5-1.5-.5 .1 2 1.4zM119.8 405.4l0-.3 0 .3zM141.4 418.2l-.8-.4 .8 .4zM72.2 421.8l0-.3 0 .3z"/>
<path fill-opacity="0.196" fill-rule="evenodd" d="M83.8 295.9l0-.9 .3 .2-.3 .7zM82.8 298.9l.3-1.1-1.2-1 .3-.7 1 .4 .5 1.7-.9 .7zM87.2 296.8l-.8-.6 .8 0 0 .6zM211.8 429.9l-37.4-.7-9.2-.7-9.8-2.3-8.9-4 1.3-.4 .4 .3 .1-.3-5.5-3.4-4-3.2-6-2.8-2.8-2.2-4.8-5.2-1-.7-.4 .3-2-1.4-1.3-1.4 .3-1 2 1.4 0-1.8 2 1.4-4.6-6.7-1.4-.5-2-2-8-4.3-10.6-6.6-1-.1-1 .8-1.4-1-1.6 .8-.4-.6 .4 1.2-1.2 0-.8-.6-.3-1.4 .5-.6-.2-.7-.4-.2-.6 .5-2-.8-.4 .5-.6-1.6-.4-.2-3.5 9.5 1.3 .6-1.4 .1-.1 1.3-.9 1-.4-2 .6-.4-.2-.4-.5 .8-.5 1.7 1 .3 0 .6-.4 .3-.6-.8-.2 .5-2.3 6 .3 .4-.6 .6 .3 .4 .6 0-.2-.4 1.6-3 1.6-4.6 .5 0 .8 1-.4 .9-.7-.3 .8 1-.5 1.4-4.4 9-.6 .6 .2 .4-1.5 2-.3 2.2 1.3-2.2-.2-.4 .9 0-1.4 3.5-.8 .5 .2 .7-.4-.1-1 1.2-.7-.4 .9 .6 .8-1 0 1-.6 1.1-.5-.1 .3 1-2.4 4-.1 1.4-3.8 6 .3 .6-2.2 2.2-3.3 1.2-6.3 .7-10.4 0-.1-68.1 .5-14.6 .6-2.3 .4 .3-.4 6.9 .5-.3 .8-2.6 .1-1.5 .6 2.2 .5-.1-.1-1.2 1 1.1 0-1.3-.4 .3-.3-.5 1.3-1 .6-2-.4-1 1-1 .3-2.4 .9-.9 1-.1-1.4-1 0-.7 2 .3 1 1 .4-.2-.1-1.4 .6-1.6 .5-.4 .6 .6-.5-.6 .9-.1-.3-1.5 .4-1.4-.6-1 .8-.6 1.1-4 0-2-.5-1 .7-.6 .4 .8 1.2-1.2-.4-3.4 .2-.7 .6 .3 .5-.6-.5-1.6 .2-.4 .8-.7 1 .8 .4-1.1 1.1-.6 .3-2 1.4-1 .8-2.2 .1 1.2-.6 1.6 .5 .5 1-1.3 1 .3 1-.8 1-3.3 .9-1 0-2 1.5-1.6 1-2.1 .6-.2 .3 .9 1.1 .9 1.7-2.9 .9-.2 .4 .8 1-.6 1.3 .6-1.4 1 .7 .8 .4-.4 .6 .4 .3-.4-.3-.6 .4 .1 1-1.4 .7 .5 .3 1.3 .6-.2 .1-1.7-1.6-1-.1-1.3-.6-.7 .2-.8 1 .3 .4-.3 1 2.4 1.3 1.4 .3 1.4 3 3.2 0-.9 1-.1-2.5-1-.7-2.6 .7 0 .3-1 1.3-1 0 1-.9 1.6 .7 0 .5-1.3 .9 .3-.5 1.4-.8 .8 .4 1.2 .6-1.4 .5 0 3.4 4.4 .1 .7 .6-.1-.6-.6 1-1 .1 1.6 2.3 2.6 1 .3 .4-.5-.9-2 .5-.6 1 1.6 .6 .4 .5-.4 .3 .6-1.1 2 1.3 .8 .4-1.7 1.4 3.3 .6 .8 .6-.6 .3 .4-.1 1 1.8 1.2 .2 1.2 1.2 2 .7 0 2.2 4 3.2 3 2.5 1.3 2 3.5 1-.3 2 3.1 0 1.1-2.6-3.6-.7 .5-1.9-2.6 1 2.6 1.9 1.4 1.3 3.5 .9 .5-.5 1.6 3.6 4.7 1.1 .7 .2 .6-.7 .4 .8-.4 3.5 6.4 1.1 .6-.8 1 1.4 2.4 1.4 1.7 1 .2 1.3 1.1 2.7 4.9 .4-.6 4.3 5.3-.4 .4 2.4 4 1.7 2.2 1 .4-3.8-6 .4-.5 1 .9 12 17.4 3 2.7 1 0 1 .8 0-.3-1-.7-4.5-4.9 .9-.4 2.6 1.8 1.8 2.6 7.3 8 3.3 2.9 2.6 1.1 6 4.3 17.4 8 11.6 3.8 .3 1.5 .3 11-.6 1.1zM84.2 299.3l0-1.2 0 1.2zM89.8 299.3l-.6 .4-.4-.4 0-1.1 1.1 0-.1 1.1zM81.2 299.5l-.5-.3 .5-.6 0 .9zM77.2 300.3l0-.3 0 .3zM101.2 305.3l-.9-.5-.1-1.6-.4 0-.3-1-.8-.4 .5-1.7 1.1 2.1 0 1 1.1 1.6-.2 .5zM72.8 301.9l0-.8 0 .8zM80.5 303.2l.7-1-.4-.8-1 1.4 .4 .8 .3-.4zM83.6 303.8l-.4-.7-.2 .7 .6 0zM100.2 306.4l-.3-.2 .3-.6 0 .8zM76.3 307.2l-.1-1.3-.5 .9 .6 .4zM70.2 311.6l-.3-.4 .2-1.4 1.1-1.6 0-1 .3 2.6-1.3 1.8zM68.8 309.1l0-1.6 .5 .3-.5 1.3zM105.2 309.1l0-.6 0 .6zM68.2 309.8l0-.7 0 .7zM103.8 309.9l-.4-.1 .4-1 0 1.1zM66.2 311.8l0-.6 0 .6zM106.2 311.6l0-.5 0 .5zM65.8 312.8l0-.6 0 .6zM101.9 312.2l-.1-.2 .1 .2zM106.8 312.8l-.6 0 .6 0zM107.8 313.9l-.9-.7 .9 0 0 .7zM108.2 314.9l0-.7 0 .7zM62.2 318l-.4 .1-.7-.9 .7-1.2 .1 1.2 .6 .6-.3 .2zM69.9 317.2l-.1 .3 .1-.3zM65.9 319.2l-.1-1.7-.4 1.3 .5 .4zM59.8 323.1l0-1.4 .4 1.1-.4 .3zM60.2 323.7l0-.8 0 .8zM117.2 325.3l-.7-.1 .3-1 .5 .6-.1 .5zM117.4 329.2l-1.2-2.3-.2 .9 1.2 1.8 .2-.4zM115.4 327.8l-.7 0 .7 0zM116.3 330.8l-.5-1.7-.3 .7 .8 1zM117.9 330.2l-.3 0 .3 0zM117.8 333.2l.2-.4-.8-.8 .6 1.2zM120.3 335.8l.4-.6-.9-1.2-.3 .8 .8 1zM56.2 336.1l0-1.1 0 1.1zM58.2 335.7l0-.7 0 .7zM121.4 335.2l-.2-.3-.4 .3 .6 0zM124.2 335.9l0-.8 .4 .7-.4 .1zM124.8 336.8l0-.8 .3 .8-.3 0zM55.8 337.5l0-.6 0 .6zM125.2 337.4l0-.6 0 .6zM56.8 338.8l0-.8 0 .8zM127.2 341.9l-.2-.7 .2 .7zM127.8 342.4l-.4-.2 .4 .2zM48.2 345.1l0-.5 0 .5zM54.4 347.2l.4-.5-.8 .5 .4 0zM128.4 347.2l-.2 .4 .2-.4zM129.8 350.8l.2-.6-1.5-2 1.3 2.6zM133.2 349.1l-.3-.3 .3-.7 0 1zM133.8 350l-.4-.8 .4-.2 0 1zM134.2 351.5l0-1.1 .5 .8-.5 .3zM49.8 351.8l0-.9 0 .9zM134.8 352.5l0-.4 0 .4zM49.3 353.2l-.1-.6 .1 .6zM133.8 353.4l0-.4 0 .4zM135.2 354l-.3-.2 .3-.6 .4 .6-.4 .2zM136.8 356.3l-1.7-1.5 .7-.9 1.4 1.9-.4 .5zM139.8 362.6l0-.7 0 .7zM139.8 367.2l-2.2-2.4 2.2 2.4zM145.2 368.4l-.6-.2 .6-.5 .4 .5-.4 .2zM86.2 379.9l-.4-.1 .4 .1zM85.8 384.9l-.6-.7 2-4 0-.9 .4 .5-.3 1.4-1.5 3.7zM93.4 380.8l-.4 0 .2 .3 .2-.3zM157.2 382.5l-.2-.3 .2 .3zM157.8 383.4l0-.8 0 .8zM158.2 384.2l-.3-.4 .3-.5 .4 .5-.4 .4zM85.2 386l-.4-.8 .4-.4 0 1.2zM84.8 386.8l-.6 0 .6-.9 0 .9zM84.8 388.4l-.4-.2 .4-.4 0 .6zM84.2 389.7l-.4-.5 .4-.3 0 .8zM83.8 390.7l-.6-1.1 .9 .2-.3 .9zM79.9 390.8l-.1-.4 0 .7 .1-.3zM164.8 391.2l-.6-.6 .6 .6zM77.8 392.2l0-.5 0 .5zM81.2 391.9l.5-.1-.5 .1zM79.3 392.2l-.1-.4 .1 .4zM77.3 393.8l-.1-.5 .1 .5zM76.9 395.2l-.1-.3 0 .6 .1-.3zM121.2 398.9l0-.3 0 .3zM121.8 399.5l0-.4 0 .4zM118.2 400.9l-1.4-1.3 1.4 1.3zM122.2 400.3l0-.6 0 .6zM124.2 406l-.3-.2 .3-.4 .5 .4-.5 .2zM124.8 406.5l0-.7 .4 .4-.4 .3zM125.2 406.9l0-.5 .4 .4-.4 .1zM126.8 408.9l-.6-.3 .6 .3zM74.9 409.2l-.1 .3 .1-.3zM71.9 416.8l2-3.6 .3-1-.4-.3-2.4 4.9 .5 0zM140.8 418.9l-.3-.1 .6 0-.3 .1zM141.8 419.7l-.7-.5 .1-.3 .8 .3-.2 .5zM143.2 420.6l-1.4-.8 1-.1 .9 .5-.5 .4zM144.2 421.1l-.7-.3 .3-.5 .8 .5-.4 .3zM145.2 421.6l-.8-.4 1.2 0-.4 .4zM146.2 421.9l-.8-.1 1.2 0-.4 .1z"/>
<path fill-opacity="0.243" fill-rule="evenodd" d="M86.2 298l-.2-.2 .2 .2zM88.2 300.8l-.4 .2 0-.5 .4 .3zM211.8 429.8l-33.6-.5-8.7-.5-8-1.6 0-.4-7.7-2.8-7.2-3.8-1.4-1 .2-.4-.6-.6-3.8-2.4-9.4-4.6-2.8-3-.2-1-4.1-3.4 .3-.7 2.1 1.1-3.1-6-.6 .1-3.4-4.1-11.4-6.4-8.6-5.6-4-2-.6 .6-1-.2-1-1-1-.1-.4-.9-1.4-.4-.2-.5-2 .8-1.4-1.6-1-.2-1 .5 0 1-.6 .3-.6-.7 1-.6-.4-2.1-.6 .7-1.5 3.4-.1 1 .4 .6-1.1 .4 .8 1.6-.7 .4-.6 2.3-1.1 .7 .1 1 .4-.1 .2 .7-.2 .3-.4-.8-.8 .5-4 10.4-.5 1.6 .3 .7 .5-.3-.3-.4 1.8-3.3 .7 .7 2.3-5.2 .3 .2-5 13 .2 .6-.6 .4-1.9 6.6-3.4 6.4-.2 1 .4 .6-1.2 2 .4 .2 1-.8 0 .6-2.6 4-1.5 1.4-2.8 1-5.7 .6-10.4 0-.1-66.6 .5-14.4 .6 6.5 1-4.4 .2 .3 .2 5.9 1.2-2.3 .6-3.6 1.2-3 .6-.7 .3 .7-.5 .6 .6-.5 .6 1.2 2.4-3.6 .8-5.1 .9-2.6 .9-.9 .4 0 1.2-2.5 1.3-7-.4-.6 .5-.1 1.1-3.9-.3-2.4 .4-1 .8-.6 1 .2 .3 .4-.5 1 .3 1 .9 0 1-4.2 1.4-1.4 .6-1.2 1.4-.1-.4 1.6-2.8 3.3 .2 .3 2-.9 1.2-1.4 .7-3.6 .8-1-.3-1 1.2-1.7 .4 .3-.4 1.4 .2 1.6 1.1 0 .3-3 .9-1-.3-.6 1.5-1.4 1.9-4 1.4 .7 1-.2 .4 1.4 .6-.2 1 .7 .3-.4-.9-2.1 1 .8 .7-.3 .3-1 2-.4 .6 .4 .1 1.6 1.3 .4 .5-.4-.7-1.6 .8-.7 2.6 2.7-.1 1 .9 1.5 .8-.5 .2-1.3 1.6 .4 .1-.5-.8-.6-.3-1.7 1 .4 1.5 3.3 .7 .6 .2 1.6 3 2.9 1 .1 1 .9 .6-.3 .4 1.3 2 2.2 1.6 0-.4 .7 .4 .9 .4-.2 1 .6 1 2.1-.3-1.4 .3-.7 2 2.7 0 1 1.5 2 .2 2 1 1.6 .6 2 1.7 1.5 2 3.4 1 .4 1.6 2.6 1 .1 .9 1.4 .9 .6-1.1 1 .7 0 2 3.8 2.1 1.6-.5 .6 2.8 5 1.6 1 0 .8 .6-.3 .5 .5-.1 .7-1-.6-.1 .3 6.7 8.4-.3-1.8 .7 .4 4.6 6.8 4.8 6.2 4.4 7.6 4.2 3.6 1.6 .7 7.4 8.3 4.3 2.8-2.6-3 .3-.3 .6 .2 10.1 8.7 1.9 .5 6.3 3.9 .9 0 8.2 4.2 16.6 5.1 .5 12.3-.5 1zM75.8 305l0-1.7 .4 .5-.4 1.2zM86 306.8l.7-1-.5-.7-.4 .6-.6-1.7-.6 1.2 1.1 .6-.2 1 .5 0zM74.8 305.5l0-.4 0 .4zM91 306.8l.2-.6-1-1 .2 1.6 .6 0zM92.8 306l-1-.2 1-.8 .4 .2-.4 .8zM75.2 305.9l0-.3 0 .3zM79.9 307.2l.2-1-.9-.5-.3 1.1 .3 .6 .7-.2zM80.9 306.8l.3-.6-.4-.2-.3 .8 .4 0zM84.9 306.8l-.1-.5-.2 .5 .3 0zM74.8 308.1l-.6-1.2 1 .2-.4 1zM73.2 310.7l-.4-1.1 .4-1.4 1-.3 1 .9-1 .3-1 1.6zM78.3 309.2l.6-.4-.6 .4zM70.8 310l0-.5 0 .5zM81.4 310.8l.4-.6-1-.1 .6 .7zM99.8 310.5l0-.5 .3 .2-.3 .3zM100.8 312.2l-.5-1 .5-1 .6 .6-.6 1.4zM75.6 312.2l-.4-.5-.3 .5 .3 .5 .4-.5zM103.2 313.1l-.3-.3 .3-.7 .5 .7-.5 .3zM104.8 312.5l0-.5 0 .5zM103.8 313.6l-.4-.4 .4-.4 0 .8zM105.8 315.4l-.7-1.2 .1-.9 .7 .9-.1 1.2zM71.8 315.2l0-.7-.3 .7 .3 0zM65.8 316.3l0-.6 0 .6zM103 315.8l-.2-.4-.3 .4 .5 0zM106.4 319.2l-.6-.7-.2 .7 .8 0zM107.8 319.8l-.6-1.4-.1 .8 .7 .6zM108.8 322.8l-.6-2-.6 1 1.2 1zM110.3 324.2l.1-1-.6-.4 0-1.2-.1 1.6 .6 1zM68.8 323.2l0-.3 0 .7 0-.4zM61.2 327.2l0-1.6 .4 1.2-.4 .4zM115.2 326.8l-.7-.6 .1-.4 .6 .3 0 .7zM117.8 331.9l0-.5 .4 .4-.4 .1zM119.8 333.1l-.6-.8-1 0 0-.5 1.6 .4 .3 .6-.3 .3zM120.8 333.4l-.7-.2 .7-.2 0 .4zM121.9 341.8l.3-.6-2.2-2-.1-1-1.1-1.7-.3 .7 .5 1 2.1 3 .8 .6zM123.8 340.7l-.5-.5 .5-.3 .4 .3-.4 .5zM54.2 341.3l0-.6 0 .6zM124.2 341.1l-.3-.3 .3-.5 0 .8zM124.8 341.9l0-.7 0 .7zM56.2 342.3l-.7-.1-.3-.6 1-.1 .4 .7-.4 .1zM125.2 342.5l0-.6 0 .6zM125.8 343.3l0-.6 0 .6zM53.8 343.9l-.3-.1 .3 .1zM53.2 344.9l0-1 0 1zM52.8 347.2l0-1.4 .3 1-.3 .4zM49.2 350.8l0-.8 0 .8zM131.2 352.7l0-.5 0 .5zM49.8 354.3l0-.5 0 .5zM144.8 374.2l-2-2.4-3.4-6-3.2-2.7 .6 1.4 3.7 5.3 1.3 1 2.4 3.6 .6-.2zM85.8 377.7l0-.8 0 .8zM155.8 383.6l-3.8-2.8 .5-.6-1.3-2.5 4 4.7 .6 1.2zM85.8 378.3l0-.4 0 .4zM85.2 379.1l0-.7 0 .7zM84.2 379.9l-.4 .1-.6-1 1-.1 0 1zM83.8 381.2l-.5-.4 .5-.4 0 .8zM83.2 382.1l-.3-.9 .3-.3 .4 .3-.4 .9zM84.8 382l0-.6 0 .6zM84.2 383.3l0-1.1 0 1.1zM82.8 383.5l-.4-.7 .4-.3 0 1zM83.8 384l0-.4 0 .4zM81.8 387.2l-.1-1.4 .8-1.6-.7 3zM81.2 389.1l0-1.8 0 1.8zM78.2 393.6l-.4-.4 2-4.8 .1 .8-1.7 4.4zM80.8 390.6l0-1.2 0 1.2zM80.2 392.1l0-1.4 0 1.4zM77.2 396.7l-.3-.5 .9-2.9 .2 1.5-.8 1.9zM79.2 400.3l0-1.5 1.5-2.6 .1-.8 .3 .4-1.9 4.5zM75 401.8l-.8-.8-.2 .2 1 .6zM74.5 402.8l-.4 0 .1 .4 .3-.4zM69.8 420.5l-.4-.3 .4-.1 0 .4z"/>
<path fill-opacity="0.257" fill-rule="evenodd" d="M78.2 306.4l0-.4 0 .4zM81.2 308.3l-.1-1.1 .7-1.1 .3 .7-.9 1.5zM82.8 307.9l-.4-1.1 .8-.1 .3 .5-.7 .7zM94.2 308.5l-.7-.7 .3-1.1 .8 1.1-.4 .7zM89.2 308.1l-.5-.9 .5-.2 .4 .8-.4 .3zM86.2 307.9l0-.4 0 .4zM90.2 309.3l-.4-.8 .2-.7 .8-.1-.6 1.6zM77.2 309.7l-.1-.9 .7-.7-.6 1.6zM84.2 308.9l-.7-.1-.3-.9 1 0 0 1zM211.8 429.8l-32.4-.6-7.5-.4-9.7-2.3-8-2.7-4.5-2.6-.8-1-5.2-3.4-7.6-4 0-1-2-2-5.2-3.6-1.2-3 2.5 2.6-.8-2-6.5-7-3.1-2.8-23.6-14.1-2.4-1-1 .1-2.6-2.1-2 1-.4-1.1-1.6-.5-2-1.9-.6 .4-.8 1.7-.6-.6 .2 1.3-.6-.4-1 1.8 0 .6 .6 0-.9 .6 .5 .4-1.7 4-2.5 9.1-4.6 11.5 .2 2.4-.2 .4-.4-1 0 .8 .4 .4 .6-.4 3-5.3 0 .7-5.7 11.4 .1 .4 .6-.6 .2 .2-.2 1-1.6 2 0 1.3-.4 0-.6 1.4-.5 .3 .2 .6-.7 .4 .3 1.6-1 2 .3 .4-1.1 2-1.6 1.6-1.8 .4-5.1 .6-10.4 0-.1-56.6 .5-16.5 .6 .1 0 2.6 .4-1.2 .5 1-.4 3.6 .5 .4 .8-1.4 0-1 .8-1 .2-1.6-.4-.2-.4 .7-.3-.9 2-5 .3-.5 .4 .4 1-.7 1-2.2 1.6-1.1 1.8-7.9 .6-.6 .6 .5 .1-1.5 1.3-2.6 1 .4 .9-1.8-.3-.9-1.2 1.9 .4-2.4 1.2-.5 .2-1.5 1.6-2.6 .2-1.4-.7-2 .3-1.3 1 1.6 .3-.9-.6-.4 .2-.6 1.1-1.6 1-.5 .2 .1-.8 .6-.1 2-.5 .4 .6 .1 1.6-1.7 0 1.4-.9 1.2 .3 .4 .4-.4 1.6-3-.4-1.2-.8-.2 1.2-.1 .9-1.5 .7-.3 .8-2.7 .6-.4 0-1.3 .6 .5 .2-.2 .2-1.2 1.8 .2 .8-2.1 .4 1.3 .8-1.2-.9-.6 .1-1.2 1.6 .3 0 2 1-2 1 1.4 .4-.1 .6-1.3 .4 .4 .9-.9 .3-1 .8-.8 .5 .8-.6 .4 .1 .4 .6-.8 .5 1-1 1 .9 .1 1-1.3 1.6 1.3 .3-.7-.7-.4 .8-2.6 .6 .8 .7 .2-.6 1 1.3 1.6 0 .8 .5-.4-1.2-1.4 .3-1.3 1.4 1.3 .5-1 1.1 .1 .4-1 1.2 1.9-1.1 1 2.9 2.3 .8-1.3-.2-.3-1 .6-.7-2.3 1.7-1 .4-1.5 1.8 2.9 2.4 2-.2 1 1.6 2.6 1-.2 2 3.2 1 0 0 1.2-.6-.5 0 .4 1.6 .9 2.4 3.3 .6-.4 .4 .8 1 .2 2.8 4.1 2.2 2 1 2-.4 .4-1-1.4-.2 1 1.2 .5 .4-.5 .7 1.4-1.1 .2 .2 1.4 .7 1 1.1 .4 4.4 7.7 1 .3 .3-.4-.7-2.3 1.6 1.7 1.9 4.6 6.8 10.4 4.1 7.6 7 8.4 4.2 3 4.8 5.8 1.6 .6 1.1 1.2 2.9 3.7 3 2.2 5.2 5.1 2.8 1 3 2.1 14.4 8.1 9 4 5 1.8 9.6 1.9 .5 12.1-.5 1zM88.8 309.1l-.4-.3 .4-.2 0 .5zM79.8 310.6l-.8-.8 .8-.7 .3 .1-.3 1.4zM84.8 309.3l0-.3 0 .3zM76.8 310.4l-.8-.2 .2-.7 1 .3-.4 .6zM83.1 312.2l-.3-.4-.6 .4 .9 0zM101.8 315.1l-.8-1.9 .2-.2 1.2 1.2-.6 .9zM83.8 314.2l0-.5 0 .5zM76.9 315.8l.3-.6-.4-.3-.3 .9 .4 0zM73.4 318.8l.6-1-.2-1.1-1 1.5 .6 .6zM72.5 319.8l-.3-.2 0 .5 .3-.3zM63.2 323.8l0-.6 0 .6zM110.8 326.8l0-.6 0 .6zM61.8 331.1l-.2-2.3 1.2-2.3 .5 1.7-1.5 2.9zM111.3 328.2l-.1-.8-.2 .4 .3 .4zM62.4 337.8l-.2-.3 0 .6 .2-.3zM60.8 338.8l0-.9-.8 .9 .8 0zM58.3 342.2l-.1-1.3 .1 1.3zM124.9 347.2l-.1-.9-.6 .2 0 .5 .7 .2zM126 349.2l-1.2-1 .4 1.1 .6 .3 .2-.4zM52.2 351.6l-.4 .1 0-.9 .8 .4-.4 .4zM47.2 354.4l0-1.3 0 1.3zM53.4 354.2l.4-.4-.6-.8-1.1 1.2 .7 .4 .6-.4zM140.8 366.5l-2-2.3 .4-.6 1.6 2.9zM102.1 372.8l-.4-1.6-1.5-1.3-.2-1.1-2.2-1.2-.6 1.3 3.7 3.3 1.2 .6zM82.6 375.2l.2-.6-.8 .6 .2 .5 .4-.5zM81.8 378.6l0-.6 0 .6zM152.8 385.8l-.6-.6 .6 .6zM157.9 389.2l-2.7-2.5 2.7 2.5zM71.8 412.5l0-.4 0 .4zM71.2 414l0-.9 0 .9zM69.8 417.4l-.5-.2 .5-.4 0 .6zM68.8 419.4l-.5-.2 .5-.3 0 .5z"/>
<path fill-opacity="0.260" fill-rule="evenodd" d="M211.8 429.8l-37.3-1-12-2.6-6.3-2-2.8-1.4 1.4-.6-6.6-2.9-8.4-5.3-.3-.2 .7-.6-1.6-1.4-6.1-4-.6-1.6 .3-.4 1 .9 .6-.5-6-6-.6-1.2-.7-.2 1.2 1.4-.5 .2-1.5-1.2-2.4-3-3.1-2.1-26-16-1.4 .2-2.6-1.8-3.4-1-2.6-1.8-1.4-.3-1.3 1.4-2.9 7.4-1.2 4 .4 1-.7 .6 .1 1-1.9 7-7.5 20.2 .1-.8 1.3-1.3 .2 .9-.5 .4 .1 .6-1.7 4.4-2.6 4.6 .2 1.4-.7 1.6-.9 1-1.9 .4-4.3 .6-10.3 0 0-48.3 .4-20.5 .6 7.3 .4-1 .6-.1 2-7 .4-.1 1-2.4 .6 1.4 1.1-1.9-.1-.8-.9 .4 .1-1 1.7-2.6 1.3-4 1.1-1 1.1-3.4-.1-1.6 .7-1.3 .4 .9 .5-1-.5-1.1 2-.9 .6 .8 1.1 .2 .4-3 2.2-6-.8-1.6 .1-2.6 .5-.4 .5 2.6 .4-1.6 1.6 .4 1-.6 1.7-4.2-.5-1.6 1.2-1.4 .6-2.1-1 6.6 2-2.4 .8-1.7 .2-1.4 1 .3 .3-.3 .1-.6-.7-.4 .3-.6 .4 .5 .7-.9-1-1 .3-.5 1 .5 2-1.8-.2 .8 .4 .4-.5 1 .3 .6 1.6-2.8 1 1.7 .1-.9-1.3-1.6 .2-.6 .4-.2 1 .9 1.6 2.1 .4-.1 .6 1.2 .2-.7-.7-.6 0-.4 .9-1.6 1.6 1.1 .3-.5 .1-.6-1.2-.4 .1-1 .7-.6 2 1.2 .4-.6-.4-1.1 .4-.2 .5 1.3 1.1 1 .1 1.4 2.3 .7 .6 .8 .3-.9-1.3-3.4 2.1 1.4-.1 .4 1 1 2.4-1.4 1.5 2.4-.2 .6 1.3 1.4 1.4 .8 .6-1.1 .6 1.3 1.8 .8 .7 1.2 1.3 1.2 1.6 2.3 .1 1.1 1.5 1 .2 2 2.6 3 0 1 .6 .7 .4-.4 1 .9 1.9 4.2 1.1 .2 1.6 2.6 .4-.9 1.6 3.7 1.4 1.6 .7 2.4 2.1 3.4 .2 1.6 1.2 2 2.6 2.4-1.9-2.4-.6-2 .3-.5 1 1.6 .4-1.5 1 1.1 0 1.2-.9-.5 .5 .6 1.1 0 2.9 5 0 .6-.6 .2-2.4-2.9 .2 1.1 2 2 1.3 0 9 14 3 3-.1 .4 2.9 4 6.7 7.2 1 .5 .4-.3 6 5.3 5.6 3.8 8.8 7.5 2.6 1.6 .5 0-2.3-2 .4-.3 12 6.3 1 0-3.4-2 .4-.4 6 2.9 6 2.1 12 2.5 .5 11.9-.5 1zM90.2 312l0-.4 0 .4zM99.2 313.5l-1-.3-.3-1 1.3 .4 .4 .6-.4 .3zM78.8 313.3l0-.8 .5 .3-.5 .5zM91.2 313.5l-1.2-.3 .2-.5 .6-.1 .4 .9zM82.8 314.9l-.4-.1 .4 .1zM89.4 315.8l-1.2-1.4 .6 1.6 .6-.2zM91.2 315.2l-.4-.4 .4-.4 .4 .4-.4 .4zM99.4 322.2l-1.4-2.4-.8-.6-.4-2-1-1-.6 .1-.1 .9 .9 .6 .1 1 1 1 .7 1.7 1 1.2 .6-.5zM97.5 316.2l-.3-.1 .3 .1zM100.8 317.1l-1-.3 0-.6 1-.2 0 1.1zM88.5 317.2l-.9-.4 .6 .9 .3-.5zM80.3 318.8l1.1-1-.2-.9-.4 1.3-.6-.7-.3 .3-.1 .6 .5 .4zM101.2 317.7l-.3-.5 .3-.3 0 .8zM85.4 318.8l-.6-.6 0 .9 .6-.3zM74.2 319.5l0-.4 0 .4zM100.4 319.8l-.2-.7-.4 .1 .6 .6zM72.8 322l0-.3 0 .3zM69.8 322.9l0-.4 0 .4zM106.3 325.8l-.1-1.6-1.4-1.5-.6 .9-2-.9 1 1.3 1.6-.3 1.5 2.1zM72.3 326.2l-.1-.5 .1 .5zM105.8 328.2l0-.7 0 .7zM62.2 329.1l0-.7 0 .7zM108.8 329.2l-.7-.4 .7 .4zM112.8 329.6l0-.6 0 .6zM66.9 329.8l-.1-.5-.3 .5 .4 0zM113.2 330.5l0-.5 0 .5zM64.2 331.6l0-.7 0 .7zM63.2 335.8l.1-3 .5-1 .4 .2 0 2.2-1 1.6zM112.8 333l-.5-.2 .5-.2 0 .4zM61.8 337.9l0-1 0 1zM62.8 339.5l0-1.3 .3 .6-.3 .7zM118.8 339.9l0-.7 0 .7zM126.2 352.6l-.8-1.4 .3-.4 1 1.4-.5 .4zM127.8 352.4l0-.7 0 .7zM134.8 365.2l-1.6-2.2 1 1.9 .6 .3zM111.4 379.8l-3.2-4.5-7.4-5.9-1.2-2.6-.8-.5-.6 .5-2-1.6-.4 .8-.6 0-.2-.8 .7-1-.5-.6-.4 1.4-1-.5-.4 .3 .1 1 1.7 1.8 5.6 5 4 2.9 4 2.3 .5 0 2.1 2zM102.3 369.2l-.3 0 .3 0zM48.3 371.2l-.1-.3 .1 .3zM80.3 374.2l-.1-.5 .1 .5zM76.5 387.8l-.3-.8-.4 1 .7-.2zM74.3 388.2l-.1-.8 0 1.3 .1-.5zM73.9 395.8l.5-3 .6-.6 .5-2.4 .6-.6-.3-.9-2.8 7.5 .2 .4 .7-.4zM74 389.8l-.2-.7 0 1 .2-.3zM49.8 394.2l0-.5 0 .5zM72 400.8l1.3-3.6-.1-.9-1 2.5 0 1-.5 .4 .1 1 .2-.4zM127.8 400.8l0-.5 0 .5zM71.5 401.8l-.3 .2 .3-.2zM174.2 402.4l0-.4 .4 .2-.4 .2zM175.2 403.3l-.4-.9 .4 .9zM178.2 404.3l.4-.1-.4 .1zM179.2 404.8l-.3 0 .3 0zM131.2 405.4l0-.4 0 .4zM177.2 405.5l0-.4 0 .4zM71 405.8l-.5 0 .3 .3 .2-.3zM131.8 406.1l0-.7 .4 .4-.4 .3zM70.6 407.2l-.4-.3 0 .8 .4-.5zM69.8 408.8l.4-.6-.4-.1 0 .7zM181.5 408.2l-.4 0 .4 0zM185.8 408.3l-.6-.1 .6 .1zM186.8 408.9l-.8-.1 .8 .1zM187.2 409.6l-.4-.4 .8 0-.4 .4zM69.8 413.8l0-.7 0 .7zM139.2 413.5l0-.4 0 .4zM67.3 416.8l-.1-.3 .1 .3z"/>
<path fill-opacity="0.234" fill-rule="evenodd" d="M89.8 317.8l0-.3 0 .3zM211.8 429.8l-34.2-1-8.9-1.6-5.7-1.4 .8-.6-7.6-3.3-10.4-5.5-5-3.6-3-2.7-8.8-10.3-2.2-2.1-19.1-11.5-13.5-9.3-1-.1-1-.8-1 .4 .4-.6-.4-.2-1 .4-7.4-3.6-1 .3-.6-1.2-.4-.1-1 .8-1-1.8-1.3 1.4-2.8 10-.9 5-.5 .4 0 1.6-2.8 7 .4 1-.9 .4 .1 1-1.6 4 .1 1-.6 .6 .2 1.3 1-1.8 .1 1.5-4.5 13.4-1.7 4 .1 .4 1-1.1 .5 .3-1.9 4.4 .5 1-1.2 1.6-1.6 .4-4.2 .6-9.5 0 0-41.6 .4-16.3 .6-.4-.1 3.3 .8 .4 .3 2.5 .9-4.9 .5-.8 .5 1.8-.4 1.4 .9 1-1.4 5.6 .4 2-.7 1.4 .5 2.6-1.1 9-.1 6.7 .7-2.3 .3-3.1 .5-.9-.1-2.4 .8-2-.2-2 .7-1.6 .5-9 .5-.4-.5-2 .9-2 1-5.6-.7-.8-1.2 5.4-.9-.6 .9-1 1.2-7.5 .6 3.4 .1-.3 1.9-11.2-1.5 1.6-.1 .9-.5-.9 1.1-2.2 .4 .1 .3-.9 .9-.4 .1-2 .7-1.6-.4-.3-.6 .6 0-.7 .6-1.2 1.8-1.4 .2-1.6 .4 .1 .3-.5-.5-1 .2-1.1 .9-.3 .1-1 1 .6 .6-.4 .3-1.8 1.7-.6 .4 .7 1-3.5 1.8-2.6-.3-.4 .5-2.5 1-2.4 .6-.4 .6 1.3-1.9 2.4 .7 .8 .6-.9 1 .2 .4-.9 1-.5-.3-1.1 1.3-1.2 .1-1.8 .9-.8 1 .6 1-.4-.6-1 1.4-.4 1.2-1.6 .5 0 0 1-1.4 2.6 .9 .7 .6-1.7 1.2-1.6 .1-1 .6 0 .1 .7 .4-.1-.3-.6 1.4-2.4-1.5 0 .4-1.6-.7-.4 1.3-1.6 .6 0-1.1 2 .5 .9 1.4-1 .6 .4 .4-1 .6 3.2 .9-1.5-2-2.4 1.1-1.3 .5 1.7 .9 .4 1 1.4 .6-1 .8-.2 .2-.9 .4 .5-.3-.6 .9-.9 1 .6 1-1 1 .5 1-.9 1 1.1 2.2 4.6 .8-.1 3.6 2.1-.4 1.4 .5 1 .5 0 .8-1.9 1.4 1.1 .6-.3 .8 1.7 1.2 .5 .6 1.5 1.4 1.3-.1 .7 1.5 1.2 1 1.5 .6-1.8 1.4 2.5 .6 .4 .4-.5 2.6 2.7 1.5 3-.1 1 .6 1 1.7 2 2.1 4.4 4.9 6.6 .3 1.4 3.9 6.6 4.4 5 .7 .5 .4-.5 1.8 2-.4 .4 .6-.2 3.8 5.8 2.8 2.7 3.1 4.3 .9 .8 .4-.1 0 .7 .6 .6 .4-.3 3 3.3 10 8.6 4.6 2.8 4.4 3.5 7.6 4.2 10.4 3.6 21.6 4.6 .5 11.7-.5 1zM78.8 318.8l0-.4 0 .4zM97.2 322.3l-1 .1-.5-1.2-1.4-1 .9-1.7 .5 1.3 1.1 .8 .4 1.7zM92.5 322.2l-.3-.3-.7 .3 .7 .4 .3-.4zM94.3 322.8l-.8-.6 .8 .6zM73.8 323.2l0-.6 0 .6zM100.8 325.5l-.8-1.3 .8-1.7 1 1.3 .1 1-1.1 .7zM79.8 323.9l0-1.1 0 1.1zM95 323.8l-.5 0 .5 0zM74.2 325.3l-.8-.1 .8-1.1 1.6-.3 .4 .4-.4 .7-1-.1-.6 .5zM101.2 326.3l0-.9 .4 .4-.4 .5zM73.8 326.9l0-.8 0 .8zM82.5 326.2l-.5 0 .5 0zM103.2 327.2l-.3-.4 .3-.3 0 .7zM72.8 327.3l0-.4 0 .4zM81.8 327.8l0-.9-.8 .9 .2 .3 .6-.3zM69.8 330.9l-.7-1.1 .1-1.1 .8 1.1-.2 1.1zM76.2 328.8l-.4-.4-.2 .4 .6 0zM101.9 329.8l-.1-.6-.4 0 .5 .6zM71.8 330.1l0-.6 .4 .3-.4 .3zM73.9 330.2l-.1-.7-.2 .7 .3 0zM66.8 332.9l-.5-.7 .5-.3 0 1zM103.3 333.2l-.5-1.1-.3 .7 .8 .4zM110.2 333.4l-.3-.6 .3-.3 0 .9zM64.2 338.9l0-2.1 1-2.6 .7 2-.1 .4-.6-.4-1 2.7zM112.8 335.4l-.9-1.2 .3-.3 .6 1.5zM63.8 340.6l0-1 0 1zM65.9 339.8l-.3 0 .3 0zM116.5 343.8l-.5-1.6-1.8-2.2 .4 1.8 1.6 2.4 .3-.4zM65.3 344.2l.7-.4-.2-2.7-.9 1.1 .4 2zM67.3 343.2l-.1-.5 .1 .5zM56.2 353.5l0-.6 .5 .3-.5 .3zM113.4 381.2l-6.6-9.1-1.2-.9 .3-.4-1.1-2-3.6-3.4-2-1.1-.4 .5-2-.5 0-.9 .4 .6 .3-.2-.6-.6 0-1-1.7-1.6-1 .5-.4-1.6-1.6-.9-1 .2-1.4-1.5-.6 .4 .1 .5-1.5 1.6 0 1.4 1.3 .6 .9-1.6-.7 1.6 .9 1-.3 1 .9 .3 .4 1 1.2 .1 .5 1-1.7 0 0 .6 2.3 2 .3 1 2 .5 .4 1.2 3.6 2.3 1-.6 .8 1.6 3.2 2.5 2.4 .3 5 3.5 1.2 .1zM90.8 360.7l-.5-.5 .5-.6 .3 .6-.3 .5zM130.8 361l0-.4 0 .4zM131.2 361.8l-.3-.6 .3-.1 0 .7zM93.8 362.5l-.5-.3 .2-.4 .7-.4 .4 .4-.8 .7zM95.8 362.5l-.7-.3 .7 .3zM100.4 362.2l-.5 0 .3 .5 .2-.5zM131.8 362.9l0-.4 0 .4zM132.2 364.1l0-.9 .4 .6-.4 .3zM53.8 364.9l0-1.3 0 1.3zM135.8 370.1l-3.2-5.3 .2-.9 3 4.3 .3 1.6-.3 .3zM50.8 371l0-.8 .3 .6-.3 .2zM104.8 370.8l0-.3 0 .3zM50.8 372.1l-.4-.3 .4-.4 0 .7zM48.8 372.7l0-.9 0 .9zM81.2 373.2l0-.5 .5 .1-.5 .4zM99.8 373.1l0-.7 0 .7zM48.8 373.8l0-.9 0 .9zM80.8 375.4l0-.5 0 .5zM51.2 376.2l0-.7 0 .7zM50.5 377.2l.2-.4-.5-.3-.2 .7 .2 .4 .3-.4zM51.8 379.9l0-1.5 0 1.5zM73.9 379.8l-.1-.3 0 .6 .1-.3zM51.2 381.8l0-1 0 1zM146.8 381.9l0-.3 0 .3zM50.8 383.4l0-1.2 0 1.2zM147.8 383.3l-.6-1.2 1 1.1-.4 .1zM148.2 383.9l0-.6 0 .6zM50.2 386.6l0-.5 0 .5zM149.8 386.7l-.4-.5 .4-.2 0 .7zM73.1 387.2l-.4 0 .4 0zM72.3 388.8l-.1-.6 0 .9 .1-.3zM132.8 402.2l-.7-.4 .7 .4zM64.8 421.6l0-.5 0 .5z"/>
</g>
<rect x="64.8" y="366.3" width="7.8" height="63.0" class="bo"/>
<rect x="75.8" y="303.3" width="7.8" height="126.0" class="bo"/>
<rect x="86.9" y="303.3" width="7.8" height="126.0" class="bo"/>
<rect x="97.9" y="366.3" width="7.8" height="63.0" class="bo"/>
<rect x="108.9" y="366.3" width="7.8" height="63.0" class="bo"/>
<rect x="130.9" y="366.3" width="7.8" height="63.0" class="bo"/>
<rect x="142.0" y="366.3" width="7.8" height="63.0" class="bo"/>
<rect x="153.0" y="366.3" width="7.8" height="63.0" class="bo"/>
<path d="M37.8 252.5V435.9M37.2 435.3H220.3" class="ax"/>
<path d="M34.1 429.3H37.8" class="tk"/>
<text x="29.5" y="433.3" class="tl" text-anchor="end">0</text>
<path d="M34.1 366.3H37.8" class="tk"/>
<text x="29.5" y="370.3" class="tl" text-anchor="end">0.1</text>
<path d="M34.1 303.3H37.8" class="tk"/>
<text x="29.5" y="307.3" class="tl" text-anchor="end">0.2</text>
<path d="M46.7 435.9v3.1" class="tk"/>
<text x="46.7" y="450.5" class="tl" text-anchor="middle">0</text>
<path d="M57.7 435.9v3.1" class="tk"/>
<path d="M68.7 435.9v3.1" class="tk"/>
<text x="68.7" y="450.5" class="tl" text-anchor="middle">2</text>
<path d="M79.8 435.9v3.1" class="tk"/>
<path d="M90.8 435.9v3.1" class="tk"/>
<text x="90.8" y="450.5" class="tl" text-anchor="middle">4</text>
<path d="M101.8 435.9v3.1" class="tk"/>
<path d="M112.8 435.9v3.1" class="tk"/>
<text x="112.8" y="450.5" class="tl" text-anchor="middle">6</text>
<path d="M123.8 435.9v3.1" class="tk"/>
<path d="M134.9 435.9v3.1" class="tk"/>
<text x="134.9" y="450.5" class="tl" text-anchor="middle">8</text>
<path d="M145.9 435.9v3.1" class="tk"/>
<path d="M156.9 435.9v3.1" class="tk"/>
<text x="156.9" y="450.5" class="tl" text-anchor="middle">10</text>
<path d="M167.9 435.9v3.1" class="tk"/>
<path d="M178.9 435.9v3.1" class="tk"/>
<text x="178.9" y="450.5" class="tl" text-anchor="middle">12</text>
<path d="M190.0 435.9v3.1" class="tk"/>
<path d="M201.0 435.9v3.1" class="tk"/>
<text x="201.0" y="450.5" class="tl" text-anchor="middle">14</text>
<path d="M212.0 435.9v3.1" class="tk"/>
<text x="129" y="467" class="al" text-anchor="middle">Days from</text>
<text x="129" y="476.5" class="al" text-anchor="middle">infection to death</text>
<text transform="translate(7.9,343.4) rotate(-90)" class="al" text-anchor="middle">Density/normalized count</text>
<text x="1.0" y="253.6" class="pl" font-size="15.5">c</text>
<clipPath id="kd"><rect x="278" y="252.6" width="169.5" height="183"/></clipPath>
<rect x="281.7" y="410.5" width="7.1" height="18.9" class="bu"/>
<rect x="292.5" y="354.0" width="7.1" height="75.4" class="bu"/>
<rect x="303.4" y="335.1" width="7.1" height="94.3" class="bu"/>
<g clip-path="url(#kd)" fill="#d1b788">
<path fill-opacity="0.045" fill-rule="evenodd" d="M447.2 430.2l-116.4 0-14-.8-4.6-1.5-3.6-3.7-2.1-4-3.2-9.4-2.1-4.4-4.4 14.8-2.5 5-3.5 3.3-3 .7-2.6 0-.4-.4 0-177.6 .4-.4 5 .1 .5 .3 .4 9 .7 1.5 .7-.5-.8-10 .1 2 .4 .5 .5-.5 0-2 .6 0 .1 5 .9 1.6 .5 5.4 .5 1 .5 10.6 .5 1 0 6 .5 1 .3 4.4 .1 .4 1.1-.4 1 2.6 .6 5.4 .4 .6 .1 3.4 1.9 4.6 .5 4 .5 .4 3.3 26 2.7 7 4.5 17.9 3.5 5.1 2.9 5.9 3.1 4.7 5.6 12 6 11 6 9 4.2 5 4.5 3 9.4 4 6.5 2 9.8 2 10.8 1.4 17.1 1.6 44 1.5 .5 .5 0 1-.5 .4zM290.4 259.2l-.2-1.9 0 2.4 .2-.5zM296.2 281.8l-.5-10.6-.5-.4 0-4.6-.5-1 0-3-.5-.8-.4 .8 0 4 .5 1 .2 9 .7 5.8 .6 .2 .4-.4zM291.8 268.2l0-1.3 0 1.3zM294.2 268.2l-.4-.8 0 1.2 .4-.4zM292.5 270.2l-.3-.4 0 .9 .3-.5zM292.8 275.8l-.6-2.9 0 2.1 .6 .8zM293.2 280.2l-.4-1.8 0 2.2 .4-.4zM296.3 290.8l-.1-6-1-2 .4 6 .7 2zM293.3 284.2l-.1-.3 .1 .3zM300 303.2l.7-1.4-.5-1-.5-6.6-.5-.4-.6-4-.8-.8 0 6.8 1.5 7 .5 .7 .2-.3zM297 302.2l-.2-1.6 0 1.9 .2-.3zM301 310.8l.2-4.6-1-2.3-.3 3.9 .4 .4 .1 2.6 .4 .3 .2-.3zM303.1 312.2l-.4-4.4-1.5-4-.4 .4 .8 1-.2 4.6 1 2.4 .4 .4 .3-.4zM302 319.8l.2-3-.5-1-.5-4.3-.4 2.7 1.2 5.6zM304.9 328.2l0-2.4-1.2-8.6-1.5-4.3-.4 1.9 .5 1 0 4.4 2.5 8.4 .1-.4zM303.6 313.8l-.4-.9-.3 .9 .3 .3 .4-.3zM304.4 332.2l-.6-4.1 0 3.5 .6 .6zM305.3 330.2l-.1-.9-.2 .5 .3 .4zM308.6 344.2l-.4-.3 0 .7 .4-.4zM309.9 348.8l-1.1-3.6-.2 .6 1.2 3.4 .1-.4zM310.4 350.2l-.2-.4 .2 .4zM320 376.2l-2.8-5.8-.2 .8 .9 3.6 1.3 1.3 .8 .1zM322 374.8l-.2-.3 .2 .3zM326.7 383.8l-4.5-8.4 .4 1.8 2.2 5 1.4 2 .5-.4zM325.1 388.2l-.5-.4 0-1-2.9-7-2.5-2.9-.1 1.3 2 4.6 3.3 5.4 .4 .4 .3-.4zM327.1 384.8l-.3-.5-.4 .5 .4 .3 .3-.3zM338 406.8l-9.9-18.6-2.3-3.2 2.1 6.2 4.3 9.3 4 5.2 1.6 1.4 .2-.3zM328.3 396.2l-3.1-5.1 1.2 2.7 1.9 2.4zM298.2 401.8l-.4-.5 0 .9 .4-.4zM297.6 403.8l-.4-1 0 1.3 .4-.3zM298.1 414.2l2.7-9.1-.6-2.3-2.6 10.4 .2 1.4 .3-.4zM337.6 403.8l-.8-.8-.2 .2 .6 1 .4-.4zM296.6 407.2l-.1-1 .7-1-.4-.8-.6 3.2 .4-.4zM343.4 411.8l-5.6-7.5-.5 .5 2.1 3.4 2.8 3 1.2 .6zM297.5 407.2l-.3-.8-.3 .4 .3 .7 .3-.3zM296 409.2l-.2-.9 0 1.2 .2-.3zM297.1 409.2l-.3-.9-.4 .9 .4 .4 .3-.4zM296.7 411.2l-.5-1.3-.4 1.3 .4 .5 .5-.5zM295.7 410.8l-.5-.3 0 .7 .5-.4zM292.6 424.2l2.5-7 .6-3.4 .5-.6-.4-1.4-3.6 11.6 0 1.2 .4-.4zM297.5 415.8l-.3-1 0 1.2 .3-.2zM292 425.2l-.2-.2 0 .5 .2-.3z"/>
<path fill-opacity="0.066" fill-rule="evenodd" d="M447.2 430.2l-115.4 0-14.6-1.1-4-1.4-.4-.5 .4-.4 1.1 .4-3.1-2.2-2.4-3.1-.3 .3 .5 1-.2 .5-.5-.5-2.2-4.4-5.2-13.6-.5-2.4-.9-1-1.3-5.2-4.1 19.6-3.3 11.1 2.5-3.1 1.9-5.1 .6 .7-.8 3-1.5 3.4-2.3 2.7-3 1.2-3 .1-.4-.4 0-177.6 .4-.4 5.2 .4-.2 1.5-.4-.2-.2 .7 .2 1.6 .4 .4-.1 4.6 .1 .7 .6-5.2 .4 5.9-.7 1 .3 1 .4-.9 .5 .9-.2 3.6 1.1 12.4 .6 1.5 .1-4.5-.8-4.4 .3-2.3 .9 2.3 0 2.4 .5 .6-.1 2.4 .9 4-.3 2 1.4 7.6-.3 1.9 .4-1.4 1 .9-.2 1.6 1.5 4.4 .5 5.6 .7 .4-.5 .6 .4 4 1.1 2.4 0 2.6 .8 5 .7 1.4 0 3.3 .9 .7-.3 2.6 1.8 6.4 1.2 1.4 .4-1.3 .5 1.9-.5 1 .6-.4 1.5 9 1.9 5 .6-2 2.9 12 1.7 4 .4 2-.6 1 .6-.5 .9 1.5-.9 .7 .4 2.3 9.9 22 3.7 5.5-3-7.1-.3-1.4 .7-.6 .2 1 .6 .6-.2 1 .4 0 6.4 13 .6 .5 .6-.4 2.6 2.9 1.4 .5 3.4 2.9 7 4 9.8 4 9.3 2.6 15.5 2.4 16.6 1.6 20.3 1 25.5 .5 .5 .5-.5 1.4zM292.8 264.1l-.5-.9 .5-.4 0 1.3zM290.9 267.2l-.1-2.1 0 2.6 .1-.5zM293.2 269.7l-1.2-.9-.2-2.6 .4-.3 .6 2.6 .4-1.1 .5 1.8-.5 .5zM293.3 285.2l-.1-3.1 .1 3.1zM293.9 287.2l-.1-1.1 0 1.6 .1-.5zM296.8 290.7l0-1.4 .4 .9-.4 .5zM297.3 304.8l0-4-.5-2.6-.6-.5 .5 6.1 .5 1.3 .1-.3zM297.8 310.2l0-.5 0 .5zM302.8 324.6l0-.7 0 .7zM305.8 333.2l-.5-.4 .5-1 0 1.4zM305.8 340.2l0-.5 0 .5zM309.2 345.2l0-1.3 0 1.3zM309.8 347.2l0-1.9 .4 1.5-.4 .4zM310.2 349.1l-.3-1.9 .3-.4 .5 2-.5 .3zM311.1 351.8l-.3-.5 0 .9 .3-.4zM317.2 369.1l-.3-.3 .5 0-.2 .3zM320.8 373.7l-.8-.5 .2-.4-2.4-3.6 .4-.9 2.3 3.5 .3 1.9zM317.8 369.8l0-.4 .3 .4-.3 0zM320.8 374.9l0-1.1 .4 .4-.4 .7zM321.2 376.1l0-1.3 .5 1-.5 .3zM321.8 377.4l0-1.2 .3 1-.3 .2zM324.2 383.7l-2.1-3.9 .1-.6-.8-.4 .8-1.5 2.5 5.5-.5 .9zM323.4 390.8l-1.5-4-2.1-3.6 3.6 7.6zM324.8 385.2l-.5-1 .5-.7 0 1.7zM325.8 387.7l-.6-.5-.5-1.4 .5-.8 .2 1.2 .6 .6-.2 .9zM326.8 390.2l-.7-.4 0-1-.5-.6 .6-.6 .2 1.2 .6 .4-.2 1zM299.2 404.7l0-1.9 0 1.9zM334.8 405.3l0-.4 .3 .3-.3 .1zM298.8 407l-.4-1.2 .4-.5 0 1.7zM335.2 405.9l0-.5 .4 .4-.4 .1zM298.2 409.2l0-1.9 0 1.9zM297.8 411.2l-.4-1 .4-.4 0 1.4zM297.2 413.5l-.3-1.3 .3-.4 0 1.7zM296.8 415.5l-.4-1.3 .4-.4 0 1.7zM296.2 417.2l-.4-1 .4-.5 .4 .5-.4 1zM295.8 419.2l-.4-1 .4-.8 .4 .4-.4 1.4zM308.4 421.2l-.3 0 .3 0zM309.2 424.2l-.4-.4 .4-.4 0 .8zM309.8 424.7l-.5-.5 .5-.1 0 .6zM310.8 425.6l-1-.8 .6 0 .4 .8zM311.2 426l-.2-.2 .2 .2zM311.8 426.6l-.4-.4 .4-.1 0 .5zM312.8 427.2l-.9-.4 .9-.5 .4 .5-.4 .4z"/>
<path fill-opacity="0.081" fill-rule="evenodd" d="M447.2 430.2l-114.4-.1-10.6-.5-4.4-.7-1.8-.7-.1-.4-3.7-2.7-5.6-6.3-5.4-13.6-.5-2.4-1-1.6-.9-5-.6 0-.7 2-3.6 18-3.2 11.6 2.1-2.1 .1 .5-1.3 2-1.4 1.1-3 .8-2 0-.3-.3 0-177.6 .3-.3 4.4 .3 .7 13.6 .5 2.3 .4-4.4-.1 9.5 .1 .5 .6-2.2 1.3 14.3 .7 2.6 .2-1.2-.5-4 .6-1.4-1-6 .1-2.6 1.2 7 .4 8 .9 3 0 4 .5 .9 1-.3 .6 2-.6 .4-.4-1.2-.7 .8 1 10 .5 0 .6-2.2 1.9 6.6 2.8 17.6 1.3 4.5 .6 1.2 .6 .3 .2 1.4 .6 1.1 .6-.3 1.3 7.8 4.1 9.4 2.5 9 1 6.6 1.3 4 .9 1-.3 1 .6 .2 4 8.8-.4 .1-2.6-4.3-.5 .2 4.5 10 1.2 1.4-.2 .6 1 2 2.6 3.6-3.1-5.6 .2-.6-.9-2.4 .2-.2 5.6 9.8 1.4 1.5-2-5.5 3 5.4-.5 1 .5-.4 1.7 2.8 2.9 2.6 6.4 4.6 6.7 3.8 8.3 3.6 7 2.1 11.5 2.3 16.7 2 26.4 1.6 27.4 .5 .4 .5-.4 1.4zM296.2 293.9l0-.7 0 .7zM297.8 300.4l-.6-1.2 0-.8 .9 .8-.3 1.2zM298.2 302.8l-.4 .4 0-2.2 .4 1.8zM298.2 304.4l-.4 .2 0-.5 .4 .3zM297.9 312.2l.3-2-.4-.8 .1 2.8zM306.2 336.6l0-1 0 1zM306 340.2l-.2-.7 0 1.2 .2-.5zM309.8 353.2l0 .5 0-.5zM311.9 360.2l-.8-3.4-.6-1 .2-.6-.9-1.4 .4 3 1.7 3.4zM323.2 380.9l0-.7 0 .7zM323.8 381.9l0-.4 0 .4zM322.2 386.9l0-1.1 0 1.1zM322.8 388l0-1 0 1zM323.2 389l0-.8 0 .8zM323.8 390.1l0-.6 0 .6zM328.2 394.8l0-.6 0 .6zM329.2 396l-.4-.1 0-.5 .4 .6zM295.9 402.8l-.1-.5 .1 .5zM295.4 405.8l-.2-.8 .2 .8zM293.8 424.4l0-.3 0 .3zM293.2 425.5l0-.6 0 .6z"/>
<path fill-opacity="0.110" fill-rule="evenodd" d="M447.2 430.1l-112.4 0-15-1.1-3-1.1-3-1.8-3.6-3.3-3.4-5.6-.6 .1-4.8-12.1-2.6-9.6-2.6 3.5-.4 1.7-1.1 6 .1 3.4 0 .4-.6-.1 0 2.4-1.3 6.9-2.6 7.4 0 1.6-2.5 1.2-2.6 .1-.3-.3 0-177.6 .3-.3 3.9 .3 .8 13 1 8 .3 1.4 .6-.4 .1 1.6-.1 3-.6 .4 .6 5 .4-4 .6 7.3 .4-.3 .6 1.8 1-.2 .4 1.4 1.6 17.6 1 .7 1-.7 1.5 7-.1 4.4 1 1-.1 1 1.3 7.6 2.7 8.4 .5 3.6 .6 1.3 .7-.3 2.2 7-.6 1 .6 1.4 .4 4 2.5 7 .8 .7 .3-.7-.8-2.4 .3-1-.8-1.6 .4-.5 1.2 5.5 .8 1.6 .3 3.4 6 20.6 .7 .4 3.4 7 3.2 5 2 1.8 .4-.3 .6 1 1.1 .5 3.9 4.1 7 5 5 3 8.6 3.9 10.4 3.2 12.4 2.4 20 2 19.6 1 28.4 .6 .4 .4-.4 1.3zM291.8 272.9l0-.4 0 .4zM293.8 279.4l0-.8 0 .8zM294.2 288.5l-.3-3.3 .3-1.1 .4 2.1-.4 2.3zM293.8 294.8l0-.6 0 .6zM294.3 297.8l-.1-1.8-.3 .2 .4 1.6zM297.2 296.9l0-.7 0 .7zM298.8 313.8l.5-.6-.2-1-.9-.7 .4-1.3-.8-1.4-.6 .5 .1 2.5 1.5 2zM300 315.8l-.2-.7 0 .9 .2-.2zM300.8 318.8l0-.7 0 .7zM305.8 338.9l0-.9 0 .9zM306.8 340.9l-.6-.4 .6 .1 0 .3zM306.5 343.2l-.3-.9 0 1.4 .3-.5zM306.9 346.8l-.1-1.3 0 1.5 .1-.2zM307.3 348.8l-.1-1.5 .1 1.5zM309.2 350l0-.9 0 .9zM309.8 352.2l0-1.4 .3 1-.3 .4zM310.8 354.6l-1-2.4 .4-.3 .9 2.3-.3 .4zM311.8 356.1l-.8-.3 .2-.8 .6 .2 0 .9zM313 366.2l.4-.4-1.2-1.1 0 1.1 .8 .4zM313.3 367.8l.5-.6-.6-.4-.5 1 .6 0zM314.3 370.8l-.1-.4-.6 .4 .2 .4 .5-.4zM314.9 372.2l-.7-.6 .7 .6zM329.2 400.6l0-.4 0 .4zM329.8 401.5l0-.5 0 .5zM295.8 406.5l0-.9 0 .9zM295.2 408.7l0-1.7 0 1.7z"/>
<path fill-opacity="0.123" fill-rule="evenodd" d="M447.2 430.1l-112-.1-10.4-.5-4.6-.6-5.4-2.5-3.3-2.6-1.7-2.7-.6 .1-3.9-6.4-1.6-3.6-2.2-6-2.7-9.9-1 .9-1-.8-.2 .4 .2 .4 .4-.4 .4 .4-.4 1-1 .5-1.1 5.1-2.3 16.4-3.1 9.6-1.9 1.1-2.8-.1 .2-177.8 3.7 .2 .8 16.6 1.2 5.4-.1 2.1 .6 1.5-.4 2 .5 4 .8 4 1.5 2 0 2.8-.6-2.4-.1 1.6 .5 1 .1 4 .5 2 .6-2 .4 .8 .6-.4 .3 5.6-.4 .4 1.3 5.6 .1 3 1.6 2.4-.5 1 0 2 .6 0 .4 2.9 .6-2.9 .1 2.6 1.1 2.4-.2 .9-1-1.6-.6-.3-.1 .6 1.7 3.1 .4-.9 .5 1.2 .4 3.6 1.8 5 2.7 13.4 1.2 3.5 .4-.5 0-1.2 0 4.2 2.6 6-.1 1.6 .5 .4 0 1.4 .8 1.6-.1 1.6 1.3 5 1 2 .7 .4 .3 1-.4 .1 0 .6 .6-1.7-.9-3-.5-.4 .2-2.5 2.8 8.5-.1 1 2.9 9.9 4.7 9.1-.3 .8-.5-.4 1.1 1.2 .4-.1 3.6 4.3 7 6 8.4 5.9 10 5 10.6 3.5 11 2.3 12 1.6 29.4 1.9 30 .6 .4 .4-.4 1.3zM292.2 283.4l0-1.3 0 1.3zM294.2 285.7l0-.9 0 .9zM294.8 290.9l-.4-.7 .4-.8 0 1.5zM294.8 292.8l0-1.4 0 1.4zM295.2 296.8l-.4-2.1 .4 .1 0 2zM295.3 298.8l-.1-.5 .1 .5zM294.8 300.2l0-.7 0 .7zM298.8 309.9l0-1 0 1zM299.2 317l-.4-1.2 .4-.8 .4 1.2-.4 .8zM307.2 346.1l0-1.4 .4 1.1-.4 .3zM307.8 347.4l0-1.2 0 1.2zM307.8 348.5l0-.4 0 .4zM308.8 352.9l-.4-1.7 .4-.2 0 1.9zM297.5 394.8l-.3-.4 0 .8 .3-.4zM324.8 397l-.4-.2 .4-.5 .3 .5-.3 .2zM293.3 408.2l-.1-.3 .1 .3zM309.8 421.9l0-.5 .3 .4-.3 .1zM310.2 422.3l0-.4 .5 .3-.5 .1z"/>
<path fill-opacity="0.141" fill-rule="evenodd" d="M447.2 430l-112 0-9.4-.5-5.1-.7-6.5-3-6.4-7.5-4.6-8.6-3-9.9-1-4.5-.4-.6-.6 .4-.3-.3-.1-2.3-.6 .3-1 3.4-1.4 8.6-.6-.1-.4 .4-.2 2.1-.5 .6-.4 3-.6 1 .5 1.4-.8 .8-.2 .8 .9 1-.9 1 .6 1-1 1.2 .2 1.8-.7 1.4 .5 0 .6-1.3 .3 .3-.9 3-2.2 5-1.8 .7-2.2-.1 .2-177.7 3.5 .1 .9 16.6 .9 5.4-.3 1.3 2 14.7 .6-.4 0 .4 .2 2.6-.2 .5-.6-2.1 0 2 .6 1.2 .4-.1 1.1 7.5 .5 1 .4 .1 .1 1.3 .5 .6-.1 2 .5 .2 1 5.8 1 1-.6 1 .3 4 1 2 .7 4 1.3 3.4 .3 .4 .6-.4 2 5.6-.1 3 .5-.3-.1 1.7 .7 1-.1 2 .5 .6-.2 1 3 10.4 2.4 6 0 1.6 1.2 3.4-.1 2 2.7 7.6-.1 1 .7 .4 .2 2 .6 1-.4 1.7 1.6 3.8 .2-.9-.6-2 .4-.5 .9 1.5 0 1 .5 1.2 .6-.3-.1 1.5 3.1 6.6 1 3.4 2.4 3.2 11 10.1 7.6 5 9.4 4.8 11.6 3.8 11 2.3 15.4 1.9 25.6 1.6 30.4 .6 0 1.5zM298.2 314.5l-.4-.3 .4-.4 0 .7zM300.2 321.8l0-.9 0 .9zM301.2 326.4l0-1.3 0 1.3zM301.5 329.2l-.3-.4 0 .9 .3-.5zM301.8 331.2l0-.4 0 .4zM303.6 334.8l-.4-.4-.3 .4 .3 .4 .4-.4zM305.2 341.7l0-.6 0 .6zM310.1 361.2l-.3-1.2 0 1.7 .3-.5zM310.6 363.2l-.4-1.1 0 1.4 .4-.3zM315.2 371.8l0-.8 0 .8zM315.8 373.5l0-.8 0 .8zM316.2 376.2l-.3-.4 .3-.9 .5 .9-.5 .4zM316.2 378.4l-.3-.6 .9-.5 .3 .5-.9 .6zM316.2 380.3l-.6-.5 1.6-1 .3 1-1.3 .5zM317.8 381.7l-.4-.5 .4-.8 0 1.3zM318.2 383l-.4-.2 .4-.9 0 1.1zM317.3 384.8l-.1-.5 .1 .5zM323.2 394.6l0-.4 0 .4zM293.2 411.6l-.3-.8 1.1-3.6-.2-2 .4-.3 .1 3.3-1.1 3.4zM293.2 413l-.4-.1 0-.5 .4-.1 0 .7zM292.2 419.7l0-.6 0 .6zM290.9 423.2l-.1-.3 0 .7 .1-.4z"/>
<path fill-opacity="0.164" fill-rule="evenodd" d="M447.2 430l-111.4-.1-10-.5-4.2-.6-5.8-2.8-4.6-4-4.4-5.7-3.6-7-1.9-6.1-2.1-8.4-1-.7 .1-1.9-.5-.1-.9 .7-1.7 8.4-.4 1.4-.6-.4-1.6 6.6-2.9 17 .5-.1 0 .6-1.5 2.9-1.5 .7-2.1-.1 .1-177.7 3.4 .1 .8 16.6 1.5 15 1 5 .1 4.4 .8 2.6 .4-.4 .8 6.4 .8 2 .8 4 1.2 2.4 .8 8.6 3.6 12 1 2.4 .3-1-.4-.4-.3-2.7 1.5 4.1-.1 .6-.4 .1-.6-.5 0 .4 6.8 23 .4 4.4 .7 2.6 .9 1-.2 1.6 .7 .4 .8 2-.1 1 1.1 2-.2 3 1.2 1 .4 3.4 4.1 10.4 .4 .1 .2-.5-1.8-4 .2-1.7 2.6 5.3 2.1 6.4 3.1 4 11.6 10.6 7.2 4.4 9.8 4.7 10.6 3.3 10.4 2.3 15.6 1.9 25 1.5 31.4 .6 0 1.5zM317.2 382.8l0-.8 0 .8zM320.3 391.2l-.4 0 .4 0zM294.8 403.4l-.4-.2 .4-.1 0 .3z"/>
<path fill-opacity="0.196" fill-rule="evenodd" d="M447.2 429.9l-111 0-13.9-1.1-3.5-1.4-4.6-3-3-2.7-4-5.2-5.6-13.3-3.3-11.4-1.1-.8-.6 .2-.2 2.6-.6 .8-.6 0-.4 .6-.4-1 1.6-2-.2-1-1.6 2.6-.4 2.4 .5 .6-.5 0-.6 2 .5 1-.5 .5 .6 .1 .2 .8-1.6 7.6-3.1 19-.8 1.4-1 .6-2.4 0 .1-177.6 3.3 0 2.1 32 .9 4.6 .4 5 1.5 6-.3 1.4 1.2 1.6-.1 .7-.5 .3 .5 0 1.1 3 .5 3.4 .6 .6 1.4 11 3.1 8 2.8 12 .9 2 0 3 .6 2.4 .6-1.7 .6 3.3 .6 .4 0 1-.7 .6 1.4 1-.1 2 .2 .4 .4-.2 .3 .8-.5 1.4 .8 .5 1.1 5.1 .7 1 .1 3 .5 1.8 1.6 1.6-.6 .4-.4-.2-.1 .4 6.4 17 2.1 4.4 2 2.1 2.4 3.5 .1 1 2 2.4 6.7 6 .8 .6-.3-.6 .9-.1 4.4 3.9 13.6 6.5 14 4.4 11 2.1 13 1.5 24.4 1.5 32 .6 0 1.3zM305.2 346.2l0-1.2 0 1.2zM311.2 367.4l-.2-.2 .2 .2zM295.9 384.8l-.1-1.4-.4 .8 .4 .9 .1-.3zM318.2 386.4l0-.9 0 .9zM318.8 387.5l0-1.1 .4 .8-.4 .3zM294.8 390.2l.7-.4-.3-2.3-.4 2.7zM319.8 389.3l-.8-1.5 .2-.5 .8 1.5-.2 .5zM297.5 389.8l-.3-1.2-1 1.2 .6 .3 .7-.3zM320.2 390.3l0-.7 0 .7zM295.2 398.7l-.4-1.5 .7-.4 .3-1.9 0 2.3-.6 1.5zM294.8 396.5l0-1.2 0 1.2zM294.2 399.1l-.4-.9 .4-.7 .4 .7-.4 .9zM295.2 399.6l0-.8 0 .8zM294.2 400.3l-.4-.5 .4-.3 0 .8zM293.4 401.2l-.2-.3 0 .8 .2-.5z"/>
<path fill-opacity="0.243" fill-rule="evenodd" d="M447.2 429.8l-111.4 0-9.8-.6-4.4-1-3.4-1.5-3.7-2.5-3.7-3.4-1.8-2.6-3.7-7-3.5-8.4-4.1-14-.5-.6-.4 .4-.4-.4-.3-1.4 .3-2.6-.6-2.3-.8 1.9 .5 2-1.1 3 .1 3-1.7 8-.7 5 .3 1-.7 2.4 .1 2.6 0 .4-.6-.6-.1 2.2-.5 .4 .2 4-.6-1.3 .1 3.9-1.6 8.4-.5 1-1 .6-2 0 .1-177.6 3.1 0 1.1 21.6 1.2 14 1.2 6.4-.4 2 .7 1 1 7.3 .6 0 .3 .7-.1 1.6 .9 2.4-.2 3 1.2 2 .3 1.9 .6-.1-.6 1.8 1.1 2 .2 3 1.3 5.9 .4 1.3 1.6 1.8-.6 1.4 .6-.3 .5 .9 .3 3.4 .5 2.6 1.7 3 1.9 10 1.4 2.4 .3 2.6 1.8 6 .7 1 1.3 6 3 8.4 5.3 13.6 3.3 3.8 1.2 2.6 2.4 3 7.8 7.4 2 1 5.6 4.8 5.4 2 .6-.6 7 2.9 11.4 3.3 14.6 2.6 14 1.4 18.4 1 34 .6 0 1.2zM292.2 297.2l-.4-.4 .4-1.2 0 1.6zM296.8 315.3l0-.6 0 .6zM299.2 327.4l0-.5 0 .5zM300.2 330.2l0-.8 0 .8zM302.8 339.6l-.4-.8 .4-.4 0 1.2zM295.2 391.4l0-1 0 1zM331.9 409.8l-.4-1-2.3-2-.4 .1 .4 .9 2.7 2zM337.4 413.2l-2.2-2.3-.8-.1 3 2.4zM291.2 414.7l0-1.8 0 1.8zM344.2 415.4l-.3-.2 .3 .2zM345.2 415.9l-.7-.1 .7 .1zM346.2 416.4l-.4 .2-.3-.4 .7 .2zM347.2 417l-.6-.2 1.1 0-.5 .2zM356.8 422.8l-10.6-4.1-3.5-.9 5.1 2.4 7.7 2.6 1.3 0z"/>
<path fill-opacity="0.257" fill-rule="evenodd" d="M447.2 429.8l-111.4 0-9-.6-4.4-1-4.2-1.8-4-2.6-5-5.6-5.9-12.4-5.3-17-1.2-1.1 .2-2.5-1.2-4.3-.8 .9-.6 2 .4 2-.9 3-.1 5.1-2.2 10.9-3.4 24-1.2 1-1.8 0 .3-177.6 2.8 0 1.4 28.6 .5 1.4 .7 10.6 2.1 12.4 .8 2-.2 1.6 2.3 7.4 .6 5 1.3 3.6 .8 4.4 1.5 4.6 .7 .3-.1 2.7 .5 .1 1.3 4.9 .8 1-.4 1 1.3 2.8 2.6 12.6 1.2 4 1.3 1.6 4.2 14.4 4.9 12 3.3 6 4.5 5.6 1.3 2.4-.5 .6 3.6 4.4 3.2 2.2 1 .5 .4-.4 5.5 3.3 .6 .4-.4 .6 .3 .4 5.6 3.2 9.4 3.2 8 1.7 1.9-.1-21-7.4 1.1-.1 3.6 1.4 18 4.4 16 2.6 26.4 2 37 .6 0 1.1zM334.8 412.5l0-.4 0 .4zM337.6 415.8l-1.4-1.1-1.5-.5 2.2 1.6 .7 0zM344.8 417.3l-.7-.1 .7 .1z"/>
<path fill-opacity="0.260" fill-rule="evenodd" d="M447.2 429.8l-111 0-8.4-.6-4.7-1-4.6-2-3.7-2.4-2.6-2.5-4-5.5-5-11.4-4.5-13.2-2.2-9-1.3-3.1-.8 .7 0 2-.8 2 .1 3.4-1 2 .3 2-.5 2 .2 4.6-.8 3-4 28-1.1 1-1.6 0 .4-177.6 2.7 0 .6 20 1.3 18.6 3.3 19.4 1.4 4.6 0 1.4 .8 1 .7 5.6 1.4 3.2 .8 6.8 1.2 3.5 .4-.9 .2 1.8 1.4 2.4 .2 1.6-.3 .6 .5 .2 .2 .8-.2 1 .7 1-.3 1.4 .8 1 1.8 5.7 1.4 6.9 3.3 9 2.5 9 2.5 6-.2 .4 1.2 4 7 11.6 .2 1.4 6.9 9 4.2 4.4 7 4.8 1.6 .4 0-.8 7 3.4 13.4 3.1 7 .9 8.3-.6 10.7 1.2 18 1.1 40 .6 0 1.1zM294.4 316.2l-.2-.8 .2 .8zM297.3 328.2l-.1-.2 .1 .2zM299.2 332.5l0-.3 0 .3zM300.9 342.2l.2-2-.5-.4-.4-1.7-.3 1.1 1 3zM323.8 400.5l0-.3 0 .3zM324.2 401.2l0-.5 0 .5z"/>
<path fill-opacity="0.234" fill-rule="evenodd" d="M447.2 429.8l-110.6 0-7.5-.6-6.6-1.4-5.7-3-5.6-6 .1-1-4.1-7-5-10.8-4.4-13.1 0-2.1-.6-.5-.4-1.9-.3-3.6-.3-.5-.5 .5-1.8-6-.7-.7-.4 .1-.4 2 .4 1 .4-.9 .5 2.9-.4 .6 .5 .4-1.6 3.6 .3 1-.3 2 .8 .4-.7 1 .5 .3 0 .7-.8 2.6-.9 6.4 .7 2-.6 .5 .3 1.1-1.8 15.4-2.4 14-2.1 .6 .5-177.6 2.2 0 2 38.6 1.1 6.4-.1 3 .5 3.6 1.8 6.9 .9 7.5 1.3 2.6 .1 3 1.3 3.4 .7 4 1.3 2.8 .8 6.2 5.2 13.7 4 13.7-.2 1.2 .6 1.3 .5 3.7 .5 1.1 .6-.1 1 2.3 .5 2.1-.5 .5-.6-.6 .3 1.1 .3 .3 .4-.6 1.8 5.9 3.3 6.4 1 1-.2 1 .7 .3 2 2.9 3.3 6.4 3.2 4.4 7 7.6 3.5 2.6 6.4 3.3 10 3.1 22.6 2.5 42 1.3 28.4 .1 0 1.1zM293.4 368.2l-.2-1 0 1.4 .2-.4zM293.5 371.2l-.3-1.9-.4 1.5 .4 .9 .3-.5zM310.2 374l0-1 0 1zM292.4 376.8l.4-1.4-.6 .6 0 1.1 .2-.3zM294.2 376.4l0-.4 0 .4zM311.6 377.8l-.8-1.3 0 1.2 .4 .4 .4-.3zM311.9 381.2l-.1-.2 0 .6 .1-.4zM310.8 418.3l0-.7 .4 .6-.4 .1z"/>
</g>
<rect x="281.7" y="410.5" width="7.1" height="18.9" class="bo"/>
<rect x="292.5" y="354.0" width="7.1" height="75.4" class="bo"/>
<rect x="303.4" y="335.1" width="7.1" height="94.3" class="bo"/>
<path d="M277.3 252.6V435.4M276.7 434.8H454" class="ax"/>
<path d="M273.6 429.4H277.3" class="tk"/>
<text x="269.0" y="433.4" class="tl" text-anchor="end">0</text>
<path d="M273.6 382.2H277.3" class="tk"/>
<text x="269.0" y="386.2" class="tl" text-anchor="end">0.25</text>
<path d="M273.6 335.1H277.3" class="tk"/>
<text x="269.0" y="339.1" class="tl" text-anchor="end">0.50</text>
<path d="M273.6 287.9H277.3" class="tk"/>
<text x="269.0" y="291.9" class="tl" text-anchor="end">0.75</text>
<path d="M285.3 435.4v3.1" class="tk"/>
<text x="285.3" y="450.5" class="tl" text-anchor="middle">0</text>
<path d="M296.1 435.4v3.1" class="tk"/>
<path d="M306.9 435.4v3.1" class="tk"/>
<text x="306.9" y="450.5" class="tl" text-anchor="middle">2</text>
<path d="M317.7 435.4v3.1" class="tk"/>
<path d="M328.5 435.4v3.1" class="tk"/>
<text x="328.5" y="450.5" class="tl" text-anchor="middle">4</text>
<path d="M339.4 435.4v3.1" class="tk"/>
<path d="M350.2 435.4v3.1" class="tk"/>
<text x="350.2" y="450.5" class="tl" text-anchor="middle">6</text>
<path d="M361.0 435.4v3.1" class="tk"/>
<path d="M371.8 435.4v3.1" class="tk"/>
<text x="371.8" y="450.5" class="tl" text-anchor="middle">8</text>
<path d="M382.6 435.4v3.1" class="tk"/>
<path d="M393.4 435.4v3.1" class="tk"/>
<text x="393.4" y="450.5" class="tl" text-anchor="middle">10</text>
<path d="M404.2 435.4v3.1" class="tk"/>
<path d="M415.0 435.4v3.1" class="tk"/>
<text x="415.0" y="450.5" class="tl" text-anchor="middle">12</text>
<path d="M425.8 435.4v3.1" class="tk"/>
<path d="M436.6 435.4v3.1" class="tk"/>
<text x="436.6" y="450.5" class="tl" text-anchor="middle">14</text>
<path d="M447.5 435.4v3.1" class="tk"/>
<text x="365.4" y="467" class="al" text-anchor="middle">Days from</text>
<text x="365.4" y="476.5" class="al" text-anchor="middle">infection to detectable virus</text>
<text transform="translate(240.7,343.4) rotate(-90)" class="al" text-anchor="middle">Density/normalized count</text>
<text x="234.4" y="254.5" class="pl" font-size="16.5">d</text>
<clipPath id="ke"><rect x="506" y="252.2" width="173.0" height="183"/></clipPath>
<rect x="510.4" y="384.5" width="7.4" height="44.7" class="bu"/>
<rect x="521.4" y="384.5" width="7.4" height="44.7" class="bu"/>
<rect x="532.4" y="384.5" width="7.4" height="44.7" class="bu"/>
<rect x="543.4" y="295.1" width="7.4" height="134.1" class="bu"/>
<rect x="554.4" y="384.5" width="7.4" height="44.7" class="bu"/>
<rect x="576.4" y="384.5" width="7.4" height="44.7" class="bu"/>
<rect x="587.3" y="384.5" width="7.4" height="44.7" class="bu"/>
<rect x="598.3" y="384.5" width="7.4" height="44.7" class="bu"/>
<g clip-path="url(#ke)" fill="#d06c58">
<path fill-opacity="0.045" fill-rule="evenodd" d="M678.8 430.2l-68.6-.2-17-.6-12.4-1.7-2-.9-1.6 0-5.4-2.6-5.6-4.4-2-3 2.6 3 4 3.4 4.4 2.6 1 0 .6 .4 1-.4-5-3.3-3.9-3.7-6.8-9-2.9-5.6-1-1-.4 1-.6-1.4 .6 .4 .4-.4-.4-.6-.6 .6-1-2.6-.4-.3-.6 .3 0-.4-.4-.2-1 1.6 .4 .5 1-1.5 0 .6-1.4 2-5.6 11.4-1 .6 0 .4 .6-.4 0 .4-.6 .6-.4-.3-1 2.3 1-1 0 .4-3 4.6-5 4.8-3.6 1.9-4 1-10.4 .7-6.6 0-.4-.4 .2-117.6 .3-1.4-.2-24.6 .7-.4-.5-3.6 .5-4 .4-1 1 .6 .6-.6-1-16 0-9 .4-.4 1 .4 .6 16 .4-.4 0 9.4 .6 1 1-1.4-.3 2 .3 1 1 0 0-.6 0 2.6 .4-.6 1.2-4.4 0-1.6-.2-.4-.4 .4 0-.4 .4-.6 .8-3-.2-4.4-1 1-.6 1.4 0-1 2.3-3 .3-5.4 .4-1.6 0-5.4-.4-.6 1 0 .4 2 .6-1 0 1-.6 .6 0 2.4 .6 .6 0 1-.6-1-.9 2.4-.3 3.6 0 3 .8 2-1-1-.3 .4 .3 5 1.4-1 0-2.4 0 .4 .6 .1 .4-.1 0-.4 0 1.4 .6 .8 1-.2 0-1.6 1 0 1-4.4 .4 .4 .6-.4-.6 1 1.6 1 .6-2-.2-2 .6 .3 .2-.3 .2-2-.4-1 1 .4 .4-3 .6 1 .4-1 .6 1.6 1.4 .9 .6-.5 0-2-1-1.4-1.6 1.4 1.6-3 2 2.2 0-1.6 .4 .4 .6-.4 1.4 2 0 .4-1-1-.6 1.6 1.2 6 1-1-.6 2 1 4.4 1.6 1 0 .6 1 .7 0-1.3 1 .6 .4-.6 1.6 0 1 1 .4-.4 .6 .4 0 .6-.6-.6-.4 .6 .4 .4 .6-.4 .8 4 .2 .3 .4-.3 0 1 .6 .4 1.4 11 .6 .6 0 .4-.6-.4-.1 1.4 .1 .6 .6-.6 .4 1 0 1-.4-1 0 2 .4-.4 1 3 .6-.6 1.4 .6 2 2 .6 1.4-3-3.4-1 0-.2 1.4 1.2 .6 2.4 2.4 0 .6-3-3-.4 1 .8 1.4 2.6 2 .6-.4-.6-1 .6 .4 .4-.4 .6 .4 0 .6-.6-.6-.4 .6 .4 .4 .6-.4 .4 .4 0 .6-.4-.6-.6 .6 .6 .4 .4-.4 .6 1 2.4 9 1.6 4 1.4 2.4 0 .6-1-1.6 .4 2.6 .6 .7 .6-.7 3 3.4 1 2-2-2.4 1 3 .4 .2 .6-.8 5 4.6 0 .4-2.6-2.4-.4 1-1.6-1.8-.4 .8 .4 1.4-.4-.4-.6 .4-.8-2-.6-.4-.6 .4 0 1 1.1 1.6 .5 .2 .4-.8 .6 .4 .4-.4 2 2 .6-.4 3 4 0 .4-.6-.4-.4 .4-2.6-3.4-.4 .4-1-1-.6 .6-.4-.4-.6 .4 .6 .4 .4-.4 2.6 5.4 .4 .6 .6-.6 .4 .6 1.6 2.5 .4-1.1 1 1 .6 0 .4-1 1 .7 .5-.1 .1-1 2 2.4 2 1 3.6 3.6 6.8 9 0 .4-.4-.4 0 1 .4-.6 1 1 0 .6-1-1-.1 .4 7.7 14 1 1 .4-.4 .6 .4 2.4 3.6 22.6 23 4 2.4 4 1 1.4 1 14.6 4.6 2 1 1.4 0 5 1.9 1.6 .1 4 1.4 1.4 0 2 1 5.6 1 .4 .6-2.4-.6-.6-.4-1.4 0-.6-.6-1.4 0-4-1.4-1.6 0-2-1-1.4 0-5-2-1.6 0-.4-.6-16-5-1.6-1-1 0-2-1-.1 .6 2.1 2.4 5 3.2 9 4 12 4 15.6 3.6 .4 2.2 0 5.6 0 2-.4 .4zM520.2 253.2l0-1 .6 0-.6 1zM526.2 252.2l-.4 .6 0-.6 .4 0zM529.8 252.8l-.6-.6 .6 0 0 .6zM533.8 254.8l-.6-.8-.4 .8 .4-2.7 1 .1-.4 2.6zM536.2 253.8l-1-1.6 .6 0 .4 1.6zM531.2 252.8l0-.6 0 .6zM538.2 252.8l0-.6 0 .6zM540.2 252.8l0-.6 0 .6zM548.2 252.8l0-.6 0 .6zM525.8 253.2l0-.4 0 .4zM529.8 253.2l0-.4 0 .4zM531.2 253.2l0-.4 0 .4zM538.8 253.8l-.6-1 .6 1zM540.2 253.8l-.4 .4 .4-1.4 0 1zM548.2 253.2l0-.4 0 .4zM520.2 253.8l0-.6 0 .6zM531.2 262.8l-.4 .4-.6-.4-.4 .4 .4-1.4 .6 1 .4-.6 0-3.4-.4-.6-.6 .6 0-2.6-1.4 1.6 1.4-2.6-.4-2 1 1 .4-.4-.4 1 .4 1.9 1 .1 0 2.4 .6 .6 0 .4-.6-.4-.4 1 .4 2-.4-.6-.6 .6zM531.2 253.8l0-.6 0 .6zM548.2 253.8l0-.6 0 .6zM520.2 254.8l-.4 .4 .4-1.4 0 1zM536.8 254.8l-.6-1 .6 1zM538.8 254.2l0-.4 0 .4zM548.2 254.2l0-.4 0 .4zM538.8 254.8l0-.6 0 .6zM539.8 254.8l0-.6 0 .6zM548.8 255.2l-.6-1 .6 1zM532.2 256.2l.6-1.4 0 1-.6 .4zM533.8 255.2l0-.4 0 .4zM536.8 255.2l0-.4 0 .4zM538.8 255.2l0-.4 0 .4zM539.8 255.2l0-.4 0 .4zM519.8 255.8l0-.6 0 .6zM533.8 255.8l0-.6 0 .6zM538.8 255.8l0-.6 0 .6zM539.8 255.8l0-.6 0 .6zM548.8 255.8l0-.6 0 .6zM519.8 256.2l0-.4 0 .4zM534.2 257.2l-.4-.4 0-1 .4 1.4zM548.8 256.2l0-.4 0 .4zM519.8 256.8l0-.6 0 .6zM532.2 256.8l0-.6 0 .6zM548.8 256.8l0-.6 0 .6zM519.8 257.8l-.6 .4 .6-1.4 0 1zM548.8 257.2l0-.4 0 .4zM534.2 257.8l0-.6 0 .6zM549.2 258.8l-.4-.6 0-1 .4 1.6zM528.2 259.2l0-1 .6-.4-.6 1.4zM534.2 258.2l0-.4 0 .4zM546.2 259.8l-1.4-1.6-1.6 1 0-.4 .6-.6 1.4 0 1 1.6zM519.2 258.8l0-.6 0 .6zM541.8 259.2l-.6-1 .6 1zM519.2 259.2l0-.4 0 .4zM525.8 259.2l0-.4 0 .4zM530.2 259.2l0-.4 0 .4zM549.2 259.2l0-.4 0 .4zM519.2 259.8l0-.6 0 .6zM525.8 259.8l0-.6 0 .6zM527.8 260.8l0-1 .4-.6-.4 1.6zM530.2 259.8l0-.6 0 .6zM543.2 263.2l-1-1-.4 1 .3-1.4-.3-2.6 .4 .6 1-.6-.4 1 0 2 .4 1zM549.2 259.8l0-.6 0 .6zM519.2 260.2l0-.4 0 .4zM526.2 260.8l-.4-1 .4 1zM530.2 260.2l0-.4 0 .4zM537 262.2l-.2-1.4-1-1-.9 2 1.3 1 .8-.6zM538.9 261.2l-.1-1.4-.6 1.4 .7 0zM546.8 261.2l-.6-1.4 .6 .4 0 1zM549.2 260.2l0-.4 0 .4zM519.2 260.8l0-.6 0 .6zM530.2 260.8l0-.6 0 .6zM532.8 260.8l0-.6 0 .6zM549.2 260.8l0-.6 0 .6zM518.8 262.2l.4-1.4 0 1-.4 .4zM526.2 261.2l0-.4 0 .4zM527.8 261.2l0-.4 0 .4zM530.2 261.2l0-.4 0 .4zM549.2 261.2l0-.4 0 .4zM526.2 261.8l0-.6 0 .6zM527.8 268.8l-1-1.6-.6 1 0-1 .6-.4 0-3.6-.6-1 .6 .6 1-1.6-.6 1.6 0 4.4 .6 .6 0 1zM530.2 261.8l0-.6 0 .6zM538.2 261.8l-.4-.6-.1 .6 .5 0zM547.2 262.2l-.4-1 .4 1zM549.8 262.2l-.6-1 .6 1zM526.2 262.2l0-.4 0 .4zM518.8 262.8l0-.6 0 .6zM534.6 271.2l.2-3-.6-.4 0-1 .6 1 .4-3 .6 1 .4-1 0-1.6-1-1-.4 1.6 .4 1-1-1.3 0 2.3-.4-.2-.6 1.2 .3 3 .7 1.6 .4-.2zM547.2 262.8l0-.6 0 .6zM549.8 262.8l0-.6 0 .6zM518.8 263.2l0-.4 0 .4zM532.2 263.2l0-.4 0 .4zM547.8 264.2l-.6-1.4 .6 .4 0 1zM549.8 263.2l0-.4 0 .4zM518.8 263.8l0-.6 0 .6zM529.8 263.8l0-.6 0 .6zM530.8 263.8l0-.6 0 .6zM532.2 263.8l0-.6 0 .6zM541.8 263.8l0-.6 0 .6zM543.2 263.8l0-.6 0 .6zM549.8 263.8l0-.6 0 .6zM518.8 264.2l0-.4 0 .4zM529.8 264.2l0-.4 0 .4zM530.8 264.2l0-.4 0 .4zM538.2 264.8l-.4-1-.6 1 .6 .4 .4-.4zM543.2 264.2l0-.4 0 .4zM549.8 264.2l0-.4 0 .4zM518.8 264.8l0-.6 0 .6zM529.8 264.8l0-.6 0 .6zM530.8 264.8l0-.6 0 .6zM543.8 265.2l-.6-1 .6 1zM547.8 264.8l0-.6 0 .6zM549.8 264.8l0-.6 0 .6zM518.8 265.2l0-.4 0 .4zM529.8 265.2l0-.4 0 .4zM530.8 265.2l0-.4 0 .4zM540.5 268.8l-.7-4-.6 1 .8 3 .5 0zM548.2 265.8l-.4-1 .4 1zM549.8 265.2l0-.4 0 .4zM518.8 265.8l0-.6 0 .6zM529.8 265.8l0-.6 0 .6zM530.8 265.8l0-.6 0 .6zM536.9 270.8l.9-.6 .4-1-.4-3 .4 .2 0-1.2-.4 .6-.6-.6-.9 1-.3 4 .2 1 .7-.4zM543.8 265.8l0-.6 0 .6zM550.2 266.2l-.4-1 .4 1zM518.8 266.2l0-.4 0 .4zM534.2 266.2l0-.4 0 .4zM537.8 266.2l0-.4 0 .4zM543.8 266.2l0-.4 0 .4zM548.2 266.2l0-.4 0 .4zM518.2 267.2l.6-1-.6 1zM534.2 266.8l0-.6 0 .6zM544.2 267.2l-.4-1 .4 1zM548.2 266.8l0-.6 0 .6zM550.2 266.8l0-.6 0 .6zM548.8 267.8l-.6-1 .6 1zM550.2 267.2l0-.4 0 .4zM518.2 267.8l0-.6 0 .6zM544.2 267.8l0-.6 0 .6zM550.2 267.8l0-.6 0 .6zM530.9 272.8l.9-4-.6-1-.4 0-.6 1.4-.4-.4-.2 .4 .2 1 .4-.4-.4 1 .4 2 .6 .4 .1-.4zM544.2 268.2l0-.4 0 .4zM548.8 268.2l0-.4 0 .4zM550.2 268.2l0-.4 0 .4zM526.2 268.8l0-.6 0 .6zM544.2 268.8l0-.6 0 .6zM548.8 268.8l0-.6 0 .6zM550.2 268.8l0-.6 0 .6zM525.2 269.8l-.4-1 .4 1zM526.2 269.2l0-.4 0 .4zM527.8 269.2l0-.4 0 .4zM539.3 269.2l-.1-.4-.3 .4 .4 0zM544.8 269.8l-.6-1 .6 1zM548.8 269.2l0-.4 0 .4zM550.2 269.2l0-.4 0 .4zM520.8 270.8l0-1 .4-.6-.4 1.6zM526.2 269.8l0-.6 0 .6zM527.8 269.8l0-.6 0 .6zM530.2 269.8l0-.6 0 .6zM549.2 270.2l-.4-1 .4 1zM550.8 270.2l-.6-1 .6 1zM527.8 270.2l0-.4 0 .4zM532.8 270.8l-.6-1 0 1.4 .6-.4zM544.8 270.2l0-.4 0 .4zM539 271.2l-.2-.7-.6 .7-.4-.4 0 1 .4-.6 .6 .6 .2-.6zM544.8 270.8l0-.6 0 .6zM549.2 270.8l0-.6 0 .6zM550.8 270.8l0-.6 0 .6zM520.8 271.2l0-.4 0 .4zM533.3 274.8l.5-1.6-.6-2.1-1 .7 0 1-.4-.2-.3 .6 .3 1.4 .4-.4 .6 1 .5-.4zM544.8 271.2l0-.4 0 .4zM549.2 271.2l0-.4 0 .4zM550.8 271.2l0-.4 0 .4zM520.2 272.2l.6-1-.6 1zM536.5 271.8l-.3-.6 0 .8 .3-.2zM543.9 273.2l.3-.4-.4-1-1-.6 .4 2 .6 .6 .1-.6zM552.4 291.8l-1.2-7-1-2.6 0-.4 .6 .4 .4-.4-.4-1-.6 .4-.4-1 0-.4 .4 .4 .6-.4-1.6-6-1.4-2-1-.6-1 1 0 1.6 1 0 1.4 2-2-2-.4 1 .3 1.4 3.7 12.6 2.4 3.4 .2-.4zM549.2 271.8l0-.6 0 .6zM550.8 271.8l0-.6 0 .6zM529.2 272.8l-.4-.8-.1 .8 .5 0zM537.3 274.8l.4-1.6-.5-1.1-.4 .1-.3 1.6 .3 1 .5 0zM550.8 272.2l0-.4 0 .4zM520.2 272.8l0-.6 0 .6zM525.3 273.2l-.1-1-.4 .6 .4 1 .1-.6zM527.8 272.8l0-.6 0 .6zM539.3 274.2l-.1-1.7-.4 .3 0 1.4 .4 .6 .1-.6zM541.8 273.2l0-.7 0 .7zM550.8 272.8l0-.6 0 .6zM520.2 273.2l0-.4 0 .4zM532.2 273.2l0-.4 0 .4zM550.8 273.2l0-.4 0 .4zM520.2 273.8l0-.6 0 .6zM527.6 274.8l-.4-1.2-.1 1.2 .5 0zM530.2 277.8l.6-4-.6-.6-.4 .6-.6-.6 0 1 .6-.4-.6 1 .5 3 .5 0zM532.2 273.8l0-.6 0 .6zM551.2 274.2l-.4-1 .4 1zM519.8 275.2l0-1 .4-.4-.4 1.4zM523.3 274.8l-.1-.9 .1 .9zM532.2 274.2l0-.4 0 .4zM543.9 274.2l-.1-.4 .1 .4zM538.9 276.8l.3-1.6-1-1 0 2.6 .6 .3 .1-.3zM541.3 274.8l-.1-.5 .1 .5zM551.2 274.8l0-.6 0 .6zM551.2 275.2l0-.4 0 .4zM519.8 275.8l0-.6 0 .6zM521.2 276.8l.6-1.6 0 1-.6 .6zM523.8 280.8l1.2-2.6-.2-1.4-.6 .4 .4-1-.4-1-1.2 3.6 .2 1 .6-.6-.6 1.6 .6 0zM528.4 276.2l-.2-1 0 1.6 .2-.6zM532.4 276.2l-.2-.6 .2 .6zM537 275.8l-.2-.6 0 1 .2-.4zM551.2 275.8l0-.6 0 .6zM519.8 276.2l0-.4 0 .4zM526.9 277.2l-.1-1.1-.4 .1 .5 1zM545.3 276.2l-.5 0 .4 .5 .1-.5zM548.8 276.8l-.6-1 .6 1zM551.2 276.2l0-.4 0 .4zM519.8 276.8l0-.6 0 .6zM551.2 276.8l0-.6 0 .6zM521.2 277.2l0-.4 0 .4zM545.9 279.8l-.2-1.6-.9-1.4-.6 1 1.6 2.4 .1-.4zM549.2 278.2l-.4-1.4 .4 .4 0 1zM520.8 278.8l0-1 .4-.6-.4 1.6zM524.2 277.8l0-.6 0 .6zM538.4 278.8l-.2-1.6-.4 .6 .4 1.4 .2-.4zM541.8 277.8l0-.6 0 .6zM515.8 279.2l.4 0 .1-.4-.5-1-1 1 .4 1 .6-.6zM523.8 278.8l.4-1-.4 1zM526.4 278.8l-.6-1 0 1.4 .4 0 .2-.4zM549.8 279.2l-.6-1 .6 1zM520.4 285.8l.4-1.6-.6-1.4-.4 1 .1-2.6-.1-.4-.6 .4-.4-2.4 0 3 .4-.6-.4 1 .4 3.6 .6 0 0-.6 .4 1 .2-.4zM520.8 279.2l0-.4 0 .4zM523.8 279.2l0-.4 0 .4zM549.8 279.8l0-.6 0 .6zM514.9 296.2l.3-3.4 .6 1 1.4-4-.2-6-.2-2.3-.6 .3 0-2-1 .4-.4 3-.4 12.6 .4 1 .1-.6zM540.7 280.8l.1-.6-.6-.2-.1 .8 .6 0zM525.9 281.2l-.1-1-.7 1 .1 .4 .7-.4zM535.8 281.2l0-.4 0 .8 0-.4zM546.2 281.8l-.4-.6 0 .8 .4-.2zM550.2 281.8l0-.6 0 .6zM516.2 282.2l0-.4 0 .4zM527.4 283.2l-.2-1.1-.4-.2 0 1.3 .6 0zM516.2 282.8l0-.6 0 .6zM546.4 282.8l-.2-.6 0 .8 .2-.2zM516.2 283.2l0-.4 0 .4zM515.8 284.8l.4-1.6 0 1-.4 .6zM525 289.2l.8-2 .4 .5 .6-1.5-.6-1.1-.4 .1 0-1.4-.6-.1-1 3.1 .1 2.4 .7 0zM551.8 283.8l0 .4 0-.4zM519.8 284.2l0-.4 0 .4zM523.2 287.8l.7-2.6-.1-1.4-1 3 0 1.4 .4-.4zM543.5 284.8l-.3-.6 0 1 .3-.4zM519.8 284.8l0-.6 0 .6zM515.8 285.2l0-.4 0 .4zM519.8 285.2l0-.4 0 .4zM515.8 285.8l0-.6 0 .6zM525.8 285.8l0-.6 0 .6zM515.8 286.2l0-.4 0 .4zM525.8 286.2l0-.4 0 .4zM544 286.8l-.2-1 0 1.4 .2-.4zM515.8 286.8l0-.6 0 .6zM525.8 286.8l0-.6 0 .6zM515.8 287.2l0-.4 0 .4zM520.2 287.8l-.4-1-.1 1 .5 0zM525.8 287.2l0-.4 0 .4zM515.8 287.8l0-.6 0 .6zM515.8 288.2l0-.4 0 .4zM515.2 289.2l.6-1-.6 1zM548.3 288.8l-.1-.6 0 1 .1-.4zM515.2 289.8l0-.6 0 .6zM515.2 290.2l0-.4 0 .4zM515.2 290.8l0-.6 0 .6zM517.3 290.8l-.1-.6-.4 .6 .5 0zM522.8 291.8l0-1-.6-.2 0 1.5 .6-.3zM553.8 290.8l0-.6 0 .6zM515.2 291.2l0-.4 0 .4zM553.8 291.2l0-.4 0 .4zM515.2 291.8l0-.6 0 .6zM515.2 292.2l0-.4 0 .4zM515.2 292.8l0-.6 0 .6zM553.2 297.8l-.4-2.6-.6-1-.4 1-1-2.4-.3 1 .7 1-.1 1.4 .7 1.6 .4 0 0-.6 .6 1 .4-.4zM552.2 293.8l-.4-.6-.6 .6 .6 .4 .4-.4zM554.2 293.8l0-.6 0 .6zM516 297.2l.5-1.4-.3-2-.4 .4-.4 3 .4 .6 .2-.6zM517.8 297.8l0-3-.6-1-.2 4 .2 .4 .6-.4zM551.8 295.8l0-.6 0 .6zM552.2 296.8l-.4-1 .4 1zM522.5 296.8l-.3-.3 0 .7 .3-.4zM552.2 297.2l0-.4 0 .4zM516.2 300.8l0-2-.4-.6-.4 2.6 .4 .4 .4-.4zM554.8 298.8l0 .4 0-.4zM560.2 301.2l-.4-1 .4 1zM515.5 306.8l.3-5-.6-.6-.2 5.6 .2 .3 .3-.3zM560.2 301.8l0-.6 0 .6zM561.2 307.8l-1-2.6-3-3.4-.4 1-.6-.4-.4 .4 .4 1 .6-.6 .4 .6 0 .4-.4-.4-.6 .4 .6 .9 .4-.9 3.6 4 .4-.4zM517 307.2l.2-4-.4-.4-.6 4.4 .6 .6 .2-.6zM556.8 303.2l0-.4 0 .4zM557.3 306.2l-.1 .6 .1-.6zM562.2 312.8l0-1-1.4-3-2.6-3-.3 1 2.4 5 1.5 1.4 .4-.4zM515.8 315.2l.4-7-.4-.1-.6 7.1 .6 .6 0-.6zM561.5 308.8l-.3-.6-.4 .6 .4 .4 .3-.4zM559.2 312.8l-1.4-3.9 .4 3.2 .6 .8 .4-.1zM561.8 309.8l0-.6-.6 .6 .6 .4 0-.4zM564 317.2l-.4-1.4-1.8-2.6-.2 1 1.6 3 .6 .6 .2-.6zM515.3 322.8l-.1-5.6-.2 5 .2 .9 .1-.3zM561.9 319.2l-.7-1-.1 .6 .7 1 .1-.6zM564.2 319.2l-.4-.4-.6 .4 .6 .6 .4-.6zM565 321.2l-.8-1.4-.4 .4 1 1.6 .2-.6zM562.2 321.2l-.4-.4 0 .6 .4-.2zM567.8 321.8l-.6-1 .6 1zM566.4 325.8l-.6-2.4-.6-.4 1 3.2 .2-.4zM569.2 328.8l.6 0 .1-.6-.4-1.4-2.3-3 1 4.4 1 .6zM566.8 327.2l0-.6-.6 .2 .6 .4zM574.2 331.8l-.4-1 .4 1zM567.8 332.2l0-.4 0 .4zM574.8 332.8l-.6-1 .6 1zM578.8 335.2l-2-3 1.4 1.6 .6 1.4zM574.2 335.2l-.4-1 .4 1zM574.2 335.8l0-.6 0 .6zM580.2 337.8l-1.4-2.6 1 1 .4 1.6zM574.8 336.8l-.6-1 .6 1zM575.2 337.8l-.4-1 .4 1zM576.8 337.8l0-.6 0 .6zM578.8 338.8l-1-1.6 1 1.6zM575.2 338.2l0-.4 0 .4zM577.2 338.8l-.4-1 .4 1zM580.8 338.8l-.6-1 .6 1zM575.8 339.2l-.6-1 .6 1zM577.8 339.8l-.6-1 .6 1zM579.8 340.2l-1-1.4 1 1.4zM581.2 339.8l-.4-1 .4 1zM577.8 340.2l0-.4 0 .4zM581.8 340.8l-.6-1 .6 1zM578.2 341.2l-.4-1 .4 1zM580.2 341.2l-.4-1 .4 1zM580.9 343.2l-1.1-1 0 1.6 1 0 .1-.6zM582.4 343.2l-.4 0 .4 0zM584.8 344.2l-1-1 0 .7 1 .3zM581.5 344.8l-.7-1-.9 .4 .3 .9 1 .1 .3-.4zM601 369.2l-5.8-10.4-5-8-4.4-4.3-1-.5-1 .1-.6-.5 0 1.2-1.4-1.6-1 0 .4 2 2.6 2.5 .4-.9 .6 .4 .4-.4 .6 .4 0 1-.6-1-.4 .6 1.4 1 1.6 2.9 3.6 4.5 7.4 10.5 1.4 1.1 .8-.6zM584.2 346.8l0-.6 0 .6zM584.8 347.8l-.6-.6-.4 .6-.6-1 .6 .4 .4-.4 .6 1zM585.2 348.8l-.4-.6-.6 .6-.4-1 .4 .4 .6-.4 .4 1zM584.3 353.2l-.1-.4-.4 .4 .4 .5 .1-.5zM586.5 356.8l-1.7-3-.4 .4 2.1 2.6zM594.9 365.2l-4-6-1.7-2.1-.4 .1 2 4 3 3.6 1.1 .4zM597.8 359.8l-.6-1 .6 1zM590.3 363.8l-2.5-4.1-.2 .5 1.6 3 1 1 .1-.4zM598.8 361.2l-1-1.4 1 1.4zM599.2 362.2l-.4-1 .4 1zM600.2 363.8l-1-1.6 1 1.6zM592.8 364.2l-.6-1 0 1 .6 0zM600.8 364.8l-.6-1 .6 1zM601.2 365.8l-.4-1 .4 1zM602.2 367.2l-1-1.4 1 1.4zM596.2 368.2l-2-1.8-.4 .4 2 1.9 .4-.5zM602.8 368.2l-.6-1 .6 1zM603.2 369.2l-.4-1 .4 1zM604.3 375.8l-2.5-4.6-2.6-2 0 1 2.6 3.5 2.5 2.1zM604.8 371.8l-1-1-.6-1.6 1.6 2.6zM595.9 373.2l-1.7-3-.1 .6 1.7 3 .1-.6zM609.2 388.2l-8-12.5-2.4-2.5-.6 0 1.6 3-1-1-.6-1.4-2-2.1 2.6 5.1 3 4.4 1.4 1.6 .6-.6 3.7 5 1.3 1.3 .4-.3zM605.2 372.8l-.4-1 .4 1zM609.2 380.2l-1-2-3.4-4.4 .2 1.4 1.2 2 2.6 3.1 .4-.1zM600.8 377.8l-1-1.6 1 1.6zM601.8 379.2l-1-1.4 1 1.4zM630.2 399.8l-21-21.6-.4 1 4 5.6 13.4 13.4 3 1.9 .6 .1 .4-.4zM602.8 380.8l-1-1.6 1 1.6zM603.8 382.2l-1-1.4 1 1.4zM607.8 382.2l-.6 0 .6 .6 0-.6zM622.3 396.8l-5.5-5.6-.6 0 0 .6-1-1 0-.6-4.4-5.3 .3 1.3 4.1 6.1 1 .9 .6-.4-.6-1 3.6 4 2.5 1zM610.3 387.2l-.5 0 .4 .6 .1-.6zM611.4 388.8l-.6-1-.4 .4 .8 1 .2-.4zM612.3 390.2l-.5-.7-.3 .3 .8 .4zM554.7 391.2l-.5-.4 0 .6 .5-.2zM549.2 396.2l1.6-2 0-1.3-.6-.1-2 3.4 .6 .6 .4-.6zM557.4 393.8l-.2-.6 .2 .6zM550.2 400.8l2.9-5.6-.9-.7-2.2 5.3 .2 .4-.6 .6 .2 .4 .4-.4zM545.8 405.8l1.6-2 2.8-8-2 2-2.4 5-.8 3 .2 .4 .6-.4zM554.1 398.8l.7-1 0-1.2-1.2 1.6 .2 1 .3-.4zM547.5 397.8l-.3-.4 0 .7 .3-.3zM565.4 412.2l-5.2-11-1.4-1.6-.6 .2 0 .4-1.4-1.7 0 1.3 1 2 .4 .4 .6-.4 .4 .4 3.4 6.6 2.6 3.7 .2-.3zM549.9 408.8l3.9-7.6-.6-1-1.1 2-2.5 6.6 .2 .4 .1-.4zM558.8 401.2l-.6-1 .6 1zM635.7 404.8l-.9-1.6-4-2.4-.9 .4 5.3 3.9 .5-.3zM558.8 401.8l0-.6 0 .6zM628.1 404.2l-1.9-1 1.9 1zM558.2 405.2l-.4-1 .4 1zM549.9 405.8l-.1-.6-.6 .6 .6 .4 .1-.4zM558.8 406.8l-.6-.6 0-1 .6 1.6zM541.3 409.8l1.1-1.6 .4-2.1-1.7 3.1 .1 1 .1-.4zM542.5 413.8l3.3-6.6 0-1-1.6 1.6-.7 1.4-1.7 4 0 .6 .4 .3 .3-.3zM538.2 424.2l4-4 3.1-4.4 3.6-7.6 .6-1.4-.3-.6-1 1-1 2.6-1 1-3 5.4-5.8 8 .4 .6 .4-.6zM559.2 407.8l-.4-1 .4 1zM559.8 408.8l-.6-1 .6 1zM560.2 409.8l-.4-1 .4 1zM568.8 414.2l-3.6-5.4 0 1 1.6 3 1.4 2 .6-.6zM560.8 410.8l-.6-1 .6 1zM536.4 420.2l3.8-6.9 .7-1.5-.1-1-4.7 9.4 .1 .4 .2-.4zM561.2 411.8l-.4-1 .4 1zM561.8 412.8l-.6-1 .6 1zM646.5 412.8l-.5 0 .5 0zM562.2 413.8l-.4-1 .4 1zM647.4 413.2l-.3 0 .3 0zM574.9 420.2l-5.7-6.6-.4 .2 1 2 1.7 2 2.7 2.4 .6 .4 .1-.4zM563.2 415.2l-1-1.4 1 1.4zM541.9 414.8l-.1-.6-.6 .6 .7 0zM564.2 416.8l-1-1.6 1 1.6zM655.2 415.8l-.6 0 .6 0zM546.8 416.8l.4-1-.4 1zM656.2 416.2l-.5 0 .5 0zM545.8 418.2l-.6-.1 0 .7 .6-.6zM545.2 419.2l-.4-.4 0 1 .4-.6zM573.8 421.8l-1.7-1.6 1.7 1.6zM535.4 421.8l.4-.9-.4 .9z"/>
<path fill-opacity="0.066" fill-rule="evenodd" d="M678.8 430.2l-61.6-.2-19.4-.5-12-1.5-6.1-2.8-.3-1-5.6-5.4-5.9-7-5.1-8.4-.6-.5-.4 .4-.3-.5 .5-.6-5.2-4.1-.6 1.2-.4-.3-1-2.6-.6-.2-1.4 4-1 1.9-.6-.9 1.1-1.4 1.3-4-1.2-1.6-1 0-.5-1.4-1.7-1.2-5.2 14.6 .3 1-6.1 12.8 4.1-5.2 6.5-13.8-.2 3.2-.9 1-3.9 9-3.6 6-4.7 5.6-2.4 2 3.7-1 .1 .4-3.6 1.6-4.5 .7-9.6 .7-5 0-.4-.4 .3-95 .2-3.6 1.1-3.4-.4-1 .5-2 .1-7 .9-1-.4-1 .1-2 .7-1-.3-1 1.4-5-.2-2 .8-1-.7-2 .3-4-1.6-18 .2-4.6-1-19 0-4 .4-.4 .9 .4 1.6 31.6 .8 4.4 1.3 2.3 .7-2.7 0-3 .7-1 0-6 .6-2 .8 0-1.3 4 .1 3 .4 .7 1-1.8 .2 1.1-1.4 4-.8 6.8 1.4-2.6 .9 .8 .1 2.3 2.6-6.7 .4 .7 .3-.3-.6-2.6 .3-.8 .6 .6 .2-.8-.8-2.6-.7-.4 .1-3 .2-.5 .6 2.5 .4 .4 .4-.3-.1-1.1 .9-1-.2-3.3 1 3.7 .7-.8 .3-1.5 .4 1.6 .6-1.1 1.3 0 .1-1.6 .7-1 .3-1.8 .6 2.3 1.4-.5 0 1.2-.9 .8 .1 .6 .4 .3 .4-1.1 1.6 4 1-.8 .4-1.9 .6 1.4 .7-2.9 .8-.6 .5-1.3 .4 .5 .6-1.3 .7 2.1-1.3-.1-1.1 2.7 1.1 1.4 .8-1-.4-1.4 .8 0 .8-2 .4 .4-.9 4.6 .8 1.4-.5 1 .8 1 .4-1.7 .8 1.7-.2 1-.6-.9-.3 1.5 1.3 5.4 .6 .7 .4-.6 1.4-.1-.4 .7-.4 0-.4 1.3 1.8 1.8 1 .1 1.9 5.7 1 .4 .7 2.1 .8-.1 .2 1.9 1.7 1.1 .5 3.6 1.3 4 .5 .5 2 0 0 .8-.6-.2-.4 .7-.6-.3-.2 .5 1.1 3-.1 1.4 2 3.6 1.2 4.3 2 2.7-.1-1-1.6-2.6 .7-.8 3.1 2.8-.9-3.4-1.1-2.6-.5-4.9 .7 .9 .5 3 .9 1.6 1.3 6 .5 .4 .6 2.6 .8 .4-.7 1.6 .8 2.5 1 .1 1.6 1.6 .4-.5 .6 .3 2.4 5-.8 .4 .4 .4 1-1.5 .4 .3 1.8 1.8-1.2 1-1.1-1.4-.1 .4 1.2 1.8 .4-.5 .8 .3 .2-1.3 1.2 1.3 .6 2 3.4 3.4-.2 .4-1-.6-.8 .8 4.2 6.4-.8 .5-.6-.6-1-.2-1.4-2.1 .2 1.4 4.8 6.2 .3-.2-1.3-2 .4-.7 1.2 2.3 2.8 3.4 .3-.4-1.1-2.6-2.7-4.4-.2-1.6 .7 0 4.9 8.6-.1 .4 3.5 4-.3 .5-1-.3-4-2.7 .5 1.1 1.9 1.4 4.2 7.4 .3-.4-.5-.4 .2-.8 1.8 2.8-.4 .4-1-1.3-.1 .3 1.1 1.1 .6-.4 .2 .3 3.8 5.3 6 5.4 2 .9 1.7 1.4-.4-1.4-2.4-3.6 .1-.9 5.4 8 3.9 2.5 1.3 2.4 3.3 3.6 7.1 4 2.4 .8-.1 .6 .7 .6 1.7 .4-.7 0-.6-.7-.4 .1-.4-.4 .5-.4-.9-1-10.2-8.7 1-.1 1.6 .8 7.8 6.4 7 4.4 1.6 1.7 5 2.6 17.4 5.9 13.6 1.6 .4 .8 0 6 0 1.6-.4 .4zM530.8 257.3l0-1.4 0 1.4zM539.2 258l0-.8 0 .8zM539.2 259.8l0-.8 0 .8zM534.8 260.9l-.6-.1 .6-.9 0 1zM538.8 263.5l0-1.4 0 1.4zM533.8 265l-.7-.2 .7-2.2 0 2.4zM536.8 264.5l0-1.4 0 1.4zM540.2 265.2l0-1.2 0 1.2zM532.8 267.2l0-1.8 0 1.8zM541.2 267.4l-.4 .3-.2-.5 .2-1.6 .4 1.8zM523.2 267.5l0-.9 0 .9zM532.2 269l-.1-1.2 .7-.5 .2 .5-.8 1.2zM540.8 273.7l-.9-.9-.5-2 .4-.7 .5 .1 .5 1.9 1-1.7 .6 1.4-.2 1.4-.4-1.3-1 1.8zM535.2 272.5l-.2-.7 .8-1.3 0 1.3-.6 .7zM528.2 272l0-.9 0 .9zM525.8 272.4l0-.9 0 .9zM538.2 273.3l0-.9 0 .9zM522.8 274.4l0-1.3 0 1.3zM524.2 274.3l0-1.1 .5 .6-.5 .5zM526.2 274.2l0-.5 0 .5zM545.2 275.2l-.9-.4 .9-1.4 0 1.8zM527.2 277.1l-1.1-2.3 .7-.7 .8 1.7-.4 1.3zM531.8 276.7l-.8-1.5 .2-1.3 .6 1.3 0 1.5zM539.8 274.7l0-.8 0 .8zM523.8 275.6l0-.6 0 .6zM525.8 277l-.9-1.2 .3-.9 1 .3-.4 1.8zM534.3 275.2l-.1-.3 .1 .3zM537.8 276.1l0-1 0 1zM539.8 276.5l-.6 0 0-.9 .7 .2-.1 .7zM546.2 279.1l-.5-1.9 .1-1.8 .7 3.4-.3 .3zM534.3 278.2l-.1-.8-.6 .8 .7 0zM524.8 283.6l-.4-2.8 .8-1.9 .3 .9-.6 1 .3 2-.4 .8zM535.3 279.2l-.1-.3 .1 .3zM530.9 280.8l.9-.6-1-.8-.3 .8 .3 .8 .1-.2zM540.9 282.8l.1-1.6 .9-.4-.3-1-.8-.4-.9 .8 .1 1.6-.3 .4 .5-.2 .3 .8 .4 0zM542.3 279.8l-.1-.5 .1 .5zM544.8 280.4l-.8-.6 .2-.3 .7 .3-.1 .6zM546.8 281l-.6-.2 .6-.9 .3 .3-.3 .8zM535.9 281.8l0-1-.7-.4-.3 .8 .9 .9 .1-.3zM543.6 282.2l-.4-.8-.2 .8 .2 .4 .4-.4zM549.8 293.5l-.8-.7-.4-4.6-2-5 .2-1.7 1.5 3.3 1.5 5.6 1.2 1.4-.8-.4-.4 2.1zM536.8 283.8l-.6-1.2 0 1.2 .6 0zM521.2 283.8l0-1 .4 .4-.4 .6zM526.2 283.8l0-.7 0 .7zM534 287.2l-.2-1-.6 .5-.3-.5 .5-1-.2-2-.1 1-.9 1 .6 1.2 1.2 .8zM540.4 284.8l0-1-.6-.7-.2 .7 .8 1zM544.3 289.8l.6-1-1.7-5.8-.8 .8 .6 2-.4 .4 .6 .2 1.1 3.4zM524.2 286.3l0-2.3 0 2.3zM535.3 284.2l-.1 .4 .1-.4zM541.3 284.8l-.1-1 .1 1zM546.2 285.4l0-1.1 0 1.1zM540.8 286.2l0-.3 0 .3zM520.4 293.2l-.3-2.4-.9-1.9 0 3.5 .6 1.3 .6-.5zM523.2 290.7l-.6-.9 .6-.6 .9 .6-.9 .9zM526.8 289.8l0-.8 0 .8zM535.3 289.2l-.5 0 .4 .4 .1-.4zM524.8 290.9l-.6 0-.4-.7 1.4-.7 .3 .7-.7 .7zM553.8 299.2l-1.2-6 .2-3 .7 6 .8 2-.5 1zM545 291.8l-.8-1.5-.3 .5 .3 .8 .8 .2zM523.5 293.2l-.3-.2 0 .5 .3-.3zM544.8 293.8l0 .3 0-.3zM522.6 297.2l.5-2.4-1.3-.6 .3 3 .1 .4 .4-.4zM519.8 294.8l0 .3 0-.3zM549.6 296.2l-.4-1.2-.1 1.2 .5 0zM524.3 297.2l-.1-1-.3 .6 .4 .4zM554.8 297.7l0-1.4 0 1.4zM523.8 299.2l0-1.3-.4 .3 .4 1zM555.2 299.4l0-1 0 1zM553.8 301.1l-.2-1.3 .6-.8 .2 1.2-.6 .9zM521 299.8l-.2 .4 .2-.4zM547.9 300.2l-.1-.7 .1 .7zM521.4 302.2l.5-1-.1-1.4-.6 1.2-.4-.7-.1 .5 .1 1.9 .4 0 .2-.5zM514.8 305.5l0-4.6 0 4.6zM554.2 301.3l0-.4 0 .4zM554.8 302.1l0-.5 0 .5zM518.8 306.2l0-.6-.5 .2 .5 .4zM553.9 306.2l-.4-.4 .3 .9 .1-.5zM558.8 310.4l-.6-1.2 0-1 .7 1.6-.1 .6zM517.9 311.8l.4-.6-.1-2.1-.6 1.7 .2 1.3 .1-.3zM556.6 311.2l-.8-1.4 0 1.2 .8 .2zM563.2 314l0-.8 .6 0-.6 .8zM557.3 313.8l-.1-.4 .1 .4zM564.8 317.2l-.7-.4 0-1-.7-1 .4-.8 1.3 2.2-.3 1zM561.2 315.1l0-.5 0 .5zM517.9 317.8l-.1-2.9-.4 1.3 .1 1.6 .4 0zM560.2 316.4l0-.6 0 .6zM562.8 320.6l-1.2-2.4 .2-.7 1.1 2.3-.1 .8zM516.5 319.8l-.3-1.4-.2 1.4 .5 0zM517.3 320.2l-.1-1.8 .1 1.8zM564.2 325.1l-.6-.3-.4-1 .6-1-.6 0-.3-.6-.1-1 .4-.5 1.7 2.1-.1 .7-.8 .3 1 .4-.8 .9zM517.3 322.2l-.1-.9 .1 .9zM514.2 325.7l0-2.7 0 2.7zM516.8 324.8l0-1.2-.3 1.2 .3 0zM515.9 326.8l-.1-.6 0 1 .1-.4zM570.8 328.9l0-.6 0 .6zM567.4 330.2l-.2-.7-.4-.1 .4 1.3 .2-.5zM568.3 333.2l-.5-2.3-.5 .3 1 2zM514.8 336.2l0-.6 0 .6zM514.8 340.2l0-2.6 0 3 0-.4zM573.6 341.2l.4-.4-1.8-1.9-.4 .1 .7 1.8 .7 .9 .4-.5zM573.8 342.8l0-.4 0 .4zM583.8 345.1l-.6-.5 .6 .5zM579.8 347.2l.2-.4-.8-.2 0 .6 .6 0zM588.2 347.9l0-.3 0 .3zM588.8 348.4l0-.4 0 .4zM580.2 348.8l-.7 0 .7 0zM581.9 352.8l-.6-2-1.1-1.2-.6 .6 1.6 2.3 .7 .3zM585.2 352.1l-.7-.3 .7-.2 0 .5zM587.8 355l-.7-.2-1.8-2.6 .9 .1 1.7 1.9-.1 .8zM582.8 355.2l-1-1.4 .4 1.7 .6 .2 0-.5zM587.2 356.5l0-.3 0 .3zM585.2 358.9l0-.4 .4 .3-.4 .1zM586.8 358.9l0-.4 0 .4zM586.2 359.7l-.4-.5 .4-.3 .4 .3-.4 .5zM580.8 359.8l0 .4 0-.4zM585.8 359.9l0-.5 0 .5zM586.8 360.7l-.5-.5 .5-.5 .3 .5-.3 .5zM590.5 369.8l-2.3-3.2 2 3.6 .3-.4zM597.8 369.5l-.1-.7-1.6-1.6 .1-.8 1.7 1.8-.1 1.3zM604.2 379.1l-5.3-6.9-.9-2 .2-.7 6.2 8.3 .3 .4-.5 .9zM596.8 370.9l-.3-.1 .3 .1zM603.8 373.5l-1.7-2.3 .1-.5 1.6 2.1 0 .7zM609.2 383.7l-3.7-5.5-.3-1.7 3.4 4.7 .9 2-.3 .5zM610.8 383.4l0-.4 0 .4zM611.2 384.2l0-.7 0 .7zM613.2 387.1l-1.9-2.9 .5-.2 1 1.2 .7 1.6-.3 .3zM609.8 385.4l0-.4 0 .4zM610.2 386.3l0-.7 .4 .6-.4 .1zM613.8 387.6l-.4-.4 .4-.2 0 .6zM614.2 388.1l0-.5 0 .5zM552.5 388.8l-1.4-.6 1.1 .9 .3-.3zM554.9 391.8l.6-1.6-.3-.5-.4 .7-1-1.3 .2 2.1 .9 .6zM611.2 390.6l0-.5 0 .5zM557.9 394.2l-.6-1.4-.8-.6 .3-.4-.6-.9-.1 1.9 1.1 1.5 .6 .3 .1-.4zM551.2 395.7l0-1.3 0 1.3zM550.8 397l0-1 0 1zM550.2 398.4l0-1.2 0 1.2zM618.7 397.8l-.5-.6 0 .6 .5 0zM619.9 398.2l-1.1-.4 1.1 .4zM549.8 399.7l0-1.2 0 1.2zM549.2 401l0-1.4 .5 .2-.5 1.2zM534.4 423.2l2.2-2.4 3.8-7 3.2-8-.1-1 1.6-4.6-.3-.2-4.8 11.8-5.9 11.4 .3 0zM549.8 402.9l0-.7 .3 .6-.3 .1zM549.2 403.6l0-.5 0 .5zM562.2 404.6l0-1 0 1zM562.8 405.7l0-1.1 0 1.1zM563.2 406.5l0-.8 0 .8zM641.2 409l-.6-.2 .6-.2 .4 .2-.4 .2zM649.2 413.4l-3.2-1.2-4.6-3 .8-.2 8 3.8-1 .6zM637.3 409.8l-.3 0 .3 0zM547.8 412.6l0-.5 0 .5zM545.8 416.5l-.5-.3 1.9-3.2 .1 .8-1.5 2.7zM650.2 413.8l-.5 0 .5-1 1.5 .4-1.5 .6zM662.8 417.2l-11.4-3.4 .4-.5 1 .2 10.2 3.3-.2 .4zM544.8 418.2l-.3-.4 .7-1.5 .3 .5-.7 1.4zM664.2 417.4l-1.4-.2 1.8 0-.4 .2zM570.8 418l0-.4 0 .4zM665.8 417.9l-1.1-.1 1.5 0-.4 .1zM544.2 418.9l0-.9 .5 .2-.5 .7zM571.2 418.6l0-.5 0 .5zM667.8 418.3l-1.2-.1 1.2 .1zM574.8 421.7l-3.4-2.9 .4-.2 3.1 2.6-.1 .5zM669.2 418.8l-.6 0 .6 0zM543.8 419.5l0-.6 0 .6zM543.2 420l0-.4 0 .4zM537.3 421.2l.5-.6-.5 .6zM575.2 422l-.4-.2 .4-.2 0 .4zM576.2 422.4l-.5-.2 .5 .2zM578.2 424.4l-.5-.2 .5 .2zM579.2 424.9l-.4-.3 .9 .2-.5 .1zM538.8 425.9l0-.4 0 .4zM538.2 426.3l-.4 .4-.1-.5 .5-.2 0 .3zM537.2 427l-.4-.2 .9 0-.5 .2z"/>
<path fill-opacity="0.081" fill-rule="evenodd" d="M678.8 430.1l-49 0-26.6-.6-9.4-.6-7-1.3-4.5-1.8-.1-.6-4.5-3-6.6-7-5.5-7.4-2.8-5-8.8-7-4.8-4.5-2 4.8-1-.8-.5 .9-5.9 15.6-4 8-1 1.6-.7-.2 .2 1-.5-.1-.7 .7 .3 .4-1 1.6 1.4-.2 2-2 .4 .3 1-1.1 .6 0 .2 .4-1.2 1.6-4.9 4.4-1.7 .8-9.4 1.1-6.6 .1-.4-.4 .4-92.6 0-.5 .6 6.7 .3-5.2 .7-1-.6 .5-.1-1.5 .5-2 .8-1-.2-1.2-.1 1.2-.3 .4-.2-.4-.2-2.4 .6-1-.4-1 1.4-3 .8-6.8 .4 .9-.1-5.1 .1-.4 .4 .4 .2 1.1 .2-3.1-.8-.6 .6-1-.3-3.4 .4-2-2.1-26-.9-23.6 0-4 .3-.3 .8 .3 1.1 25.6 1 9-.2 3.4 1.3 8.3 .6-2.2 .3 .9-.7 2.6-.2 2.4 .6 1.4 .4 .1 .6-.9 .3-2 0-2-.7-1-.1-2 .6 0 .2 2 .7 .2 1 1.8 .8-2.6-.2-2 1.4-.1-.5 .7 .5 2.2 .7-.8-.2-3-1.1-.2-.1-.8 .7-1.2 1 1.2 .3-.4-.6-1 1-2 0-1.6 .5-.4-.4-1.6 .7-1.4-.5-3.5 .6-.1 .8 2.3 .7-2.3 .3-.3 .6 1.6 .3-1.3 .7-.1 1-1.6 .7 .7 .3 1.3 .4-1 .6 2 .4-.4 .6 .4 1 2 .1-1.3-1.3-3.4 .9-.6 .3-1.6 1 3 1-.7 .3 .3 .2 1-.6 .6 .5 .2-.1 1.8 .7 1.9 .7 .1-.3 1.1 1.6-.3 1.4 .6 .5 4 1.1 3.6 .2-1.6-.6-.4 .8-.8 .6 .2-.4-2 .4-.7 1.2 3.3 1.4 .4 .1 2 1.3 2.5 .4-1.6 .9 1.1 .1 1.4-.4 0-.6-.8-.9 1 .9 1.6 0-1.6 1.6 .9-.4 .5 .8 1.3 1 .1 .4 1.2-.4 .2-.4-.6 0 1.5 .4-.1 .6-1 .4 .5 1.7 3.9-.1 1.3-.6-1-.4 1.7 .7 2 .9 1-1 1 .8 1.9 .6-1.5 .2 1.2 .8 .3 .2-.3-.9-3 .1-1.4 .2 1.4 1.2 2 .8 4-.2 .2-1-2.2-1 1.4 .6 .8 .4-.3 1 2.2 .6-.4 .4 .5 2.6 6.8 1.5 2.4 1.5 1.4 1 0 1.8 3.6 .6-.1 2 5.7 3 4 1-.1 2.1 2.1-.1 .4-.4-.2-1 .7-1-.1-.1 .6 .8 0 .7-.9 .6 .8 .4-.8 .8 .5 .5 1-1.3-.1-.1 .5 .7 .9 .9 .1-.9 1 .4 .3 .6-.5 1.6 1.8 .7 2.4 2.7 4.8 3 4.2 4 3-.7 .6 .1 .4 2.3 3 1.3 1 4.8 8 5 5.6 11.2 10 .4-.4 1.9 1.4 .3 1.4 3.4 3.2 1.4 .6 7.5 5.8 5.5 3 7.6 3.1-2.4-1.7 0-.4 .8 0 10 4.9 11.2 3.5 16.4 2.4 .3 .6 .1 6-.1 1.6-.3 .3zM540.2 271.5l0-.9 0 .9zM541.2 276.5l-.4 0 0-.5 .9-.2-.5 .7zM534.8 279.2l-.6-2.7 .6 0 .8 1.3 0 .4-.8 1zM522.8 277.9l0-.7 0 .7zM543.2 278l0-.5 0 .5zM530.2 280.3l-.4 .3-.8-1.4 1.8-1.2 .4 .8-.7 .4-.3 1.1zM539.8 280l-.3-.2 .7-1.3 .2 .7-.6 .8zM531.2 279.3l0-.5 0 .5zM533.2 279.6l0-.5 0 .5zM542.2 283.1l-.8-.3 0-1 1.3-1.6 .5-1.3 .2 1.3-1.2 2.9zM537.7 281.8l-.8 0 .8 0zM532.9 288.8l.3-1.1 .6 .7 .4-.3 .2-1.9 1.4-1-1-1.9-.2 1.5-.8 .7-.4-2.7-1.2-1-.8 .4 .3 1-.6 1 .9 1-.1 1.6 1 2zM538.3 283.2l-.5-.6 .5 .6zM532.2 283.5l0-.4 0 .4zM544.2 285.6l0-1.7 .5 1.3-.5 .4zM522.8 285l0-.7 0 .7zM520.2 296.6l-.2-1.4 .5-3 1.1-3 .2-3 .4-.6 .4 .6-1.2 6.6 .1 2.4-1.3 1.4zM548.2 286l0-.4 0 .4zM528.9 287.2l-.1-.9 0 1.3 .1-.4zM539.3 287.8l-.1-1.2-.4 .2 .5 1zM544.8 286.9l0-.4 0 .4zM545.2 288.8l0-1.6 0 1.6zM535.3 290.8l.5-3.2-1.4 1.6 .9 1.6zM542.9 292.2l0-1-1-2 .2-1-.3-.2-.6 .8 1 1-.3 .4 .3 2 .7 0zM520.2 290.3l0-.6 0 .6zM537.8 291.2l-.6-1.9 0 1.9 .6 0zM528.3 291.8l.5-.6 0-1.4-.8 .4 .3 1.6zM549.2 290.4l0-.5 0 .5zM526.2 290.9l0-.4 0 .4zM539.8 291.8l0-.6 0 .6zM549.8 292.4l0-.4 0 .4zM522.8 293.8l-.7 0 .7-.7 0 .7zM550.2 295.3l-.4-.7 .4 .1 0 .6zM546.3 297.8l0-2-1 0-.1 1.4 1 0-.4 .8 .5-.2zM523.8 296.3l-.4-.1 .4-.4 0 .5zM553.8 298.6l0-1.2 0 1.2zM548.4 300.8l-.6-1.9-1 0 0 .7 1.6 1.2zM525.3 301.8l-.1-1.7-.2 1.1 .3 .6zM550.8 303.2l-.6-.9 0 .8 .6 .5 0-.4zM520.9 304.8l-.1-1 0 1.3 .1-.3zM522.4 307.2l.9-2-.5-1-.7 1 .3 2zM551.3 305.2l-.5-1.1-.1 1.1 .5 .4 .1-.4zM555 311.8l-.6-1.6-.3-4.4-.9-.7-.1 1.1 1 1.6 .1 3.4 .6 .8 .2-.2zM551.8 306.8l0-.4 0 .4zM517.8 309.7l0-1.2 0 1.2zM519.3 310.2l-.1-.5 .1 .5zM556.8 309.8l0-.5 0 .5zM521.8 314.2l.4-1.4-.4-.9 0 2.3zM556.9 315.8l-.1-.4 .1 .4zM516.8 321.1l0-.5 0 .5zM560 321.2l-.8-.7 .6 1.1 .2-.4zM566.2 323.6l-.6-1.4 .2-.6 .8 1.2-.4 .8zM515.8 323.8l0-1.3 .4 .3-.4 1zM566.8 325.3l0-1.5 0 1.5zM567.2 327.1l0-1.4 0 1.4zM564.8 327.7l0-.9 .3 .4-.3 .5zM565.2 328.3l-.4-.5 .4-.4 .8 .4-.8 .5zM568.8 331.6l-.6 0-.7-1.8 .3-2.1 1 3.9zM568.8 333.9l-.5-.1 .5-1.5 .3 .9-.3 .7zM516.3 336.2l-.1-.8 .1 .8zM515.8 339.2l0 .5 0-.5zM580.8 348.8l0-.3 0 .3zM579.9 352.8l-1.7-1.7 1 2.1 .7-.4zM582.9 363.2l-2.7-4.7-.1 .7 1.1 2 1.7 2zM589.8 361.6l-1-2.2 1.1 1.4 .2 .4-.3 .4zM590.8 363.5l-.9-1.7 .3-.4 .9 1.8-.3 .3zM591.2 364.6l0-.8 .4 .4-.4 .4zM591.8 365.4l0-.9 .3 .7-.3 .2zM594.8 375.2l-1.3-3-1.2-.4-.1-.6-.4 .7-.1-1.1-4.1-5 .2 1 4 6.4 1-.7 2 3.1 0-.4zM592.8 367.7l-.6-.6 .9 .1-.3 .5zM593.8 368.3l-.9-.5 .9-.2 0 .7zM592.2 372.7l-.4-.5 .4-.4 0 .9zM599.8 372.5l0-.4 0 .4zM600.8 374.2l-.6-1.6 .9 1.2-.3 .4zM592.8 373.8l-.6-.5 0 .5 .6 0zM601.8 375.4l-1-1.2 .4-.3 .8 1.3-.2 .2zM602.2 376.1l0-.6 0 .6zM558.2 394.8l-.6-2-2.3-3.6-2.1-.5-1-1.1-1.4-.1 0 .7 2.4 2.2 1 1.5 .6 .3 1-1.3-.2 1.9 1.6 1.8 1 .2zM547.7 392.2l-.5-.2 0 .4 .5-.2zM547 393.2l-.3 0 .3 0zM544.3 395.2l-.7 0 .2 .4 .5-.4zM543 397.2l.2-1-.4 1.5 .2-.5zM546.8 397.2l-.7-1 .7-.4 .4 .4-.4 1zM616.3 396.8l-.6-.6 .6 .6zM546.2 398.5l-.3-.3 .3-1 .4 .6-.4 .7zM563.3 398.8l-1.1-1.4-.1 .4 1.2 1zM542.4 398.8l-.2-.6 .2 .6zM541.3 401.8l-.1-.8 .1 .8zM545.2 402.1l0-.6 0 .6zM540.9 403.2l-.1-.3 .1 .3zM544.8 403.4l0-.4 0 .4zM567.4 408.2l-2.1-4-.9-.4 2.3 4 .7 .4zM543.2 408.3l0-.6 0 .6zM542.8 409.4l-.4-.2 .4-.5 0 .7zM639.2 409.9l-.5-.1 .5 .1zM640.2 410.5l-.6-.3 .6 0 0 .3zM572.3 414.2l-2.5-3.6 1.4 2.7 1 1.3 .1-.4zM544.2 412.3l0-.3 0 .3zM543.8 413.3l0-.6 0 .6zM543.2 414l0-.4 0 .4zM542.8 415l0-.5 0 .5zM542.2 415.9l0-.7 0 .7zM573.3 415.8l-.5-.8 .5 .8zM541.8 416.5l0-.3 0 .3zM541.2 417.5l0-.4 0 .4zM540.2 419.2l0-.5 0 .5zM539.8 419.9l0-.3 0 .3zM539.2 420.5l0-.5 0 .5zM538.2 422l-.5-.8 .5 0 .6-.8 .2 .4-.8 1.2zM585.3 425.2l-5.5-3.5-2-.5 2 1.6 5.5 2.4zM533.8 422.9l0-.5 0 .5z"/>
<path fill-opacity="0.110" fill-rule="evenodd" d="M678.8 430.1l-45 0-25.6-.5-13-.7-5.8-1.1-1.5-.6 2.2-.4-6.9-3.3-7.4-5.1-8.1-10.6-2-3.6-2.5-1.3-15.4-12.8-.5 1.1-1.1 .2-2 2.4-2.6 5.4-2.8 9.6 2-4 1-3.3 .5 .3-.2-1 .6-.6-.1-1 1-2 .6-.4-.2-.6 .7-.4 .9-2.6 .6-.3 .3 .9-.7 2-1.2 1.4 .3 .6-1.5 4-4.3 8.4 .1 1.2-1.6 .4 1.2 .3 0 .7-.6 .1-.4-.4 .4 1.3-1 0-.6 1-2.7 4.4 .4 .6-.8 1.4-3.9 5.6 2.9-.6-.5 1-2.1 1.6-3.1 .6-8 .7-4.6 0-.3-.3 .3-80 .6-1.6-.3-2 .7-5 .7-.4 .1-3 1.2-6.6-.1-4.4 .8-2-.1-3.6 .7-1 .3-3.1 .4 2.6 .2-.5-.1-2.4 .6-2.6-1.4-12.4-1.5-22-1-23 .2-4.8 .6 .2 .1 1 1.8 37 2.1 16 .8-2.4 1-1.6-.1-.4 .7-.2 .2 .6-.1 1-1.4 1.6-.7 4 0 1.4 .6 .2-.5 1.8 .5 3.3 1-2.3 .1-2.4-.6-1 .5-1 .4 .4 .2-.4 .2-4 .2-.4 .5 .4 .5 1.7 0-2.3 1.4-5.8 .6 .8-.4-1 .6-2-.3-1 .7-.4 1.3-2.6 .5-2.4 .6 .5 .4-.5-.4-.9-2-.1 1.5-1-.8-4.6 .5 1 1.2 .3 .6 .7-.7 1.6 .1 .8 .6-.4 .6 1-.3 1 1.1 .7 .6-.4 1 .4 .1 2.3 .9 .5 .1-1.5 .8-.4 .8-2.6-.3-3 .8-.4 .2-2.1 .8 1.1 1 4.4-.8 1.1 .7 .5 .9-2.8 .9 .8-.2 1 .3 .7 .4-.2 .2 .5-.4 .4 .8 3.9 1.4 1.8 1-1.2 .7 2.5 .9 1.5 .4-.3 .6 1.9 .4 0 .7 .9 .3 1.8 .6-.9 1-.3 .7 3.4 1.1 2-.4 .6 .5 .4 0 2 1.1 2.6 .1-1-.5-.6-.8-3.4 .6-1-1.1-3-.3-2.6 .6 0 .9 3.6 .6 .4-.3 2.6 1.2 .4-.6 1.6 1.6 4 1.6 2 3.3 6.4 1.5 1.1 4 8.5 1.6 1.8 .4-1.1 1.6 3.1 .4-.5 2.1 5.7 1.2 1-.3 1.2 1.1 .8-.1 2 .7 0 3.3 7 2.8 2.4 1.2 2.7 .6 .1 .4-.7 .4 .5 1.2 2 .3 2 1 1.4 2.7 1.1 1 1 .4 1.5-2-1.9-.5 .9 6.1 9.1 3.4 3.8 .4-.5-.8-2.6 3.4 5.1 7.6 7.5 .3 1-.9 .1-2-1.6-.4 .1 4.9 5 1.5 .4 6 4.6 1.6 .6 4.4 4.2 1.6 .2 5.4 4.1 12.6 6.5 6.4 2.5 1.6-.3 .3 .6 1.1 0 .5 .6 4.6 1.4 22.5 3.6 .3 .4 0 6-.3 1.9zM533.2 281.3l-.4-.1-.4-1 .8 .1 0 1zM538.2 282.5l0-.8 0 .8zM528.2 282.8l0-1 0 1zM533.8 283.3l0-.9 0 .9zM535.8 284.3l-.8-1.1 .2-.6 .6 .6 0 1.1zM530.8 284.2l-.4-.4 .4-.7 0 1.1zM539.2 285.8l-.6-1 .2-1.7 .4 2.7zM537.4 286.2l-.2-.5 .2 .5zM522.2 286.8l0-.6 0 .6zM535.2 287.8l-.4 0 .4-1.7 .5 .7-.5 1zM541.2 287.8l-.3 0 .3 0zM532.2 289.7l0-1.6 .4 1.1-.4 .5zM537.9 291.8l.3-.6-1-2.2-.3 .2 .1 2 .8 .9 .1-.3zM539.4 292.8l1.3-1-.5-1.7-.5 .1-.3 2.6zM521.2 291.8l0-1.1 0 1.1zM543.2 291.4l0-.9 0 .9zM532.5 291.8l-.3-.7-.2 .7 .2 .3 .3-.3zM529.9 291.8l-.1-.3 .1 .3zM531.3 291.8l-.1-.4 .1 .4zM543.8 294.4l-.5-.6 .5-1.6 0 2.2zM529.5 292.8l-.3-.4-.2 .4 .2 .3 .3-.3zM549.2 301.1l-1.6-3.9-.8-.7 .3-1.3-1.5-1.4-.1-.6 .7-.9 1.6 1.6-.1 1.9 1.5 1.4-.8 .6 1.1 2.4-.3 .9zM521.2 294.4l0-.7 0 .7zM531.4 293.8l-.4 0 .4 0zM535.8 293.8l-.6-.5-.2 .5 .2 .3 .6-.3zM528.4 300.8l.8-2.1 .1-1.9 1.3-1.6 .1-1-.5-.3-.7 .3 0 2-.9 3.6-.6 .4 .4 .6zM528.3 295.2l-.1-.9 .1 .9zM540.9 295.2l-.1-.3-.4 .3 .5 0zM533.4 296.8l-.2-.8 0 1.2 .2-.4zM541.3 296.8l-.1-.8 .1 .8zM534.8 297.8l0-1.4 0 1.4zM525.2 298.4l0-1.3 0 1.3zM524.2 301.4l-.4-.6 1-2.2 .5 .6-1.1 2.2zM554.2 305.3l0-.9 0 .9zM549.8 307.2l-.6-1.5 0 1.2 .6 .6 0-.3zM525.8 306.8l0-.8 0 .8zM554.8 307.4l0-1.2 0 1.2zM522.2 309.1l0-.6 .5 .3-.5 .3zM523.8 313.8l0-1.1 0 1.1zM520.3 317.8l-.1 .2 .1-.2zM520.3 320.2l-.1-1.2 .1 1.2zM519.4 320.2l-.2-.4 0 .9 .2-.5zM518.8 324.8l0-2.4 0 2.4zM566.8 332.3l0-.5 0 .5zM569.1 339.8l-.9-1.5 0 .9 .6 .8 .3-.2zM575.8 345.4l-.7-.6 .1-.6 .6 .6 0 .6zM576.8 347.8l-.6 .3 0-.4 .6 .1zM577.8 352l-.6-1 .6 .2 0 .8zM578.2 353.1l0-.6 0 .6zM581.2 356l-.4-.2 .4-.6 0 .8zM581.8 357.6l-.5-.8 .5-.3 0 1.1zM583.6 363.2l-3.8-5.6-.4 .2 2.4 4.7 1.4 1.2 .4-.5zM584.2 361l0-.4 0 .4zM584.8 366.2l-.4-1-.6-.2 1 1.2zM590.2 368.3l0-.4 0 .4zM603.7 387.2l-3.1-2.4 2.6 2.7 .5-.3zM560.9 396.8l-2.7-4.9-1-.1-1.7-2.6-3.3-1.9-2-.5 .6 1.9 1.4 1.6 1 .4 1 1.6 1 .3 1.7 2.2 3.3 2.1 .7-.1zM546.3 390.2l.5-1.5-1.1 1.5 .6 0zM608.2 389.8l0-.5 .4 .5-.4 0zM608.8 390.4l0-.5 .3 .3-.3 .2zM609.2 390.8l0-.3 0 .3zM558 391.2l-.6 0 .4 .5 .2-.5zM546.8 392.6l-.9-.4 .9-.2 0 .6zM560.3 392.8l-.6 0 .6 0zM563.4 399.2l.1-.4-1.9-3-.1 1.4 1.9 2zM611.3 398.8l-.6-.6 .6 .6zM619.3 404.2l-1.5-1.8-3-1.8 4.5 3.6zM563.8 404l0-.4 0 .4zM564.2 404.9l0-.4 0 .4zM564.8 405.9l0-.7 0 .7zM568.8 407.8l-1-2-.9-.6 1.9 2.6zM565.2 406.5l0-.4 0 .4zM637.3 412.8l-6.3-3 6.3 3zM569.2 412.1l-.5-.9 .1-.7 .9 1.3-.5 .3zM570.8 414.2l-1.3-2 .3-.4 1.3 2-.3 .4zM571.8 415.4l-1-1.2 .4-.2 .6 1.4zM648.8 415.4l-.8-.2 .8 .2z"/>
<path fill-opacity="0.123" fill-rule="evenodd" d="M678.8 430l-51.6-.1-24-.6-9.3-1.1 0-.4-1-.6-5.1-1.7-4.6-2.2-5.4-4-5-5.1-4.7-8.4-13.9-10.4-3-3.2-3.9-3-.5-.9-.9 .5-.1 .5-.6-.1-1.2 2.6 .5 1-5.8 13-.7 4-2.4 6-4.8 9-2.3 2.4 1.8 .6-1.4 1-2.7 .6-7.4 .6-4.8-.2 .2-76 1-7.6 .5-.4-.1-3.6 .8-1-.1-3 1.3-8.4 .2-.4 .5 .4-.5-3.6 .4-1.8 .6 2.3 .4-3.6 1-.2 .6 .4 0-.5-.6-6-.4 0 .1-4.6-1.3-10.4-1.5-22-.9-27.7 .5 .1 .1 1 1.8 37 1.6 15.6 .6 1.7 .4-.2 .1 .5-.4 2 .9 6.6 1.2-2.2 .8-4.8 .3 1.4-.6 1.4 .3 2.2 .4-2.5 .6 .7-.3-3.4-.7-1 .4-1.1 .6-.1 .4 .6 .9-.8-.3-1.7-.6 1.7-.2-2 .8-1.9 .4 .3 .3-.4 .3-2.5 .4-.7 .6 1.7 .9-.5 1-4 1.5-2.3 .6 .6 1-3.3 .4-.5 .5 1.9 1.5 1.6 1.6 .1 0-1.7 .4-.8 .6 1.8 .3-1 .7 .1 .7 1.5 0 1 1.3 .3 .4 1 .5-.9-.9-1.8-1.5-.2 .5-1 1.4 .8 2 2.3 1 0 1 2.9 .6 0 .7 2-.7 0-.1 1 .7 2 .8 .1 .6-1 1.3 .5-.5 .4 .5 3 3.7 6 1-.2 .4 .4 2 2.6 4 7.8 1.6 1.6 1.5 2.8 1.8 4 1.8 2 .2 1-.6 1 1.3 3 2 2.7-.3-2.1-1.6-3 .3-.8 .8 .2 .2 1.4 .6-.9 .2 1.1-.6 .4 .4 1 .4-1.1 0 1.7 2.3 4-.1 2 1.8 1.4 .6 1-.5 .6 1 .4 .9 2.6 3.2 3.4 .3 .6-.5 .3-1-.6-.5 .3 3.7 6.4 1.9 2 .2 1 1.7 2.5 2.6 2.3 .2-.2-1.2-2.6 .4-.2 .6 .6 1.2 2.2-.3 .4 .5-.1 4.6 6.8 .7 .3-.3 .8 3.1 4.2 1.5 1.8 .5-.2 .3 .4-.4 1 .6 .8 .4-.2-.9-1 .5-.5 .7 1.5-.3 1 2 1.9 .6-.3 0 1 .4-.5 1.6 .7 4.4 3.9 14 10.3 11.5 6.4-.5 .5-8-4.2-.4 .2 1 .8 11.9 6.7 19.7 4.6 20.4 3 .2 6.4-.2 1.8zM537.2 284.5l0-.8 0 .8zM537.8 285.9l0-.8 .4 .7-.4 .1zM538.2 286.3l0-.3 0 .3zM537.8 290l-1.2-2.8 .6-.3 .6 1 .4-.1 0-1-.4 3.2zM531.8 290.9l-.6-.2 0-.7 .6 .2 0 .7zM536.2 291.6l0-1.7 .4 1.3-.4 .4zM538.2 290.5l0-.5 0 .5zM529.2 291.5l0-.9 0 .9zM535.8 292.2l0-.5 0 .5zM538.8 292.6l-.5-.8 .5-.5 .3 .5-.3 .8zM530.8 293l-.8-.2 .2-.7 .8 .7-.2 .2zM531.8 292.8l-.6-.6 .6-.1 0 .7zM535.2 292.8l0-.4 0 .4zM528.2 299.4l-.8-.2 1.2-4 .2-2.3 .2 3.3-.8 3.2zM527.2 295.8l0-.6 0 .6zM533.9 299.2l0-.4 1.3-1-.3-1.6-1.1-1.1-.7 .7-.5 2.4 .2 1.5 .4-.6 .7 .1zM538.8 295.8l-.6-1-.4 1 1 0zM527.2 296.9l0-.3 0 .3zM533.8 297.6l0-1 .3 .6-.3 .4zM538.8 297.2l-.5 0 .5 .5 0-.5zM541.9 299.2l-.1-1.1-.3 1.1 .4 0zM539.3 298.8l-.5-.1 0 .3 .5-.2zM530.8 299.8l0-.6 0 .6zM525.8 302.5l0-.8 0 .8zM528.9 302.8l-.1-.7-.4 .7 .4 .4 .1-.4zM546.8 302.6l0-.8 0 .8zM549.2 302.8l-.3 0 .3 0zM547.2 303.4l0-.4 .5 .2-.5 .2zM551.8 304.5l-.4-1.3 .4-.1 0 1.4zM527.3 304.8l-.1-1.3 .1 1.3zM550.8 309.1l-1-.9 .2-1.4-1.1-2 .9-1.3 1.3 3.7 .1 1.6-.4 .3zM524.2 306.5l-.4-.2 0-.9 .4-.1 0 1.2zM552.2 306l0-.5 0 .5zM525.4 308.8l-.2-.8 .2 .8zM552.8 310.6l0-1.9 0 1.9zM551.2 310.1l0-1.2 0 1.2zM553.2 311.4l0-.7 0 .7zM519.8 322.3l-.4-1.1 .4-2.5 0 3.6zM518.8 321.7l-.4-.5 .4-2.2 .4 2.2-.4 .5zM523.4 320.8l-.2-1 .2 1zM519.9 327.2l.3-2.4-.4-1.3-.4 2.3 .5 1.4zM520.9 325.2l-.1-1-.4 .6 .4 .8 .1-.4zM520.8 327.2l0-1.1-.3 1.1 .3 0zM518.9 328.2l-.1-.3-.3 .3 .4 0zM519.4 331.8l-.2-1.8 0 2.1 .2-.3zM518.5 332.8l-.3-2.1 0 2.4 .3-.3zM567.8 334.6l0-.9 0 .9zM568.2 335.5l0-.8 0 .8zM518.8 336.2l0-.7 0 .7zM567.2 336.2l0-.6 0 .6zM565.9 337.2l-.1-.4 0 .7 .1-.3zM567.8 337.5l0-.5 0 .5zM566.4 338.2l-.2 .4 .2-.4zM566.8 339.8l0-.6 0 .6zM570.9 344.2l-.1-.6 .1 .6zM577.5 354.8l-.7-.6 .4 .9 .3-.3zM580.8 358.6l-1.3-1.8 .3-1 1.3 2.4-.3 .4zM581.8 360l-.9-1.2 .3-.4 .9 1.4-.3 .2zM582.2 360.5l0-.6 0 .6zM585.2 365.5l-1.3-1.3 .1-1-1.4-2 .2-.5 2 2.5 1.5 1-1.1 1.3zM585.8 365.9l0-.4 .4 .3-.4 .1zM586.8 367.2l-.9-.4 .9-.7 0 1.1zM594.8 377.9l0-.6 0 .6zM595.2 378.5l0-.5 0 .5zM595.8 379l0-.3 0 .3zM600.2 383l0-.4 0 .4zM600.8 383.7l0-.6 0 .6zM601.2 384.1l-.4-.3 .4-.2 0 .5zM604.2 387l-2.9-2.8 .5-.2 1 .7 1.9 2.1-.5 .2zM544.4 385.8l-.4 0 .2 .3 .2-.3zM563.9 399.8l-2.9-7-1.8-1.4-.4 .4-1-1-.6 .1 0-.7-1-.2-3-2.5-4-1.5 1.1 2.8 1.5 1.6 5.2 4.8 1.8 1.2 .4-.2 2 2.1 .6-.3 1.4 1.7 .6 .4 .1-.3zM543.9 387.2l-.1-.5-.3 .5 .4 0zM542.5 387.8l-.3-.4 0 .8 .3-.4zM545.4 388.2l-.2 .3 .2-.3zM540.4 393.2l1.5-2.4-.3-.6 .5-1-.3-.3-1.6 4.7 .2-.4zM547.2 390l0-.7 0 .7zM559.2 393.1l-.3-.3 .3-.6 0 .9zM622.4 407.2l-.1-1 .5-.4-1-1.2-6.6-4.4-7-4 5.6 5.1 8.6 5.9zM612.3 396.8l-.6-.6 .6 .6zM561.2 398.1l0-.4 0 .4zM541.2 404.8l0-.7 .4 .1-.4 .6zM540.8 406.2l0-1.1 .3 .7-.3 .4zM621.8 405.6l-.6-.4 .6-.1 0 .5zM622.2 406.2l-.4-.4 .4-.3 .4 .3-.4 .4zM539.8 408.4l-.1-1.2 .5-1.1 .5 .1-.9 2.2zM624.2 408.8l-1-.8-.2 .2 1.2 .6zM625 409.2l-.5 0 .5 0zM625.9 409.8l-.5 0 .5 0zM626.9 410.2l-.4 0 .4 0zM635.2 411.2l-.9-.4 .5-.5 .8 .5-.4 .4zM638.8 412.8l-3.5-1.6 .5-.3 .7 .3 2.6 1.6-.3 0zM630.3 411.8l-.7 0 .7 0zM639.8 413.3l-.6-.2 .6 .2zM576.8 415.2l-1.6-1.6 1.6 1.6z"/>
<path fill-opacity="0.141" fill-rule="evenodd" d="M678.8 430l-42.6 0-28-.6-9.4-.7-7-2-7.2-2.9-5.4-3.6-4.5-5-1.3-2.4 .4-.4 3.3 3.8 4.2 3-7.5-7.9-1-.7-.6 .6-.4-.2-3.4-5.2-14.2-10.7-4.4-4.6-2.1-1.3-.5-1.1-1.2-.3-.2-1.1-1 1-.6-.9 .3-1-1.3-1-1.6 3.4-2.5 7 .1 .4 .8-.8 4.2-7.5 .6 1.5-1.9 4-.1 2.1-.6 .3 0 1.1-3.9 9.5-.5-1.2 0 1.6-.7 .6 0 1-.9 1.2-.4-.5-1.1 1.7 .6 0 .5 1 .4 0 .6-1 .6 .6-.6 .4-2.1 5.6-7 11 .9 .4-.5 .6-2.9 .6-6.4 .6-4.8-.2 0-60.6 .7-18.4 .5 .9 .1-3.9 .9-2.5 .6 1 .2-1.1-.2-.7-.7-.3 .4-.4-.3-1 .5-2.6 .8 0-.4 .6 .1 1.1 1-.8 .1-2.9-.8-1 .7-1.4-.2-1 .2-.5 .6 3.1 .6-3.2-.9-.4 .3-.6 .4 .5 .9-2.5 1.3-6.4-2.6-23-1.6-22-1-27.7 .6 3.1 .7 19 1.5 22.6 2.3 18.4 .9 3.6 .6-3.3 .4 .7 1-2.8 .6 .2 .3-.8 .7-4.6 .4 0 0 1.4 0-2.7 1.6-2.2 .4 .9 2-8.4 .7 1-1.1 1 .4 1.5 1.1-.9-.3-2 1-1 .2-1.4 .5 .4-.5 2.4 .2 2.6-.7 0 .5 .7 .9-.7 .1-.8 .6 .1 .4 1.8 .5-1.1-.4-1 .2-1 1.3 .4-.7-3-1.5-2 .6-.3 3 4.5 .4-.6-1.4-2.1 1 .1 .6 1 .7 1.4-.8 1.6 .5-.4 1.3 .4 .3-1-.5-1.6 .5-.6 .8 1.2-.2 1.4 1.4 .8 1.2-.8-.2-1.4-1-.6 .4-1.3 1.6 1.4 .4-.2 1.6 6.1-.8 1 1.2 1.1 1.4-.5 .2-.9 .4 .2 .6 3.1 2 3.6 2 2.8 .7 .2 1.3 2.3 1-.3 1.1 3 1.9 2.5 2 4.3 .4 .7 .6-.2 1 1.7 .6 2-.9 0 .6 .4 1 3 .7 .5 .7-.5-.3 1.7-.4-.9 .4 2.8 1.6 3.3 .4-1.2 1.9 2.9-.9 .4-1-1.8 .6 2.2 .4 .4 .6-.6 .4 .4 .6 1.9 1 .5 .3 1 .9 0 3.1 4 .8 2 1 1-.8 .6 1.7 3.4 5.1 7 .9 2 3.2 3.6 1.2 2.5 2.6 2.2 0-.7 .4-.3 8 12.3 8.5 11 14.1 11.1 3.4 2.2 5.6 2.2 1.4 .3 .2-.4-2.5-1.4 .3-.5 6 3.1 5.6 1.9 16.4 3.5 20.6 3.1 0 8.1zM532.8 294.5l.3-.3-.3 .3zM533.2 294.8l0-.4 0 .4zM532.8 295.7l-.5-.5 .5-.3 0 .8zM528.2 298.7l0-1.6 0 1.6zM541.2 298.4l-.3-.2 .3-.3 0 .5zM542.6 302.8l.2-1 1 .8 .2-.4 .5-1-.3-1.1-.4 1-.6-.7-1 0-.4 1.3-1.2-.9 1.1 1 .1 1 .8 0zM530.8 302.8l-.6-2-.5 .4 1.1 2 0-.4zM528.2 303.9l-.4 0 0-1.3 .7 1.2-.3 .1zM534.9 302.8l-.1-.5-.2 .5 .3 0zM526.8 304.6l-.6-.8 .6-.8 0 1.6zM531.9 304.2l-.1-1-.7 1 .8 0zM547.9 306.2l-.1-.8 0 1.3 .1-.5zM528 306.8l.2-.9-.4 1.1 .2-.2zM550.2 306.6l0-.6 0 .6zM547 307.2l-.3 0 .3 0zM548.8 310.2l-.4-2.4-.6-.9-.7 2.3 1.7 1.4 0-.4zM550.8 308.3l-.6-.5 .6-.6 0 1.1zM524.8 309.2l0-1.9 0 1.9zM523.8 310.9l0-.3 0 .3zM523.2 313.2l0-.5 0 .5zM523.2 313.9l0-.6 0 .6zM523.3 321.2l.7-2-.7-.4 .5-.6-.6-.7-.5 3.7 .6 0zM518.8 331l0-1.5 0 1.5zM517.2 336.1l0-2.2 .5 .3-.5 1.9zM565.8 336.2l0-.9 0 .9zM517.2 337l0-.5 0 .5zM566.8 338.7l-.6-2 .6 .5 0 1.5zM516.8 338.2l0-.8 .4 .4-.4 .4zM517.8 340.2l-.5-.4 .5-.7 0 1.1zM571.8 343.5l-.7-.3-.6-1.4 .3-1 1 2.7zM516.8 348.8l0-.4 0 .4zM516.3 352.8l-.1-.9 .1 .9zM584.8 364.5l0-.6 .4 .3-.4 .3zM586.3 370.8l-.5-.8 .5 .8zM588.8 371.3l0-.6 0 .6zM589.2 372l0-.6 .4 .4-.4 .2zM590.8 373.7l-1.1-.9 .1-.8 1 .8 0 .9zM592.8 378.8l-.6-1.2-.8-.4 .4-.5-1 .2 0-.7-.9-1-1.5-1 1.6 2.6 .8 .6 .4-.1 1.6 1.9 0-.4zM595.5 383.2l-2.3-2.3 1.6 2.4 .7-.1zM564.4 400.2l-3.2-7.6-5-3-3-2.4-5-1.8 2 4 1.9 1.8 7.1 6 3 1.7 1.6 1.5 .6-.2zM609.2 394.6l-2.8-2.4 .8 0 1.9 1.6 .1 .8zM606.8 394.4l0-.4 0 .4zM541.5 394.8l-.3-.4-.1 .4 .4 0zM612.2 398.3l-4.5-3.1-.6-.4 .1-.4 3.6 1.8 1.9 1.6-.5 .5zM536.8 404.2l4.2-8.4-.2-.5-3.1 4.9-1.5 4 .6 .5 0-.5zM539 396.2l-.2-.3 0 .6 .2-.3zM614.2 399.2l-1.4-1 1.9 .6-.5 .4zM623.2 405.1l-8.9-5.9 .5-.4 1 .4 5 3 2.9 2.6-.5 .3zM539.4 401.2l-.2 .4 .2-.4zM538.5 403.8l.3-1.8-.6 2.1 .3-.3zM623.8 405.5l0-.6 .3 .3-.3 .3zM626.2 409.1l-.4-.4 .4-.1 0 .5zM535.8 410.1l-.5-.9 .5-.4 .3 .4-.3 .9zM537.2 409.5l0-.4 0 .4zM627.2 409.3l-.4 .3-.3-.4 .7 .1zM629.2 410.3l.4-.1-.4 .1zM531.8 418.8l4.1-6.6-.1-.9-1-.5-3 8zM572.8 411.6l-.5-.4 .5-.3 0 .7zM572.2 412.9l-.4-1.5 .4 .1 .3 .7 .2 .6-.5 .1zM573.2 412.6l-.3-.4 .3-.6 0 1zM572.8 413.5l0-.7 0 .7zM573.2 414.1l0-.6 .5 .3-.5 .3z"/>
<path fill-opacity="0.164" fill-rule="evenodd" d="M516.2 254l0-1.8 0 1.8zM516.8 266.6l0-9.9 0 9.9zM517.2 276.6l0-7.2 0 7.2zM517.8 284.9l0-6.7 .3 6-.3 .7zM518.2 287l0-.5 0 .5zM518.2 292.2l0-4.7 .4 4.3-.4 .4zM678.8 429.9l-41.6 0-28.4-.6-9-.8-8-2.1-6.7-2.6-3.9-2.6-1.6-1.4 .2-.5 3.4 2.2 1.2 .3-8.2-8.2-4.5-5.8-1.3-.6-.2 .9-3.4-4-10-7.3-.4-.6 .4-.3 7.4 5.1 1.6-.8 .3-.4-.7-1.6-4.2-6-8-5.2-5-2.2-.5 1.4 2.1 2.6 .2 1-.8 .1-1.4-1.1-.6-1-1-.4-.4-1.1-1-.5-.6-.9-1.4-.7-3.7 10-.9 3 .3 .6-2.5 6.4-.4 2.6-1.7 5.4-3.1 8.3 3.4-5 .2 .7-2.2 4-5.3 7.6 .3 1-7.4 1.1-5.6 .1-.1-58.8 .5-12 .4-2.4 1.5-3.6 .1-3 .6-1.4-.3-1.6 .9-2.4 0-2 1-3.4 .6-.6-.7-.6 1.9-5.4 .2-2 .4 .3 .3-.3 .4-2.6-.1-.8-.6 1.1-.1-.7 .3-5-2.2-18.6-.4-11.3 2.2 22.3 1.8 7.7 1.6-3.7 .4-1.8 .5-.6 .1-.6-.8-.4 .9-4 1.3-1.6 .5 0 .2-1-.9-2 .6-.7 .6 1.2 .4-.5 .6-2.3 1 .9 .4-.8 1 .7 .6-.3 0 .8-1.6 .6-.3 1.4 .3 .4 1-1.7 1-.4 .9-1.3-.3-.6-.7 .2 .1-2.6 .6-.6 1 .6 0 1.4 .4-.8 .6 .6 .4-.6 .6 .5 .3-.5-.7-1.6 .4-.8 4-.3 0 1.3 1.3 .8 2.1 3.3 1-.1 .6-.8 .4 .3 1.8 4.9 1.2 .4 1.6 2.7 0-1.1-.6-1-.4-3 3 4.5 1 2.5 .6 .4-.2 .8 .6-.5 1.3 1.3 1.7 2.6 .5 1.8-.1 .6-.7 0 .1 .4 1.3 .6 .3 2 1 1.8 1-.3 .9 .5-.1 1 1 2.4 1.8 2.4 3.8 10.2 3.2 3.8 2.5 2.2 .1 1 .4 .3 .4-.3 .3 .4-.8 1 1.6 2-.6 1 .5 1 .9 .6-.4-.6 .5-.5 1.7 3.5 4.7 6 .4 1.6 2.5 4.4 2.2 2.6-.6 .4 .1 .6 5 7 4.6 5.1 .6-.1-.8-1.6 .6-.8 7.7 10.8 3.3 3.6 11.4 9.4 5.5 3 5.7 2.2 22 5.4 14.4 2.7 11.6 1.5 0 7.9zM536.8 299.5l-.8-1.3 .2-.5 .6 1.8zM543.8 300l0-.5 .3 .3-.3 .2zM531.2 301.5l-.4-.2 0-.7 .4 .9zM538.5 302.2l-.3-.7 0 .7 .3 0zM529.2 305.1l-.5-.9 .5-1 .5 1-.5 .9zM530.2 304.4l-.4-.2 .4-1.1 0 1.3zM533.8 304.8l0-.8 0 .8zM536.9 305.8l.8-1-.5-.4-1.1 .8 .1 .6 .7 0zM544.8 307.8l-.6-.6 .6 .6zM529.3 310.8l.6-1-.1-1-.8 1 .3 1zM529.4 311.8l-.2-.3 .2 .3zM525.8 314.2l0-.9 0 .9zM524.8 317l0-.4 0 .4zM553.5 316.8l-.3-.5 0 .7 .3-.2zM559.8 326.1l-.5-1.3 .5-.2 .5 .6-.5 .9zM520.8 330.7l0-1.6 .3 .7-.3 .9zM560.9 330.2l-.7-.5 .6 1 .1-.5zM521.4 332.2l-.5 0 .5 0zM561.9 334.2l-.7-1 .7 1zM520.9 334.2l-.1-.3-.4 .3 .4 .4 .1-.4zM567.8 340.8l0-.7 0 .7zM568.2 341.5l0-.5 0 .5zM516.8 342.7l0-1 0 1zM516.2 348.7l-.4-.5 .4-1.8 .5 .8-.5 1.5zM515.8 352.5l0-1.8 0 1.8zM574.8 351l-.5-.2 .5-.2 0 .4zM515.2 355.6l0-.5 .4 .1-.4 .4zM587.8 372.7l-.4-.5 .4 0 0 .5zM589.8 374.5l0-.4 0 .4zM593.2 378l0-.3 0 .3zM593.8 379l0-.7 0 .7zM596.8 383.7l-2.5-2.9-.4-1.6 .3-.2 2.7 3.8-.1 .9zM547.5 384.8l-.7-1.3-.6 1.3 1.3 0zM550.8 390.9l-.6-.2 0-.7 .6 .2 0 .7zM543.2 390.9l0-.4 0 .4zM542.8 391.7l0-.6 0 .6zM552.8 392.9l-.8-.7 .2-.4 .6 .4 0 .7zM556.2 396.1l-2-1.4-.4-1.4 2.4 2.1 .4 .4-.4 .3zM539.2 397.3l0-.3 0 .3zM566.5 400.8l-.3-.4-.1 .4 .4 0zM537.8 403.4l0-.7 0 .7zM537.2 404.5l0-.4 0 .4zM570.8 408.8l0-.6 0 .6zM535.2 414.3l0-.6 0 .6zM534.8 415.4l-.5-.2 .5-.4 0 .6z"/>
<path fill-opacity="0.196" fill-rule="evenodd" d="M517.8 284l0-1.7 0 1.7zM518.2 291.6l0-1.8 0 1.8zM519.2 303.3l0-1.9 0 1.9zM678.8 429.9l-40.6 0-29.2-.7-8.8-.9-8.1-2.1-5.1-2.4 .2-.7-4.4-3.6-4.4-4.3-5.2-6.7-4.4-2.8-5-3.9 2.4-.2 2.6 .7 1.5 1.5-1.1-1.8-1.4-1.2 0-.7-.6 .3-.4-.6-1.9-3-.4-2-.9-1-.8-.7-.6 .2-2.4-2.5-8-4.9-3.6-1.5-1.4-1.3-1.2 2.7-.5 0-.3-1.6-.6 .2-1-.9-1.2 .7-.8 2-.5-.4 .7 1.4-6.3 18.6 .3 .4-3.2 9.7-2.9 7.9-3.2 5-6.9 1-5 .1-.1-60.7 .9-10.4 .2-.8 .6 .4 .8-3.6 2.2-14.2 1.4 .1 0-.7-.4 .4-.4-.6 .4-.7 .5 .1 1.8-9.4-.9-10.3 .6-.4 1 5 .4 .6 1.1-.9 0-3.6 1.1-2 .8-4.6 .6 .8 1-2.2 .4-2.8 .7 1.4-.1 1.4 .4 .5 .6-.6 1 .4 .5-1.7-.5-.4-.6 1.5-.2-1.1 .6-2 .6 .4 1.6-3 1.4-.9 0-1.6 .6 .2 .4-.5 .8 .8-.4 1 .6 .9 1 .1 .4-.4 .5-1.6-1.3-2.4 .4-.5 1 1.9 1-.6 .6 .4 .4-.7 .6 1.7 2.8 2.2 .3 1.6 1.3 1.6 0-3.4 1.5 3.8 2.5 2.9 .6 1.4 .7-.9-.9-2.4 .2-1.1 1.7 3.1 1 3.4 2.4 5 .1 1 .8 .8 .4-.3 .8 .5 1.3 2-.1 .7-.7 .3 .7 .6 .6-.4 1.8 4.8-.1 1.6 1.7 3.5 1 1.1 .6-.6 .4 .6-.4-2-.6-.5-.4 .4-.6-1.1 .6-.6 .4 .4 .6-.5 2.1 6.3 1.6 3 5.1 6.4 1.6 5 1.8 3 1.8 1.4 4.5 5.6-.1 .7-.8-.1 .2 .4 1.9 2 2.7 4.6-.4 .2-1.3-.8-1.3-2.9-.3 .5 1.3 1.4 .3 1.6 4.3 4.2 7 9.8 2.8 5 3.4 3.4 .5 0-.5-1-3.4-4-.4-1.1 1 .1 1.6 .9 4.9 6.7 3.1 2.9 8.8 7.5 3.6 2.4 10.6 4.3 11.4 3 14.6 3 21 3.2 0 7.8zM532.8 303l0-.6 0 .6zM540.4 304.8l-.2-.4 0 .6 .2-.2zM528.8 309l0-3 .6 2.2-.6 .8zM519.8 308.4l0-2.1 0 2.1zM537.9 307.8l-.4 0 .3 .3 .1-.3zM532.9 308.2l-.4 0 .3 .5 .1-.5zM542.3 310.2l-.1-1 .1 1zM520.8 313.9l-.6-.1 0-3.3 .6 3.4zM549 314.2l-1.2-1.6 0 1.2 1 .8 .2-.4zM528.3 315.8l.5-.6 0-1.6-.6 1.2 .1 1zM520.8 317.1l0-2.4 0 2.4zM551 317.8l-.8-3.3 .2 2.7 .4 .9 .2-.3zM527.3 316.8l-.1-.9 .1 .9zM554.8 317.5l-.6 0 0-.6 .6 .1 0 .5zM551.4 318.8l-.2-.4 0 .7 .2-.3zM551.8 320.8l0-.8 0 .8zM556.4 325.2l-.2-.4 .2 .4zM523.8 326.2l0-.3 0 .3zM561.2 330.4l-.4-2.2 .7 1.6-.3 .6zM561.8 331.7l0-1.3 .3 .8-.3 .5zM562.2 333.5l-.4-1.7 .4-.2 .4 .6-.4 1.3zM563.2 335.9l0-.3 0 .3zM519.3 342.2l-.1-.4 .1 .4zM571.8 350.2l-1-1 .4 1.2 .6-.2zM572 351.2l-.2-.4-.2 .4 .4 0zM580.8 363.8l-.6-.7-.9 .1-1.1-1.3 1.4 1.9 .6-.4 .6 .4zM541.4 382.2l-.2-.2 .2 .2zM546.8 387.3l-.5-1.1 .5-.6 .6 .6-.2 1-.4 .1zM539 391.2l1.3-3.4-.1-1.3-1.6 3.7 .2 1.5 .2-.5zM548.2 388.3l-.4-.5 .4-.2 0 .7zM538.4 392.8l.3-.6-.5-.4 0 1.3 .2-.3zM537.8 394.2l.5-.4-.5-.5 0 .9zM566.3 396.2l-.7-1 .6 1.5 .1-.5zM537.5 395.8l-.4 0 .1 .4 .3-.4zM561.2 399.9l0-.4 0 .4zM562.2 400.4l-.6-.2 .6-.1 0 .3zM563.8 401.7l-1.3-.9 .3-.4 1.1 .8-.1 .5zM568.2 402.2l0-.5 0 .5z"/>
<path fill-opacity="0.243" fill-rule="evenodd" d="M534.8 306.5l-.4-.3 .4-1.6 0 1.9zM538.2 305.7l0-.5 0 .5zM678.8 429.8l-39.6 0-28.2-.6-6.8-.4-9.4-2-3.3-1.6 .1-.4-10.8-8.2-7.3-8.4-6.4-4.4-.3-.6 .4-.5 3 1.6 .7-.1-3.2-6.4-1.9-3-4-2.5-2-1.8-12.6-7.5-.4-.2-1 .6-.6-.9-1 .8-3-1.8-2.2 5.3 .4 1-2.2 5-1.1 4.4-2 5-.3 2.9 1.4-4.2 .6 .7 .4-.1 0 .5-1.6 3.2-1.2 5.6-1.4 3 0 1-.8 .4 .6 .6-1.1 .4 .5 .3 0 .8-.8-.1 .5 1-.7 .4 .2 .6-3.1 6.6-2 3-1.4 .4-9.7 .6 0-58.6 .5-8.4 .5-2.2 .6 .2 1.4-8 .5-.6 .1-3 .4 0-.4 4.6 .4 .5 1-2.4 1.3-10.7 1.3-2.4 0-1.6-.6 1.4-.1-1.4 .7-2 0-2.1 .4 1.3 .2-.6-.2-7.5 1 .4 .6 .8 .4-2.6 .6 .5-.4-.6 .4-.4 1 .1 1-3.3 .1-2.4 .9-1.5 .6 1.5-.2 1.2 1.8-1.8 .2-2-1 1.7-.4 0-.6-1.1 2.2-2 .1-1.6 1.3-.9 1.4 1.1 .8-1.2-.2-1.6-1 1.7-.6 .4-.3-.5 0-1.4 1.6-1.6-.2-2.4 .5-.8 .8 .8 .2 2.6 .4-.2 0-2.4 .6-.4 .4 .3 .7 1.1-.2 .4 1.1 .6 .7-.6 .3-1.7 .8 1.3-.1 1.4 1.3-.6 .4 .2 1.6 3 0-2-1.8-4 .8-.2 2.4 4.2 0 1.2 1-.1 1-1 .8 .9 .3 2.4-.6 1 .5-.4 .7 .4 1.9 4.1 1 .9 .6 2-.2 .6 1 0 .6 .6-1.3-4.6 .7-.8 .6 1.8 .6 .4 .3 2 1.9 2.6 1 3 1.6 1.2 1.6 2.1-.4 1.1 .5 1.6 2.3 4.3 1.5 2.1 2.2 1.6 .9 2 .4-.1 2.1 3.1-.3 1 1.1 2.4-.5 1 .6-.3 .6 .5 2.4 5.1 .8 .3-.5-.6 .3-1 .4 .7 .8 1.3-.4 .6 3.1 5.4 .1 .9 2 1.5 1.2 3.2 1.7 2-.1 .4 8.6 12.6 2 2.3 .6-.5-.2 1.2 .6-.5 3.1 4.5 6.9 8 1.7 .4-3.1-5.2 7 7.9 4 3.5 2 .8 6 4.1 10 3.7 20.4 5 26.6 4.1 0 7.7zM536.1 307.8l-.3-.8-.4 .8 .4 .4 .3-.4zM540.2 308.1l0-.8 0 .8zM544.2 309.5l0-.8 0 .8zM539.4 310.8l.8-.5 0-.4-1 .4-.4-1.4-.2 1.3 .8 .6zM544.8 310.4l0-.5 0 .5zM528.2 313.4l0-1.8 0 1.8zM529.8 313.7l0-1 0 1zM527.8 315.4l-.6-.6 .6-.7 0 1.3zM526.8 315.9l0-.9 .4 .2-.4 .7zM551.8 317.2l-.3-1 .7 0-.4 1zM525.8 321.3l0-2.6 0 2.6zM522.2 325.8l-.5-1.6 .5-1 0 2.6zM553.5 323.2l-.3-.3-.1 .3 .4 0zM520.8 339.7l0-.9 0 .9zM564.8 342.8l0-.7 0 .7zM565.9 344.8l-.7-1.4-.2 .4 .8 1.4 .1-.4zM570.2 347.6l-.7-.8 .3-.6 .4 1.4zM518.2 349.2l0-1.9 .4 .9-.4 1zM569.5 349.2l-.7-.7 .7 .7zM571.8 349.5l0-.4 0 .4zM515.3 368.2l-.1-2.1 .1 2.1zM590.2 379.7l0-.6 0 .6zM590.8 380.4l0-.5 0 .5zM535.8 400.4l0-.8 0 .8zM532.6 410.8l.5-1.6-.3-.2-.7 1.2 .1 1 .4-.4zM532.3 411.8l-.5-.2 .5 .2zM581.8 416.2l-1.9-2.4-1.3-1 1.8 2.4 1.4 1z"/>
<path fill-opacity="0.257" fill-rule="evenodd" d="M542.2 307.9l0-.8 0 .8zM537.8 310.3l0-.8 0 .8zM535.8 310.9l0-.5 0 .5zM538.2 311l0-.4 0 .4zM540.8 310.9l0-.3 .4 .2-.4 .1zM678.8 429.8l-65.7-.6-7.3-.4-7.3-1.6-10.7-6.9-5.6-4.5-5-5.6-1.4-.5-4.6-3.9-.6 0 1.6-.8 .2-.8-1.5-3-1.2-1-4.5-6.2-12.4-8.3-5.6-3-2.4-.8-1 .3-3.6-1.4-3 10.1-.4-1.1-.8 1.4-.2 2.2 .4-1 .5 .4-.9 3-1.6 2.4-.5-1.4-.1 1 .6 1-.4 .9-.6-1.1 0 .6 .6 1.5 .4-1 0 1.3-4.5 15.2-2.1 4.6-.4 1.6 .8 .4-.7 2-2.7 4-5.5 1-4.9 0 0-58.6 .6-7 .1 5 .3 .8 2-14.7 .5 .5-.6 5 .7 .5 .5-1.1 1.9-13.9 .6 .9 .1-.4-.6-1 .5-2.4 .4 0 .2-.6-.3-1.6 1.4-4 .4-3.4-.1-5.7 .4 1.5 .6-1.3 1-.6 .4 .5 1-.9-.4-.5 .4-1.5 .6 .4 .6-.5 .2-1 .9-1 .1-2.4 1.2-1.5 .4 .8 0-1.4 .8-.5 .5-1.4 1.7-2.3 .6 1 .8-.7-.4-2 .6-1.9 1.6 2.3 .8 .5 .9-.5 .7-1.8 .4 .8 .6-.4 1 1.6 .8 .4 .2 1.2 .4-.4 1 1.3 .7-1.1-.8-2 1.1-.5 .2 .9 1 1-.5 1.6 .3 .3 .6-.2 .4 .7 .6-1.1 2 1 0 1.3 1.5 3 .1 1 1.8 2.6 .6 .6 .4-.6 .6 .1 0 1.2 1.7 1.5 .3 1 .4-1.1 .7 1.1 1.4 1-.5 .7-.6-.3-.2 .6 1.4 2 .1 1 .7 1 .6-.7 1.4 2.3 .6 3 2.9 5.4 1.5 2 .5-.4-.4-1 .6 0-.1 1 .6 .4-.6 .6 2.9 4.4-.5 .5-.4-.9-1.3-.6-.3-.8-.2 .4 .8 1.4 .4-.4 1 1.2 .6-.7 1 .7 0 .8 .6 .4-.4 1 .6 .6 1 2.4 1.5 1.6 0 1 .9 .4-.2 .6 1 1.4 2.4 2.4 .2 1.6 3.2 4.6 .6-.1 .5 .5-.5 .6 .6-.5 1.7 2.5 1.7 3 1 1 .6 1.6 1.5 1.4 2.3 4 2.7 3.4 4.5 3.9 6.4 7.4 8.6 5.7 7.4 4.1 11.6 4.2 24.4 5.6 21.6 3.1 0 7.6zM540.2 312.2l-.4-.4 .4-.6 0 1zM542.2 313.8l-.9-.6 .5-.8 .6 .4-.2 1zM538.5 316.2l.9-1-.6-1.8-1.2 2.4 .6 .8 .3-.4zM537.4 314.8l-.2-.3 0 .6 .2-.3zM527.2 322.7l0-.6 0 .6zM529.7 323.2l.1-.7-.9 .3 .3 .6 .5-.2zM526.8 324.6l-.6-.4 .6-1.2 .4 .2-.4 1.4zM530.8 324.8l0-1.1 0 1.1zM552.8 324.3l0-.6 0 .6zM525.2 326.3l0-.7 0 .7zM527.8 327.2l.7-1-.3-.9-.8 1.5 .4 .4zM524.9 331.8l.6-2.6-.3-.9-1.1 2.9 .1 .8 .7-.2zM556.4 329.2l-.2-.6 .2 .6zM559.8 336.2l0-.5 0 .5zM563.8 340.1l0-.4 0 .4zM565.2 341.5l0-.3 0 .3zM565.8 342.4l0-.7 0 .7zM571.8 354.6l0-.8 .3 .4-.3 .4zM572.2 355.4l-.4-.2 .4-.7 0 .9zM517.8 355.5l-.3-.3 .3 .3zM575.8 360.1l-.2-.3 .2 .3zM576.2 361.5l0-.4 0 .4zM515.2 363.3l0-.9 0 .9zM585.5 378.2l-1.6-3.4-2.7-2.8 3.5 5.8 .5 .7 .3-.3zM538 384.2l1.2-4-1.5 3 .1 1.4 .2-.4zM537.5 385.8l.3-.7-.6-.2 0 1.3 .3-.4zM537.3 387.2l-.5-.5 0 .7 .5-.2zM536.9 389.2l-.1 .4 .1-.4zM536.8 392.7l-.4-.5 .4-1.4 .4 .4-.4 1.5zM535.2 393.8l-.6 0 .6 0zM534.5 395.8l-.3-.8 0 1.2 .3-.4zM535.2 397.5l0-.5 0 .5zM534.8 399.4l-.4-.6 .4-.5 0 1.1zM532.3 402.2l1.3-.4-.8-.8-.7 .8 .2 .4zM531.8 403.8l.4-.6-.4-.2 0 .8zM570.2 405.4l0-.4 .4 .2-.4 .2zM528.2 422.6l-.4-.4 .4-.3 0 .7z"/>
<path fill-opacity="0.260" fill-rule="evenodd" d="M540.8 314.9l0-.4 0 .4zM678.8 429.8l-63-.6-7.7-.4-5.2-1-11.7-6.2-5.2-3.8-6.2-6.2-.6 .2 0-.6-2.4-1.9-3.4-2.1-.5-.4 .3-.3 2.6 .6 .2-.3-4.4-5.6 .1-.4-2.5-4-.7 0 .3-.6-.6 .5-3.4-3.4-10.1-6.5-1.2-1 1.2-.6-.9-.9-2.6-1.2-.6 .1 0 .6-.8 0-.8-.6 .4-1-2.2-.9-1 .7-.4-.9-2 .1-3-1-1 .3-.6-.7-1 1-1 2.9-1.1 .5 .3 1-.5 .6-2 9-4.6 15.4-.1 1.6 .6 1-.7 .4-1.6 6.6-1.7 4 0 2-1.9 3-1.4 .4-8.3 .6 0-56.2 .6 1.7 2-11.7 0 8.2 .3-1 1.6-12.6 2.6-10-.1-1.4 1.4-4.6 .6 0 .2-.4-.2-1 .6 .3 .3-.9-.6-6 1-.4 .7-2.1 .1 2.5 .5 .6 .3-1.6 .7 0 1.3-4 0-1.4 .4 0 .3 1.2 .8-1.8-.6-1.4 .2-1.1 1.6 1.3 .8-1.8-.2-1.4 1.4-1-.2-1.6 1.1-1.4 .1-2.4 .8 .4 .6 1.7 1-2.1 .6 .7 .4-.8 3 3.3 1-2 1.6 1.9 .3-.3-.8-2 .5-.7 .7 2.7 .7 .5 .6-.4 .4 .7 .9-.2 1.7-1.8 1.1 1.8-.6 .4 .1 .6 1.4 1.6 1 .3 1.2 2.1 1.2 1.1-.1 1.9 2.7 4.3 .4-.1 .6 1.2 1 .6-.1 1 2.3 3 .2 .9 1.6 1.1 2 3.8 1.9 2.6-.7 .6 1 1 .4 2 2.4 3 1.7 4 1.3 1.2 .4-.5 .6 .7 1.3 3 9 15 4.7 5.9 1.4 1.1 5.1 5.6 1.4 2-.2 .4 4 5 10.2 8.6 1.3 .4-2-2 .2-.3 6 3.9 7 3.3 10 3.4 8 2.1 19 4 19.6 2.6 0 7.6zM536.8 317.8l0-.4 0 .4zM530.2 323.9l0-2.1 .6-1.5 .4-.2 0 2.1-1 1.7zM544.8 320.8l0 .3 0-.3zM548 322.8l-.1-1-.7-.6 0 1 .8 .6zM528.8 327.2l0-.9 0 .9zM530.4 326.8l-.4 0 .2 .3 .2-.3zM553.8 327l0-.4 0 .4zM554.2 328.4l-.4-.6 .4-.3 .4 .7-.4 .2zM523.2 334.1l0-2.9 .6-2-.2 4.6-.4 .3zM526.8 329.9l-.5-.1 .5-.2 0 .3zM525.8 331.7l0-1.7 .3 .2-.3 1.5zM522.2 340.2l0-.5 0 .5zM565.8 346.9l0-.6 0 .6zM571.8 357.5l0-.4 0 .4zM537.4 381.2l-.2 .3 .2-.3zM537 382.8l.2-.6-.4-.2 0 1.1 .2-.3zM536.8 384.9l-.3-.1 .3 .1zM552.2 384.8l-.3 0 .3 0zM579.8 412.4l0-.4 .3 .2-.3 .2zM580.2 412.9l0-.4 0 .4z"/>
<path fill-opacity="0.234" fill-rule="evenodd" d="M535.8 319.8l-.6 .3 0-.8 .6 .5zM536.8 322.9l-.5-.7 .5-1.2 .6 1.2-.6 .7zM539.8 322.9l0-1.3 1.4-.1 .4 .7-.8-.3-1 1zM543.2 323l-.4-.2 .4-1.1 .5 1.1-.5 .2zM678.8 429.8l-60.1-.6-7.5-.4-7.4-1.9-7.7-3.1-6.3-4-3.1-2.6-8.7-8-1.2-3-6-8.8-10.4-7.6-.8-1-.1-1-2.7-2.5-1.6-.5-1-1 0-.8-.9 .2-.7-.4 .2-.6-1.1 0-3.9-2.6-1 1.2-3-1.1-1 .4-3.6-.7-2 .6-.4 .8-1.5 3.4-2.1 7.8-.4-1 .1 2.2-1.8 4.6 0 1.4-.6 .6 .3 .8 .4-.7 .4 .9-4.6 15-.8 4.9-2.1 5.1 .2 1-1.3 2-1.2 .4-7.6 .6 0-48.7 .6 4.2 1-8 .4 .7 4.5-23.2 1.1 0 0-2.6 .4 1.7 3-15.7 .6-.9 .3 1.9-.3 1.6 1.2-2.6 0-2 1.1-2 .7-2.9 .7-.1 .7-1.8 .6 .3 1.4-1.9 1.4 .4-.8 .8-.6-.1 .3 .9 .3 .2 .4-.6 1.3 .8 1.2-3.4 .5 .6 1.2-1.2-.3-2 .1-1.2 .6-.2 1 .2 1 1 .4-1 .6 .2 .4 1.6 .6 0 0-2.2 1.4 .8 1-1.2 .2 1 1.4 2.3 1-.3 .4 .7 .4-.7-.3-1 .5-.1 .3 .1-.2 1 .9 .8 1.4-.4 1.7 3.2 .7 .4 .6 2 .6 0 3.6 4 .9 1.6-.5 1 .4-.5 2 2.8 .2 1.7 1.5 2 .7 2 1.4 1.4 .2 1 1.6 2.6 1.4 1.1 3.7 6.9 .7 3 1.6 3.1 1 1 .5-.1 .1-1.4 1.4 1.7-.3 .7 .3 .4 .6-.2 .6 .8-.1 1.4 2 2 5.7 9.6 7.8 10.4 4 3.7 1.4 .8 6 6.5 1.6 1.1 7 3.5 12.4 4.7 10 3.1 20.6 4.5 22.8 3.1 .2 7.6zM547.2 324.2l0-1.1 0 1.1zM532.8 327.5l-1.2-1.7 .8-1 1.4-.2 .3 1.2 .7 .4-1 1-1 .3zM533.6 325.8l-.4-.4-.4 .4 .8 0zM540.6 326.2l-.4-.6 0 .8 .4-.2zM538 327.2l-.2-.3 0 .6 .2-.3zM549.8 328.2l0-.6-.6 0 .6 .6zM530.8 329.1l-.6-.4 1 .1-.4 .3zM529.2 330.5l0-1.4 0 1.4zM550.4 329.2l-.2-.4 0 .9 .2-.5zM535.4 330.8l-.4 0 .2 .3 .2-.3zM530.3 331.8l-.1-.8 .1 .8zM529.4 335.2l.5-1-.1-1.1-.7 1.1-.1 1 .4 0zM556.1 336.2l-.3-.6 0 .9 .3-.3zM557.3 336.8l-.5-1.1-.4 .1 .9 1zM524.8 336.7l0-.7 0 .7zM524.2 338l0-.5 0 .5zM567.9 355.2l-.1 .4 .1-.4zM572.8 362.1l0-.5 0 .5zM574.2 364.4l-1-1.3 0-.7 1.6 1.1 0 .6-.6 .3zM546.4 364.2l.4-.6-1.1 .6 .7 0zM547.5 365.8l-.3-.5-.1 .5 .4 0zM547.7 372.2l.3-.4-.8-.4-.2 .8 .7 0zM549.7 376.8l1.1-.2 .7-.8-.6-.6 .3-.4-.4-.9-1-.5-.8 3.4 .7 0zM550.2 376l-.7-.2 .3-.4 .7 .4-.3 .2zM544.8 377.8l.5-.6-.1-.8-.7 .4 .3 1zM535.3 382.2l-.1-.5 .1 .5zM534.4 383.8l-1.2-.7-.1 .7 .1 .3 1.2-.3zM533.1 385.2l-.3-.4 0 .9 .3-.5zM534.4 385.8l-.4 0 .4 0zM532.7 386.8l-.5-.5 0 .8 .5-.3zM533.9 387.8l-.1-.5-.2 .5 .3 0zM532.4 388.8l-.2-.4 0 .8 .2-.4zM533.4 389.8l-.2-.8 .2 .8zM531.4 392.2l.5-1-.1-1.2-.6 2.6 .2-.4zM531.3 393.8l-.1-1 .1 1zM530.4 396.2l.5-.4-.1-1-.4 1.4zM530.3 397.8l-.1-.9 .1 .9zM529.8 398.8l0 .4 0-.4zM531.8 399.7l-.4-.9 .4-.3 0 1.2zM530.3 402.2l-.1-1.1 .1 1.1zM529.9 403.2l-.1-.3 0 .8 .1-.5zM577.8 405.8l-.6-.6 .6 .9 0-.3zM579.4 407.8l-1.2-1.4-.1 .4 1.3 1zM526.8 419.3l-.5-.1 .5-.3 0 .4z"/>
</g>
<rect x="510.4" y="384.5" width="7.4" height="44.7" class="bo"/>
<rect x="521.4" y="384.5" width="7.4" height="44.7" class="bo"/>
<rect x="532.4" y="384.5" width="7.4" height="44.7" class="bo"/>
<rect x="543.4" y="295.1" width="7.4" height="134.1" class="bo"/>
<rect x="554.4" y="384.5" width="7.4" height="44.7" class="bo"/>
<rect x="576.4" y="384.5" width="7.4" height="44.7" class="bo"/>
<rect x="587.3" y="384.5" width="7.4" height="44.7" class="bo"/>
<rect x="598.3" y="384.5" width="7.4" height="44.7" class="bo"/>
<path d="M505.5 252.2V435.2M504.9 434.6H685" class="ax"/>
<path d="M501.8 429.2H505.5" class="tk"/>
<text x="497.2" y="433.2" class="tl" text-anchor="end">0</text>
<path d="M501.8 384.5H505.5" class="tk"/>
<text x="497.2" y="388.5" class="tl" text-anchor="end">0.1</text>
<path d="M501.8 339.8H505.5" class="tk"/>
<text x="497.2" y="343.8" class="tl" text-anchor="end">0.2</text>
<path d="M501.8 295.1H505.5" class="tk"/>
<text x="497.2" y="299.1" class="tl" text-anchor="end">0.3</text>
<path d="M514.1 435.2v3.1" class="tk"/>
<text x="514.1" y="450.5" class="tl" text-anchor="middle">0</text>
<path d="M525.1 435.2v3.1" class="tk"/>
<path d="M536.1 435.2v3.1" class="tk"/>
<text x="536.1" y="450.5" class="tl" text-anchor="middle">2</text>
<path d="M547.1 435.2v3.1" class="tk"/>
<path d="M558.1 435.2v3.1" class="tk"/>
<text x="558.1" y="450.5" class="tl" text-anchor="middle">4</text>
<path d="M569.1 435.2v3.1" class="tk"/>
<path d="M580.0 435.2v3.1" class="tk"/>
<text x="580.0" y="450.5" class="tl" text-anchor="middle">6</text>
<path d="M591.0 435.2v3.1" class="tk"/>
<path d="M602.0 435.2v3.1" class="tk"/>
<text x="602.0" y="450.5" class="tl" text-anchor="middle">8</text>
<path d="M613.0 435.2v3.1" class="tk"/>
<path d="M624.0 435.2v3.1" class="tk"/>
<text x="624.0" y="450.5" class="tl" text-anchor="middle">10</text>
<path d="M635.0 435.2v3.1" class="tk"/>
<path d="M646.0 435.2v3.1" class="tk"/>
<text x="646.0" y="450.5" class="tl" text-anchor="middle">12</text>
<path d="M657.0 435.2v3.1" class="tk"/>
<path d="M668.0 435.2v3.1" class="tk"/>
<text x="668.0" y="450.5" class="tl" text-anchor="middle">14</text>
<path d="M679.0 435.2v3.1" class="tk"/>
<text x="595.3" y="467" class="al" text-anchor="middle">Days from</text>
<text x="595.3" y="476.5" class="al" text-anchor="middle">detectable virus to death</text>
<text transform="translate(474.5,343.4) rotate(-90)" class="al" text-anchor="middle">Density/normalized count</text>
<text x="468.4" y="254.6" class="pl" font-size="15.5">e</text>
</svg></body></html>
